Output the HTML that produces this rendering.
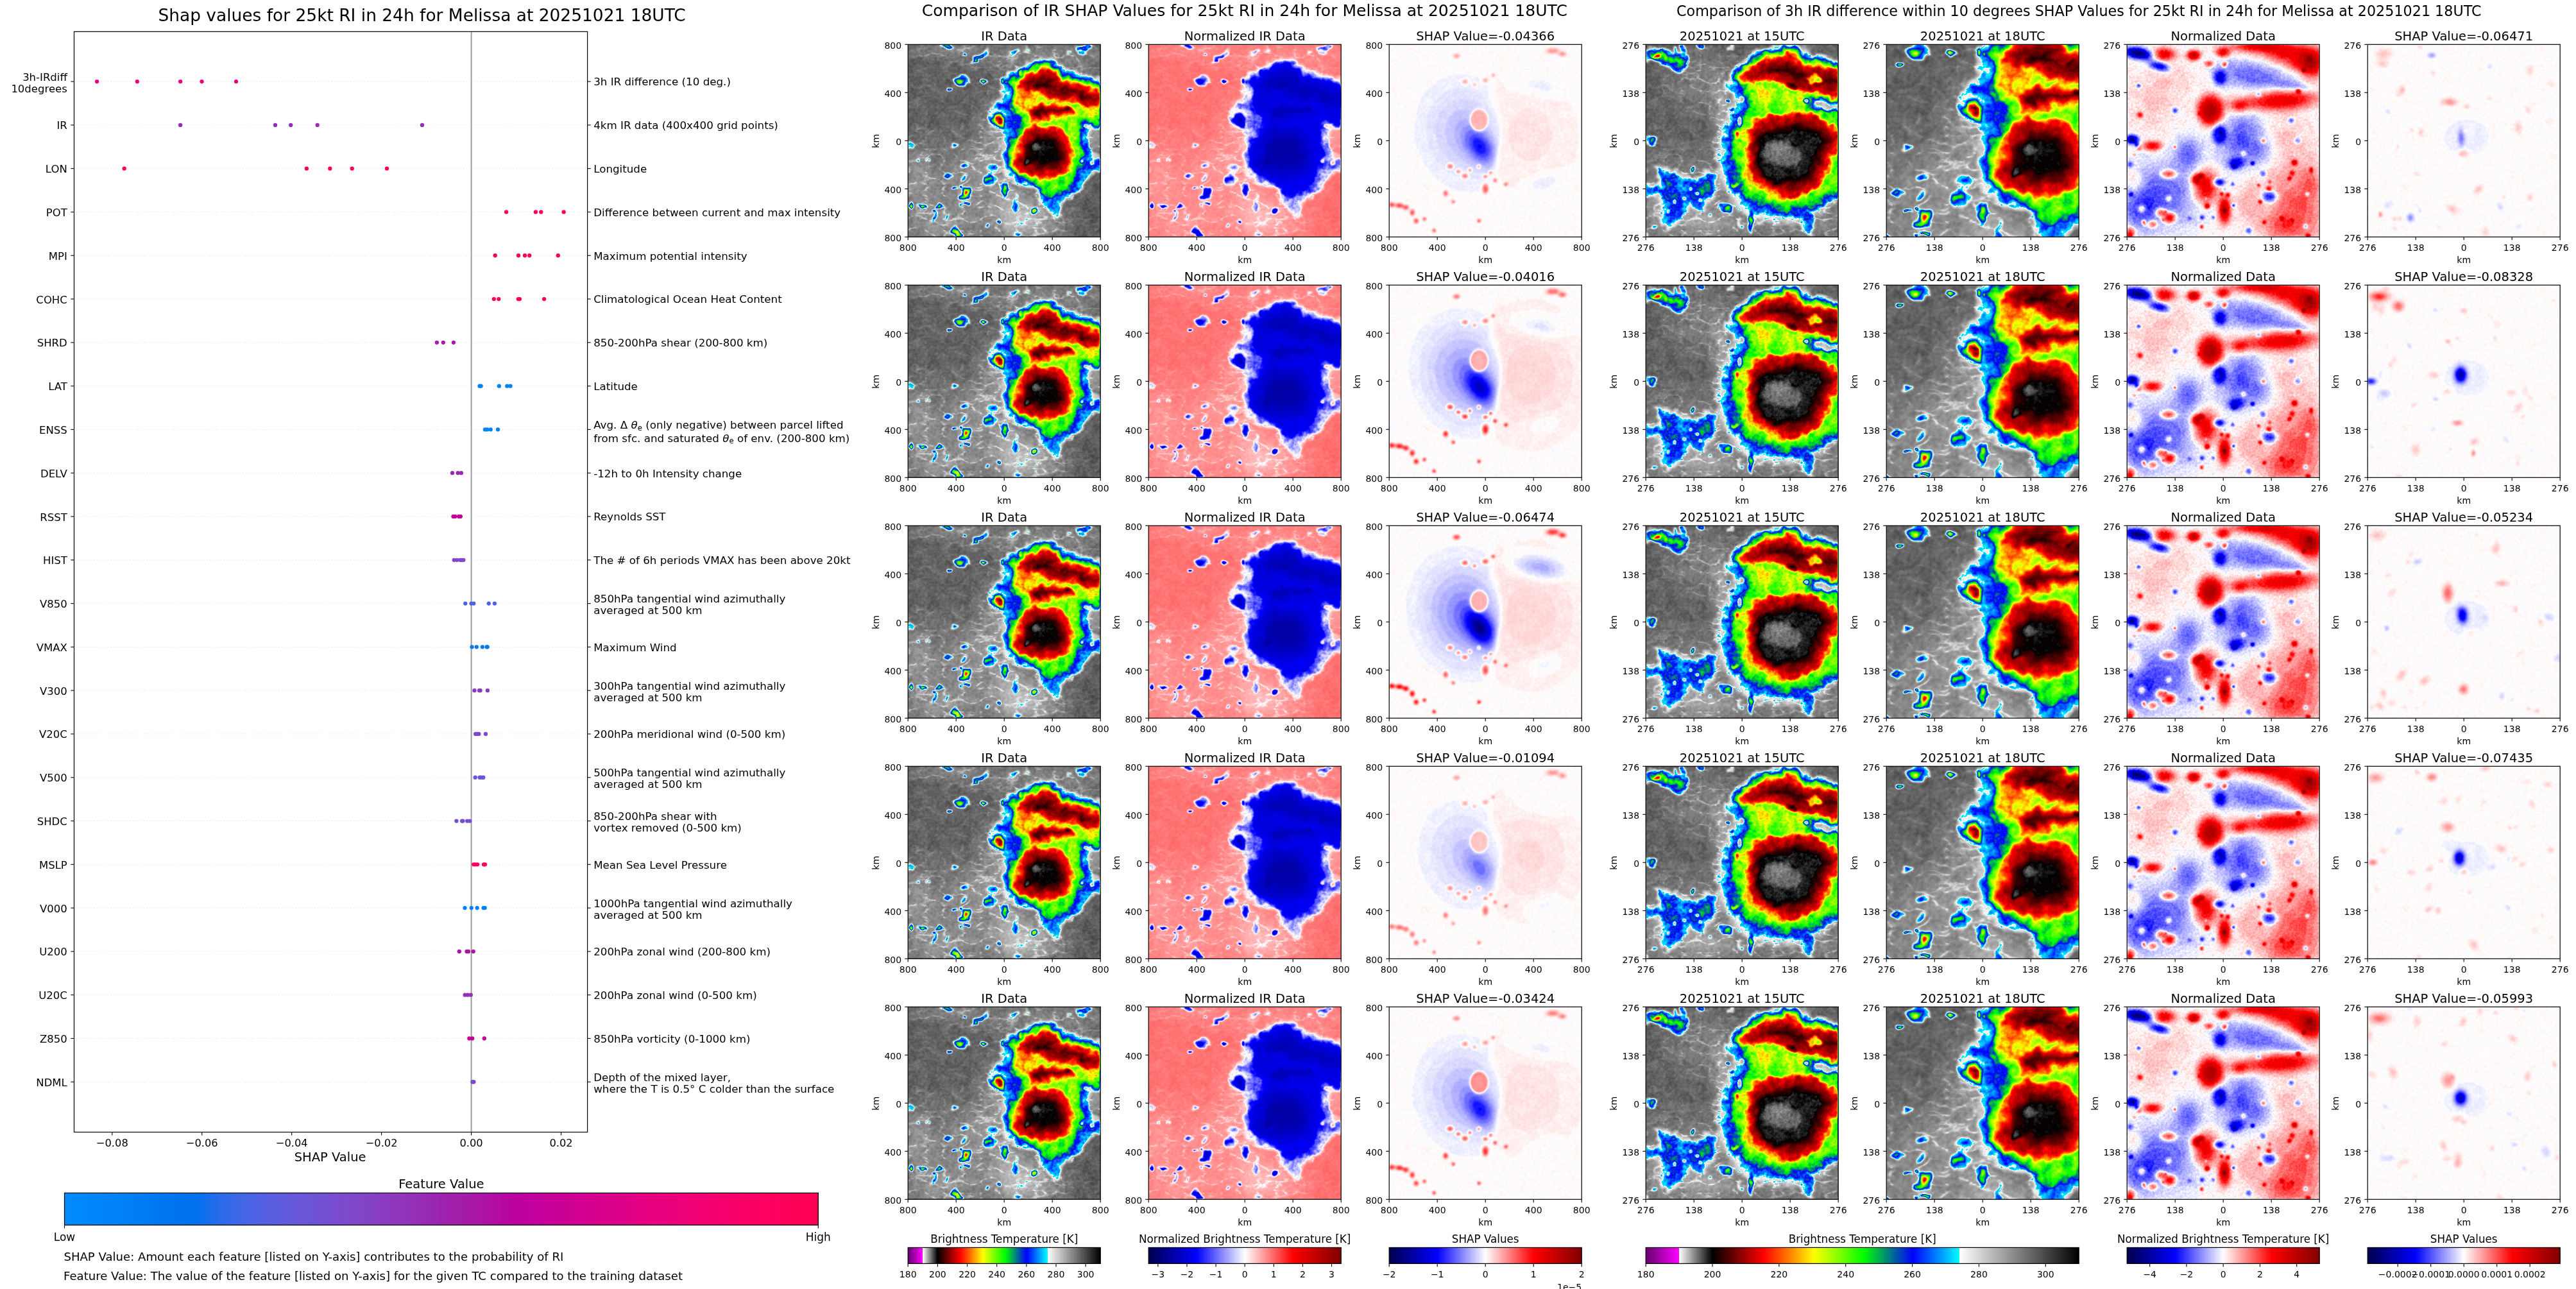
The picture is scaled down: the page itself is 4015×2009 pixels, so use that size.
<!DOCTYPE html>
<html><head><meta charset="utf-8"><title>SHAP RI Melissa</title><style>html,body{margin:0;padding:0;background:#fff;overflow:hidden}svg{display:block}</style></head><body><svg xmlns="http://www.w3.org/2000/svg" width="4015" height="2009" viewBox="0 0 4015 2009" font-family="DejaVu Sans, Liberation Sans, sans-serif" fill="#000" style="will-change:transform">
<defs>
<linearGradient id="irg" x1="0" x2="1" y1="0" y2="0"><stop offset="0.0" stop-color="rgb(100, 0, 110)"/><stop offset="0.0766" stop-color="rgb(255, 0, 255)"/><stop offset="0.0767" stop-color="rgb(255, 255, 255)"/><stop offset="0.1538" stop-color="rgb(0, 0, 0)"/><stop offset="0.272" stop-color="rgb(255, 0, 0)"/><stop offset="0.332" stop-color="rgb(255, 128, 0)"/><stop offset="0.389" stop-color="rgb(255, 255, 0)"/><stop offset="0.504" stop-color="rgb(0, 255, 0)"/><stop offset="0.617" stop-color="rgb(0, 0, 255)"/><stop offset="0.7245" stop-color="rgb(0, 255, 255)"/><stop offset="0.7246" stop-color="rgb(255, 255, 255)"/><stop offset="1.0" stop-color="rgb(0, 0, 0)"/></linearGradient>
<linearGradient id="seis" x1="0" x2="1" y1="0" y2="0"><stop offset="0.000" stop-color="#00004c"/><stop offset="0.250" stop-color="#0000ff"/><stop offset="0.500" stop-color="#ffffff"/><stop offset="0.750" stop-color="#ff0000"/><stop offset="1.000" stop-color="#800000"/></linearGradient>
<clipPath id="c300"><rect width="300" height="300"/></clipPath>
<filter id="fIR" filterUnits="userSpaceOnUse" x="0" y="0" width="300" height="300" color-interpolation-filters="sRGB"><feGaussianBlur in="SourceGraphic" stdDeviation="0.8" result="b"/><feTurbulence type="fractalNoise" baseFrequency="0.22" numOctaves="2" seed="2" result="n"/><feColorMatrix in="n" type="matrix" values="1 0 0 0 0 1 0 0 0 0 1 0 0 0 0 0 0 0 0 1" result="n1"/><feTurbulence type="fractalNoise" baseFrequency="0.06" numOctaves="3" seed="7" result="m"/><feColorMatrix in="m" type="matrix" values="1 0 0 0 0 1 0 0 0 0 1 0 0 0 0 0 0 0 0 1" result="m1"/><feComponentTransfer in="b" result="M"><feFuncR type="table" tableValues="0.20 0.20 0.21 0.21 0.22 0.22 0.22 0.23 0.23 0.24 0.24 0.24 0.25 0.28 0.37 0.46 0.55 0.63 0.72 0.80 0.84 0.88 0.92 0.96 1.00 1.00 1.00 1.00 1.00 1.00 1.00 1.00 1.00 1.00 1.00 1.00 1.00 1.00 1.00 1.00 1.00 1.00 1.00 1.00 1.00 1.00 0.92 0.78 0.65 0.52 0.50 0.49 0.49 0.49 0.48 0.48 0.48 0.47 0.47 0.46 0.46 0.46 0.45 0.45"/><feFuncG type="table" tableValues="0.20 0.20 0.21 0.21 0.22 0.22 0.22 0.23 0.23 0.24 0.24 0.24 0.25 0.28 0.37 0.46 0.55 0.63 0.72 0.80 0.84 0.88 0.92 0.96 1.00 1.00 1.00 1.00 1.00 1.00 1.00 1.00 1.00 1.00 1.00 1.00 1.00 1.00 1.00 1.00 1.00 1.00 1.00 1.00 1.00 1.00 0.92 0.78 0.65 0.52 0.50 0.49 0.49 0.49 0.48 0.48 0.48 0.47 0.47 0.46 0.46 0.46 0.45 0.45"/><feFuncB type="table" tableValues="0.20 0.20 0.21 0.21 0.22 0.22 0.22 0.23 0.23 0.24 0.24 0.24 0.25 0.28 0.37 0.46 0.55 0.63 0.72 0.80 0.84 0.88 0.92 0.96 1.00 1.00 1.00 1.00 1.00 1.00 1.00 1.00 1.00 1.00 1.00 1.00 1.00 1.00 1.00 1.00 1.00 1.00 1.00 1.00 1.00 1.00 0.92 0.78 0.65 0.52 0.50 0.49 0.49 0.49 0.48 0.48 0.48 0.47 0.47 0.46 0.46 0.46 0.45 0.45"/></feComponentTransfer><feComposite in="n1" in2="M" operator="arithmetic" k1="0.1" k2="0" k3="-0.05" k4="0.5" result="nm"/><feComposite in="m1" in2="M" operator="arithmetic" k1="0.1" k2="0" k3="-0.05" k4="0.5" result="mm"/><feComposite in="b" in2="nm" operator="arithmetic" k1="0" k2="1" k3="1" k4="-0.5" result="c"/><feComposite in="c" in2="mm" operator="arithmetic" k1="0" k2="1" k3="1" k4="-0.5" result="c2"/><feTurbulence type="turbulence" baseFrequency="0.035 0.055" numOctaves="3" seed="11" result="w"/><feColorMatrix in="w" type="matrix" values="1 0 0 0 0 1 0 0 0 0 1 0 0 0 0 0 0 0 0 1" result="w1"/><feComponentTransfer in="w1" result="R"><feFuncR type="table" tableValues="0.00 0.25 0.65 0.90 1.00 1.00 1.00 1.00 1.00 1.00 1.00 1.00 1.00 1.00 1.00 1.00"/><feFuncG type="table" tableValues="0.00 0.25 0.65 0.90 1.00 1.00 1.00 1.00 1.00 1.00 1.00 1.00 1.00 1.00 1.00 1.00"/><feFuncB type="table" tableValues="0.00 0.25 0.65 0.90 1.00 1.00 1.00 1.00 1.00 1.00 1.00 1.00 1.00 1.00 1.00 1.00"/></feComponentTransfer><feComponentTransfer in="b" result="MB"><feFuncR type="table" tableValues="0.00 0.00 0.00 0.00 0.00 0.00 0.00 0.00 0.00 0.00 0.00 0.00 0.00 0.00 0.00 0.00 0.00 0.00 0.00 0.00 0.00 0.00 0.00 0.00 0.00 0.00 0.00 0.00 0.00 0.00 0.00 0.00 0.00 0.00 0.00 0.00 0.00 0.00 0.00 0.00 0.00 0.00 0.00 0.00 0.00 0.00 0.00 0.44 1.00 0.98 0.96 0.94 0.93 0.91 0.76 0.44 0.20 0.19 0.18 0.18 0.17 0.16 0.16 0.15"/><feFuncG type="table" tableValues="0.00 0.00 0.00 0.00 0.00 0.00 0.00 0.00 0.00 0.00 0.00 0.00 0.00 0.00 0.00 0.00 0.00 0.00 0.00 0.00 0.00 0.00 0.00 0.00 0.00 0.00 0.00 0.00 0.00 0.00 0.00 0.00 0.00 0.00 0.00 0.00 0.00 0.00 0.00 0.00 0.00 0.00 0.00 0.00 0.00 0.00 0.00 0.44 1.00 0.98 0.96 0.94 0.93 0.91 0.76 0.44 0.20 0.19 0.18 0.18 0.17 0.16 0.16 0.15"/><feFuncB type="table" tableValues="0.00 0.00 0.00 0.00 0.00 0.00 0.00 0.00 0.00 0.00 0.00 0.00 0.00 0.00 0.00 0.00 0.00 0.00 0.00 0.00 0.00 0.00 0.00 0.00 0.00 0.00 0.00 0.00 0.00 0.00 0.00 0.00 0.00 0.00 0.00 0.00 0.00 0.00 0.00 0.00 0.00 0.00 0.00 0.00 0.00 0.00 0.00 0.44 1.00 0.98 0.96 0.94 0.93 0.91 0.76 0.44 0.20 0.19 0.18 0.18 0.17 0.16 0.16 0.15"/></feComponentTransfer><feComposite in="R" in2="MB" operator="arithmetic" k1="1" k2="0" k3="-1" k4="1" result="RM"/><feComposite in="c2" in2="RM" operator="arithmetic" k1="0" k2="1" k3="0.1" k4="-0.1" result="c3"/><feComponentTransfer in="c3"><feFuncR type="table" tableValues="0.392 0.423 0.454 0.485 0.516 0.547 0.578 0.609 0.64 0.673 0.704 0.735 0.766 0.797 0.828 0.859 0.89 0.921 0.952 0.983 0.978 0.927 0.877 0.826 0.775 0.725 0.671 0.62 0.57 0.519 0.468 0.417 0.367 0.316 0.265 0.215 0.164 0.113 0.063 0.012 0.025 0.058 0.091 0.126 0.159 0.193 0.226 0.259 0.292 0.325 0.358 0.391 0.424 0.457 0.49 0.523 0.556 0.589 0.622 0.655 0.69 0.723 0.757 0.79 0.823 0.856 0.889 0.922 0.955 0.988 1 1 1 1 1 1 1 1 1 1 1 1 1 1 1 1 1 1 1 1 1 1 1 1 1 1 1 1 1 1 0.972 0.938 0.904 0.87 0.836 0.802 0.768 0.734 0.7 0.667 0.633 0.596 0.562 0.528 0.495 0.461 0.427 0.393 0.359 0.325 0.291 0.257 0.223 0.189 0.155 0.121 0.087 0.053 0.017 0 0 0 0 0 0 0 0 0 0 0 0 0 0 0 0 0 0 0 0 0 0 0 0 0 0 0 0 0 0 0 0 0 0 0 0 0 0 0 0 0 0 0 0 0 0 0 0 0 0 0 0 0 0 0 0 0.997 0.982 0.968 0.954 0.94 0.926 0.912 0.897 0.883 0.869 0.855 0.84 0.826 0.811 0.797 0.783 0.769 0.755 0.74 0.726 0.712 0.698 0.684 0.669 0.655 0.641 0.627 0.613 0.598 0.583 0.569 0.555 0.541 0.527 0.513 0.498 0.484 0.47 0.456 0.442 0.427 0.413 0.399 0.385 0.371 0.356 0.341 0.327 0.313 0.299 0.285 0.27 0.256 0.242 0.228 0.214 0.2 0.185 0.171 0.157 0.143 0.129 0.113 0.099 0.085 0.071 0.057 0.043 0.028 0.014 0"/><feFuncG type="table" tableValues="0 0 0 0 0 0 0 0 0 0 0 0 0 0 0 0 0 0 0 0 0.978 0.927 0.877 0.826 0.775 0.725 0.671 0.62 0.57 0.519 0.468 0.417 0.367 0.316 0.265 0.215 0.164 0.113 0.063 0.012 0 0 0 0 0 0 0 0 0 0 0 0 0 0 0 0 0 0 0 0 0 0 0 0 0 0 0 0 0 0 0.021 0.053 0.086 0.119 0.152 0.184 0.217 0.252 0.284 0.317 0.35 0.382 0.415 0.448 0.48 0.514 0.548 0.582 0.616 0.65 0.684 0.718 0.753 0.787 0.823 0.857 0.891 0.925 0.96 0.994 1 1 1 1 1 1 1 1 1 1 1 1 1 1 1 1 1 1 1 1 1 1 1 1 1 1 1 1 1 0.982 0.948 0.913 0.879 0.844 0.81 0.775 0.74 0.706 0.671 0.637 0.602 0.568 0.533 0.498 0.464 0.427 0.392 0.358 0.323 0.289 0.254 0.22 0.185 0.15 0.116 0.081 0.047 0.012 0.024 0.06 0.096 0.133 0.171 0.208 0.244 0.28 0.317 0.353 0.389 0.426 0.462 0.498 0.535 0.571 0.607 0.644 0.68 0.716 0.753 0.791 0.828 0.864 0.9 0.937 0.973 0.997 0.982 0.968 0.954 0.94 0.926 0.912 0.897 0.883 0.869 0.855 0.84 0.826 0.811 0.797 0.783 0.769 0.755 0.74 0.726 0.712 0.698 0.684 0.669 0.655 0.641 0.627 0.613 0.598 0.583 0.569 0.555 0.541 0.527 0.513 0.498 0.484 0.47 0.456 0.442 0.427 0.413 0.399 0.385 0.371 0.356 0.341 0.327 0.313 0.299 0.285 0.27 0.256 0.242 0.228 0.214 0.2 0.185 0.171 0.157 0.143 0.129 0.113 0.099 0.085 0.071 0.057 0.043 0.028 0.014 0"/><feFuncB type="table" tableValues="0.431 0.46 0.489 0.518 0.547 0.576 0.605 0.634 0.663 0.694 0.723 0.752 0.781 0.81 0.839 0.868 0.897 0.926 0.955 0.984 0.978 0.927 0.877 0.826 0.775 0.725 0.671 0.62 0.57 0.519 0.468 0.417 0.367 0.316 0.265 0.215 0.164 0.113 0.063 0.012 0 0 0 0 0 0 0 0 0 0 0 0 0 0 0 0 0 0 0 0 0 0 0 0 0 0 0 0 0 0 0 0 0 0 0 0 0 0 0 0 0 0 0 0 0 0 0 0 0 0 0 0 0 0 0 0 0 0 0 0 0 0 0 0 0 0 0 0 0 0 0 0 0 0 0 0 0 0 0 0 0 0 0 0 0 0 0 0 0 0.018 0.052 0.087 0.121 0.156 0.19 0.225 0.26 0.294 0.329 0.363 0.398 0.432 0.467 0.502 0.536 0.573 0.608 0.642 0.677 0.711 0.746 0.78 0.815 0.85 0.884 0.919 0.953 0.988 1 1 1 1 1 1 1 1 1 1 1 1 1 1 1 1 1 1 1 1 1 1 1 1 1 1 1 0.997 0.982 0.968 0.954 0.94 0.926 0.912 0.897 0.883 0.869 0.855 0.84 0.826 0.811 0.797 0.783 0.769 0.755 0.74 0.726 0.712 0.698 0.684 0.669 0.655 0.641 0.627 0.613 0.598 0.583 0.569 0.555 0.541 0.527 0.513 0.498 0.484 0.47 0.456 0.442 0.427 0.413 0.399 0.385 0.371 0.356 0.341 0.327 0.313 0.299 0.285 0.27 0.256 0.242 0.228 0.214 0.2 0.185 0.171 0.157 0.143 0.129 0.113 0.099 0.085 0.071 0.057 0.043 0.028 0.014 0"/></feComponentTransfer></filter>
<filter id="fNIR" filterUnits="userSpaceOnUse" x="0" y="0" width="300" height="300" color-interpolation-filters="sRGB"><feGaussianBlur in="SourceGraphic" stdDeviation="0.8" result="b"/><feTurbulence type="fractalNoise" baseFrequency="0.22" numOctaves="2" seed="2" result="n"/><feColorMatrix in="n" type="matrix" values="1 0 0 0 0 1 0 0 0 0 1 0 0 0 0 0 0 0 0 1" result="n1"/><feTurbulence type="fractalNoise" baseFrequency="0.06" numOctaves="3" seed="7" result="m"/><feColorMatrix in="m" type="matrix" values="1 0 0 0 0 1 0 0 0 0 1 0 0 0 0 0 0 0 0 1" result="m1"/><feComponentTransfer in="b" result="M"><feFuncR type="table" tableValues="0.20 0.20 0.21 0.21 0.22 0.22 0.22 0.23 0.23 0.24 0.24 0.24 0.25 0.28 0.37 0.46 0.55 0.63 0.72 0.80 0.84 0.88 0.92 0.96 1.00 1.00 1.00 1.00 1.00 1.00 1.00 1.00 1.00 1.00 1.00 1.00 1.00 1.00 1.00 1.00 1.00 1.00 1.00 1.00 1.00 1.00 0.92 0.78 0.65 0.52 0.50 0.49 0.49 0.49 0.48 0.48 0.48 0.47 0.47 0.46 0.46 0.46 0.45 0.45"/><feFuncG type="table" tableValues="0.20 0.20 0.21 0.21 0.22 0.22 0.22 0.23 0.23 0.24 0.24 0.24 0.25 0.28 0.37 0.46 0.55 0.63 0.72 0.80 0.84 0.88 0.92 0.96 1.00 1.00 1.00 1.00 1.00 1.00 1.00 1.00 1.00 1.00 1.00 1.00 1.00 1.00 1.00 1.00 1.00 1.00 1.00 1.00 1.00 1.00 0.92 0.78 0.65 0.52 0.50 0.49 0.49 0.49 0.48 0.48 0.48 0.47 0.47 0.46 0.46 0.46 0.45 0.45"/><feFuncB type="table" tableValues="0.20 0.20 0.21 0.21 0.22 0.22 0.22 0.23 0.23 0.24 0.24 0.24 0.25 0.28 0.37 0.46 0.55 0.63 0.72 0.80 0.84 0.88 0.92 0.96 1.00 1.00 1.00 1.00 1.00 1.00 1.00 1.00 1.00 1.00 1.00 1.00 1.00 1.00 1.00 1.00 1.00 1.00 1.00 1.00 1.00 1.00 0.92 0.78 0.65 0.52 0.50 0.49 0.49 0.49 0.48 0.48 0.48 0.47 0.47 0.46 0.46 0.46 0.45 0.45"/></feComponentTransfer><feComposite in="n1" in2="M" operator="arithmetic" k1="0.1" k2="0" k3="-0.05" k4="0.5" result="nm"/><feComposite in="m1" in2="M" operator="arithmetic" k1="0.1" k2="0" k3="-0.05" k4="0.5" result="mm"/><feComposite in="b" in2="nm" operator="arithmetic" k1="0" k2="1" k3="1" k4="-0.5" result="c"/><feComposite in="c" in2="mm" operator="arithmetic" k1="0" k2="1" k3="1" k4="-0.5" result="c2"/><feTurbulence type="turbulence" baseFrequency="0.035 0.055" numOctaves="3" seed="11" result="w"/><feColorMatrix in="w" type="matrix" values="1 0 0 0 0 1 0 0 0 0 1 0 0 0 0 0 0 0 0 1" result="w1"/><feComponentTransfer in="w1" result="R"><feFuncR type="table" tableValues="0.00 0.25 0.65 0.90 1.00 1.00 1.00 1.00 1.00 1.00 1.00 1.00 1.00 1.00 1.00 1.00"/><feFuncG type="table" tableValues="0.00 0.25 0.65 0.90 1.00 1.00 1.00 1.00 1.00 1.00 1.00 1.00 1.00 1.00 1.00 1.00"/><feFuncB type="table" tableValues="0.00 0.25 0.65 0.90 1.00 1.00 1.00 1.00 1.00 1.00 1.00 1.00 1.00 1.00 1.00 1.00"/></feComponentTransfer><feComponentTransfer in="b" result="MB"><feFuncR type="table" tableValues="0.00 0.00 0.00 0.00 0.00 0.00 0.00 0.00 0.00 0.00 0.00 0.00 0.00 0.00 0.00 0.00 0.00 0.00 0.00 0.00 0.00 0.00 0.00 0.00 0.00 0.00 0.00 0.00 0.00 0.00 0.00 0.00 0.00 0.00 0.00 0.00 0.00 0.00 0.00 0.00 0.00 0.00 0.00 0.00 0.00 0.00 0.00 0.44 1.00 0.98 0.96 0.94 0.93 0.91 0.76 0.44 0.20 0.19 0.18 0.18 0.17 0.16 0.16 0.15"/><feFuncG type="table" tableValues="0.00 0.00 0.00 0.00 0.00 0.00 0.00 0.00 0.00 0.00 0.00 0.00 0.00 0.00 0.00 0.00 0.00 0.00 0.00 0.00 0.00 0.00 0.00 0.00 0.00 0.00 0.00 0.00 0.00 0.00 0.00 0.00 0.00 0.00 0.00 0.00 0.00 0.00 0.00 0.00 0.00 0.00 0.00 0.00 0.00 0.00 0.00 0.44 1.00 0.98 0.96 0.94 0.93 0.91 0.76 0.44 0.20 0.19 0.18 0.18 0.17 0.16 0.16 0.15"/><feFuncB type="table" tableValues="0.00 0.00 0.00 0.00 0.00 0.00 0.00 0.00 0.00 0.00 0.00 0.00 0.00 0.00 0.00 0.00 0.00 0.00 0.00 0.00 0.00 0.00 0.00 0.00 0.00 0.00 0.00 0.00 0.00 0.00 0.00 0.00 0.00 0.00 0.00 0.00 0.00 0.00 0.00 0.00 0.00 0.00 0.00 0.00 0.00 0.00 0.00 0.44 1.00 0.98 0.96 0.94 0.93 0.91 0.76 0.44 0.20 0.19 0.18 0.18 0.17 0.16 0.16 0.15"/></feComponentTransfer><feComposite in="R" in2="MB" operator="arithmetic" k1="1" k2="0" k3="-1" k4="1" result="RM"/><feComposite in="c2" in2="RM" operator="arithmetic" k1="0" k2="1" k3="0.1" k4="-0.1" result="c3"/><feComponentTransfer in="c3"><feFuncR type="table" tableValues="0 0 0 0 0 0 0 0 0 0 0 0 0 0 0 0 0 0 0 0 0 0 0 0 0 0 0 0 0 0 0 0 0 0 0 0 0 0 0 0 0 0 0 0 0 0 0 0 0 0 0 0 0 0 0 0 0 0 0 0 0 0 0 0 0 0 0 0 0 0 0 0 0 0 0 0 0 0 0 0 0 0 0 0 0 0 0 0 0 0 0 0 0 0 0 0 0 0 0 0 0 0 0 0 0 0 0 0 0 0 0 0 0 0 0 0 0 0 0 0 0 0 0 0 0 0 0 0 0 0 0 0 0 0 0 0 0.009 0.019 0.03 0.04 0.051 0.061 0.072 0.084 0.102 0.12 0.139 0.157 0.175 0.193 0.212 0.23 0.248 0.267 0.285 0.303 0.322 0.34 0.358 0.384 0.41 0.436 0.462 0.488 0.514 0.54 0.567 0.593 0.619 0.645 0.671 0.697 0.723 0.75 0.773 0.793 0.814 0.835 0.856 0.877 0.898 0.919 0.94 0.961 0.982 1 1 1 1 1 1 1 1 1 1 1 1 1 1 1 1 1 1 1 1 1 1 1 1 1 1 1 1 1 1 1 1 1 1 1 1 1 1 1 1 1 1 1 1 1 1 1 1 1 1 1 1 1 1 1 1 1 1 1 1 1 1 1 1 1 1 1 1 1 1 1"/><feFuncG type="table" tableValues="0 0 0 0 0 0 0 0 0 0 0 0 0 0 0 0 0 0 0 0 0 0 0 0 0 0 0 0 0 0 0 0 0 0 0 0 0 0 0 0 0 0 0 0 0 0 0 0 0 0 0 0 0 0 0 0 0 0 0 0 0 0 0 0 0 0 0 0 0 0 0 0 0 0 0 0 0 0 0 0 0 0 0 0 0 0 0 0 0 0 0 0 0 0 0 0 0 0 0 0 0 0 0 0 0 0 0 0 0 0 0 0 0 0 0 0 0 0 0 0 0 0 0 0 0 0 0 0 0 0 0 0 0 0 0 0 0.009 0.019 0.03 0.04 0.051 0.061 0.072 0.084 0.102 0.12 0.139 0.157 0.175 0.193 0.212 0.23 0.248 0.267 0.285 0.303 0.322 0.34 0.358 0.384 0.41 0.436 0.462 0.488 0.514 0.54 0.567 0.593 0.619 0.645 0.671 0.697 0.723 0.75 0.773 0.793 0.814 0.835 0.856 0.877 0.898 0.919 0.94 0.961 0.982 0.998 0.981 0.964 0.947 0.929 0.912 0.895 0.878 0.861 0.844 0.827 0.81 0.793 0.775 0.759 0.748 0.736 0.725 0.714 0.703 0.692 0.68 0.669 0.658 0.647 0.636 0.624 0.613 0.602 0.591 0.58 0.568 0.558 0.548 0.538 0.528 0.518 0.509 0.499 0.489 0.479 0.469 0.46 0.45 0.441 0.432 0.422 0.413 0.404 0.395 0.385 0.376 0.367 0.358 0.348 0.339 0.33 0.32 0.311 0.302 0.293 0.283 0.274 0.265 0.256 0.246 0.237 0.228 0.219 0.209 0.2"/><feFuncB type="table" tableValues="0.496 0.5 0.504 0.508 0.512 0.517 0.521 0.525 0.529 0.533 0.537 0.541 0.545 0.55 0.554 0.558 0.562 0.566 0.57 0.574 0.578 0.583 0.587 0.592 0.596 0.6 0.605 0.609 0.614 0.618 0.623 0.627 0.632 0.636 0.641 0.645 0.649 0.654 0.658 0.663 0.668 0.674 0.68 0.685 0.691 0.697 0.702 0.708 0.714 0.719 0.725 0.731 0.736 0.742 0.748 0.753 0.759 0.765 0.77 0.776 0.782 0.787 0.793 0.799 0.804 0.81 0.816 0.821 0.827 0.832 0.834 0.836 0.838 0.84 0.841 0.843 0.845 0.847 0.849 0.851 0.852 0.854 0.856 0.858 0.86 0.862 0.863 0.865 0.867 0.869 0.871 0.873 0.874 0.876 0.878 0.88 0.882 0.884 0.885 0.887 0.889 0.891 0.893 0.895 0.897 0.899 0.901 0.903 0.905 0.907 0.909 0.911 0.913 0.915 0.917 0.919 0.921 0.923 0.925 0.927 0.929 0.931 0.933 0.935 0.937 0.939 0.941 0.943 0.948 0.955 0.962 0.97 0.977 0.984 0.992 0.999 1 1 1 1 1 1 1 1 1 1 1 1 1 1 1 1 1 1 1 1 1 1 1 1 1 1 1 1 1 1 1 1 1 1 1 1 1 1 1 1 1 1 1 1 1 1 1 1 1 0.998 0.981 0.964 0.947 0.929 0.912 0.895 0.878 0.861 0.844 0.827 0.81 0.793 0.775 0.759 0.748 0.736 0.725 0.714 0.703 0.692 0.68 0.669 0.658 0.647 0.636 0.624 0.613 0.602 0.591 0.58 0.568 0.558 0.548 0.538 0.528 0.518 0.509 0.499 0.489 0.479 0.469 0.46 0.45 0.441 0.432 0.422 0.413 0.404 0.395 0.385 0.376 0.367 0.358 0.348 0.339 0.33 0.32 0.311 0.302 0.293 0.283 0.274 0.265 0.256 0.246 0.237 0.228 0.219 0.209 0.2"/></feComponentTransfer></filter>
<g id="sIR"><g transform="translate(0.25 0.25) scale(0.5)"><rect x="-4" y="-4" width="608" height="608" fill="#ededed"/><path fill="#e9e9e9" fill-rule="evenodd" d="M0 0l0 599 599 0 0-599z"/><path fill="#e6e6e6" fill-rule="evenodd" d="M0 0l0 599 599 0 0-599z"/><path fill="#e3e3e3" fill-rule="evenodd" d="M0 0l0 599 599 0 0-70-2 1 2 5-6 10-1 6-6 5-12 2-25-15-7-7-5-14 0-6 5-11 6-8 2-11 5-5 7-3 8-1 13 4 11 13 0 7 5 3 0-504z"/><path fill="#e0e0e0" fill-rule="evenodd" d="M120 136l1 7 5 3 11-4 2-3-2-3zM224 114l0 2 11 10 2 0 8-6 4 0 3-2-2-6-14-5-7 1zM180 92l-16 0-10 8-13 6-3 5 6 12 12 9 18 0 6-2 6-8 8-1 0-13zM0 0l0 46 2 0 7-7 3 0 6 4 18-2 11 6 7 0 7-3 5 0 7 4 13 0 11 6 12-1 3 3 0 3 3 4 16-1 9-7 6 0 8 3 4 5 11 3 8 8 15 1 7 6 7 3 11 1 2-3-3-3 0-3 4-1 4 4 10 3 12 9 10 0 8 9 3 6-1 18-6 6-8 4-6 12 0 7 2 3-1 6-7 6-8-4-4 2 2 4 3 0 4 3 0 5-4 6-9 3-9 11 2 7-2 8-8 4-4 4-4 10-9 13-4 3-14 2-17 20-7 0-6-6-7 0-6 3-5 0-6-2-12 1-5-4-10 0-8 5-10 0-23-5-7-3-6 0-14 4-19 16-4 1 0 320 518 0-2-7-7-6-2-4 0-4 3-3 6-1 2-3 0-8-6-6 2-12-7-12 0-12-4-7-10-9 0-5 2-4 8-8 6-3 1 1 6-4 4-11 10-6 10-9 9-4-1-11 2-7 5-5 8-2 13-18 12-8 11-1 0-305-4-2-6 0-6 3-4 0-6-3 12-4 14-1 0-88z"/><path fill="#dddddd" fill-rule="evenodd" d="M120 136l1 7 5 3 11-4 2-3-2-3zM224 114l1 3 9 8 3 0 6-5 7-1 2-2-3-5-14-5-6 1zM181 93l-4-2-9 0-5 2-10 8-11 5-3 3 0 4 4 8 10 9 5 2 20-1 3-2 4-7 8-1 0-14zM10 14l0 4 3 4 11 1 10 10 13 5 3 0 10-5 8 1 10 4 10 1 7 4 24 0 10-5 7 0 7 6 5 2 5-2 7-8 4-2 8 4 17-1 10 5 1 8-14 12 2 2 7-1 14-7 11 0 0-4 3-1 5 2 10 0 7 3 7 11 5 3 9-2 21 1 8 2 17-1 12 9-14 1-6 7-1 7-3 5-9 0-4 3-1 10-4 7 2 8-1 26-13 7-2 4-8 7-10 17 1 7-2 5-11 12-5 13-6 8-3 12-8 7-3 12-14 15-8 6-2 4 0 5-4 6-21 13-2 0-3-3-19-5-5 3-2 9-2 2 0 4-10 2-11 0-11 3-5 0-9-4-8 0-7-8-5-1-7-5-7-2-8-5-2 0-7 8-5 1-7-5-5 1-3-4-8-4-6 0 0 299 471 0 4-6 5-1 7-9-1-15 2-2 3-12-4-6 0-7 3-5 0-6-3-4-2 0-3-3-2-6 2-6 0-9 12-13 19-5 3-3 1-6 3-5 12-7 10-9 4-1 2-2 0-12 3-7 3-3 7-2 14-18 11-8 13-2 0-304-10-1-8 4-9-4-12-2-6-4-12 2-8-4-4-5 0-4-4-3 4-3 11 0 10-7 8 4 5 0 6-4 12-1 8-7 9 0 0-31-4 0-8-7-12-4-1-9-4-5-19 0-6 4-15 2-11-5-11 8-4 0-5-4-13-5-150 0 1 4-3 2-5 0-9-6-11 0-6 2-5-2-266 0-1 4-3 0z"/><path fill="#dbdbdb" fill-rule="evenodd" d="M131 320l3 3 7 1 16-8 3-3 0-2-16-5-7 0-2 8zM0 301l0 22 11 2 7-1 2-3 0-7-4-8-12-6zM120 137l1 6 6 3 8-3 3-3 0-3-16-2zM224 114l10 11 3 0 4-4 8-2 2-2-3-5-13-5-5 1zM181 93l-5-2-11 1-10 8-13 6-3 6 5 10 11 9 22 0 5-4 0-2 4-4 7-1 0-13zM570 0l-19 0-5 4-13 2-12-1-2 4 3 12 6 3-2 4-5 0-7-5-3 0-1-4-8 0-5-4-4 5-12 0-6-8-11-5-4 1-6 7-7 3-9-1-8-8-3 0-8 5-10 3-12 0-8-3-8 1-8-6-1-7-2-2-2 0-2 3-2 9-6 6-1 3-12-8-6 0-15 7-9-1-5-3-5 0-14 10-20-4 16 19 14 4 9 12 11 2 16-3 5 2 8 8-15 0-3 9-4 5-17 0-6 6-2 10-2 3-13 2-1 10-4 8 2 8-1 26 3 8-5 6-7 2-8 7-8 1-4 3-1 3 4 7-4 6 0 3-8 17-1 13-3 10 3 18-3 7-3 3-12 1-7 5-1 9 2 4 0 14-2 4-7 5-11-1-9 10-2 10-3 3-14 3-10 13-13 1-11 4-18 15-10 0-4 4-8-2-10 6-6-2-4-4-7-12-2-9-9-6-29-12-12 5-9-2-6 1-1 7-4 8 0 232 2 0 15 12 13 0 1 6 160 0 2-5 8-1 9-5 9 4 5 0 4-2 27 1 10 8 180 0 6-9 11-4 7-5 3-9 1-23 4-11-1-7 3-16 3-7 0-7 12-13 19-5 3-3 1-7 2-3 11-6 9-9 8-4 0-8 3-10 5-5 6-2 14-18 11-8 13-1 0-60-5 0-8-4 3-1 6-6 4 0 0-232-7-2-11 5-11-5-9-1-6-4-15 1-9-6-4-8-17 1-12-7-7-1-4-4 16-6 5 8 4 0 6-7 18-8 7-7 1-7 2-3 14-7-1-3-4-1-1-2 6-2 4-4 9-3 1-7zM396 452l3 5-3 6zM392 451l2-1 2 2-2 1zM45 9l0 3 9 2 18 13 7 0 5-4 6-2 9 12 6 3 9 0 7-5 17 1 8 6 3 0 14-15 7 1 3 4 0 5 2 2 6-1 4-4 7-1 10-5 8 1 6 5-2 2-7-1-7 6 1 12-14 14 7 0 16-8 9 1 0-8 2-2 9-1 9-6 9-3 4-6 2-8 0-9-4-5-7 2-4 8-6 7-3 0-12-15-11-1-7-9-32 0-6 7-5 0-7-5-6 0-7 3-3-2-1-3-38 0-11 7-9 0-4-2-22 0z"/><path fill="#d8d8d8" fill-rule="evenodd" d="M6 489l-6 11 0 7 4 1 5 6 3 0 6-11 0-4-6-10zM53 359l0 3 8 0 5 3 4-2-1-6-2-2-11 0zM132 321l8 3 18-9 1-4-15-5-6 0-3 4 0 5zM0 301l0 22 7 0 5 2 5-1 3-3 0-7-3-6-11-7zM120 137l0 3 4 5 6 0 8-5 0-3-16-2zM225 113l0 3 10 9 10-6 5-1 0-4-2-2-14-5-4 1zM179 92l-13 0-9 7-16 8-1 7 6 10 10 7 21 0 4-3 1-4 3-3 8-1 0-12zM599 96l-9-1-9 5-9-5-9-1-10-5-11 2-9-4-3-3-1-5-2-2-14 1-7-2-8-5-7-1-11-11-6-2-9-10 4-3-12-13-15 0-23 6-7 0-11-6-8 1-5-3-9 0-7 4-1 3 13 2-3 1 1 4-2 7-7-2-7 1-2 2-1 10-5 5-7 2-16-1-2 7-4 6-19 1-6 8-1 8-5 4-9 0-2 3 0 9-3 5 0 6 2 4-2 19 4 14-6 7-7 2-9 8-7 0-3 2 0 4 5 5-7 9-9 25 3 14 7 11-1 13-2 5 2 16-2 5-13 10-3 16-5 7-15 7-14 18-8 2-9 6-7 7-2 6-3 3-10 3-10 9-9 3-1 11-4 5-6 3-14-2-11 7 0 3 6 5 6 2 3 4-5 6-9 4-14 0-4-4-7-12-7-2-5-4 0-18-6-19-5-7-8-1-4-3-1-8-4-1-6 3-11-2-3 5 0 5-10 0-3 9-3 3-4 0-3 2 2 12-3 5 0 50 4 6 2 15 2 5 10 10 4 11 6 4-4 2-3 4 10 1 9 9-10 8 0 9-14 10-3 4 0 4 3 5 1 9 4 10 4 4 8 4 6 6 7 14 12 0 4-2 4 2 57 0 10-7 8 1 4 6 29 0 0-4-7-11 1-10 5-3 7 0 12-14 14-8 11-1 6-7 4 8 4 4 12 6-4 7 3 5 5 0 3-2 9 2 13 15 7 4 9 9 150 0 4-9 0-14 3-3 3 0 4 3 8 0 3-3 0-4-6-8-1-4 2-11 9-2 7-6 5-24 2-3 0-9 14-16 17-3 3-3 1-7 3-4 12-6 11-11 4-2 4-18 4-4 7-3 14-18 10-7 14-2 0-58-5 0-7-4-8-1-5-6 1-2 11 0 13-10zM351 448l4-2 7 0 8 4 25 0 5 6-3 11 6 10-1 8 4 10-4 1-3-3-2-8-17-16-3-8-3-3-13-7zM173 25l0 8 2 2 8-3 0-2zM492 25l4 4 12-4 3-4-15-4zM349 17l-5-4-5 0-14 7-8-1-2 1-1 7 4 8 3 2 6 0 7-4 9-9 5-1zM252 11l-2-2-5 0-11 16-8 6-22 2-4 5 2 8-2 5-12 12 11-2 11-6 8 1 2-2-2-6 2-2 12-2 5-4 10-4 3-3 3-8zM371 1l-3 0-2 2-2 10-6 6 1 4 4 3 10-1 8-6 0-3-9-8zM573 4l-4-4-17 0-3 3-8 2-20 1 0 13 3 3 6 0-3 7 11 2 3 4 4 0 15-7-2-3-6-3 5-1 7-5 8-3 2-3zM96 2l1 4 14 2 1 2 14 9 13-1 5-4-5 2-4-1 5-2 4-4 0-2-8-2-3-3 0-2-36 0z"/><path fill="#d5d5d5" fill-rule="evenodd" d="M250 557l-4 0-6 8 1 5 6 1 6-5 1-3zM75 516l1 5 3 3 4 0-1 7-9 8-7-1-3 6-9 10 1 16 4 3 7 2 9 13 14 2 12-6 14-1 20-12 1 1-8 12 1 6 9 1 4 2 3 6 29-1-1-4-13-14-6-16-3-3-4-1 5-5-1-11-4-4-6 0-7 4-5 0-5-4 1-4 5-5 0-5-2-2-8 8-4-3-5 0-7 6-3 0-7-4-3-15-3 0-2 2-3-4-5 0zM22 500l0 2 8 0 9 9 6 1 8-4 3 2 4 0 2-2-1-5-5-4-14 1-13-3zM159 493l-2 4 4 8 3 1 3-3 1-4-5-5zM83 508l0 2 3 2 17-1 7-3 1-6-4-4-14-6-1 8zM170 494l1 4 9-1 7 5 5 1 4-8 0-4-19-1zM7 489l-7 11 0 7 5 1 5 6 2 0 6-12-4-11-2-2zM136 447l1 4 12-3 7 5 2-1 0-4-4-5-14 1zM161 439l-2 4 4 5 2 0 3 3 0 4-3 7-7 5-4 5 0 6 2 5 8 4 10 0 6-2 13-1 4-5-1-12 4-9-1-12-4-3-5-1-20 1-7-5zM108 409l2 4 9 4 6 5 4-1 5-6 10-1-1-5-4-4-13-4-6 0-11 6zM26 379l-6 7-9 17 0 5 13 8 0 8-2 4-9 7 0 3 7 8 4 9 8 1 7-3 13-13 3-7 0-18-13-29-3-3-5-1-4-3zM53 359l3 3 6 0 4 3 2 0 2-3-2-6-2-1-9 0zM26 355l0 10 6 1 5-3-1-6-6-3zM132 320l3 3 7 0 14-7 3-3 0-2-16-5-5 0-2 2-1 7zM0 301l0 22 17 1 3-4 0-5-3-7-11-7zM120 138l1 4 3 3 6 0 8-5 0-3-15-2zM225 113l0 3 9 8 3 0 5-4 8-3 0-2-3-3-14-5zM180 93l-6-2-8 1-12 9-11 5-3 3 0 4 4 8 12 10 20 0 4-2 5-8 7-1 1-11zM449 37l-22 4-9 4-7 0-7-3-12 1-3-2-5 0 0 8-3 3-8-3-7 1-2 4 0 6-5 6-6 2-15-1-4 3-1 6-5 5-17 0-5 5-2 10-4 5-9 0-3 2 0 9-4 10 3 7 0 6-2 4 0 12 4 10-6 7-7 2-10 10-7-1-2 2 5 9-7 7-9 23 0 10 5 12 7 8 8 3 4 4 4 12-3 8 0 6 3 6 0 4-10 10 0 4 5 8 0 8-10 7-3 8-5 4-3-1-6-6-7 1-3 6 0 8-3 5-13-1-15 7-3 4-1 11-4 3-2-3 0-7-6-4-3 0-8 5-7 1-4 2-2 3 0 5 5 5 16-2 3 1-1 16-8 0-4 3-9 16 0 8 4 1 5-2 7-6 6-9 8 7 21 1 14 11 8 9 14 4 1 21 8 11-1 8-7 12 1 12-4 7 2 8 7 6-2 5 0 23 3 4 7 2 5 5 6 11 6 5 13 0 8 4 6 7 8 0 4 4 78 0 10-9 7-3 7 2 5 5 4 0 3-4-2-8 1-18 4-4 2 0 5-6 1-9-5-11-4-4-12-7-5-5-6-10-4-2-7 0-7-3-6-5-12-16-13-5-4-5 2-4-1-6-4-2-10-1-8-4-8-7-5-2-7-7-3-6-15-14-8-4-12-15-1-8 3-3 9 12 1 4 6 6 7 4 7 9 7-1 8 12 8 3 9 9 15-2 11 5 24 0 5 8-2 5 0 6 4 4 0 14 6 12 9 5 25 25 5 8 5 5 5 2 8 0 7-5 8-31 0-7 12-15 19-4 3-3 0-5 3-5 12-6 11-11 4-2 4-17 6-6 7-4 13-17 10-7 14-2 0-56-4 0-10-5-5 0-6-6-7-13 1-3 5 4 14 1 5-4 1-3 0-15-5-10 0-6 6-5 0-2-11-5 16 0 0-173-9 0-9 5-8-5-12-2-7-4-5 0-4 2-5-1-6-3-5-5-2-5-17 0-11-6-9-2-8-9-10-4-8-10zM566 313l1-1 1 2-1 1zM284 301l1 3-6 10 0 4 9 9 0 6-4 13 2 4 0 15 4 4 0 3-5 4 1 1-3 3-2-2 2-7-2-18-6-9 0-3 5-5 0-6-7-9-2-11 4-4 6-2zM173 26l0 7 2 2 8-3-8-7zM493 26l4 3 11-4 2-2 0-3-5 0-8-3-4 5zM349 18l-3-4-7-1-13 7-10 0 0 12 6 5 7-1 5-3 7-8 6-2 2-2zM252 12l-3-3-5 1-9 14-8 7-22 2-4 4 0 13-12 12 2 1 10-3 8-5 8 1 3-3-2-5 1-2 10-1 18-9 5-8zM370 1l-3 1-3 11-6 7 1 3 4 3 10-1 5-3 3-4-1-3-7-5zM572 3l-3-3-17 0-3 3-7 2-21 1 0 11 3 5 6 0-3 7 11 2 4 4 2 0 15-7 0-2-7-4 7-2 4-4 8-3 3-5zM96 2l1 4 8 0 6 2 3 3 12 6 11-3 6-5-1-3-6-1-4-5-35 0z"/><path fill="#d2d2d2" fill-rule="evenodd" d="M129 582l0 7 2 2 10 1 5 7 27 0-1-6-10-10-11-21-5 0-10 9zM250 557l-5 1-5 8 1 4 5 1 7-5 0-5zM129 525l-2 0-11 12 3 20 2 2 2-2-2-3 0-6 2-2 1-8 6-8zM90 516l-4 2-3-4-4 0-4 3 3 6 5 1-1 8-7 6-4 11-6 5 2 4 5 0 20-21 1-10-1-9zM22 501l6 0 4 2 6 7 4 2 10-4 6 2 4-3-2-5-4-3-15 1-11-3-5 1zM160 493l-3 2 0 2 4 7 3 2 4-6-4-5zM83 508l0 2 3 2 15-2 1 1 6-2 3-6-6-6-11-5-2 2 0 6zM170 494l1 4 10-1 10 6 4-6 1-6-9 1-9-2zM8 489l-8 12 0 6 5 1 5 6 2 0 5-10 0-6-4-8zM136 448l1 3 9-3 4 0 6 4 2-1-1-5-4-3-15 2zM161 439l-2 4 3 4 6 3 0 6-2 5-11 10-1 6 2 6 9 4 25-2 4-2 3-5-1-12 4-9-1-10-5-4-24 1-3-4zM296 428l-11 14 0 6 2 3 1 7-9 6-4 6 0 6 3 4 0 6-6 8-1 7 9 10-2 6-5 6 0 7 3 7 0 9-3 3 3 7 6 3 6 0 5 11 8 9 12 3 10 6 3 0 1 2-2 2 0 3 4 4 19 0 6-6 5-2 13 1 16-11 4 0 7 3 24-3 4-6-1-18 5-8 1-7-22-23-5-3 2-2 0-3-12-3-25-21-16-6-5-6-4-11-6-3-21-4-1-9-3-4-2-13-2-2-9-2zM182 402l-6 0-5 4-8 14 1 8 7-1 10-9 3-6 0-7zM109 408l1 5 11 5 3 3 5 0 5-7 8 1 2-2-1-4-4-4-13-4-8 1zM190 369l-3-3-6 0-4 3-12 3-4 5 1 6 4 3 17-2 8-5zM54 358l0 3 5 0 8 4 3-4-2-5-2-1-7 0zM28 354l-2 2-1 7 3 3 8-2 1-5zM133 321l3 2 6 0 14-7 3-4-2-2-18-4-3 2 0 5-3 5zM0 302l0 21 17 1 3-5-3-11-3-3-9-4zM577 291l-2 0-1 2 2 1zM120 138l1 4 3 3 8-1 6-4-1-3-4-1-12 0zM225 113l0 3 9 8 3 0 13-8-3-4-11-4-5 0zM180 93l-13-1-11 8-14 7-2 5 5 10 12 9 19 0 5-4 3-6 8-2 1-10zM385 42l-1 11-6 0-5-3-7 1-2 11-4 4-10 3-12-1-3 2-2 7-4 4-19 1-5 7-2 10-4 3-9 0-2 2 0 10-3 5 0 4 3 6 0 6-2 3-1 9 1 5 5 9-7 7-10 4-7 9-9 1 4 4 1 5-7 6-10 24 0 8 4 11 7 9 13 6 7 8 6 1 8 5-1 8 4 5 0 6-6 10-2 8-5 6-1 5 10 11-4 13 1 21 5 6 1 4-9 10-14-12-23 0-3 8-7 2-3 4 1 3 5 4 11 2-4 9-11 6-5 12-1 7 3 7 9 8 8 0 7 2 6 0 16-16 4-7-2-7-8-3-4-7 3-5 12-11 1-3 12 23 7 4 10 11 7-1 8 12 8 3 8 8 4 1 11-2 11 5 22-1 5 3 3 4-1 13 5 5-2 11 6 14 11 7 10 10 2 4 13 12 7 10 7 3 6 0 4-2 6-8 2-16 3-7 0-10 7-7 7-10 7 0 11-3 2-2 1-8 3-3 13-6 10-11 4-2 2-11 3-7 13-11 12-15 9-6 15-3 0-54-3 0-9-5-8-1-7-8-7-15 3-27 2-6 5-5-1-4 3-3 5-1 17 2 0-172-8-1-8 6-2 0-7-5-11-2-10-5-12 2-8-4-7-9-18-1-10-6-8-1-9-10-6-3-4 0-8-11-13-9-7 0-8 3-10 1-9 4-4 0-6-3-13 1zM173 26l1 8 3 1 6-3-7-6zM493 26l2 2 11-2 4-3 0-3-13-2-3 3zM348 16l-4-3-4 0-14 7-10 0-1 9 5 7 9 0 13-12 7-3zM250 10l-5 0-4 4-5 9-9 8-23 3-3 4 1 10-12 14 10-2 9-5 8 1 2-1 0-9 10-1 9-6 10-4 4-7 0-15zM370 1l-2 0-2 3-2 10-5 4 0 5 4 3 10-1 7-6 0-4-8-6 0-5zM572 3l-3-3-17 0-3 3-6 2-14 2-7-1-2 4 2 10 2 2 6-2 1 2-4 6 11 3 6 4 15-7-2-3-6-3 5-1 8-6 7-2 2-2zM96 3l3 3 10 1 14 9 7 0 9-3 4-5-2-2-7-2-2-4-35 0z"/><path fill="#cfcfcf" fill-rule="evenodd" d="M418 569l-3 2 1 3 3-1zM129 583l1 7 11 2 5 7 27 0 0-4-12-13-8-17-3-3-3 0-6 4zM250 557l-3 0-6 7-1 4 2 2 4 1 6-4 1-6zM129 526l-2 0-11 12 3 18 2 2 1-2-2-6 3-5 1-7 6-9zM90 516l-4 2-3-4-4 0-4 3 4 6 5 0-1 7-8 9-2 8-7 6 1 4 6 0 18-19 2-4 0-6zM23 500l6 1 11 10 3 1 8-4 10 0 0-4-6-5-14 1-6-2-9 0zM158 494l0 4 5 8 2-1 3-5-6-6zM83 509l3 3 20-2 4-3 1-4-3-4-14-7-2 3-1 7zM170 497l11 0 10 6 3-4 2-7-21-1-5 4zM8 489l-8 12 0 6 5 1 6 6 5-7 1-8-3-7-3-3zM136 448l1 3 13-3 7 4-1-7-4-2-11 1zM161 439l-2 4 2 3 7 4 0 7-3 6-10 8-1 5 3 8 4 2 11 1 11-3 9 0 3-2 0-13 5-13 0-6-2-4-5-3-23 1-5-5zM296 428l-10 13-1 4 3 8 2 13 5 5 3 10 4 3-11 1-6 7 0 8 3 7 0 9-2 5 2 27-14 0 0 4 2 3 8 4 4 0 3-7 17 23 22 5 1 3-6 11 5 5 18 0 7-8 0-2 3-2 11-2 19-11 16-2 5-12 8-4 0-6-6-17-2-2-9 0-4-2 8-5 2-13-5-2-9 0-7 2-3-5-5-4-4 1-3 4-7-2-10-12-9-5-4-4 4-16-1-3-3 0-4 3-1 4-3 3-23 0-2 2-1-3 2-2 3-12 6-6 0-4-4-9-1-10-12-4zM305 477l1-1 1 2-1 1zM181 402l-6 1-6 7-6 11 1 7 4 0 6-3 8-9 2-4 0-5zM109 408l0 3 3 3 9 4 3 3 6-1 4-6 9 0 0-4-3-4-15-5-4 0zM249 370l-8 16 3 5 8 2-4 8-4 4-6 2-3 3-4 11 0 9 3 5 8 7 21 1 17-17 2-4-1-7-6-2-6-6-1-3 5-7 10-8 1-6-5-6-8-6zM190 369l-4-3-4 0-7 4-7 1-6 4 0 7 5 4 18-3 6-5zM54 358l0 3 6 0 5 3 4 0 0-6-3-3-6 0zM26 357l-1 5 3 4 4 0 5-3 0-4-6-4-3 0zM133 321l3 2 5 0 15-7 3-4-6-3-14-3-3 3 0 6zM0 302l0 21 17 1 3-5 0-3-4-9-11-6zM121 136l0 6 3 3 8-1 6-4-1-3zM225 113l0 3 9 8 3 0 3-3 9-4 0-3-2-2-11-4-5 0zM178 92l-11 0-26 17 0 6 5 8 7 6 5 2 17 0 5-3 3-7 10-3 0-7-2-5zM387 43l0 9-2 2-7 0-5-3-5 0-2 2-1 9-4 4-9 3-14 0-5 9-6 4-16 0-5 5-2 12-3 3-10 0-2 2 0 9-3 6 0 5 3 5 0 6-3 5 0 10 6 11-8 8-4 0-5 3-9 12-4-1 2 7-3 4-4 2-4 7-7 19 0 7 5 12 8 9 10 4 8 8 5 1 9 5-1 8 5 6 0 6-6 11-1 6-7 11 1 3 6 4 4 5-5 13 0 6 2 4 0 11 5 7 0 4-7 8-1 4 10 21 9 6 10 11 6-2 8 12 6 2 11 9 14-1 10 5 18-1 8 2 6 7 0 12 4 5-2 13 6 12 13 9 9 11 12 11 9 12 4 2 9 0 5-3 3-4 3-20 3-8 0-8 8-8 4-8 20-4 1-7 4-5 12-5 11-12 4-2 5-17 13-12 11-15 11-7 15-3 0-51-4-1-7-5-9-1-8-10-6-12 2-29 2-6 5-5-1-4 6-4 20 1 0-171-8 0-9 6-12-7-9-1-7-4-12 2-9-4-9-10-13 0-12-6-10-2-6-8-4-3-8-1-9-12-14-9-14 4-10 1-6 3-8 0-8-3zM173 26l1 8 3 1 6-3-7-6zM493 26l2 2 5 0 8-3 2-4-13-3-4 5zM348 16l-2-2-6-1-14 7-9 0-2 2 0 6 2 5 4 3 7 0 4-2 10-10 7-3zM250 11l-5-1-8 12-8 8-4 2-19 1-5 5 1 11-9 9-2 4 9-2 9-5 8 1 2-1 0-9 12-2 7-5 8-3 4-4 2-5zM370 1l-4 3-2 8 2 2-3 5-2 0 0-2-2 1 0 5 5 3 8-1 8-6 0-3-8-7zM571 2l-2-2-17 0-4 4-12 1-6 2-7-1-2 1 1 12 3 3 5-2 2 1-3 3-1 5 8 1 6 4 4 0 13-6-2-3-6-3 7-2 6-5 6-2 3-3zM97 1l0 4 13 2 14 9 12-2 6-4 0-3-8-3-2-4z"/><path fill="#cdcdcd" fill-rule="evenodd" d="M326 595l4 4 18 0 7-10-4-4-6 0-6-4-5 0-3 2-5 9zM129 583l1 7 10 1 6 8 27 0 0-4-10-10-13-23-3 0-7 5zM249 557l-2 0-7 9 0 2 4 3 4-1 5-5 0-4zM274 549l2 6 12 4 2-4-2-6-7-2-5 0zM129 526l-2 0-11 12 1 8 2 3 0 6 2 3 1-1-2-3 0-4 3-5 1-8 6-8zM90 516l-4 2-3-4-7 2 0 4 3 3 3 0 1-2 1 1-1 8-7 8-4 11-6 5 2 3 4 0 19-19 2-4 0-5zM23 500l8 2 9 9 6 0 5-3 10 0-1-5-6-4-14 1-5-2-9 0zM158 494l0 4 3 6 5 0 1-6-5-4zM84 511l3 1 8-2 10 0 5-3 0-6-13-8-4 0-1 7-3 4-5 3zM170 497l11 0 9 6 3-2 3-9-21-1-5 4zM9 489l-3 2-3 7-3 3 0 6 3 0 6 6 3 0 5-9 0-5-3-7-3-3zM341 465l-5 4-2 9-8 9 0 5-13 1-9 13-3 11-4 6 1 5 5 5 0 6-5 6-1 4 7 11 16 11 10 4 7 1 9 7 9 0 15-8 7-2 7-5 9-2 4-4 0-21-2-4-10-8 11 0 8-6 2-12-5-2-16 2-3 3 0 8 4 6-1 1-20-13-16-5-3-3-2-9-8-9 0-4 6-8 2-12zM136 448l1 3 9-3 5 0 6 4-1-7-5-2-10 1zM161 439l-2 4 9 7 0 8-2 4-10 8 0 12 3 3 8 2 26-4 3-3-1-12 4-9 0-11-7-5-22 1-5-5zM297 428l-3 2-7 10-1 7 2 4 1 12 7 9 2 8 4 2 6-11 3-11 5-5 0-7-3-6-2-12zM182 403l-5-1-6 5-8 14 0 5 2 2 10-4 7-8 2-5zM109 408l0 3 3 3 8 3 5 4 3 0 5-7 10-1 0-3-3-4-16-5-5 1zM249 371l-7 12 0 5 3 3 6 0 1 2-4 9-3 3-5 1-4 3-5 12 0 9 5 7 7 5 19 1 19-19 0-8-7-3-4-4-2-5 4-6 10-8 1-8-9-9-4-2zM190 370l-4-4-4 0-7 4-9 2-4 4 0 6 6 4 16-3 6-4zM54 359l1 2 6 0 4 3 4-1 0-5-4-3-9 1zM26 357l1 8 4 1 6-3 0-4-2-2-5-2zM133 320l4 3 4 0 16-8 1-4-19-5-3 3 0 6zM0 302l0 21 18 0 2-6-4-10-11-6zM121 142l4 3 4 0 7-3 2-4-7-2-9 0zM225 113l1 4 9 7 14-7-1-4-12-5-5 0zM179 93l-14 0-8 7-14 7-2 2 0 5 3 6 11 10 23 0 2-2 1-5 3-3 7-1 2-3-2-10zM445 39l-11 4-8 0-10 4-5 0-7-3-15 1 0 6-4 4-7 0-5-3-5 0-2 4 0 6-5 5-13 3-9 0-2 1-3 7-5 4-19 1-4 5-1 10-5 5-10 0-1 2-2 20 4 8-4 7-1 7 1 5 6 9-8 8-9 3-6 10-5 4-1 6-7 5-10 23-1 8 4 11 8 10 10 4 8 8 8 2 8 5-1 9 6 7-4 8-4 15-6 7 0 4 10 7 0 5-5 10 0 6 3 15 4 8 0 5-7 8 0 6 6 10 2 7 10 7 8 10 8-2 5 9 4 4 7 3 9 7 13-1 12 6 20-1 6 3 5 7 0 10 4 6-2 7 0 8 5 9 19 14 3 6 12 11 8 12 6 3 7 0 4-2 5-6 2-16 4-12-1-6 9-10 3-7 5-3 6 1 9-3 2-8 4-4 5-1 9-5 4-6 9-7 5-17 12-11 12-16 12-7 14-2 0-48-9-7-11-3-8-9-7-16 2-8 1-23 5-6 1-5 4-3 6-1 16 2 0-170-9 0-6 6-2 0-11-7-12-2-4-3-6 0-4 2-13-5-8-9-16-1-11-6-8-1-8-10-4-2-7 0-4-8-5-5-9-6zM173 27l1 7 3 1 6-3-7-6zM493 25l3 3 4 0 9-4 1-3-13-3zM347 15l-6-2-14 7-11 1-1 5 3 8 3 2 7 0 4-2 10-10 6-2 1-3zM250 12l-2-2-4 1-7 11-8 8-4 2-20 2-4 5 1 10-10 12 10-2 7-4 9 0 0-9 13-2 8-6 7-2 4-4 2-6zM370 1l-3 2 0 11-2 4-3 2-3-1 1 5 4 2 8-1 8-6 0-3-8-7zM572 4l-3-4-17 0-7 5-23 2 0 12 3 3 7-3 1 1-4 4-1 4 17 6 14-7-8-5 7-2 7-6 6-2 2-3zM97 1l1 4 10 1 16 10 14-3 4-4 0-2-8-3-3-4z"/><path fill="#cacaca" fill-rule="evenodd" d="M333 582l-7 11 0 2 4 4 17 0 7-8 0-4-10-2-6-4zM129 584l1 6 12 2 4 7 27 0-1-5-9-9-10-19-4-4-5 2-8 8zM249 557l-2 0-7 9 0 2 4 3 4-1 5-5 0-4zM275 548l-1 3 4 5 5 1 2 2 4-2 1-4-3-4-7-2zM129 526l-7 5-6 7 3 12 4-5 1-8 5-6zM91 517l-2-1-4 4-1-5-2-1-6 2 0 4 3 3 4-2 1 1-1 9-7 7-3 10-6 5 2 4 2 0 20-19 2-5zM83 520l1-1 1 2-1 1zM404 510l-9-1-10 2-3 4 2 11 5 3 6 0 7-4 4-11zM23 500l8 2 9 9 5 0 5-3 11 0-1-5-4-3-17 0-4-2-9 0zM159 494l-1 4 4 7 4-1 1-6zM84 510l20 0 6-4 0-4-4-4-10-5-3 0-1 8-8 7zM170 495l0 2 2 1 9-1 8 5 3 0 3-10-19-1zM9 489l-2 1-3 7-3 3-1 7 4 0 5 6 3 0 5-9 0-5-4-8zM341 465l-5 4-1 8-9 11 0 14-6 6 2 3-9 1-2 2 0 13 5 8-1 13 8 10 6 3 8 7 24 3 7-4 10-12 6-3 1-7-6-11-15-3-5-7-7-5-12-1-1-3 4-7 1-7-1-3-6-6-1-6 6-8 1-13zM157 451l-1-6-5-2-10 1-5 4 2 3 7-3 6 0zM161 439l-2 3 5 6 4 1 0 9-3 6-9 6 0 12 7 4 12 0 5-2 13-1 3-4-1-11 4-10 0-10-5-4-24 0-4-4zM298 428l-6 5-5 7-1 7 2 3 2 15 5 5 4 11 3 1 6-11 2-10 6-7 0-5-4-10 0-7-4-3zM178 402l-6 4-9 16 1 5 5 0 10-7 4-7 0-8zM109 409l0 2 3 3 8 3 5 4 3 0 5-7 8 0 2-2-5-7-14-4-7 2zM250 371l-2 5-6 7 0 4 3 4 7 0 1 2-4 8-4 4-8 3-6 14 0 7 2 4 8 8 22 1 18-19 0-6-6-3-8-10 16-16 0-6-13-11zM190 371l-3-4-4-1-7 4-11 3-3 3 0 5 3 4 19-2 6-4zM55 357l1 4 5 0 4 3 4-1 0-5-4-3zM27 356l0 9 3 1 6-2 0-6-6-3zM134 321l3 2 6-1 11-5 4-3 0-2-18-6-4 4 0 6-2 2zM0 302l0 21 18 0 1-10-4-7-11-5-3 2zM121 142l4 3 3 0 9-4 1-3-16-2zM225 114l10 10 14-8-3-4-11-4-6 1zM179 93l-13 0-9 7-14 7-2 6 4 8 11 9 23-1 2-7 2-2 9-2 0-9-2-4zM445 40l-12 4-8 0-10 4-10-3-14 2-2 6-4 3-7 0-9-3-2 3 0 5-5 6-21 4-9 10-5 2-16 0-5 6-1 10-4 4-9 0-3 3 1 6-3 10 5 9 0 3-5 8 0 7 5 8 1 5-8 8-4 0-5 3-5 10-6 5-1 5-7 5-4 7-7 22 5 13 6 8 10 4 10 9 6 1 10 6-2 8 7 8-6 16 0 7 6 4 0 3-2 2-3 0-3-4-3 0-3 4 2 3 6 2 3 4 0 4-6 11 0 6 7 22 0 7-6 7-1 5 6 11 1 6 11 8 7 9 4 0 4-3 9 14 7 3 9 7 13-1 11 6 16-1 7 1 6 4 3 4 1 11 4 6-3 13 6 12 19 14 2 5 11 10 10 14 10 3 8-4 2-3 3-19 3-7-1-9 10-11 3-7 4-3 7 1 6-2 3-3 2-7 16-7 15-15 4-15 12-12 14-18 9-5 16-3 0-43-3-2-3-6-6-4-8-1-4-4-11-19 0-8 2-7-1-14 1-6 4-8 5-5 4-1 20 1 0-169-7 0-7 7-4 0-11-8-10-1-7-4-5 2-7 0-10-5-9-9-16-1-8-5-6 0-4-2-8-10-6-2-4 1-3-3-4-9-14-9zM572 364l3 0 4 4 0 3-4 4-3 0-4-4 0-3zM541 359l3 1 2 3-1 3-3 2-3-1-2-3 1-3zM549 251l5-2 3 1 2 4-2 3-4 1-4-2zM174 26l0 8 6 0 2-4zM493 25l1 2 5 1 8-3 3-3-2-2-11-2zM348 17l-3-3-4-1-14 7-10 1 0 11 4 4 9-1 10-10 7-3 2-2zM249 12l-5-1-6 10-10 10-15 3-8 0-3 3 0 12-9 11 6 0 9-5 10 0 0-9 12-2 9-6 8-3 4-6zM370 2l-2 4-1 10-4 4-4 0 1 4 5 2 7-1 8-6 0-3-9-8zM572 4l-4-4-16 0-2 3-5 2-22 2-2 2 1 9 2 3 4 0 3-2 2 1-5 6 1 3 8 1 8 4 13-6 0-2-8-4 5-1 8-6 6-2 3-3zM97 2l1 3 10 1 17 10 13-3 4-4-1-2-6-2-4-5-33 0z"/><path fill="#c7c7c7" fill-rule="evenodd" d="M327 596l4 3 16 0 6-6 1-5-2-2-5 0-9-4-4 0-3 2-4 8zM129 584l0 4 2 2 10 1 5 8 27 0-1-5-10-10-12-21-4 0-10 9zM251 558l-3-1-4 3-4 7 2 3 3 1 8-6 0-4zM275 548l-1 3 4 5 8 3 3-2 1-4-3-4-7-2zM360 540l-1 4 2-1zM331 540l1 3 4 2 3-1-2-4zM128 526l-10 9-2 4 3 10 4-5 2-9 4-4zM90 517l-3 0-2 3-1-5-2-1-6 2 0 4 3 3 4-2 1 5-1 5-7 7-4 12-4 3 1 3 4-1 17-16 3-7zM83 520l1-1 1 2-1 1zM406 512l-2-2-7-1-13 3-2 5 1 7 7 5 7-1 6-5zM24 500l7 2 9 9 5 0 5-3 9 1 2-2-1-4-4-3-17 0-4-2-8 0zM159 494l-1 3 4 8 2 0 3-3 0-4zM84 510l20 0 6-4 0-4-4-4-10-5-3 0-1 8-8 7zM170 495l0 2 12 0 5 4 5 1 3-10-6 1-6-2-7 0zM8 490l-8 12 0 4 4 1 6 6 2 0 4-7 1-6-4-9zM343 465l-6 3-2 9-8 9 0 14-6 7 0 3 13 14 4-2 2-11 4-6-1-7-7-7-1-3 7-10zM157 447l-3-3-6-1-9 2-3 4 4 2 5-3 6 0 5 3zM161 439l-1 5 4 4 4 1 1 6-3 8-7 5-4 5 1 9 8 4 10 0 20-4 1-15 4-9-1-11-4-3-24 1-4-5zM296 429l-8 10-2 7 3 8 0 8 7 9 2 8 4 2 7-13 2-9 5-5 0-5-4-9-1-9-5-2zM181 403l-5 0-5 5-8 14 1 5 9-2 8-8 2-4 0-7zM109 409l2 4 15 8 3-1 5-7 8 0 0-4-4-4-9-3-10 0zM272 372l-21 0-1 3-7 7-1 4 2 4 10 2-6 11-4 3-5 1-3 3-5 13 1 8 10 10 4 0 2-2 2 2 11 1 4-2 13-13 3-5 0-4-8-5-8-8 0-2 2-2 3 0 13-14-1-6zM189 369l-3-2-5 0-5 3-9 2-4 3-1 6 4 4 17-2 7-5zM26 358l1 7 7 0 3-3-1-4-4-2-5 0zM55 358l0 2 2 1 1-1 8 4 3-1 0-4-4-4-8 1zM134 321l6 2 15-7 3-4-18-6-4 4 1 5zM0 303l0 20 5-1 5 2 6 0 3-3 0-8-2-4-8-6zM121 137l0 4 4 4 6-1 6-3 1-2-1-2-8-1zM225 114l9 9 3 0 11-6 0-3-2-2-11-4-7 2zM180 94l-5-2-9 1-10 8-11 5-4 4 0 3 5 9 10 8 21 0 7-11 8-2-1-10zM444 41l-7 3-14 1-6 3-8 0-9-3-8 3-2 5-7 4-13-3-2 2-1 7-4 4-21 5-10 10-3 1-18 1-5 6 0 7-2 4-4 3-10 1 0 10-2 3 0 4 6 11-5 7-2 6 1 5 6 8 0 3-6 6-12 6-3 7-8 11-8 7-4 7-2 10-4 6 0 8 3 8 9 11 10 4 8 7 7 2 10 6-3 7 8 9-4 8 0 6-2 5 6 6 1 6-4 5 0 10-7 11 8 28 0 7-6 9 5 12 1 7 7 5 11 12 7-5 6 11 5 5 15 9 13-1 9 6 21 0 7 3 6 7 1 10 4 6-3 13 6 12 19 14 2 5 10 9 9 14 6 3 7 0 4-2 4-5 3-20 3-7-2-7 11-12 3-8 3-2 12 0 7-11 15-6 16-16 4-15 11-11 14-19 7-4 19-5 0-40-5-2-3-7-4-3-8-1-11-14-4-9 1-21-2-4 2-16 10-9 24-1 0-166-6 0-5 4-2 4-4 0-6-6-8-4-6 0-9-4-11 2-11-5-9-9-14-1-12-6-9-1-8-10-5-2-5 1-5-11-3-3-12-7zM570 365l5-1 3 2 1 5-2 3-5 1-3-2-1-5zM540 359l3 0 3 3 0 3-3 3-3 0-3-3 0-3zM548 252l4-3 3 0 4 3 0 3-4 3-3 0-4-3zM174 26l0 8 6 0 2-4zM494 26l2 2 3 0 8-3 2-4-11-3-4 4zM348 17l-3-3-7 0-13 7-8 0 0 10 5 5 5 0 7-4 7-8 6-2zM249 13l-4-2-7 10-12 11-22 3-2 3 0 12-8 10 7-1 7-4 10 0 1-4-2-4 2-2 11-1 7-5 10-4 4-6zM370 4l-3 13-7 5 2 3 9 0 6-3 3-4-1-3-7-5zM571 3l-3-3-16 0-2 3-5 2-22 2-1 10 2 4 4 0 5-3 1 1-4 4-2 5 9 2 7 4 14-6 0-2-8-4 7-2 7-6 6-2 2-2zM97 3l2 2 10 1 13 9 13-1 4-2 3-4-7-3-4-5-33 0z"/><path fill="#c4c4c4" fill-rule="evenodd" d="M327 595l4 4 16 0 6-6 1-5-2-2-8 0-5-3-6 0-3 3zM129 584l0 4 2 2 10 1 4 4 1 4 27 0-1-5-10-10-12-21-3 0-5 3-5 5zM249 557l-3 1-6 9 2 3 5 0 6-5 0-3zM275 548l0 4 2 3 7 3 5-1 0-6-2-2-7-2zM129 527l-2 0-10 10-1 4 3 8 4-5 1-7 4-5zM90 517l-2 0-3 3-1-5-6 0-2 2 3 6 4-2 1 1 0 5-2 6-7 7-4 14 9-5 10-10 2-4 0-10zM83 520l1-1 1 2-1 1zM405 511l-19 0-3 3 0 10 7 5 8-2 5-4zM24 500l7 2 10 9 4 0 5-3 11-1-2-5-3-2-17 0-5-2-7 0zM159 494l-1 3 4 8 2 0 3-3 0-3-4-4zM84 510l19 0 6-3 1-5-8-6-8-3-2 8-8 7zM170 496l12 1 5 4 5 1 3-10-7 1-5-2-10 1zM8 490l-8 12 0 4 4 1 6 6 2 0 4-7 1-6-5-10zM342 465l-5 3-3 11-7 7 0 15-6 6 1 4 11 12 5-1 2-11 4-7-2-7-7-8 1-4 6-8zM137 447l1 4 7-3 12 2-3-6-12 0zM160 440l0 4 3 3 6 2 0 8-4 8-7 4-3 4 0 6 2 4 8 3 8 0 20-4 2-2 0-13 4-10 0-7-2-4-4-2-23 1-4-5zM297 429l-6 6-5 9 3 8 1 12 6 7 2 8 4 2 6-11 1-7 7-10 0-3-4-9-1-10zM180 403l-4 0-8 10-5 10 2 4 8-2 9-10 1-6zM109 409l2 4 8 3 5 4 4 0 6-7 8-1-3-6-11-4-9 0zM269 371l-13 1-10 7-3 4 0 5 2 2 10 2-10 14-5 1-4 3-4 10-1 6 2 6 6 7 6 2 3-3 6 3 8 0 18-18 0-6-6-3-6-6-2 0-2-5 4-5 3 1 5-6 4-2 3-5-1-5zM189 370l-3-3-4 0-8 4-6 1-4 2-2 4 1 5 3 2 6 0 13-3 5-5zM28 356l-2 3 1 6 7 0 3-3 0-2-3-3zM55 358l0 2 4 0 7 4 3-1 0-4-4-4-8 1zM134 320l5 3 16-7 3-4-14-5-6 0-1 9zM0 303l0 20 6-1 10 2 3-3 0-7-2-5-4-4-7-3zM121 137l0 4 4 4 6-1 7-5-1-2-8-1zM226 112l0 4 8 7 3 0 11-6 0-3-2-2-11-4-3 0zM178 93l-11 0-9 7-11 5-5 4 1 8 10 11 4 2 20 0 5-10 8-2 2-2 0-6-2-4zM444 42l-7 3-11 0-11 4-16-3-5 2-9 9-15-1-4 10-22 6-10 10-18 1-5 2-4 4-1 9-5 6-10 0-2 18 6 9 0 4-5 5-2 7 1 4 6 8 0 3-9 9-5 0-4 3-6 12-15 15-4 11 0 5-5 6 0 7 5 11 6 7 10 4 8 7 7 2 7 5 5 1-3 5 0 4 7 7-3 9 0 12 5 6 1 4-4 7 0 7-8 12 0 5 6 15 2 10 0 6-3 5-1 6 1 5 4 4-2 2 1 6 6 4 8 8 2 4 4-1 1-3 4-2 4 10 5 6 16 10 14-1 4 4 7 3 14-1 12 4 6 7 1 10 4 6-3 13 6 12 18 12 2 6 11 10 5 10 5 5 9 2 5-2 4-4 1-9 5-16 0-6-2-5 11-11 3-8 4-3 10 1 8-11 17-7 5-7 10-9 4-15 10-10 3-6 14-16 1 1 7-4 16-3 0-39-6-1-5-10-9-2-10-12-6-15 2-17-4-6 2-6 0-8 9-9 4-2 16 0 5-1 2-2 0-162-7 1-5 8-4 0-8-8-6-3-10-1-5-3-8 2-6-1-10-4-10-10-15-1-8-5-8 0-4-2-2-5-4-4-10-1-3-3-2-8-4-4-11-6zM571 364l5 0 3 3 0 5-3 3-5 0-3-3 0-5zM540 359l3 0 3 3 0 3-3 3-3 0-3-3 0-3zM551 249l5 0 3 3 0 3-3 3-5 0-3-3 0-3zM173 27l0 5 2 2 4 0 3-2-7-6zM494 26l2 2 3 0 8-3 2-4-11-3-3 3zM347 16l-2-2-6 0-11 6-10 1-1 8 6 7 6-1 12-11 7-3zM248 13l-4-1-8 12-8 7-12 3-10 0-4 4 0 12-7 9 6 0 7-4 10 0 1-4-2-4 2-2 11-1 10-7 8-3 3-6zM379 15l-4-2-5-6 0 4-3 7-7 5 2 2 9 0 8-5zM571 3l-3-3-15 0-7 5-22 2-2 1 1 12 5 1 5-3 1 1-4 4-2 5 12 3 2 2 4 0 12-5-2-3-6-3 9-3 6-6 6-2zM98 0l1 5 10 1 14 9 11-1 7-4-1-3-5-2-5-5z"/><path fill="#c1c1c1" fill-rule="evenodd" d="M327 594l5 4-1 1 15 0 6-5 2-6-3-2-18-2-2 1zM130 582l0 7 11 2 4 4 1 4 27 0-1-5-10-10-13-21-8 4zM250 558l-5 1-4 6 1 5 5 0 6-5 0-3zM275 549l2 6 7 3 5-1 0-6-2-2-8-2zM129 527l-4 2-8 8-1 4 3 7 4-4 1-7 4-5zM84 515l-6 0-2 2 2 5 6 0-1 9-8 10-1 7 3 2 4-2 8-8 3-6-1-16-3-1-3 3zM83 520l1-1 1 2-1 1zM403 510l-13 0-5 2-2 2 1 11 7 4 3 0 7-4 4-10 0-3zM25 499l8 4 8 8 3 0 5-3 11 0 0-4-5-4-17 0-4-2zM159 494l-1 3 3 6 3 2 3-3 0-3zM110 503l-3-4-13-6-2 8-8 7 0 2 19 0 3-1 4-4zM170 496l12 1 5 4 4 1 3-4 1-6-7 1-5-2-10 1zM9 490l-9 12 0 4 4 1 7 6 3-3 3-9-4-9zM343 466l-5 1-4 12-7 7 0 15-6 7 13 15 4-1 1-8 5-10-2-7-7-7 1-5 6-8zM137 447l1 4 7-3 7 0 3 2 2-1-3-5-12 0zM160 440l0 4 3 3 6 1 0 10-3 6-9 6-2 4 0 5 2 4 4 2 10 1 10-3 12-1 2-3-1-9 5-15-1-7-6-4-22 1-4-5zM298 429l-6 5-4 6-1 7 2 4 1 13 7 8 2 8 3 1 6-11 2-10 5-6 0-6-3-6-1-10-2-2zM180 403l-5 1-5 6-7 13 2 4 9-3 6-6 2-4 0-9zM110 408l1 5 14 7 3 0 5-7 9-1-3-6-11-4-8 0zM271 372l-5-1-11 2-7 5-5 6 2 6 12 1-12 15-8 3-5 12 0 8 9 11 4 0 2-2 11 3 4-1 10-10 3-1 5-7 0-4-16-12 1-6 4-4 2 2 11-10-1-8zM189 371l-2-3-5-1-5 3-9 2-5 4 0 6 3 3 16-2 7-4zM55 358l1 2 4 0 6 4 3-1 0-4-2-3-9 0zM26 359l1 6 6 0 4-3 0-2-6-4-3 0zM135 321l7 1 6-4 7-2 3-4-7-3-13-2-1 10zM0 303l0 20 17 0 2-3 0-6-3-6-3-3-7-3zM121 137l1 6 4 2 5-1 7-5-1-2zM226 113l0 3 8 7 3 0 11-7-1-3-13-5-6 2zM179 94l-12-1-10 8-13 6-2 2 0 5 3 6 12 10 21-1 2-7 5-4 6-1 1-2-1-7zM444 43l-7 3-13 0-11 4-8-3-10 1-7 8-4 2-12-1-5 9-23 7-10 10-17 1-6 2-3 3-2 10-4 5-11 0-2 16 8 13-1 3-6 6-1 7 7 9 0 4-9 9-6 1-4 3-6 12-5 4 0 2-9 7-3 5-1 12-5 5-1 7 6 13 7 7 10 4 7 6 7 2 7 5 5 1-4 8 8 9-3 7 1 13 5 8 0 4-3 5-1 8-7 8-2 6 7 18 2 10-2 18 2 3 5 2-2 2 2 1-4 2 0 6 4 2 10 12 2 0 6-7 3 3 0 3 6 9 5 5 12 7 15-2 6 7 3 1 19 0 9 4 6 7 0 8 5 8-3 13 5 8 0 3 19 13 4 9 8 6 5 10 6 6 9 1 5-2 3-4 1-11 5-15-3-11 12-10 2-7 6-4 9 1 8-11 15-5 15-15 6-18 23-26 2-5 7-3 10-1 9-3 0-37-7-1-3-3-1-5-9-4-10-13-6-13 2-13-1-7-5-6 3-6 1-10 10-8 19-1 7-3 0-160-5 1-2 2 4 3-1 3-12 0-9-9-4-2-10-1-6-3-13 1-9-3-13-12-11 0-10-5-10 0-5-4 0-3-4-4-11-1-2-2 0-4-4-8-13-7zM573 363l3 1 4 5-1 3-5 4-3-1-4-5 1-3zM540 359l3 0 3 3 0 3-3 3-3 0-3-3 0-3zM547 253l4-4 5 0 3 2 1 3-4 4-5 0-3-2zM174 26l-1 6 2 2 4 0 3-2zM494 26l4 2 9-3 2-4-12-2-3 4zM347 16l-3-2-5 0-13 7-7 0-2 2 1 5 6 7 5 0 13-12 6-3zM247 13l-2-1-8 11-10 9-22 3-3 4 0 11-6 7 0 2 4 0 8-4 10 0 1-3-2-5 2-2 10-1 9-6 8-3 5-8-4-10zM379 16l-8-6-3 7-6 7 9 1 8-6zM572 5l-4-5-15 0-7 5-21 2-3 2 0 6 3 6 3 0 5-4 3 1-6 5-2 5 18 5 12-6-9-5 8-2 6-6 6-2 3-3zM98 1l0 3 9 1 16 10 11-1 7-4-1-3-5-2-5-5z"/><path fill="#bfbfbf" fill-rule="evenodd" d="M328 595l3 1 1 3 14 0 8-8 0-3-3-2-8 1-8-3-4 2zM130 583l-1 3 3 4 10 1 5 8 26-1-2-5-10-10-11-19-4 0-6 4zM250 558l-5 1-4 6 0 4 6 1 6-5 0-3zM275 549l0 3 3 3 6 3 4 0 1-7-2-2-8-2zM129 527l-12 10 0 7 2 4 4-4 1-7 5-7zM84 515l-6 0-2 2 2 5 6 0-1 10-8 9 0 6 2 2 5-2 7-7 3-7-1-14-1-2-2 0-3 3zM83 520l1-1 1 2-1 1zM404 511l-13-1-6 2-2 2 1 11 7 4 8-3 4-4 2-7zM25 500l8 3 8 8 3 0 8-4 8 1 0-4-5-4-12 1-9-3-6 0zM160 494l-2 2 5 9 4-3 0-3zM110 503l-3-4-13-6-2 8-8 7 0 2 18 0 5-2zM170 496l12 1 5 4 4 1 2-2 2-8-8 1-4-2-7 0-4 2zM9 490l-9 12 0 4 3 0 8 7 4-5 1-10-3-6zM343 466l-3 0-4 4 0 5-2 4-6 6-2 4 1 12-5 6 0 3 12 13 4-2 1-7 5-11-2-6-7-7 0-4 7-9zM137 447l0 3 2 1 6-3 7 0 4 2 0-4-2-2-12 0zM162 439l-2 2 0 3 5 4 4 0 0 11-3 6-10 7 0 9 6 4 13 0 5-2 12-1 3-4-1-9 4-10-1-12-3-2-24 0-4-5zM309 430l-13 0-9 12 3 21 6 7 2 8 3 3 2-1 5-10 3-12 4-4-4-22zM179 403l-8 6-7 12 0 5 6 0 10-8 2-7-1-6zM110 408l0 3 3 3 12 6 3 0 5-7 8-1-1-5-12-5-8 0zM271 372l-15 1-10 7-3 5 3 5 12 1-4 3-8 12-5 1-5 4-4 11 1 9 9 9 6-3 8 3 7-1 16-16 0-5-13-9-3-4 0-4 5-6 5 1 9-8 0-6-2-3zM188 370l-2-2-5 0-12 4-5 3-1 7 4 3 14-2 8-5zM55 359l5 1 6 4 3-1 0-4-2-3-9 0zM29 356l-3 4 0 3 2 2 7-1 2-2-1-3zM136 321l6 1 8-5 5-1 2-4-3-2-15-3-2 2 1 8zM0 304l0 19 17 0 2-3 0-6-3-6-11-6zM121 138l0 3 3 3 6 0 7-4-1-3-13-1zM226 113l0 3 8 7 3 0 3-3 7-3 1-2-3-3-11-4-4 1zM178 94l-10-1-9 7-16 8-1 6 4 7 6 6 6 3 18 0 2-1 2-8 2-2 9-3-1-9zM399 47l-14 11-12 1-3 5-5 4-20 5-4 6-5 4-16 1-3 3-8 2-2 3 0 6-5 6-12 1-1 15 9 12 0 3-8 9 0 6 7 7 0 5-10 10-5 0-5 4-5 11-5 4-4 6-7 5-2 5 1 10-6 4-2 7 5 12 7 8 31 17 7 1-4 6 0 4 7 6-2 17 3 4 0 4 3 5 0 5-2 4 0 5-11 14 0 5 7 16 2 11-1 9 2 3-1 5 6 3 5 8-2 3-7 2 9 8 4 6 3-6 5-2 3 3 2 8 9 10 11 6 6 0 7-4 3 0 3 7 4 3 16 0 6 1 8 4 5 5 1 11 5 8-2 12 4 7 0 4 19 13 3 7 9 7 5 12 4 4 10 1 5-2 3-4 1-12 5-14-2-6-3-3 1-3 12-8 5-10 12-1 8-10 18-7 15-17 2-12 12-13 2-5 11-11 0-3 3-3 18-3 7-3 0-36-9-1-13-12-2-5-6-7-6-13 1-20-6-6 1-5 2-2 1-11 11-8 20-1 6-4 0-147-2 1-5-2-9 0-10-10-4-2-9 0-5-3-13 1-4-2-6 0-4-2-11-12-12 0-9-5-10 0-4-3 0-4-3-3-11-1-3-3-2-10-3-3-11-5-5 0-8 3-14 0-7 3-6 0-6-3zM572 363l5 1 3 4-1 5-4 3-5-1-3-4 1-5zM539 359l5 0 2 2 0 5-2 2-5 0-2-2 0-5zM547 252l3-3 7 0 3 3 0 3-3 3-7 0-3-3zM293 211l2-1 2 4-1 1zM173 28l0 4 2 2 4 0 3-2-6-5zM494 26l4 2 10-4 1-3-11-2-3 3zM347 17l-3-3-5 0-13 7-7 1 0 5 5 7 6 0 10-10 7-3zM246 13l-2 0-6 9-11 10-22 3-3 5 1 8-6 8 0 2 2 1 10-5 9 1 0-10 11-1 10-7 7-2 4-5 0-6-3-5zM379 16l-6-4-3 2-7 10 10 0 6-5zM570 2l-2-2-15 0-6 5-24 3 0 11 4 2 8-4 1 1-7 7 1 4 8 1 5 3 8-2 7-4-9-5 9-3 6-6 6-2 2-3zM98 2l3 3 9 1 14 9 12-2 5-4-1-2-8-4-2-3-31 0z"/><path fill="#bcbcbc" fill-rule="evenodd" d="M328 594l1 2 4 1-1 2 13 0 8-7 1-3-4-3-8 1-8-2-3 2zM130 583l1 6 11 2 5 8 25 0-1-6-7-6-15-23-3 0-7 5zM250 558l-3 0-6 7 0 3 2 2 4 0 5-4 1-4zM275 549l0 3 3 3 7 3 4-2 0-5-2-2zM128 527l-11 11 0 6 2 4 3-2 2-9 5-7zM84 515l-6 0-2 2 1 4 3 2 4-4 1 1-2 12-8 9 0 4 2 3 5-1 6-6 4-9-2-15-2 0-3 3zM404 511l-12-1-7 2-2 3 1 10 7 4 8-3 4-5 2-7zM26 499l6 3 9 9 3 0 8-4 8 0-1-4-4-3-13 1-9-3zM159 495l-1 1 4 8 3 0 2-2 0-3-3-3zM109 501l-14-8-2 2 0 5-9 8 0 2 7 1 14-2 4-3zM171 494l0 3 11 0 9 5 2-2 2-7-19-2zM10 490l-4 3-1 4-5 6 0 3 3 0 8 7 5-8 0-7-3-6zM343 466l-3 0-3 3-2 9-7 7-2 4 1 13-5 6 1 3 11 12 4-2 1-8 5-10-3-7-6-6 0-4 6-7zM137 447l0 3 5 0 3-2 7 0 4 2 0-4-3-2-10 0zM162 439l-2 4 3 4 6 1 1 8-3 8-10 7-2 5 1 5 8 4 10 0 19-4 1-13 4-10 0-9-4-4-24 0-4-5zM308 430l-13 1-8 13 2 4 1 15 7 8 1 6 3 4 7-12 1-7 6-9-4-12 0-9zM180 404l-4 0-4 4-8 13 1 5 4 0 10-7 2-4zM110 409l0 2 3 3 13 6 3-2 2-4 10-3 0-2-4-4-10-3-7 0zM270 372l-13 1-13 10 1 6 13 1 1 2-4 2-4 7-6 6-6 1-3 4-3 9 0 8 9 11 5-3 14 2 18-17 0-3-16-13-2-9 3 0 4-3 5 1 9-8-1-6zM188 371l-3-3-4 0-8 4-4 0-4 2-2 7 4 4 18-4 3-2zM27 358l-1 4 2 3 5 0 3-2-1-5zM55 359l12 5 2-1 0-4-3-3-7 0zM136 321l5 1 8-5 7-2 1-3-7-3-11-2-2 2 2 7zM0 304l0 18 16 1 3-4 0-4-4-8-10-5zM121 138l0 3 3 3 6 0 7-4-1-3-13-1zM226 113l1 4 7 6 4-1 9-6-2-4-8-3-7 0zM177 94l-11 0-8 7-12 5-4 4 1 6 7 9 9 5 16 0 4-3 0-5 3-3 8-2 1-7-2-4zM398 48l-10 9-7 3-7 0-7 8-21 5-8 10-9 2-5-1-6 4-5 0-5 3-1 8-4 5-4 2-7-2-2 2-1 14 4 3 6 9 0 4-8 8 0 6 2 2 4-2 1 1 0 11-11 11-6 0 0 2-4 3-6 11-4 3 0 2-11 9-1 12 7 6 0 2-2 1-6-4-4 1-2 3 0 7 5 10 8 8 10 4 7 6 5 1 8 5 7 1-4 5-1 4 8 6-3 12 1 6 4 5 2 16-4 10-8 7-1 9 7 16 2 19 3 4-1 4 8 5-1 1 3 2 0 4-6 5 3 6 5 5 4-6 4-1 4 4 1 5 6 9 4 4 10 5 5 0 4-2 3-4 5-1 2 2 0 6 2 4 6 2 15 0 12 5 5 6 1 10 5 8-2 11 4 7 0 5 11 8 6 2 5 10 8 5 5 13 5 5 7 1 8-3 2-6 0-7 5-13 0-5-6-9 14-9 3-8 5-4 9 0 3-5 6-5 16-5 6-8 10-9 3-14 10-10 4-8 8-7 5-10 7-2 9 0 10-3 0-35-8 0-4-4-4 0-6-6-2-8-7-9-5-11 1-19-8-10 4-6 1-10 4-5 6-2 1-2 21-1 6-4 0-144-16-2-13-12-10 0-5-3-13 1-4-2-9 0-3-2-6-10-5-3-12 0-6-4-12 0-4-4 1-2-4-5-8 1-5-4-2-10-4-4-10-4-6 0-4 2-14 0-12 4-9-3zM571 363l5 0 4 4 0 5-4 4-5 0-4-4 0-5zM541 358l3 1 3 4-1 3-4 3-3-1-3-4 1-3zM547 252l3-3 4-1 6 4 0 3-3 3-4 1-6-4zM290 209l5 0 3 3 0 2-2 2zM290 177l2-1 2 4-1 1zM301 149l2-2 5 2 1 2-1 1zM173 28l2 6 4 0 3-2-6-5zM494 25l1 2 6 0 7-3 1-3-11-2zM378 15l-6-1-7 8 0 2 6 0 7-4zM346 16l-6-2-13 7-7 1 2 9 2 2 5 0 4-2 14-12zM246 15l-2-1-9 12-6 5-13 4-12 1-1 12-6 10 5 0 7-4 8 1 2-2-3-6 2-2 13-2 6-5 10-4 3-4 0-5zM568 0l-15 0-6 5-23 3-1 10 2 3 2 0 10-5 1 1-7 5-2 6 13 4 5 0 10-4-1-3-7-3 9-3 6-6 6-2 2-4zM99 0l0 4 9 1 16 10 12-2 5-4-12-9z"/><path fill="#b9b9b9" fill-rule="evenodd" d="M329 595l3 1 1 3 12 0 8-7 1-3-2-2-8 1-8-3-5 4zM130 583l1 6 10 1 4 4 2 5 25 0 0-4-9-9-14-22-6 2-7 7zM250 558l-3 0-5 6-1 4 2 2 4 0 5-4 1-3zM275 549l3 6 7 3 4-2 0-5-2-2zM129 528l-7 4-5 6 0 6 3 4 3-5 1-7zM83 515l-5 0-2 3 3 4 3 0 2-3 1 1-1 10-9 12 3 6 2 0 7-6 4-8-1-16-2-1-3 3zM405 513l-4-3-9 0-8 3 0 12 4 3 9-1 5-4zM26 500l6 2 10 9 9-4 9 0-2-5-4-2-13 1-8-3-4 0zM159 495l3 9 3 0 2-2 0-3-3-3zM109 502l-6-5-9-3-1 6-9 9 1 2 16-1 7-3zM171 494l0 3 11 0 7 5 4-2 1-4-1-4-6 1-5-2-5 0zM8 491l-4 8-4 4 0 3 4 0 7 7 5-8 0-6-5-8zM342 466l-5 3-2 9-9 11 2 9-1 4-4 5 0 3 12 13 3-2 1-8 4-7 0-7-8-9 0-4 7-10zM137 447l0 3 5 0 6-3 8 2-1-4-2-1-10 0zM162 439l-2 4 2 3 7 2 1 9-3 8-11 8 1 9 3 2 13 1 9-3 10-1 2-2 0-11 4-11-1-9-4-3-23 1-4-6zM306 430l-10 1-8 11 2 8 0 12 7 9 3 9 3-1 5-10 1-8 5-7 0-6-3-6 0-9-1-2zM179 404l-2 0-7 8-5 8 0 6 10-3 5-6 1-7zM110 409l0 2 3 3 11 5 4 0 4-6 8-2 0-3-2-2-11-4-7 0zM258 395l-2 0-9 11-9 3-2 4-3 14 2 5 6 7 3 0 3-3 13 2 18-16 0-3-15-12-2-8zM282 384l-1-3-6-6-6-3-11 1-11 7-3 6 3 3 13 1 4 4 10 0 7-5zM188 373l-3-4-5 0-12 4-4 3 0 7 5 2 15-4 4-3zM28 357l0 8 5 0 3-2-1-5zM56 358l11 6 2-1 0-4-3-3-7 0zM138 321l2 1 11-6 3 0 3-4-7-3-11-2-2 3 2 4zM2 303l-2 2 0 17 16 1 3-6-3-8-9-6zM121 138l3 6 6 0 7-4-1-3-13-1zM226 113l0 2 9 8 12-7-2-4-8-3-7 0zM176 94l-9 0-7 6-12 5-5 4-1 4 3 6 9 9 20 2 4-2 1-7 2-2 9-3 0-8zM400 48l-11 9-6 3-8 1-7 7-21 5-4 6-6 5-15 1-4 4-5 0-5 4-1 7-3 4-4 2-5 0-3-2-2 2-1 13 5 4 5 7 2 9-1 2-4 2-2-1-2 2 0 5 2 1 6-5 5 0 5 2 3 3 0 2-3 3-9-2-2 9-9 8 0 4-8 0 0 2-4 2-11 17-10 7-2 4 2 4-1 4 7 6 0 4-2 2-5-4-4-1-4 3 0 6 4 9 8 9 32 17 7 0-5 7 0 4 8 4 0 5-2 2-1 6 1 5 5 8 2 12-3 10-4 5-7 5-1 6 7 15 3 21 3 4 0 3 2 3 6 3 0 3 3 3-7 7 1 5 4 4 4-5 4-1 7 5 0 4 6 10 11 7 6 1 11-8 5 3 1 9 2 2 21 2 11 5 4 4 1 11 5 8 1 4-2 7 4 8 0 4 8 7 8 3 6 8 0 2 8 5 2 3 1 8 4 6 4 2 5 0 8-3 2-14 5-14-7-12 13-8 7-11 11-2 7-8 20-7 3-5 12-12 3-14 10-10 4-8 8-7 5-10 14-1 12-4 0-34-4 1-6-2-7 0-1-3-4-3-3-12-6-7-5-11 0-21-7-7 0-3 3-5 1-11 3-5 0-12 3 2 4 8 2-2 17 0 10-4 0-142-19-5-9-10-10 0-6-3-11 1-5-2-11 0-8-8-2-6-2-1-11 0-8-4-14-1-2-3 0-4-3-3-9 1-5-5 0-6-2-4-8-6-25 0-14 4-7 0-5-3zM571 363l5 0 4 4 0 5-4 4-5 0-4-4 0-5zM540 358l3 0 4 4 0 3-4 4-3 0-4-4 0-3zM547 252l3-3 5-1 5 4 0 3-3 3-5 1-5-4zM257 208l6-4 9 0 8 3 11 0 8 4-3 7-3-6-5-3-11 1-7-2-6 3-5 0zM290 174l5 5-1 3-4-3zM173 29l2 5 4 0 3-2-6-5-2 0zM495 27l6 0 7-3 0-3-10-1-3 3zM378 16l-6-1-6 8 5 0 7-5zM346 17l-3-2-4 0-11 6-5 1 0 9 7 1 9-9 6-3zM245 15l-17 17-10 3-12 0-3 3 0 11-5 9 6-1 5-3 8 1 1-5-2-3 2-2 12-2 8-6 7-2 5-6 0-3zM571 4l-4-4-14 0-5 5-24 3-1 9 2 3 4 0 6-4 5 1 0 2-5 0-3 2-3 7 10 2 3 2 5 0 10-4 0-2-13-5 8 0 6-2 4-5 9-5zM99 1l1 3 6 0 19 11 11-2 4-3-1-3-5-2-5-5z"/><path fill="#b5b5b5" fill-rule="evenodd" d="M330 595l4 1 1 3 9 0 4-2 6-8-2-2-10 1-7-2-4 4zM130 584l0 3 2 2 7 0 4 2 4 8 25 0 0-4-9-9-14-21-7 2-6 6zM250 558l-3 0-5 6-1 4 2 2 3 0 6-4 1-3zM275 549l3 6 7 3 4-2 0-5-2-2zM128 528l-7 5-4 5 0 5 2 4 4-4 0-4 5-8zM90 518l-4 1-2 4 0 7-8 10 1 7 6-1 7-10zM78 515l-2 3 3 4 2 0 3-6zM403 511l-10-1-7 2-3 4 1 9 4 3 9-1 5-5 2-6zM27 499l15 12 9-4 8 0 0-3-6-4-12 1-8-3zM159 495l3 9 3 0 2-5-5-4zM109 502l-8-6-7-2-2 8-8 7 2 2 18-2 5-4zM171 495l0 2 8-1 12 6 3-9-17-2zM9 491l-9 12 0 2 4 1 5 6 3 0 4-7 0-6-3-6zM342 466l-4 2-3 10-9 11 2 10-5 8 0 3 12 13 3-2 1-8 4-7-1-8-8-9 7-11zM171 445l-2 3 1 10-2 6-4 5-7 3 0 10 5 2 14 0 10-3 6 0 2-5-1-5 5-16-2-8-5-2zM137 447l0 3 4 0 7-3 8 2-1-4-2-1-10 0zM162 439l-2 2 1 4 6 2 1-5zM309 431l-13 0-8 11 2 6 0 14 7 9 3 9 3-1 5-10 1-8 5-7 0-5-3-6 0-10zM178 405l-5 4-7 11 0 6 7-2 6-6 1-10zM110 409l2 4 12 6 3 0 6-7 7-2-4-5-10-3-6 0zM257 397l-9 9-7 2-4 3-3 9 0 9 3 5 6 5 5-4 5 0 3 2 6-1 15-15 0-2-13-10-4-10zM246 382l0 4 2 2 9 0 8 5 11-1 5-4-1-8-9-7-14 1zM187 374l-4-4-5 0-9 3-4 3-1 6 2 2 13-2 7-3zM29 357l-2 3 0 4 8 0 1-5zM56 358l11 6 2-2-1-5-2-1-6 0zM139 321l3 0 15-8-2-2-15-4-2 1 0 4 2 3zM3 303l-3 4 0 14 17 0 1-7-2-4-4-4zM6 314l3 2-2 4-3-2zM121 138l3 6 6 0 7-4-1-3-12-1zM226 113l0 2 9 8 12-7-1-3-10-4-5 0zM177 95l-9-1-9 7-16 8-1 3 2 5 12 12 21 0 2-8 3-3 8-3 0-6zM399 49l-11 9-12 4-8 7-6 0-14 4-5 7-6 5-12 0-6 5-6 0-4 4-2 7-4 4-4 2-3 0-2-2-4 1 0 14 5 3 8 11-2 3 2 1 0 3-2 2-5 1-3 4 6-5 10-2 6 7 0 4-3 4-10-1-4 9-8 7 6 10-2 2-5-4-2-4-4 0 3 3-7 1-10 13-1 5-5 4-4 0-3 6 5-5 12 0 6 3 13 1 7 5 0 5-3 2-6-8-20-1-6 3-5 0-1 3 6 5 0 5-3 2-7-5-3 0-3 3 0 5 7 13 6 5 30 16 9 1-6 9 2 3 7 2-3 14 7 12 1 14-4 11-11 9 0 6 7 15 3 20 7 10 8 4 0 6-8 7 1 4 2 2 3-3 6-2 7 3 7 17 10 6 6 1 4-2 4-5 4-1 5 4 1 8 2 2 18 2 15 7 3 4 1 11 6 8-1 11 3 6 0 5 7 6 8 3 5 5 2 5 8 4 3 4-1 7 5 8 8 1 4-3 4 0 0-13 3-2 3-8 0-6-6-8-1-4 17-10 1-5 2-2 11-3 6-7 21-7 16-18 1-12 13-13 1-4 10-10 2-7 3-3 1 1 4-2 12 0 9-4 0-32-20-1 0-4-3-4-2-10-7-9-5-12 1-18-3-4-7-2 4-8 0-7 4-14-1-6-4 2-5 0-5-5 3-5 7-1 4 4 5 0 7 9 15 1 12-5 0-139-7-4-12-2-4-6-7-5-10 0-3-2-29-1-7-5-3-10-2-1-8 1-12-5-14 1-1-10-3-2-7 2-4-2-2-3-2-10-7-6-5 0-4-2-6 2-15 0-12 4-9-3zM573 362l4 1 4 6-1 4-6 4-4-1-4-6 1-4zM540 358l3 0 4 4 0 3-4 4-3 0-4-4 0-3zM173 29l2 5 4 0 3-2-1-2-6-3zM495 26l5 1 6-2 2-3-10-1zM529 26l0 2 7 1 7 3 14-4-2-3-16-6-4 0zM375 17l-3-1-5 6 5 0 3-3zM244 16l-16 16-9 3-14 1-2 3 0 10-4 8 4 0 5-3 9 1 1-5-2-3 3-3 11-1 7-6 9-3 3-3 1-4zM345 17l-5-2-16 8 0 7 3 2 5-2 9-9 3-1zM571 5l-4-5-14 0-5 5-23 3-2 2 1 9 5 1 5-4 4 0 8 4 10 0 8-8 5-1 2-2zM100 0l1 4 8 1 13 9 10 0 8-4-1-3-5-2-5-5z"/><path fill="#b0b0b0" fill-rule="evenodd" d="M332 593l4 3 9 2 7-5 1-5-10 1-7-2-2 1zM131 582l0 5 3 2 7 0 3 2 3 8 25 0-1-5-9-9-13-19-4 0-5 3zM251 559l-4-1-5 7 0 4 4 1 6-5zM276 548l-1 3 4 4 7 3 3-2-1-6zM128 529l-9 6-2 4 0 4 2 3 3-2 1-6zM89 518l-4 3-2 12-7 8 0 3 3 3 8-6 3-6zM83 515l-6 1 0 4 2 2 4-2zM402 511l-9-1-7 2-3 5 2 9 4 2 5 0 5-3 5-10zM28 499l12 11 5 0 5-3 9 0 0-3-3-3-16 0-9-3zM160 495l-1 2 2 5 2 2 3-1 0-5zM109 503l-5-5-9-4-2 7-8 7 0 2 5 1 13-2zM8 492l-8 13 3 0 5 6 4 1 3-5 1-7-5-8zM171 495l0 2 11 0 8 5 3-3 1-6-17-2zM341 468l-4 3-2 8-8 9 1 13-4 5 0 4 10 12 3 0 2-10 4-7-2-8-7-7 1-5 6-8zM170 446l1 9-3 11-11 7 0 8 8 3 8 0 9-3 10-1 1-11 4-11-1-10-3-2zM137 449l4 1 6-3 7 2 2-1-3-4-9 0-6 2zM161 440l-1 3 4 4 3 0 1-5-5-3zM308 431l-11 0-5 5-3 6 2 5-1 13 2 5 5 5 3 9 3-1 4-7 2-11 4-6 0-6-3-7 0-8zM178 407l-7 7-4 8 1 1 5 0 5-5 2-6zM110 410l2 3 6 3 9 2 5-6 5-2 1-2-6-4-11-2zM257 400l-3 1-7 7-7 1-4 6-2 8 1 7 8 8 7-5 5 0 3 2 3-1 13-12-1-4-10-9-4-8zM248 382l0 2 3 3 7 0 9 4 7 0 6-3 1-2-2-7-6-4-12 0-8 3zM183 373l-2-2-10 2-6 5 0 4 2 2 10-2 7-5zM27 361l1 4 8-2 0-3-3-2-3 0zM59 357l5 5 4 1 0-5-2-2zM138 309l2 4 0 7 3 0 12-6 0-2-11-4zM5 306l-5 6 0 8 0-6 8-4 5 3-1 7 3 0 0-7-3-4zM122 137l0 5 2 2 5 0 8-4 0-2-2-1zM227 112l0 4 7 6 3 0 9-6-2-4-8-3-5 0zM176 95l-9 0-6 6-10 3-8 6 2 8 10 10 21 1 2-2 1-8 9-4 0-6zM399 50l-10 8-12 6-8 6-10 0-11 4-5 8-6 5-10-1-6 5-6 0-3 3-1 4-2 2-1-1-3 6-8 3-3-3-3 0-1 15 3 2 3 0 3-3 2 7 13 15 3 6-1 9-4 3-8 0-2 4-10 8 4 9-2 4-3-2-2 1-4-2-5 0-9 10-2 8 8 1 5 3 11 0 6 4 5-1 2 3 0 4-2 3 2 2-8 4-3-3-3-7-4-2-19 1-8 3 4 5 0 6-3 3-2 0-5-4-4-1-2 2 0 6 5 10 4 4 16 10 19 9 6-1 3-4 3 3-1 4-8 6 0 3 7 1 2 2-4 14 2 0 3 3 4 16 0 7-4 13-11 7-1 6 7 15 3 20 7 9 6 2 4 5 0 5-9 7 0 3 9-3 6 2 5-2 2 4 0 8 3 7 8 6 8 1 7-7 5 0 4 3 2 7 3 4 16 2 16 8 3 5 1 9 8 8-1 11 2 5 0 6 6 3 5 5 4 0 1 3 13 13 3-1 11 5 6-1 3-3 2 0 3-10-2-4-8-7-1-3 3-3 12-6 2-3 1-11 5 4 9-1 6-6 24-9 6-9 5-3-9-8 3-2 9 4 2-1-1-12 14-12 2-5 10-10 1-6 2-2 7-2 12 0 9-3 0-32-14 1-5 2-3 0-2-2 1-9-2-3-1-9-7-8-4-10 0-21-6-2-7 0-3-2 0-3 8-8 3-14 0-9-7 0-4-4 0-3 4-4 7 0 3 3 4-2 3 1 12 11 9 0 11-5 0-137-8-4-11-2-6-8-5-3-11 0-3-2-9 1-6-2-11 2-7-2-5-5-2-5 0-6-10 1-7-4-10 3-6 0-4-4 1-9-3-2-5 2-5-1-3-4-2-10-6-6-31 0-12 4-8-3zM571 362l5 0 5 5 0 5-5 5-5 0-5-5 0-5zM539 358l5 0 3 3 0 5-3 3-5 0-3-3 0-5zM174 27l1 7 4 0 3-2zM497 26l4 0 5-3-8-1zM530 25l2 4 5 0 4 2 6 0 9-3 0-2-11-3-5-3-6 0zM370 19l0 2 2-1zM243 18l-2 1-9 11-7 4-20 3-2 13-3 6 5 0 3-2 10 0-2-6 2-4 11-1 10-8 8-3 2-5zM344 17l-5-1-13 8 0 5 4 1zM571 5l-4-5-14 0-5 5-13 1-10 3-1 8 2 3 8-4 5 0 8 4 8 0 8-8 6-2 2-2zM101 0l1 3 8 2 13 9 8 0 6-2 3-3-11-9z"/><path fill="#ababab" fill-rule="evenodd" d="M334 593l5 3 7 1 5-4 1-4-16-1zM131 583l0 3 2 2 9 1 4 4 2 6 24 0-1-5-10-10-5-9-8-8-6 1-6 6zM250 559l-4 1-4 7 1 2 5 0 3-3 1-3zM276 549l0 3 10 6 3-2-1-6-7-2zM125 532l-4 2-3 4 1 6 3-1zM88 519l-3 3-2 12-6 6 1 6 5-1 6-9 1-8zM83 515l-4 0-2 2 0 3 2 2 4-2zM402 511l-7-1-10 3-1 11 5 4 8-2 5-6zM29 499l12 11 3 0 5-3 9 0 0-4-3-2-16 0-4-2zM159 496l3 7 3 0 1-4-4-3zM108 502l-6-5-8-2-1 6-8 7 0 2 4 1 13-2 5-3zM9 492l-7 11 9 9 5-10-3-8zM171 495l1 2 11 0 5 4 4 0 1-3-1-5-7 0-4-2-6 1zM340 470l-2 2-2 7-8 8-1 3 3 10-5 7 0 3 9 11 3 0 1-9 4-7 0-5-9-9 2-7 5-6zM171 446l0 12-2 7-4 5-5 1-3 3 0 6 4 3 15 0 7-3 7 0 2-2 0-7 4-11-1-12-4-2zM137 449l4 1 6-3 8 1 0-2-3-2-12 1zM161 440l0 4 6 3 0-6zM308 432l-11 0-6 7 0 4 2 3-2 7 0 9 8 10 0 4 2 3 6-9 1-9 5-9-3-9 0-9zM178 409l-5 4-3 8 3 0 4-3 2-4zM319 405l-3 2 2 0zM258 403l-4 0-6 6-9 2-3 5-1 12 3 5 5 4 8-7 10 0 10-7-2-8-7-6zM111 409l0 2 3 3 12 4 6-7 4-2 0-2-5-3-10-2zM279 381l-2-3-4-2-6 0-15 5-1 3 15 5 9 0 4-3zM181 373l-5-1-7 3-3 3 0 4 5 1 7-2 4-4zM35 360l-4-1-3 3 0 2 6 0 2-2zM62 357l0 2 3 3 3 0-2-5zM139 309l3 10 12-6-12-5zM122 138l0 3 3 3 7-1 5-3 0-2-2-1zM227 113l1 4 6 5 12-6-1-3-10-4-3 0zM292 105l-2 14 2 2 5 0 1-10-2-4zM176 96l-7-1-8 7-11 3-6 4-1 4 2 4 11 11 20 0 2-10 8-5-3-9zM398 51l-25 19-15 1-10 4-8 12-5 2-8 0-4 3-7 0-4 12-7 5-5 0 1 9 2 4 4 1 3 3-1 6 9 13 0 10 3 4-4 4-9 1-9 6-4 0-2 3 4 10-3 2-3-2-3 1-5-2-5 2-5 6-1 8 6 0 6 3 21 1 6 7 4-1 2 2 1 8-3 3-16 3-4-4-3-7-3-2-18 1-7 3 2 3 0 7-4 4-10-5-2 1-1 5 5 10 5 5 16 10 9 3 8 5 6 0 2-2 2-25 2 0 0 17 4 12 2 2 0 6-7 14 3-4 3 0-1 20 3 7 0 9-3 6-1 7-4 4-5 2-2 2 0 3 7 16 3 21 5 6 7 3 3 3 2 10 6 0 6 5 1 11 3 7 9 7 6-1 5-6 6 0 6 5 3 7 3 2 16 3 13 7 4 6 0 6 2 4 9 9-1 18 2 2 8 0 4 2 10 10 3 7 6 1 7 4 8 0 5-2 1-6-4-5-7-2-5-5 0-2 5-6 11-4 5-5 2-12 3-1 5 5 4 1 5-2 4-7 7 0 17-6 8-11-9-8 1-6 5-4 7 5 1-10 14-9 4-8 10-7 2-7 8-5 12 0 10-3 0-29-12 1-7 3-5 0-4-4 2-4 0-16-7-8-5-12 1-17-4-3-11 0-3-2-2-4 0-6 8-5 4-12 0-8-8-4 0-5 6-4 6 2 9-1 4 2 4 7 4 3 9 0 11-6 0-133-8-5-9-1-4-2-3-5-6-5-12 0-4-2-7 1-6-2-4 0-3 2-10-1-7-4-3-7-5-2 2-4-8 0 2 2-1 2-3 0-6-4-11 2-6-6 1-9-13-1-3-6-3 0 0-9-5-5-32 0-7 3zM442 485l0 7-3 1-2-4 2-3zM457 476l1 2-2 2-1-2zM543 410l3-2 4 3 1 3-4 2-3-2zM570 362l7 0 4 4 0 7-4 4-7 0-4-4 0-7zM541 357l3 1 4 5-1 3-5 4-3-1-4-5 1-3zM174 28l1 6 6-2-1-2zM503 23l-3-1-2 3zM531 24l1 4 14 2 8-3-2-2-12-4-6 0zM244 21l-2-1-9 10-8 5-18 2-3 4 0 7-3 7 15 0 2-2-3-6 2-3 13-2 10-9 7-3 0-4zM342 17l-4 0-10 7 0 4 3 0zM570 4l-4-4-12 0-5 5-17 2-5 2-2 2 0 6 1 2 2 0 4-3 6-1 10 5 6 0 4-2 6-7 4-1 2-2zM102 0l22 14 9-1 6-4-10-9z"/><path fill="#a6a6a6" fill-rule="evenodd" d="M336 593l6 3 4 0 4-3 1-3-14-1zM137 573l-5 9 0 4 11 3 4 4 1 6 24 0-3-7-6-5-6-10-4-4-4-1-2-4-3 0zM249 559l-3 2-3 6 2 2 6-4zM276 549l2 5 10 3 1-5-2-2-7-2zM123 535l-4 3 1 5zM88 521l-2 0-1 10-2 4-6 6 1 4 4 0 6-8zM83 515l-6 2 1 4 3 1 2-2zM403 512l-7-2-10 3-2 2 0 9 6 4 5-1 6-6zM445 500l2 7 3 4 4 2 5-1 6 4 6-3-6-3-4 0-4-4-5-1zM30 499l11 11 3 0 8-4 6 0 0-2-3-3-16 0-4-2zM160 496l2 6 3 1 1-4zM107 502l-9-7-3 0-2 7-8 7 15 0 3-1 4-4zM9 493l-6 11 8 8 4-6 0-7-2-4zM171 496l9 0 8 5 3 0 2-3 0-4-5 0-8-3-7 2zM339 476l-9 9-2 4 0 4 4 8-5 8 8 10 2-2 0-5 4-7 0-5-8-7-1-6zM195 449l-3-2-20-1-3 21-2 3-5 1-5 4 1 6 7 2 9 0 11-4 4 0 2-2 0-5 5-14zM155 447l-1-2-8-1-7 2-2 3 4 1 5-3zM161 440l0 4 2 2 5-1 0-2-3-3zM308 433l-13 1-3 5 2 11-3 5 0 6 2 4 5 4 3 8 3-2 3-6 1-10 4-6zM178 411l-4 2-2 6 2 0 3-3zM258 405l-4 0-8 6-5 0-4 4-2 10 1 4 5 6 3 0 9-8 10 0 6-4-1-8zM112 412l8 4 5 0 9-9-8-4-6 0-8 6zM278 382l-3-4-4-1-13 3-4 4 13 4 8-1 3-3zM180 374l-5-1-5 2-3 3 0 3 6 1 5-2 3-3zM29 363l4 1 2-1 0-2-4-1zM63 358l2 3 2 0-1-3zM140 309l3 9 9-4 0-2zM250 227l0 4 4 8 6 6 16 10 10 3 8 5 3 0 3-3 2-32-7-7-5-9-6-1-17 4 0 9-6 6-9-5zM122 141l6 3 6-2 3-3-2-2-12 0zM227 113l0 2 6 6 5 0 8-6-3-3-9-3-4 1zM292 105l-2 13 2 3 4 0 2-2 0-7-2-4zM174 96l-6 0-6 7-13 3-5 4 0 4 3 5 9 8 19 0 0-6 7-8 1-5-3-6zM454 51l-19 1-9-2-11 4-7 0-7-3-15 10-10 10-19 1-10 5-4 9-3 3-16 4-7 0-1 9-5 7-8 3-2 5 3 5 5 1 7 6 5 7 3 8-4 4 0 6 3 2 0 2-4 7-9 10-13 6-1 4-13-1-6 2-4 10 12 4 19-1 6 6 6 1 3 3 1 10-3 4-12 2 3 6-1 25 3 7 4 4 0 6 4 1-5 10 6 0-6 4-4 9 0 6 3 7 0 9-4 9 0 6-4 5-5 3 1 6 5 8 0 11 2 5 0 6 3 6 9 4 6 11 5 2 7 6 2 12 9 11 4 0 7-7 7 1 13 14 14 3 3 3 11 5 3 4 2 11 11 10-2 7 1 11 11-2 6-6 11-5 9-7 6 0 8 6 10-13 6 6 5 1 4-7 3-2 12 0 5-2 4-4-1-8 3-4-1-11 18-16 0-5-5-9 2-3 13 3 10-5 3-4 0-3 5-4 13 0 10-4 7 0 0-26-11 1-8 4 2 4-1 7-5 4-5 0-6-6 0-5 5-6-8 0-8-5 0-3 7-7 4 2 4-1 2-5 0-6-9-12 0-22-7-4-10 2-3-3-4-11 0-9 2-2 5 0 7-11 0-4-7-5 0-3 4-4 21 0 9 11 4 1 6-1 10-6 0-131-10-6-10-1-5-7-6-4-22-1-6-2-6 2-13-1-5-2-6-8-8-2-9-5-4 1-5 6-8-12 0-9-9 1-12-6 3-10zM540 357l5 1 3 4-1 5-4 3-5-1-3-4 1-5zM174 28l1 6 6-2-1-2zM532 25l1 2 6 1 12-1-11-5-5 0zM243 22l-2 0-6 7-11 7-13 1-5 2-4 15 15 0 1-2-4-6 6-4 11-1 8-9 6-3zM340 18l-7 3-4 5 3 0zM570 5l-4-5-12 0-3 4-4 2-13 1-7 3-1 6 4 1 2-2 8 0 6 4 7 1 5-3 4-7 7-2zM104 0l20 13 6 0 7-3 0-2-9-8z"/><path fill="#a1a1a1" fill-rule="evenodd" d="M337 590l2 4 4 1 6-3zM136 575l-4 9 1 2 11 3 3 3 2 7 22 0-1-5-9-9-6-10-7-1-3-5-4 1zM249 560l-4 4 1 4 4-3zM276 550l3 4 6 3 4-2 0-3-4-3-6-1zM87 522l-1 9-8 10 1 4 2 0 7-9zM82 515l-4 1-1 2 3 4 4-5zM401 511l-9 0-6 2-2 3 1 9 3 2 6 0 6-5 3-8zM451 507l0 2 2 1 0-2zM30 500l12 10 9-4 7-1-4-4-11 1-9-3zM161 497l0 3 3 3 2-3-1-2zM106 502l-5-5-5-2-2 6-8 7 0 2 15-2 4-3zM10 493l-7 11 6 7 3 0 3-6 0-5zM172 494l1 3 8-1 8 5 3-1-1-6-8-2-8 0zM332 485l-3 4 0 4 6 8-4 6 0 3 4 5 5-10 0-5-10-10zM195 450l-6-3-17 0-2 20-3 4-8 2-1 7 3 2 15 0 13-4 6-18zM154 446l-4-2-9 1-3 2 0 3zM162 440l-1 3 3 3 3 0 1-3-3-3zM308 434l-12 1-3 4 2 5 0 6-3 4 0 8 6 6 3 7 2 0 4-7 0-8 4-7zM177 412l-3 3 0 2 3-2zM266 414l-9-7-3 0-7 5-8 1-3 6 0 8 5 7 2 0 9-8 9 0 5-2 2-2zM113 412l5 3 6 0 9-8-5-3-7-1-8 6zM276 381l-2-2-13 1-4 2 0 2 6 2 9 0 4-3zM180 375l-3-2-8 4-1 4 9-1 3-3zM30 362l3 1 1-2zM65 358l-1 1 2 2 1-1zM141 310l2 7 8-3-3-3zM251 227l0 5 7 11 7 3 9 7 11 4 8 5 6-1 3-32-13-17-7 0-12 3-2 2-1 8-4 5-5 0-4-3zM122 139l1 3 4 2 7-2 2-2 0-2-3-1-9 0zM227 113l1 3 6 5 3 0 8-5-1-3-7-3-7 0zM291 106l0 14 5 1 2-3 0-5-2-5-2-2zM174 97l-7 1-1 6-8 0-7 2-7 5 3 7 10 9 15 0 2-2 0-5 7-10-1-6zM429 51l-5 0-10 4-6 0-7-3-3 1-11 8-7 9-6 4-14-2-12 5-3 3-1 8-3 4-15 1-3 2-4-1-2 2-1 9-9 9-3-2-2 2 1 7 6 1 7 5 6 7 3 7 0 7-3 3 2 7-4 7-1 6-6 6-18 9-15 0-1 3 2 2-6 4 12 4 18-2 7 7 4 0 4 4 2 15-4 5-4 1 1 7-5 7-1 14 4 5 5 1 4 3 2 8 3-1 4 3-3 7 7 0 2 2-5 3-15-1-6 6-1 10 3 6 0 10-4 8-1 11-7 6 2 6 4 5 0 13 3 14 9 5 3 3 2 6 8 5 7 7 1 6 9 14 2 0 2-4 4-3 9 2 13 13 12 3 6 5 10 4 4 4 2 12 13 12-3 5 1 8 11-3 26-16 16 1 6-9 7 7 2 0 4-6 7-2 9 0 4-2 1-4-6-5 0-3 11-5-2-7 1-3 7-6 0-2 3-3 4-1 4-5-6-11 2-10 3-4 3 8 4 1 11-17 4 4 22 0 9-6 8 0 0-20-10 0-8 5 1 8-5 5-7 0-5-5 0-7 3-3-9 0-5-3-6-1 0 7-4 4-5 0-4-4 0-5 4-4 4 0 4-5 6-3 7-7 5 0 4-3-1-4-13-12 6-12-1-8-4-2-7 7-5 0-3-3 0-9-4-10 0-9 4-7 9-8 0-2-5-4 0-5 5-4 19 0 4 2 4 7 5 3 7-1 10-6 0-129-10-6-10-1-9-10-3-1-10 1-12-3-21 1-9-2-4-3-3-6-14-6-3 0-2 2-1 5-4 2-4-4-4-10-1-9-7 0-8-3-5 0-2-2 0-3 3-5 0-6-2-2-18 1zM174 29l0 3 2 2 5-2-5-4zM242 25l-1-1-15 12-18 3-2 2-2 12 13 1 0-4-3-3 0-2 5-3 9 0 5-3zM534 25l15 2-2-2-7-2-4 0zM568 4l-4-4-9 0-6 6-12 1-8 3-1 5 11-1 6 4 9 1 4-4 2-11 1-1 4 3 3 0zM106 0l17 12 9 0 4-2 0-2-8-8z"/><path fill="#9c9c9c" fill-rule="evenodd" d="M338 591l1 2 4 1 4-2zM138 573l-5 9 0 3 12 4 3 4 1 6 22 0-1-4-8-8-8-12-7 0-3-4zM249 561l-2 1-1 4 3-1zM277 549l1 4 8 4 2-1 1-3-2-3zM87 532l-8 8 0 4 3 0 5-7zM82 515l-4 2 1 4 4-2zM402 512l-9-1-6 2-3 5 1 6 4 3 6-1 5-5zM31 500l10 9 16-4-4-4-12 1-8-3zM335 497l4 5-2 4 2-2 0-3zM161 497l3 6 2-3zM104 500l-8-4-2 6-8 7 4 1 10-2 4-3zM10 494l-6 8 0 3 7 6 3-4 1-6-3-6zM172 495l9 1 8 5 3-2 0-4-9-3-7 0zM194 450l-3-2-18-1-3 22-4 3-6 1-2 6 5 3 11 0 14-5 6-15zM138 449l2 1 5-3 9-1-12-1-3 1zM162 440l-1 3 3 3 3 0 0-4zM307 435l-12 2 1 12-4 7 1 7 9 10 4-4 1-11 4-7zM265 414l-7-5-4 0-7 4-6 0-3 2-2 5 1 8 5 5 9-8 12-1 4-4zM114 412l2 2 7 0 8-7-5-3-6 0-6 6zM259 382l0 2 11 1 3-2-1-2zM179 375l-4-1-4 2-2 4 6 0 4-3zM142 311l2 5 6-2-1-2zM252 228l0 5 7 10 6 2 10 8 9 3 10 6 5-2 2-31-12-16-4-1-16 5-2 10-4 4-5 0zM123 138l0 3 2 2 5 0 6-3 0-2-5-1zM228 112l0 4 6 5 10-5-1-3-7-3-5 0zM292 106l-1 13 4 2 3-6-3-8zM174 99l-5 0 2 5-3 3-12-2-9 4-2 2 1 4 11 11 14 0 8-16 0-5zM451 52l-8 2-20-2-9 4-16-2-11 8-5 7-9 7-15-2-11 4-3 8 0 6 2 4-2 2-8-4-8 0-5 3-3 0-3 8-6 6-4 8-2-6-2 0-1 6 3 3 2 0 1-3 2 3 7 4 4 4 4 8 1 12-1 8-4 8 0 7-5 5-14 5-3 3-13 0 3 12 3-2 15-1 6 8 4 0 4 4 3 14 4 8 13-1 2 2-2 4-9 3-13 8-5 1-3 6 0 3 3 4 15 7 0 4 12 13-5 6-20 0-4 4-1 10 4 6 0 8-5 10-1 12-6 6 1 4 5 6-1 11 3 15 12 9 4 8 5 2 7 6 5 10 11 0 4 4 9 3 11 11 16 6 5 5 9 3 3 4 2 12 17 14-3 4 3 3 5-1 7-5 9-3 8-7 6-1 9 2 3-2 4-8 3-2 8 4 17-3 2-3-5-7-1-4 12-4 1-2-2-4 0-5 9-5 0-3-7-4 2-2 10 2 4-2-1-6-4 0-4-4 0-6 3-3 2 0 5-8 3-2 4 6 6-7 4-10 3-3 5 0 5 8 10 4 5-1 6-7 5-3 7 2 0-14-9 0-8 4 0 8-7 5-6-1-4-4 0-9-4 1-8-4-5 0 0 5-3 3-4 1-3-1-4-6 1-4 7-7 8-5 6-8 7-3-2-3-14-10 0-2 10-9 0-4-7 4-4 0-7-7 1-11-3-6-1-10 2-9 10-10-4-5 0-3 5-5 2 0 0-6 8 5 10 0 4 2 4 6 5 4 7-1 10-6 0-127-10-6-12-2-8-9-15 0-9-3-30 0-5-3-5-8-9-4-5 0-1 5-3 3-4 0-4-3-1-7-3-5-2-8-19-2-3-3 0-4 4-5 0-6zM345 246l1 2-2 2 0 9-3 1-4-4 0-6zM237 30l-12 7-16 2-3 5-1 8 5 2 6 0 1-3-4-5 4-4 14-2 3-3zM174 29l0 3 2 2 5-2-4-3zM559 0l-3 0-5 6-19 3-2 4 7 0 9 5 6 1 4-3 0-9zM108 0l5 5 10 6 6 1 6-3-8-9z"/><path fill="#969696" fill-rule="evenodd" d="M137 575l-3 6 0 4 10 3 4 4 2 7 20 0-2-6-5-4-5-9-4-4-8 0-3-4-3 0zM248 562l-1 3 2-1zM277 550l2 3 9 3-1-6zM86 536l-7 5 1 3 5-4zM83 516l-4 0-1 4 3 1 2-2zM402 513l-3-2-5 0-8 3-1 10 5 3 4-1 6-6zM32 500l9 9 16-4-2-3-15 0zM162 498l0 3 3 1 0-3zM104 501l-8-5-1 5-9 8 3 1 10-2 4-3zM10 495l-6 9 7 7 3-4 1-5-2-5zM172 495l10 1 6 4 3 0 1-2-1-3-9-3-6 0zM193 450l-20-2-2 21-3 3-8 2-2 3 1 3 12 2 15-5 3-3 5-14zM138 449l1 1 9-4 5 0-11-1-3 1zM162 440l0 4 4 2 1-4zM307 436l-6 0-5 2 1 9-4 8 0 7 9 9 2 0 2-4 0-9 4-6zM265 416l-4-4-6-2-8 4-7 0-3 4-1 5 2 5 3 3 2 0 8-7 12-1 2-2zM130 407l-8-3-7 6 0 2 5 2zM261 382l2 2 5-1zM178 375l-4 0-3 4 2 1 5-2zM599 363l-15 4-1 6-6 6-9-1 8 5 3 0 3-5 8-7 9-2zM144 312l0 3 5-1-2-2zM253 230l3 9 4 4 5 1 8 7 20 10 4 0 2-2 2-29-13-17-5 0-12 4-2 2-2 9-5 4zM304 185l-6 4-7-2-2 1 0 3 2 2 11 1-1-5zM123 141l2 2 5 0 5-2 1-2-12-1zM303 113l-1 5 4 4 0-6zM228 112l0 3 5 5 4 0 6-4-2-4-6-2-4 0zM292 106l-1 12 1 2 4 0 1-9zM177 105l-3-1-4 4-14-2-9 4-1 3 2 4 8 8 11 1 3-1 7-14zM426 52l-12 5-16-2-10 7-5 7-9 8-13-2-9 3-5 0-3 11 1 5 4 5-9 3-5-6-8 0-7 4-3 7-7 7 1 7 3 3 4 1 6 8 3 11 0 10-5 12 1 8-12 11 1 14 9 6 3 5 3 11 2 2 11 0 2-4 4 2 6 7 0 9-2 2-3-3-5 0-10 3-5 3-8 10-4 2 1 2 5 1 5 5 4 0 3-4-2-8 4-5 13-2 1 2-1 4-2 1 0 10-4 3-5-1-6 7 6 4 4 5 0 9-8 4-16-1-4 4-1 9 6 7 0 3-3 8-3 3-1 13-5 8 0 3 5 6-1 15 1 9 2 4 6 3 5 5 1 4 10 7 10 12 11 0 6 7 9 4 8 8 7 2 8 4 6 6 9 3 4 4 0 7 2 6 5 5 15 9-2 4 4 0 8-5 9-3 6-6 16 0 4-7 5-4 3 0 5 3 13-2 2-4-6-7 0-4 11-5-1-7 4-7 1-7 3-3 7-2-3-3 1-11 15-13 4 2 3-3 3-6 1-9 9 0 4 2 0-3-2 1-10-5-2 6-3-2-4 3-3 0-6-6 1-5 8-9 8-6 2-4-3-9-6-8 1-8-7-10 1-11-3-6 0-14 2-7 9-8-3-4 1-6-3-4 0-4 5-5 4 1 8 7 13 1 10 11 5 0 12-7 0-125-12-7-10-1-10-9-15 0-8-3-5 0-4 2-9-2-12 0-5-3-6-9-9-3-6 8-6 0-4-3-1-8-5-12-9-2-10 0-4-4 0-5 5-5-1-5-4-1-4 2-6 0zM235 32l-8 5-7 0-11 3-2 3 0 9 8 2 1-4-4-4 4-4 14-2zM174 30l0 2 3 2 3-2-3-3zM533 10l0 2 6 1 8 5 6 0 2-2-1-4-5-5-12 1zM109 0l6 6 10 5 6 0 3-2-9-9z"/><path fill="#919191" fill-rule="evenodd" d="M137 576l-2 8 10 4 4 4 1 7 19 0-1-5-7-7-6-10-8 0-5-4-2 0zM278 550l5 5 5 0 0-4zM85 538l-2 0-3 3 0 2 2 0zM83 516l-4 0-1 3 3 2 2-2zM401 512l-6-1-8 3-2 2 1 9 9 0 6-8zM33 500l9 9 10-4 4 0 0-2-2-1-15 0zM162 498l1 4 2 0 0-3zM103 501l-4-4-3 0-2 6-7 6 11-1 4-3zM10 496l-5 6 0 3 4 5 3 0 2-4 0-6zM173 494l0 2 9 0 6 4 3 0-1-5-9-3zM193 451l-4-2-15 0-2 9 0 10-3 4-8 2-2 2 0 3 4 2 12 0 11-5 7-14zM138 449l4 0 5-3 5 0-9-1-3 1zM163 440l-1 4 4 2 1-3zM306 437l-5 0-4 2 0 11-4 7 1 5 9 8 2-2 0-9 4-7zM264 416l-6-4-18 3-3 4 0 6 3 4 3 0 6-5 13-2 2-2zM129 407l-3-2-5 0-5 6 4 2zM178 376l-2-1-4 3 3 1zM590 367l-6 2-1 4zM599 364l-5 2 3 1 2-1zM145 313l1 2 2-1zM340 240l-8 1-6 4-1 8 3 5 2 0-2-7 2-6zM255 232l1 6 3 4 9 3 6 6 13 5 7 5 4-2 2-30-11-15-7 0-11 4-3 9-4 5zM124 139l2 4 9-3 0-2zM304 113l-2 2 0 3 4 4 0-5zM228 113l0 2 6 5 6-2 3-3-1-2-8-3zM292 107l0 12 3 1 2-2 0-6-2-4zM148 111l0 4 5 7 5 3 9 0 3-2 5-11 0-3-11 0-6-3zM425 53l-14 6-12-3-11 7-5 7-9 8-26 0-3 5 0 10 4 5 3 1-9 6-3 0-5-4-1-3-9 1-14 15 2 7 5 3 5 6 3 6 2 11 0 7-4 9 0 14-9 9 0 13 8 7 5 11 5 2 9-1 11 8 0 15-4 7 5 7-1 5-3 3-5 1-2 2-2 6 3 11-6 8-20 0-4 3-1 8 6 6 1 3-2 8-6 8 0 9-4 10 5 7-2 6 2 21 12 10 1 4 9 6 11 11 13 1 6 8 4 1 11 10 10 3 11 10 11 4 3 4-1 5 2 7 4 4 20 11 13-5 7-7 16-1 8-10 5-1 5 3 9-2 0-4-4-2 1-8 7-4 8-16 1-6 7-5-1-8 2-6 7-8 9-5 6-7 1-7-8 1-5-5 1-7 8-9 7-5 2-4-3-9-6-6 0-11-6-8 1-13-3-7 2-19 9-9-3-4 1-4-4-10 6-5 5 0 10 9 11 0 11 11 6-1 9-6-2-10 3-3 0-110-10-6-13-2-7-7-5-2-10 1-10-4-7 2-10-2-14 0-5-3-2-5-4-4-5-2-3 0-2 4-4 3-9-1-2-2-1-9-5-11-6-2-13 0-4-4-1-7 6-5-1-3-4 0-5 3-5-3zM325 195l1-1 1 2-1 1zM233 34l-8 4-8 0-7 2-2 3-1 9 9 1 0-3-5-4 6-5 9 0 5-2zM174 30l1 3 5-1-4-3zM535 10l1 2 5 1 5 4 7 0-1-5-4-4-8 0zM110 0l6 6 6 3 10 0 0-2-6-6z"/><path fill="#8c8c8c" fill-rule="evenodd" d="M137 577l-2 6 11 5 3 3 2 8 18-1-14-20-10-1-3-3-2 0zM279 550l0 2 7 4 2-1 0-3-2-2zM84 539l-4 3 2 0zM83 516l-4 0-1 3 3 2zM400 512l-7 0-6 2-2 3 0 6 3 3 6-1 7-9zM34 501l7 7 4 0 11-4-2-2zM162 499l2 3 1-2zM102 500l-5-3-2 5-8 7 12-2 3-3zM12 497l-2 0-5 6 5 7 4-4 0-5zM173 495l6 0 9 5 3-1-2-4-9-3-5 1zM192 452l-2-2-15-1-2 3-1 18-3 3-7 1-2 2 0 3 6 2 7 0 13-6 7-15zM138 449l12-3-7-1-3 1zM162 441l2 4 3 0-2-4zM300 438l-2 2 0 8-4 8 0 5 8 7 2 0 1-12 3-4 0-7-2-7zM263 417l-1-2-5-2-14 2-5 3-1 5 2 4 3 1 7-5 13-2zM128 407l-5-2-5 4 0 2 2 1zM177 376l-2 0-1 2 2 0zM272 218l-3 4-1 6-5 5-6 1 1 6 10 4 7 7 11 4 7 5 3 0 2-2 2-27-2-4-11-13zM320 194l-2 5 5 5 4 8 3 3 3 0-4-11zM124 139l1 3 7 0 3-2-1-2zM303 114l-1 3 2 4 2 0-1-7zM228 113l1 3 4 3 4 0 5-3-1-3-8-3zM292 107l0 12 2 1 3-2 0-5-2-5zM149 113l3 7 5 4 4 1 8-2 4-9-1-3-7-1-6-3-4 1zM424 54l-11 6-16-2-9 6-4 6-10 9-16-1-3 2-3-2-4 0-2 2-1 13 3 4 4 1 1 2-10 7-5 0-8-7-5 1-13 14 2 5 6 5 6 10 3 15-4 12 1 15-2 5-5 4 1 6 3-3 3 2 7 14 2 9 4 3 5 1 10 7 0 17-3 3 6 5 0 6-2 6-9 9-1 13-5 7-5 2-19 1-2 7 8 7-3 12-7 10-1 17 4 6-3 9 2 18 7 5 10 12 16 13 14 1 3 5 9 6 5 6 14 5 9 10 12 4 3 4 0 12 4 4 17 7 2 3 4 0 9-3 9-9 14 0 9-10 10-2 3-4 1-7 8-6 8-14 1-6 5-5 2-7-1-9 4-8 4-4 11 0 5-6 1-7-4 2-4-1-5-7 4-9 14-13-1-7-8-9 0-10-6-9 1-13-2-3 0-20 1-3 9-9-2-3-1-8-3-4 1-4 4-4 8-1 9 9 12 0 11 11 5-1 7-5-1-12 4-2 0-107-13-8-8 0-13-9-12 0-5-3-14 1-6-2-18-1-5-5-2-5-3-2-5 0-7 6-9-1-3-3-1-10-3-7-3-3-16-1-5-3-4-10-5-5-9-3zM232 35l-5 3-8 0-9 3-3 10 2 2 6 0 0-4-5-3 6-5 12-1 4-3zM175 29l0 4 5-1zM536 10l12 7 4-1 0-2-5-5zM111 0l3 4 5 3 12 2 0-2-7-6z"/><path fill="#878787" fill-rule="evenodd" d="M138 576l-2 7 13 7 2 9 16 0 0-3-13-18-8 0-5-3zM279 551l5 4 4 0 0-3-3-2zM80 516l-2 3 4 1 1-3zM401 513l-8-1-5 2-3 5 1 5 4 2 5-2 5-6zM34 501l7 7 4 0 10-4-2-2zM163 499l0 2 2 0zM102 501l-3-3-3 0 0 3-8 8 12-3zM12 498l-2 0-4 4 0 3 4 5 3-2 1-7zM173 495l7 0 9 5 2-2-2-3-6-2-8 0zM192 453l-2-2-15-1-2 7 0 13-4 4-8 1-1 3 2 2 13 0 8-4 4-4 5-10zM148 446l-4-1-6 3 3 1zM162 441l2 4 3-1-2-3zM305 439l-6 1-1 11-3 5 0 5 6 5 3-1 0-8 3-5 0-9zM262 417l-5-3-15 2-4 3 0 5 2 2 3 0 7-4 9-1 3-2zM119 410l3 0 5-3-5-1zM272 219l-2 2-2 8-5 5-5 1 1 5 9 3 10 9 9 3 6 4 3 0 2-3 0-28-10-13-5 0zM321 199l9 12-5-10zM125 141l6 1 4-3-8-1-2 1zM303 114l0 5 3 2-1-6zM229 112l0 3 4 4 3 0 6-4-6-4zM151 113l1 6 7 5 8-1 3-3 2-6-1-2-12-4-4 1zM293 107l-1 11 4 1 1-6zM425 55l-16 8-7-3-5 0-9 5-4 6-10 9-15-1-3 3-4-4-4 0-2 3-1 11 3 5 6 0 1 2-13 10-8-2-6-5-3 1-11 10 1 7 5 4 6 9 3 14 0 8-4 8 2 13-2 13 6 9 5 16 11 5 9 7-1 13 6 4 0 8-4 11-6 7-4 8 0 5-3 6-8 6-18 2-2 2 1 4 4 0 3 3 1 5-4 5-1 7-6 5-2 19 4 6 0 5-3 7 2 7 0 8 3 4 3 1 24 24 12 0 5 2 17 17 13 3 7 6 1 5 14 5 3 3-1 11 2 4 6 4 8 0 12 8 7-3 10-10 8-1 4 2 11-10 7-1 4-3 2-8 9-8 7-12 1-7 5-6 0-16 4-9 5-4 9 1 6-6 1-4-4 1-4-2-3-5 0-3 5-10 12-10-1-7-8-9 0-8-6-11 2-10-3-7 0-23 8-8 0-5-4-6 1-8 5-5 12-1 4 8 11 0 9 6 5 6 6-2 4-4-2-10 2-3 4 0 0-106-14-8-8 0-10-7-6-2-9 0-5-3-8 2-14-4-14 1-6-5-3-7-6-1-4 4-5 2-8-1-4-4-1-10-5-9-19-2-11-17-8-3zM354 96l1-1 1 2-1 1zM208 48l1 5 6 0 0-3-2-2zM231 36l-7 3-11 1-3 4 7-4 10 0zM175 30l0 3 4-1-1-2zM538 10l7 5 5 1-3-6zM111 0l10 7 9 1-6-6-6-2z"/><path fill="#828282" fill-rule="evenodd" d="M138 577l-1 6 9 4 4 4 2 8 6 0 2-3 3-1-3-9-5-7-11-1-3-2zM281 551l4 4 3-1-1-3zM83 517l-3-1-2 2 1 2 2 0zM399 512l-5 0-7 3-1 8 2 2 6-1 6-7zM36 502l6 6 13-4-3-2zM163 499l1 2 1-1zM101 500l-4-2-1 4-8 6 6 0 5-2 2-2zM11 498l-5 5 3 6 3 0 2-5zM174 494l7 1 6 4 3 0-2-4-6-2zM191 454l-4-3-12 0-2 8 0 12-3 3-9 2 0 2 4 2 8 0 9-4 5-5 4-8zM139 449l7-3-6 0zM163 441l-1 2 4 2 0-3zM305 440l-4 0-2 2 0 7-4 9 1 3 4 3 3-1 0-6 4-8zM260 417l-4-2-14 2-3 2 0 5 4 1 8-4 8-1zM121 409l5-2-4 0zM273 219l-3 3-2 8-9 7 1 2 8 3 8 8 19 9 2-2 1-5 0-23-10-13zM125 141l5 1 4-3-5-1zM304 114l-1 5 2 2 1-2zM229 113l0 2 5 4 4-1 3-3-5-4-5 0zM152 114l1 5 5 4 8 0 4-5 0-5-10-4-4 1zM292 108l0 8 3 3 2-4-3-7zM349 78l-2 1-2 11 1 4 3 3 4 0 2-4-2-8 1-5zM426 56l-17 9-4 0-6-4-4 1-5 3-16 16-14-1-3 5 0 13-6 6-12 7-8 0-3-2 0-4-3 0-10 10 2 6 3 2 7 11 3 15 0 5-4 8 0 27 5 7 6 18 10 4 11 8-2 12 8 7 1 6-3 2-17 35-5 5-13 5 1 12-5 4-2 9-7 7-1 14 5 10-3 7 1 18 3 4 6 3 20 21 17 1 9 7 9 11 6 2 9 0 7 8 1 6 13 2 2 2 0 15 4 5 5 1 7-4 6 5 2 4 9-1 7-8 10-4 7-6 2 1-3 5 1 3 11-10 5 0 3-3 3-9 9-8 5-7 1-8 2-4 3-2-1-12 6-16 4-4 10 0 4-4 1-3-5-2-3-5 1-4-6-4 5-2 16-13 0-5-9-10-1-11-8-12 0-2 4-1 1-2-2-1-1-7 0-26 7-7 0-4-4-5 0-6 7-8 9-3 5 0 3 3 0 5 2 2 10-1 6 3 6 6 7-1 3-5-2-8 2-2 5 0 0-104-4-1-9-6-12-2-12-7-9 0-5-3-11 1-11-4-18 0-4-4-3-7-3-1-8 5-10 1-6-6-1-11-6-8-13 0-5-2-11-16-6-3zM493 252l1-1 2 2-2 1zM210 47l-2 2 0 3 6 1 1-3zM230 38l-12 1-5 2zM175 30l1 3 3-1zM539 10l9 5-2-4zM112 0l8 6 8 1-2-3-4-2z"/><path fill="#7d7d7d" fill-rule="evenodd" d="M139 577l-2 5 13 8 2 9 5 0 4-5 0-4-3-7-4-4-9 0zM282 551l3 4 3-1-1-3zM82 516l-3 1 0 3 3-1zM400 513l-5-1-7 3-2 3 0 5 3 2 4-1 6-6zM54 504l-3-2-14 1 5 5zM10 499l-3 4 0 3 4 3 2-2 0-6zM101 501l-3-3-2 4-7 6 9-2zM174 495l7 0 9 4-1-3-7-3-6 0zM190 454l-7-3-7 0-2 5 0 15-5 4-6 1-1 2 13 1 6-3 6-6 3-6zM139 449l7-3-7 1zM163 441l-1 1 3 3 1-2zM303 440l-3 2-1 10-3 6 3 4 2 0 5-12 0-7zM258 417l-5-1-11 2-3 4 1 2 3 0 6-3 9-2zM273 220l-3 3-1 6-8 9 8 4 8 8 18 8 2-3 0-27-9-11-6 0zM126 139l0 2 2 1 6-2zM303 115l0 3 2 2 0-4zM229 113l0 2 4 3 4 0 3-2 0-2-5-3-4 0zM158 110l-5 6 1 3 7 4 5-1 3-3 1-4-4-3zM293 108l0 10 3 0 0-6zM349 78l-2 2-1 13 3 4 4 0 1-16-1-2zM427 57l-6 2-14 10-2 0-5-6-4 0-8 5-14 14-13-1-3 5-1 14-4 4-11 7-19 2-4 4 0 2 9 13 0 10 2 5 0 9-4 8 2 12-2 11 6 9 6 18 21 10 1 2-3 11 9 9 2 6-5 3-9 15-1 7-4 4-4 8-5 5-9 5 0 11-7 6-1 7-8 7-1 14 5 9 0 5-3 5 1 17 13 9 16 18 17 0 8 5 10 13 15 0 11 16 21 0 2 4-2 2-5-1-2 2 0 12 2 4 12-5 5 2 7 7 3 1 9-9 5-2 9-7 11-3 0-5-5-1-5-4 0-7-4-5 5-8 3 1 1 10-2 5 11 10 2 7 4-4 1-7 10-10 3-8-3-7 7 0 2-3-2-4 9-26 4-4 10-1 2-2 0-3-4-8-9-6 1-4 3-3 5 1 6-6 9-4-1-7-8-9-1-9-7-8-3-6 4-7-1-30 1-4 6-6-5-7 0-4 4-6 16-10 5 1 4 4 1 6 8-1 9 4 3 0 2-3 3 0 2 2 0-7 2-2 7 0 0-102-5-1-9-6-9-1-10-6-11-2-1 1-7-4-7 2-14-5-17 0-4-2-5-7-19 4-7-7-2-12-4-6-5-2-3 1-11-2-11-15-7-4zM435 431l5 0 3 3 0 4-3 3-3 0-4-6zM492 245l3 1 3 7 0 3-4 5-4-8 0-6zM537 211l7-2 2 4-2 2-4 0zM208 49l0 3 3 1 4-2-3-3zM175 30l1 3 3-1zM113 0l2 3 4 2 6 0z"/><path fill="#787878" fill-rule="evenodd" d="M139 578l-1 4 11 6 2 3 1 7 4 1 4-6 0-4-3-7-5-3zM283 551l0 2 4 2 1-2-2-2zM81 516l-2 1 1 3 2-1zM400 514l-2-2-8 2-3 3-1 5 2 2 4 0 6-5zM39 503l2 4 5 0 7-3zM12 500l-2 0-3 3 3 6 3-3zM100 500l-3-1-1 4-6 5 9-3zM174 495l8 0 6 4 2-1-1-2-8-3-4 0zM189 454l-5-2-8 0-2 6 1 12-4 5-6 1-2 2 10 1 7-3 6-6 4-8zM139 449l6-3-6 1zM303 441l-3 2-2 12 1 4 7-11-1-5zM163 441l0 3 3 0zM256 418l-4-1-11 3 0 3zM272 221l-3 9-6 8 6 3 9 9 17 7 2-6 0-22-11-12zM126 141l6 0 1-2-6 0zM303 115l0 3 2 2 0-4zM155 115l0 4 4 3 5 0 5-5-1-3-5-2-6 0zM229 113l4 5 3 0 4-3-1-2-5-2zM293 108l0 9 2 1 1-6zM350 78l-3 2-1 13 2 3 4 1 2-2 0-6-2-4 1-5zM429 58l-11 4-8 6-3 7-4 4-2 0-3-3 3-9-4-3-9 6-12 12-14 0-3 5-1 13-5 5-4 1-9 7-12 0-4 3-1 4 2 4 6 5-2 9 2 17-4 7 0 25 9 16 2 10 12 6 10 2 2 2-4 12 13 18-2 2-3 0-4 4-7 12 0 5-5 5-5 9-12 10-1 12-6 5-1 7-7 4-2 3-1 13 5 9-3 21 1 6 10 6 16 19 4 2 10-2 8 2 8 5 6 10 3 2 6 1 4-2 5 0 5 9 8 7 17-4 0-4 3-2 11 1 3 3-1 7-16 14 12 3 9 7 3 0 7-12 8 0 12-6 0-2-8-6-3-6-4 0-2-2-1-4 8-4 5-8 6 2 4 7-2 12 10 9 3-7 10-12 0-5-5-6 1-7 3-1 3 3 8-13 6-16 5-4 7-1-1-5-11-9 0-3 4-8 0-10 2-1 3 7 2 0 3-5 8 0 1-5-6-6-3-12-11-17 7-7 0-18-2-16 2-3 0-15 2-4-3-2 0-3 5-3 4 0 2 2-2 3 11-8 8 1 6 5 1 3 22 1 0-4 2-2 10 1 0-100-6-1-10-6-10-2-9-5-13 0-4-4-10 1-11-5-17 0-10-7-11 1-5 3-10-10-2-13-3-4-4-2-12 0-4-2-14-16zM496 240l2 3 1 15-5 6-3 0-3-3-1-14zM535 211l6-3 5 0 3 3-1 3-4 3-5 0zM209 48l0 4 5 0-2-4zM175 31l1 2 3-1-3-2zM114 0l2 3 4 1z"/><path fill="#737373" fill-rule="evenodd" d="M139 579l0 3 2 2 6 2 4 4 1 7 2 2 5-6 0-6-5-7zM283 552l4 2-1-3zM82 517l-2 0-1 2 3 0zM399 513l-10 2-2 2 0 6 6 0 6-6zM40 505l2 2 3 0 7-4-11 0zM10 501l-2 2 0 4 4 1 1-6zM100 501l-2-2-1 3-6 5 7-2zM175 494l7 1 7 4 0-2-9-4zM187 454l-9-2-2 2-2 7 1 11-4 4-5 1 1 1 8 0 11-9 4-9zM144 446l-3 0-2 3zM303 442l-3 3 0 9 5-5 0-5zM163 442l1 2 2 0-1-2zM447 426l0 11-5 9 0 2 3 3 7 2 4-6 4 2 9 0 5-3 0-3-8-7-10-1-7-10zM254 418l-12 3 2 1zM273 221l-7 14 0 3 15 13 13 5 2-3 1-23-7-9-5-3zM127 141l5 0 1-2-5 0zM304 115l-1 3 2 1zM156 115l0 4 2 2 7 0 3-3 0-3-4-2-6 0zM230 112l0 3 2 2 5 0 2-2-3-3zM293 109l1 9 2-2 0-3zM348 79l-2 13 4 5 2 0 2-3-2-8 1-6zM428 60l-11 4-6 5-4 8-5 4-3 0-3-3-1-4 3-6-2-1-22 17-3 1-4-2-5 0-2 4-1 13-5 5-16 10-10 0-3 3 0 4 8 6-3 13 2 12-5 12 2 11-1 12 6 8 5 17 6 3 16 1 5 4 2 6-4 4-1 6 3 4 2 7 6 4-3 4-6 1-8 12-3 10-9 12-9 8 0 9-2 4-6 5-1 9-2 2-6 1-2 3-1 11 5 9-3 25 2 4 13 8 12 16 22 1 8 5 4 7 6 5 5 0 5-3 3 0 3 3 2 6 7 7 3 0 5-3 0-7 4-3 6 0 5 5 7 0 6-5 4-1 14 1 4-2 5-9 3 0 5 3 3 0 5 5 0 5-3 9 4 5 2 0 11-16-6-12 1-5 4-4 5 0 7-7 6-16 7-6-5-2-7-8 0-4 8-7 0-11-3-8 4-1 7 2 2-2-1-12-5-11-4-4-7-2 1-4 10-4 3-4 0-5-3-7 1-12-3-5 3-8 1-9-4-10 7-7 13-2 4-3 6 1 11 9 16 0 1-5 2-2 5 3 9 1 0-15-3 1-2-3 5-1 0-79-7-1-26-12-15 1-4-5-7 1-15-6-16 0-9-6-11 1-7 4-3-6-8-9 0-7-3-7-4-2-11 0-5-2-16-16zM521 273l2 2-1 5-2-2zM474 237l9 0 4 5 4-1 5-5 3 1 2 4-1 19-3 4-6 2-14-14 6 0 0-9-6-2-4-3zM534 222l0 3-4 4-10 1-3-2 9-2 7-5zM531 211l1-2 3 0 2-2 12 0 3 3-6 9-8 0zM526 192l-5 4-3 0-3-3 8-2zM208 50l1 2 5-1-3-3zM175 31l2 2 1-1z"/><path fill="#6e6e6e" fill-rule="evenodd" d="M141 579l-1 3 12 8 0 5 2 3 5-7-2-7-5-4zM285 551l-1 2 3 1 0-2zM82 517l-2 0-1 2 2 0zM399 513l-5 0-7 5 0 4 4 1 7-5zM40 504l2 3 2 0 7-4zM11 501l-3 2 0 3 2 2 3-3zM99 500l-7 7 5-2 2-2zM176 494l7 1 6 3-1-2-5-2zM186 454l-8-1-2 2 0 17-4 5 7-2 7-7 3-6 0-5zM144 446l-5 2 1 1zM303 443l-2 1 0 8 4-5zM163 442l2 2 0-2zM448 441l-2 2 0 3 4 2 1-4zM451 436l8 10 8 1 2-2-5-6-8 0zM493 412l-1 5 4 1 0-5zM273 222l-2 2-4 13 12 12 14 6 3-5 0-21-7-8-4-2zM157 116l0 3 3 2 4 0 3-3 0-3-6-2zM230 113l0 2 3 2 6-2-3-3zM293 109l0 6 2 2 1-3zM349 79l-2 7 0 8 2 2 4 0 0-8-2-3 1-6zM429 62l-7 1-6 3-5 5-3 6-7 6-3 0-6-8-6 5-14 6-9-2-3 8 0 8-6 6-5 2-11 9-11 1 0 4 8 3 0 5-4 9 2 14-5 10 0 23 6 8 4 14 3 5 6 2 13-1 4 2 8 8 0 3-4 4 0 3 7 0 1 2-8 8 0 2 4 4 5 1-4 5-7 2-6 7-5 14-17 20 0 9-8 9-1 10-3 3-6 1-2 3-1 7 5 11-3 26 4 4 7 3 16 20 21 0 6 3 12 13 5 0 8-4 4 4 2 6 8 6 2-1 0-4 5-5 5-2 5 1 4 4 8 0 5-5 5-1 8 2 6-1 3-6 5-5 9 3 13-10 16-7 3-4 5-13-1-9-5-9 1-3 8-7-3-24-3-5-1-7 1-1 2 2 1 7 4 5 6 1 0-5-6-13-8-5-3-6-3 2-3-1 0-5 2-2 3 0 3 3 9-4 3-4-5-1-4-3 0-10-4-4-3-1-7 3-5-1 4-4 7-3 15 3-3-9 5-8 0-6-3-4-5-3 0-5-7-7 15-1 5-5-2-10 5-5 10 0 7 2 4 4-3 7 7 5-1 1 2 3 8 4 4 0 3-6 3 0 5-3 1-4 6 0 4-3 0-2-10-4-4 1-1-3 3-3 9-1 8 2 0-70-18-6-16-8-13 2-4-3-14-3-10-5-14 0-10-6-6 0-9 5-4 0-3-7-7-7-2-12-3-4-12-1-7-3-15-14zM443 243l-8 5-5-1 10-5zM508 240l0 2-6 7 0 11-8 9 0 4-2 2-2-2-1-7-12-11-18-6-7-4-3-4 1-2 4 2 1-1 4 5 4 1 8-4-8 0-1-1 2-2 8-2 3-3 8 3 9 0 7-9 3 2 1 5zM531 189l-4 5-5 3-5 0-4-4 1-2 10-1 4-2zM425 170l4 5-1 5-4-7zM210 48l-1 3 4 1 0-2z"/><path fill="#696969" fill-rule="evenodd" d="M141 580l2 4 9 5 2 8 4-5 0-5-2-4-3-2zM284 552l1 2 2 0 0-2zM82 517l-3 1 2 1zM399 514l-4-1-6 3-2 5 2 2 5-2 5-5zM41 505l3 2 6-4-5 0zM12 502l-4 2 2 4 2-1zM98 500l-1 4 2-2zM176 494l5 0 7 4-3-3zM184 454l-6 0-2 2-1 8 2 8-2 3 5-2 5-5 3-6 0-5zM143 446l-4 2 3 0zM303 444l-2 2 0 4 2 0 1-2zM163 442l2 2 0-2zM506 249l-1 4 3 5 6 4 3 0 2-9-6-5zM274 222l-3 3-3 10 1 3 11 11 13 5 3-7 0-17-7-8-4-2zM580 212l0 3 5 3 6-1 2-2-1-3-6-2-4 0zM128 141l4-2-3 0zM158 116l1 4 6 0 2-3-4-3zM230 113l3 4 5-2-3-3zM293 110l0 4 2 2 0-5zM349 79l-2 14 2 3 3 0 0-16zM430 65l-12 1-9 11-10 8-4-1-3-4-3 0-16 7-9-2-2 2-1 13-2 3-10 6-9 10-1 6-7 13 0 10 2 6-5 8 2 5 0 3-2 2 0 14 11 12 4 13 17 0 5 2 8 8 1 4-2 6 2 0 3 4-6 7-1 5 2 2 4 0 3-2 3 1-9 9-8 2-5 6-4 12-18 23 1 7-8 10-2 12-4 4-3-1-4 3 0 8 5 12-3 9-1 13 3 4 6 2 6 5 6 11 5 5 7 1 10-2 7 2 15 14 5 0 6-4 3 0 9 13 3 0 5-5 7-3 7 0 4 5 6 0 8-6 15 1 10-12 10 3 7-4 11-10 8-2 4-6 4-14 0-4-4-6-1-6 4-5 4-2 1-3-3-21-5-11 0-9-2-3-3 0-2-2 0-11-8-10 2-2 6 2 5 8 5 2 2-2-4-5 0-11-7-1-4 2-8 0-2 2-4-4-1-7-8-7-9-5-19-6-5-5-4 4-11 5-7-1 0-4 2-2 11-3 6-4 4 1 5-2 0-4-5-6 1-2 7 7 1 9 5-1 3-4 8-4 6 0 6 4 5 0 7-10 5 0 4-2 19 0 4-3-2-15 5-4 5-1 7 3 8 1 5 6 3-1 1 3-2 6 4 3-4 3 4 3 6-1 0-2 4-4 5-1-2-4 1-12 3-3 5-1 5 2 3-2 6 2 0-66-4 0-10-5-4 0-14-8-14 2-14-6-7-1-10-5-13 0-10-6-6 0-8 5-5 0-2-7-9-10-1-10-2-3-17-3zM424 249l-1 3-8 4-5 0-4-2 5-1 2-3 6 0 2-2zM486 185l4-3 7 0 15 8 11-1 5-3 5 0 4 3-2 3-4 1-5 4-8 2-9-8-14-5-7 1zM418 165l1-1 8 5 4 4 2 6 3 2 9-3 6-5 3-1 2 2-10 8-6 3-7 1-8-7-1-6zM209 49l1 3 3-1-1-2z"/><path fill="#636363" fill-rule="evenodd" d="M142 581l2 3 5 2 4 4 2 5 2-3-1-8-5-3zM285 552l2 2 0-2zM399 515l-2-2-6 2-3 3 0 4 5-1zM50 504l-8 0 0 2zM11 502l-2 1 1 5 2-1zM183 495l5 3-1-2zM182 454l-3 0-3 4 2 14 7-5 3-6-1-4zM302 445l-1 3 2 1 1-3zM560 224l1 3 4 0-1-4zM273 223l-3 7 1 9 10 10 9 4 4-1 2-13-1-10-10-8zM581 211l0 5 2 1 7 0 3-2-2-3-7-2zM574 208l-3 3 0 4 3-4zM159 116l0 3 2 1 5-2-2-3zM230 114l2 2 5 0 0-2-3-2zM294 110l-1 1 2 5zM349 79l-2 13 3 4 2 0 1-6-3-5 2-5zM419 67l-3 2-7 9-11 9-3 0-4-4-5 0-12 5-5 0-4-2-3 5-1 11-4 4-8 4-5 6-3 9-5 8 0 4-3 2 0 10 5 7 0 4-5 4 5 6-3 3 0 2-5 3-1 7 9 6 10 10-1 9 4 0 3-2 10 0 5 2 4 4 3 8 0 7 3 4 0 3-6 6-1 4 1 2 9-3 4 2-12 11-6 1-6 6-5 13-13 16-3 6 0 8-8 11 0 6-3 8-2 2-7 1 0 5 5 8-5 27 3 4 9 4 3 3 2 6 6 9 3 2 20-1 9 5 8 9 6 0 6-4 3 0 10 12 4-1 3-3 10-3 5 0 4 6 5 0 5-5 17 0 3-5 8-7 11 2 6-3 8-8 10-4 7-18 0-6-3-5-1-6 1-3 7-5 1-7-3-15-4-9-3-3 1-7-7-9 0-11-7-9-8-6-2-8-5-5-8-5-9-2-17-8-16 8-10-1-7 3-8-1-5-7 7 0 3-4 19-2 9-3 7-6-1-9 3-3 2 0 4 4 6 9 16-7 3 0 6 6 5 0 2-2 1-5 3-3 25 0 4-2 2-4-3-5-1-10 5-3-12 0-8-8-11-4-11 0-4-3 6-4 9 0 15 8 14-4 9 1 8 8 0 8 10 1 6 5 3-1 2 5 10-10 5-1 3-3 8 2 8-6 0-53-7-6-3 0-2-2-8 0-12-9-14 2-18-7-7-1-8-4-12 0-11-6-4 0-8 5-5 0-2-2-1-6-9-10-1-9-2-3-13-2-11-8-9-5zM402 161l8-1 6 2 1-2 6 6 5 2 8 11 7-1 11-7 2 0 2 3-15 11-12 2-6-6-3-7-3-3-6 5-4-2-5-6zM391 151l9 0-3 3zM210 49l-1 2 3 1 0-3z"/><path fill="#5e5e5e" fill-rule="evenodd" d="M143 582l7 4 4 4 0 3 2-1 1-5-2-4zM285 552l1 2 1-1zM398 514l-6 1-4 5 6 0 4-4zM42 505l3 1 4-2zM10 503l-1 3 2 1 1-3zM183 455l-4 0-3 5 0 4 3 6 2 0 6-8 0-4zM560 224l2 3 3-1-1-2zM274 223l-3 5 1 11 10 10 10 3 3-5 0-17-3-4-7-4zM581 212l0 3 3 2 5 0 3-2 0-2-5-2zM547 200l7 1-2-2zM160 117l0 2 5-1-1-2zM231 113l1 3 5-1-3-3zM349 86l-2 5 1 3 3 2 2-4-1-4zM350 79l-1 4 2-1zM418 69l-15 16-6 4-3 0-5-5-9 2-8 4-7-2-3 14-5 5-8 4-12 23-1 12 6 8 0 6-4 4 6 4 9 2 2 2 0 3-2 2-14-2-9 8 21 16-1 8 11-2 11 5 4 7 2 14 3 3-1 3-6 6 0 3 7-2 7 2-8 9-6 4-6 1-6 6-4 12-6 9-7 7-2 5 0 8-8 11-3 18-2 3-7 0 6 8 0 5-3 4-4 17 2 5 13 8 1 5 5 9 5 4 18-2 7 3 9 9 4 2 3 0 10-5 9 10 6 0 14-5 4 0 3 6 3 1 7-5 16 0 13-13 6 3 6-1 4-2 8-8 9-5 0-11 7-8-4-10 0-6 9-8-2-16-2-6-7-9 1-9-6-8 1-8-2-5-6-7-9-7-2-7-6-6-28-11-8 1-10 6-13-1-7 2-7-2-4-4-1-5 6-2 1 1 3-3 8-2 6 1 15-3 6-7-1-9 6-3 9 9 7 0 15-6 4 0 3 8 3-1 2-6 3-2 27 0 2-4-3-5 0-7-11-11-14-6-28 0-4-3 1-1 4 1 20-7 8 1 7 5 8 3 11-4 7 0 7 3 7 7 6 3 10 2 9-3 1 1-2 2-10 3 3 4 12-4 7-5 8 2 9-7 0-46-2 0-4-4-1-5-6-3-6 1-5 5-4-13-5-2-13 2-19-7-8-1-7-4-12 1-12-7-10 5-5 0-3-2 0-6-10-11-1-8-3-4-13-2-9-7-7-2-2-2zM463 182l1-1 1 2-1 1zM366 177l3-3 13 0 2 2 0 3-4 6-6 1-8-6zM385 149l2-2 4 2 14 0 5 6 9 4 5 6 5 2 8 10 4 0 13-7 3 0 3 5-5 2-10 8-8 3-7 0-10-12-7 2-9 7-1-3 2-3 0-4-7-14 0-3-8-4zM209 50l3 1-1-2z"/><path fill="#595959" fill-rule="evenodd" d="M145 583l6 3 4 5 1-1 0-4-2-3zM398 514l-7 2-2 4 1 1 5-2 3-3zM43 506l5-2-5 0zM11 503l-2 2 1 2 2-2zM183 456l-4 0-2 2 0 7 3 4 4-3 2-4 0-4zM560 225l3 2 2-1-1-2zM274 224l-2 2-1 5 1 6 10 11 6 3 4 0 2-2 1-7-1-13-9-6zM582 212l0 3 4 2 6-2-2-3zM163 116l-2 1 1 2 2-1zM231 113l2 3 3-1-1-2zM349 87l-1 6 4 2 0-6-1-2zM351 80l-2 0 0 2zM419 70l-14 14-10 7-7-6-6 1-10 5-6-1-3 12-3 4-7 3-5 5-3 9-6 8-1 7 8 12 0 9-3 6 3 2 8 1 3 3 0 6-4 4-13-2-4 5 18 14 0 5 13 2 4 2 4 5 4 12 0 6 3 5-6 10 7-3 9 2-7 6-4 6-7 4-6 1-5 5-9 20-8 8-2 14-7 9-3 22-4 4 2 7-6 10-2 14 2 3 11 7 5 13 6 6 17-2 8 3 11 10 6 0 6-4 4 0 5 7 4 2 12-1 8-4 3 0 4 6 4 1 6-4 14 0 13-13 6 2 8 0 17-14 0-15 7-4-2-8 0-9 3-4 5-2 0-7-2-5 1-5-4-8-6-6 2-8-6-10 0-11-16-16-3-8-3-3-31-12-7 2-10 6-6-2-17 1-8-6-2-7 10-1 2-3 23-1 6-2 4-5 0-11 3-3 5 0 12 9 17-8 7 0 3 3 2 0 5-3 17 0 5 2 4-3-3-6-1-8-11-11-12-4-28 0-6-5-4-7-3 0-7 6-15 6-5-1-8-11-5 0-7 4-7 7-5 0-6-4 9-7 1-3-2-9-8-10-4-2-5-6 2-2 6 2 15-1 4 3 2 4 8 3 7 7 7 4 5 7 4 0 8-5 8-1 4 7 9 5 5-2 9 1 4-2 8 0 10 6 8 2 14-4 8 3 9 8 9 4 6 1 11-4 3 3-8 6 9-3 2-2 0-3 4-1 5 3 3 0 9-6 0-42-3-1-3-3-2-6-6-4-4 1-2 5-3 3-2 0-3-5 0-9-3-3-14 1-20-7-8-1-8-4-4 0-5 3-13-8-5 0-6 4-6 0-4-3 1-6-10-11-3-10-13-3-13-9zM385 171l2 2 0 4-4 9 0 5 4 3 0 3-3 4-4 2-5 0-8-7-4-10 0-7 5-7zM212 50l-1-1-1 2z"/><path fill="#545454" fill-rule="evenodd" d="M147 583l8 5 0-3-2-2zM398 515l-5 0-3 3 0 2 6-2zM43 505l1 1 4-2zM182 456l-2 0-3 4 0 4 3 4 5-5 0-5zM365 264l-11 24-7 7 0 11-9 13 3 13-2 1-2 6-4 5 0 10-6 7-2 7 2 7 12 10 2 8 4 7 3 2 7 0 4-2 9 1 6 3 10 9 5 0 8-5 3 0 8 9 12 0 12-5 6 7 4 0 5-3 12 0 14-13 6 2 10-1 12-12-1-11 2-5 5-5 0-15 1-3 6-6-2-2-4 3-3-2 0-2 3-2 5 1 1-13-10-11-1-3 2-3 0-4-3-3-1-15-2-4-14-13-3-7-4-4-6-3-7-1-11-6-11 1-9 6-24-1-5-2-4-4-3-7-3-2-7 4-5 9zM561 224l0 2 3 0 0-2zM275 224l-3 4 0 5 3 7 8 8 4 2 5 0 2-3 1-8-1-9-8-6zM582 213l2 3 7-1 0-2-2-1zM375 206l4 16 3 4-2 3 3 3 0 5-4 4 1 1 7 0 10-3 3 3 5 1 5-4 16-1 5 2 8-2 4-6 0-10 4-5 4 0 4 3 3 0 6 6 5-1 3-4 11-3 5 0 3 2 3 0 2-2 18 0 7 2-1-12-9-12-14-5-28 0-6-4-5-8-8 6-15 6-8-1-6-11-5 0-4 2-9 9-5 1-8-2-2 3-1 7-3 3zM395 166l-6 14 8-5 0-7zM231 113l3 3 2-1-1-2zM350 87l-2 2 0 3 3 3 1-5zM351 80l-2 1 1 1zM340 131l0 8 10 2-1 4 2 12-2 6 5 2 5 6 0 7-6 9 4 10 0 4 10 3 4-1-9-12-2-11 9-12 11 0 5-6 3-1-1-5-7-7 0-3 3-2 7 3 8 0 5-2 4 1 6 8 7 2 6 6 7 4 6 7 4 0 7-4 8-1 5 5 3-1 8 4 5-1 5 3 9-2 6 1 12 7 7 0 7-3 4 0 9 4 8 7 12 5 4 0 9-4 11 0 8 2 5-3 3-4 1-37-7-6-4-7-4-2-2 1-3 6-3 3-2 0-4-3 0-11-3-4-11 1-22-7-9-1-8-4-6 2-1 2-7-5-10-4-9 4-8-1-2-2 1-7-9-10-3-8-6-4-9-2-5-5-6-3-19-2-19 18-4 2-4-2-2-3-5-1-16 7-4 10-15 11-4 11z"/><path fill="#4f4f4f" fill-rule="evenodd" d="M149 584l6 3-2-3zM397 515l-3 0-3 4 4-1zM182 457l-4 2 0 6 2 2 4-3 1-3zM366 264l-4 6-7 19-6 7 4 8-8 7-5 8 0 4 2 3 9 6-1 3-3 3-6 1-6 5 0 10-7 8-1 4 1 8 3 4 9 6 5 14 5 4 9-3 8 1 5 2 13 10 4 0 7-5 4 0 7 8 13 1 9-5 5 0 6 7 4-2 15-1 14-13 7 2 6 0 4-2 9-12-1-9 7-13 1-17-2-1-2-5 3-5 7-3 1-5-5-8-5-4-2-6 1-4-2-2 0-17-3-5-11-9-5-10-3-3-6-3-7-1-9-6-12 1-11 7-4 0-3-2-15 0-7-3-8-11-4 0-3 2-4 10-13 3zM561 225l3 1-1-2zM274 225l-1 8 4 8 7 7 5 2 3-1 3-13-2-7-10-5zM583 213l0 2 2 1 6-2-4-2zM361 196l-1 4 7 1zM377 206l3 16 5 5-1 12 2 0 1 2 8-5 4 1 3 4 5-3 8-2 19 1 7-5 0-8 2-5 4-4 10 3 7 5 4 0 6-5 10-2 10 1 2-2 16 2 1-1 6 2 0-9-9-13-11-4-31 0-4-2-7-9-8 6-19 6-6-5-4-8-7 1-10 10-12 0-2 2 0 4-5 6zM232 113l0 2 3 0-1-2zM349 88l0 6 2 1 0-6zM341 131l1 7 11 0 7 6 8 3 3 4 0 5-8 4-4 5 1 9 3-2 1-5 3-4 10-3 3-4-2-10 2-2 5-1 5 3 8 0 4-2 6 1 5 7 9 3 18 16 19-4 3 3 6 0 5 3 11 3 13-1 12 7 8 1 5-3 7 0 28 16 6 0 7-4 20 1 3-2 2-7 4-3 0-29-7-5-4-8-5-1-6 9-5 0-4-3 0-12-3-3-9 1-11-4-8-1-6-3-11-1-2-2-4 0-4 4-8-6-7-3-8 1-3 2-9-1-2-2 1-8-9-10-5-9-12-4-11-8-12 0-3-2-4 0-18 17-5 3-8-6-4 0-7 3-8 6-2 6-4 5-12 7-3 10z"/><path fill="#4b4b4b" fill-rule="evenodd" d="M397 515l-4 1-1 2 4-1zM183 458l-3 0-2 2 2 6 4-4zM367 264l-5 7-4 15-5 9 4 9-5 6-4 1-6 7 1 6 10 7-1 5-12 6-3 3-1 12-7 6-1 4 2 8 11 9 5 13 3 3 15-2 11 5 10 8 3 0 8-5 5 0 5 7 14 2 11-6 4 0 5 7 16-1 17-14 9 2 6-1 4-4 5-18 6-12 1-15-3-4 0-5 3-5 7-4 0-3-3-6-6-6-3-7-1-24-5-6-8-6-4-9-3-3-6-3-7-1-11-7-10 2-9 7-8 0-2-2-12 0-10-4-7-10-4 0-3 3 0 6-3 4-9 0zM275 225l-2 4 1 4 6 10 4 4 7 2 2-2 1-6-1-11-8-5zM583 213l1 2 6 0 0-2zM378 207l2 12 6 8 1 8 3 0 7-5 10 6 6-1 8-5 17 0-1-1 4-6 1-5 5-4 4 0 13 6 5 0 4-3 12-3 5 1 12-2 15 2 1-5-3-7-5-6-13-5-11 2-16 0-6-2-6-7-24 9-5 0-4-3-6-10-6 1-10 10-12 1-3 7zM232 113l1 2 2 0-1-2zM349 89l0 3 2 2 0-5zM342 131l1 5 12 1 8 7 10 4 3 5 1-8 5-3 10 3 15-2 6 5 1 3 8 2 18 16 19-3 27 9 14-1 9 7 8 0 4-4 2 0 16 7 17 11 7 0 9-5 17 1 3-3 1-5 6-4 0-26-8-6-4-7-4-1-6 9-7 0-4-4 1-10-3-3-27-5-5-3-12 0-5-2-3 1 0 2-2 1-13-9-10 0-3 2-10-1-2-2 1-9-16-19-10-3-7-7-3-1-12 0-6-2-22 19-5 0-6-5-4 0-6 3-14 17-7 3-4 4-3 9z"/><path fill="#494949" fill-rule="evenodd" d="M397 515l-2 0-2 3zM180 458l-1 7 3 0 2-5zM368 264l-6 8-1 7-6 15 3 9-1 3-5 5-7 3-3 6 1 4 7 3 4 6-4 6-7 2-5 4-1 12-7 6-1 9 2 4 11 8 5 13 4 3 12-3 11 5 10 8 5 0 8-5 3 0 4 3 3 5 4 0 3 2 7-1 10-6 3 0 7 8 16-2 15-13 17 0 14-36 0-11-2-2-1-7 1-3 10-9-2-5-8-8-3-8 0-21-2-4-11-10-5-10-6-4-10-2-8-6-8 0-15 9-22-3-7-3-9-11-5 3-1 7-2 3-8 0zM276 225l-2 2 0 5 5 6 3 7 7 4 3-1 2-8-1-10-9-5zM584 213l0 2 6 0-1-2zM378 208l3 12 6 9 0 4 3 0 4-4 4 0 10 6 3 0 12-7 15 0-1-1 2-1 3-8 5-5 20 7 7-4 8-2 12 0 7-2 11 2 5-1 0-5-4-7-4-4-12-5-15 3-11 0-7-2-6-6-6 0-17 7-7 0-4-4-5-9-7 2-11 10-9 0-5 9zM233 113l-1 1 2 1 1-1zM350 89l-1 2 2 3zM342 131l0 2 3 3 8-1 13 10 9 3 6-6 8 0 3 2 6 0 4-2 7 1 6 8 10 3 8 9 8 6 18-4 6 3 2-1 9 5 5 0 2 2 18 0 10 7 6-2 0-2 5-3 5 5 11 4 9 7 11 5 7-1 6-4 16 1 4-3 1-5 3-3 4-1 0-25-9-8-2-5-5-1-2 2-1 5-3 3-8-2-4-4 1-10-4-3-6 0-3-2-17-3-5-3-15 0-1-2-4 4-2 0-11-8-25 0-2-2 2-6-1-4-13-16-5-3-6-1-7-7-5-2-7 1-11-2-5 3-14 14-5 2-8-6-8 2-8 8-6 9-12 7-4 11z"/><path fill="#464646" fill-rule="evenodd" d="M396 515l-3 2 2 0zM183 459l-4 1 1 5 3-2zM367 265l-5 8-2 12-3 7 1 15-4 4-7 2 1 1-2 4 1 4 9 6 1 5-6 6-11 5-2 4 1 8-8 8-2 5 2 6 12 9 4 10 5 4 11-2 12 6 9 7 5 0 6-4 5-1 5 4 2 4 4 0 2 2 7 0 9-5 3-4 10 10 13-1 17-14 16 0 2-3 0-8 5-6 6-13 2-12-4-10 1-6 9-7 0-5-11-11-2-7 2-10-2-14-14-13-2-5-6-5-11-2-8-7-11 1-7 6-5 2-9-3-10 0-10-4-8-10-2 0-3 3 0 7-2 3-11 0zM275 226l-1 4 3 5 5 2 1 8 5 3 3 0 2-3 1-7-1-7-7-5zM584 213l1 2 5-1zM379 208l2 11 5 5 3 7 1-2 7-2 11 7 7-2 8-6 15 0 4-9 4-4 4-1 7 4 14 2 11-5 16 0 4-2 12 2 3-2-3-8-5-6-13-5-13 4-13 0-5-1-12-7-3 0-13 6-8 1-4-3-6-10-8 2-7 8-4 2-8 0-3 6zM233 113l-1 1 2 1zM343 131l0 2 4 2 9 0 12 10 7 2 4-5 9-2 6 3 8-2 7 1 7 8 10 3 11 12 5 3 19-3 2 2 5 0 15 6 12 0 12-5 5 0 3 4 7-1 8 8 26 15 7 0 8-5 15 1 3-2 2-6 3-3 5-1 0-24-9-7-2-5-3-1-3 6-4 4-4 1-10-5 1-13-2-2-11-1-5-3-10-1-5-3-17-1-4 5-14-10-25 0-2-3 2-8-10-13-6-6-8-2-8-8-4-1-7 1-3-2-7-1-5 3-13 13-7 4-8-6-8 2-4 3-4 8-5 5-9 5-4 4-4 10z"/><path fill="#434343" fill-rule="evenodd" d="M182 459l-2 0-1 2 1 3 3-3zM368 265l-5 7-2 14-3 7 2 12-9 11 0 5 5 3 3 4-1 11-2 3-8 0-8 4-1 12-9 10 2 7 8 5 4 4 2 5 8 7 8-2 22 14 6 0 5-4 7-1 5 8 9 2 11-7 1-9 2-2 4 2 6 12-1 2 3 3 2-3 5 3 7-1 9-7 5-7 17 0-2-9 3-1 6-6 7-16-2-27 8-5-3-1-9-13-2-14 4-3 0-8-3-9-8-7-4-1-3-7-4-4-12-1-9-10-6 0-10 9-7 1-10-4-7 0-13-6-3-5-5-3-2 2 0 7-3 6-15-1zM276 226l0 7 5 1 4 3-2 4 1 4 3 2 4 0 2-4 0-12-5-4zM380 214l9 13 6-2 5 2 4 4 7 2 10-8 16-1 3-7 6-5 5 0 8 4 12 1 13-5 12-2 18 2 2-1 0-2-8-12-9-4-7 0-10 4-18-1-9-5-9 0-11 4-7 0-5-4-4-8-5 0-11 11-12 1-2 6-8 6zM343 131l2 2 12 1 7 7 8 5 2 0 5-5 10-2 4 3 16-1 8 8 9 3 10 11 7 4 17-3 25 9 5 0 26-11 5 3 0 2 11 12 24 14 8 0 7-5 14 1 8-11 6-1 0-15-2-6-9-9-4 1-7 5-12-1-5-4 2-13-12-2-5-5-6 0-12-4-10 2-5 3-4 0-8-9-5-2-8 0-2 2-13-1-2-2 1-11-14-16-8-2-9-9-4-1-13 1-4-3-4 2-13 14-7 5-5-1-5-4-6 1-5 3-2 6-6 6-5 1-9 8-3 8z"/><path fill="#404040" fill-rule="evenodd" d="M182 460l-2 0 0 3 2-1zM369 266l-5 7 1 10-4 10 1 12-6 8 0 6 5 7-1 15-4 5-8-2-6 4 0 6-3 7-6 7 1 6 7 4 3 5 11 10 2-2 5 0 5 6 17 9 3 0 9-7 5 0 7 4 0 3-2 2 5 3 4 0 9-6 1-9 4-4 4 1 10 13 7 5 3 0 16-13 8 1 5-1 1-2 1 1-1-7 5-8 9-8 2-16-3-7 3-19-6-7-2-12 0-7 5-5 0-5-3-8-4-5-9-1-2-2-1-6-3-2-15-3-3-3 0-5-2-2-6 0-10 9-12 3-13-8-10-4-9-9-2 1 0 11-3 4zM277 226l-2 2 1 4 8 2 2 2-1 8 5 3 2-2 1-13-4-4zM585 213l1 2 3-1zM382 214l7 10 7 0 10 7 6 1 10-9 14-1 7-10 6-2 9 4 13 2 21-7 13-1 8 2 2-2-8-11-8-4-7 0-13 7-12-2-10-4-17 0-5 2-8 0-3-2-7-10-3 0-12 12-10 1-3 6-7 5zM345 131l4 2 11-1 4 2 5 5 0 4 4 2 14-9 8 4 13 0 5 3 4 5 6-1 7 5 2 6 4 4 10 4 8-1 4-3 3 0 3 3 10 1 14 5 15-5 12-8 5 0 5 3 0 6 2 4 9 10 2 0 15 10 7 2 6-3 1-4 3-2 7 4 6-2 1 1 3-3-3-2 2-5 8-4 5 0 0-9-3-1-9-11-5 0-4 2-11 0-7-2-2-2 0-12-3-2-7-1-6-7-6 0-5-3-4 0-1 5-11-1-3 2-4 0-5-4-3-5-5-2-8-1-3 3-13-2-2-3 1-11-2-4-13-12-7-1-8-9-5-1-4 8-4 0-9-9-5 3-1 5-14 13-16-2-8 3 0 4-3 3-16 8-5 11z"/><path fill="#3d3d3d" fill-rule="evenodd" d="M182 461l-1-1-1 2zM370 268l-3 4 0 5 4 8-6 7-2 15-4 5 0 8 3 5 0 17-1 3-5 4-4-2-5 0-3 4 1 3-4 9 1 8 7 2 4 3-4 4-1 4 5 4 10 1 6 8 13 5 5 0 11-5 9 2 4 3 1 5 4 0 5-4 3-10 4-3 7 2 12 14 4 0 11-11 18 2-2-7 3-6 0-7 3-2 8 0 3-3 1-13-2-3 0-11 3-12-7-8-2-23-5-5-8-2-1-5-6-9-1-4-3-3-8-3-6-7-20 10-11 0-6-5-2-4-6-2-10-11-2 1 0 10-4 5zM276 227l1 5 7 1 3 3-1 8 4 2 3-9-1-6-4-3zM384 214l2 5 5 4 6 0 9 7 6 1 9-10 10 1 4-2 5-8 7-3 5 0 5 3 16 2 20-7 20 0-8-11-7-3-5 0-11 8-20-1-3-2-33-1-8-10-5 0-11 11-9 1-8 10zM353 125l1 1 3-3 3 0 10 14 1 6 4 0 1-2 5-2 4-6 9 6 13 1 5-3 7 5 6 0 6 5 4 8 12 9 7 0 3-3 4-1 6 4 5 0 11 4 7 0 11-3 13-9 8 0 5 3 2 10 11 13 14 8 5-1 0-7 5-5 11 1 3 4 0 4 3 0-1-4 5-7 6-3 8-1 0-5-10-4-5-7-20 0-6-2-3-5 0-7-10-5-4-4-7-2-2-3-2 0 3 9-2 2-8-6-16 1-10-10-5-1-12 12-3 0-1-4 7-6-5 0-2-2-6-1-3-3 0-5 2-4-1-5-4-4-9-4-8-6-8-9 0 9-3 2-8 0-8-8-4-1-1 5-15 13-3 1-11-2-6 6-16 5z"/><path fill="#3a3a3a" fill-rule="evenodd" d="M394 255l0 9-4 6-5 2-11-2-3 4 6 9 0 4-9 5-2 14-6 7 0 7 3 5 0 20-5 6-8 1-5 9 1 4 13 10 0 3-4 3 0 3 12 4 3 4 1-4-2-4 5-1 4 3 1 8 4 4 6 0 4-2 24 0 9-7 6-1 17 11 8-5 2-3 8 0 5-5 4-8 7-7 8-2 0-20 4-15-10-9 2-6-2-13-3-4-9-5-4-10-3-2-4-8-11-5-5 0-5 3-8 0-18 4-10-8-6-1-2-2 2-9-2-4zM277 227l0 4 6 1 4 3 0 9 3 1 2-5 0-8-6-4zM386 216l4 4 8 2 7 6 7 2 4-4 2-7 13 1 9-10 8-3 12 4 16 1 16-6 10 0 8-2-4-7-8-4-6 1-5 6-6 3-54-4-10-10-3 0-13 12-7 0-7 8zM362 120l5 4 2 9 4 6 4 0 3-3 0-2 5-4 6 7 4 2 12 0 7-4 15 6 5 5 2 5 12 11 6 0 4-3 4 0 6 4 9 0 10 3 15-4 11-8 11 1 6 5 1 5 9 11 2 5 3 3 6 2 4-2 2-6 5-4 9-1 9 3 11-6 8 0 0-3-10-2-11 2-2-2 3-5-1-3-16-1-6-2-3-4-1-8-4-3-9 0-8 3-7-7-17 1-11-10-7 1-14 10-3-3 1-8-8-5 1-15-3-3-6-2-10 1-7-5-9-1-10-5-7 2-14 11-11-2-12 9-12 1z"/><path fill="#373737" fill-rule="evenodd" d="M394 267l-5 8-7 5 0 4 5 7 0 5-3 2-10 0-13 16 0 6 3 6-1 23-4 4-7 2-3 4 0 4 11 8 0 5 3 3-1 3 6-3 16-3 6 5 2 10 7 3 5 0 7-3 8 0 10-6 17 6 7 0 5-3 6 0 5-4 20-26 2-24-12-8 0-5 4-5-1-9-11-9-2-6-9-7-9 0-13-7-9 0-14 4-11-8-6 0-3-3zM277 228l1 3 7 1 3 3 0 7 2 1 2-7-1-4-6-4zM388 217l12 5 11 7 4-4 0-10 4 0 5 3 6 0 8-9 8-3 12 3 23 0 12-5 13 0 1-5-7-5-6-1-4 3 0 3-3 3-5 2-26 0-22-4-9 0-8-8-3 0-13 12-7 0-6 6zM366 117l0 2 6 6-1 5 2 4 8-6 11-5 1 1-6 5 0 3 6 6 13 1 5-4 8-1 14 6 5 8 11 11 11-3 7 5 12-1 10 2 12-4 10-6 11 0 7 3 4 4 0 6 3 6 10 5 2 2 0 3 2 0 4-6 8-4 19 1 3-2-6 0-4-2-2-3 2-6-4-2-16-1-3-4-1-8-4-3-8 3-7 0-8-7-12 2-6-1-11-11-6 1-15 11-10-11-8 0-3-2 0-3 10-11 0-5-4-3-14 0-5-3-9-1-6-4-8-1-16 16-5-5-7-1-8 8-12 1z"/><path fill="#343434" fill-rule="evenodd" d="M393 278l-6 6 3 4 1 6-8 6-7 1-14 13 0 6 3 7-2 9 1 14-4 5-7 4 2 4 6 3 0 11 7 1 8-5 8 0 6 3 9 12 21 0 11-7 13 6 10 0 8-3 13-12 1-7 9-7 2-6 1-15-13-12 0-7 4-5-1-7-9-6-1-5-2-2-19-5-10-8-7 0-9 4-8 0-8-7zM277 229l9 3 3 3 1 5 1-7-3-3-6-2zM507 199l-8-5-6 0-3 3 0 5-9 4-14-1-6 2-17-4-20-1-9-7-13 11-10 1-3 4 0 5 12 5 6 5 5 1 1-6-2-5 4-4 10 4 4 0 5-7 10-4 7 0 6 2 27-1 5-3 10 2 6-2zM373 119l2 3 3 1 12-5 9 3-11 8 0 4 5 4 14 1 4-4 4-1 18 3 11 6 3-2 1 3 17 9 4 6 4 0 6-3 6 2 7 0 12-7 11-1 17 4 3 3-1 11 5 6 4 2 4 0 8-6 16-1-2-2 0-5-2-2-17-1-2-3 0-8-3-3-12 3-13-7-14 1-11-6-3 0-4 10-2 1-1-1 3-9 7-7-3-2-14 8-3 3-1 5-3 0-21-14-3-4 1-6 9-7 0-4-2-1-13-1-3-2-9 1-10-6-3 0-8 7-4 8-7 0-7-6-4 2-4 5z"/><path fill="#303030" fill-rule="evenodd" d="M401 282l-7 6 0 6-10 8-5 1-8 8-6 2-1 7 2 3-1 19 2 7-6 9 3 2-3 5 0 11 2 2 4 0 10-6 10-1 9 3 6 6 14 6 6-2 4-4 8-4 4 0 4 5 6 3 7-2 14-11 3-7 9-7 2-5 2-13-11-11-3-6 0-4 5-8-1-2-5-2-4-4-2-6-10-4-10-1-8-8-7 0-9 5-7 0-5-5-4-2zM278 229l9 3 3 4-1-5-4-2zM438 205l-15-1-6-4-4 0-11 9-9 0-2 2 0 4 19 9 1-2-2-6 3-5 6-1 9 3 5-6zM491 196l0 4 5 4 5 0 5-3 0-2-3-3-5-2-4 0zM477 150l13 4 9-8 4-1 20 2 6 3 11 0 2 2 0 4-6 0-2 6 2 7 6 5 7-1 4-4-2-4 8-2-11-1-4-4-1-10-11 1-9-4-27-3-3 7-3 3zM541 158l1-1 1 2-1 1zM491 128l-15 9 0 8 8-1 4-10 4-4zM389 129l0 4 2 2 12 2 14-7 14 4 19 0 11 10 11 5-8-5-8-9-14-10-1-4 8-10-8-3-9 1-9 8-5 0-2-4-8 4-9 0-5-2 9 6z"/><path fill="#2d2d2d" fill-rule="evenodd" d="M370 317l-1 22 2 3 0 4-4 8 1 1-6 9-1 12 2 2 4 0 7-5 8-2 4-3 4 1 8-2 7 9 12 7 20-13 10 2 4-3 9 2 4-1 6-8 9-8 0-5-6-7 2-7-7-12 1-12-6-6-2-7-9-4-11 1-7-7-7 0-6 3-10 0-4-4-5 0-4 2-2 7-5 6-9 5-8 8zM279 229l7 2 4 3-4-4zM493 197l0 2 6 4 5-3-4-4zM537 161l0 4 3 5 6 2 4-3-11-9zM484 136l-5 1-2 2 0 4 4 0zM447 132l-11-7 0-6 2-2-1-4-5 2-10 8-16-3 3 2-1 1-6 0-6 5 0 2 7 3 7-2 4-5 10 5z"/><path fill="#2a2a2a" fill-rule="evenodd" d="M361 375l3 3 5-1 6-5 8-2 3-5 5 0 8-4 4 0 3 3 2 8 9 7 20-12 26-2 12-11 0-2-7-9 2-12-6-9 0-10-8-12-4-3-13 2-18-5-5 1-15-3-3 6-18 16-4 7 1 15 7 5-3 4-5 2-3 3 1 1-7 5-5 10zM282 230l3 0 4 3-1-2zM497 197l-1 2 4 2 1-3zM402 126l0 2 3 2 5-3-1-2zM434 128l-3-6-8 4-6-1 5 3z"/><path fill="#292929" fill-rule="evenodd" d="M374 352l-6 3-5 10 0 12 5 0 6-5 8-2 2-2-6-12zM380 318l0 6 8 12-1 12-8 4 1 5 3 4 6 1 7-4 8-1 6 5 2 6 5 5 2 0 16-8 6 0 11-4 7 1 9-7 0-5-4-6 2-12-5-7 0-7-2-5-6-5-4-7-6 2-7 0-14-5-19-1-2 3-8 3-11 11z"/><path fill="#282828" fill-rule="evenodd" d="M373 352l-6 5-5 13 1 7 5 0 6-5 9-3 1-2-5-6-2-6zM380 318l0 5 7 9 2 8-1 8-8 5 1 5 4 3 5 0 12-5 8 5 3 7 4 4 4 0 13-7 9-1 6-3 10 0 8-6 0-5-4-7 2-12-5-6 0-8-12-15-11 2-16-6-17 0-3 3-6 1z"/><path fill="#262626" fill-rule="evenodd" d="M374 354l-3 0-4 5-4 13 1 4 4 0 7-6 6-2 0-3zM382 318l1 7 7 7-1 4 2 10-3 5-6 3 1 3 3 2 12-4 6 0 9 7 1 4 4 4 4 0 11-6 11-2 6-4 9 0 5-4 0-5-3-5 2-12-5-7 0-7-3-4-5-3-4-6-9 1-15-6-17 0-3 3-7 1z"/><path fill="#242424" fill-rule="evenodd" d="M373 355l-5 5-3 15 3 0 10-9-2-7zM400 305l-5 1-11 12 0 5 5 6 6 3 11-4 10-7 0-3-7-3z"/><path fill="#232323" fill-rule="evenodd" d="M373 358l-3 1-4 14 3 0 7-9zM399 307l-4 1-9 10 0 4 8 8 4 0 15-9 0-2-6-3z"/><path fill="#212121" fill-rule="evenodd" d="M373 361l-3 2-2 8 5-5zM400 310l-4 0-7 8 0 3 6 7 5-1 8-6-5-5z"/><path fill="#202020" fill-rule="evenodd" d="M397 313l-3 6 1 5 2 2 3-3-1-8z"/></g></g>
<g id="s15"><g transform="translate(0.25 0.25) scale(0.5)"><rect x="-4" y="-4" width="608" height="608" fill="#ededed"/><path fill="#e9e9e9" fill-rule="evenodd" d="M0 0l0 599 599 0 0-599z"/><path fill="#e6e6e6" fill-rule="evenodd" d="M0 0l0 599 599 0 0-599z"/><path fill="#e3e3e3" fill-rule="evenodd" d="M0 0l0 599 599 0 0-599z"/><path fill="#e0e0e0" fill-rule="evenodd" d="M0 284l0 29 2-1 2 2 7 1 9 4 8 0 3-6 2-12 4-8-1-5-5-3-19 1-8-3zM11 0l-7 10-4 2 0 46 9-2 10-5 17 6 7 9 14 2 7 6-1 7-5 8-2 10-5 11-3 16 0 7 6 14-3 10 1 7 5 5 12 0 7 9 2 8 7 11-2 6 8 4 6 6 16 1 9 7 15 6 9 9 8-4 7 0 11 3 13 9 2 8-1 20-4 8 0 11-5 4-10 3-19-1-6 3-14-2-6 4-9 1-9-9-13 5-5 0-8-5-7 0-12 6-13 11-10 5-6 5-5 2-14 0-11 10 0 266 599 0 0-561-3 0-5 7-3 0-5-4-10-2-12-10-9-1-12-5-11 4-1-1 11-8 10 1 11-7 0-4-7-8-192 0-3 7-4 3-9-2-13 8-4 7-8 8-5 10-9 1-11 4-3 0-3-3-4-10-6-6-8-2-10 0-6-5 7-3 6 3 5 0 3-7-2-13-8 0-5 6-8 1-2 3-12 0-5-2-7-6-4 0-8 7-5 0-11-9-9 0-7 7-2-7-25 0 0 6-4 5-16 5-6 8-4-8 0-7-10-9-12 0-2 6 1 5-6 2-3-7-5-1-4 5-1 7-20-8-25 0-11-5-7 0z"/><path fill="#dddddd" fill-rule="evenodd" d="M1 284l-1 28 23 7 5-1 8-24 0-5-6-4-18 1-4-2zM274 0l-8 0-5 6-7 1-3 5 0 4 4 3 10-2 4 3 3 0 3-6zM156 0l1 8 7 4 12 1 6-4-1-9zM10 1l-6 10-4 2 0 44 5 0 11-6 8 1 13 5 7 9 11 1 7 3 21 15 14 7 7 1 3 5 2 8-2 6-9 13 0 6 3 6 2 14 4 3 8 1 5 5 5 10 13 5 19 19 5 1 8-9 4 0 19 14-3 8 1 6 12 21 2 10 6 7 0 7-4 11 0 11-3 6 1 15-4 7 2 15-1 6 8 15 0 8-2 5-5 5-4 0-4-3-14 3-17-3-10-6-31-1-16-8-4 1-3 3 4 6-2 4-2 0-3-3 0-6-22 4-14 11-3 0-8-6-5-1-3 2-5 8-5 3-14 2-2 2-1 6-4 5-11 4 0 209 408 0 7-4 9 4 17 0 5-3 14 3 10 0 7-6 3 0 7 6 4 0 5-5 3 1-1 4 101 0 0-92-11-2 7-3 4-6 0-457-2 0-5 7-4 0-5-4-13-4-5-6-4-2-8-1-9-4-11 1-5 2-4 4-5 0-10-14 0-2 9-2 5-5 0-2-9-2-5-5-119 0-7 7-5 2-13-1-5 4-4 1-9-4-6 2-10 7-3 6-7 7-6 11-8 1-8 4-30 28-7-3-4-4 0-7-3-3-5-2-16-1-8-7-7 0-7-3-8 1-6 8-3 0-6-10-6-1-16 12-4 1-9-3-7 0-12 9 0-9 3-5-1-8-3-8-6-6-3-18-3-3-2 0-4-5-12 0-1 10 3 7-1 1-4-4-4 0-3-7-4-2-3 2-2 12-22-10-23 1-12-5-6 0z"/><path fill="#dbdbdb" fill-rule="evenodd" d="M0 583l0 16 7 0 0-9-5-7zM0 285l0 27 4 0 19 7 4-1 2-2 2-11 5-11 0-5-7-4zM599 40l-7 7-4 0-4-4-12-3-12-10-16-4-9 0-6 2-6 5-4 0-3-2-2-6-8-10-7-15-10 0-5 3-4 0-4-3-83 0-12 9-15 0-7 4-6 0-5-3-4 0-11 7-5 8-7 7-4 9-2 2-9 1-14 10-28 27-10 15-7-9 0-10-5-8-3 0-5 5-9-2-10 0-6 2-5-1-7 7-7 2-11 0-7-4-11 0-6 4 1 10-4 4-11 0-3 3-2 14 2 5 12 14 5 15 30 9 9 5 4 6 0 21 6 11 0 5-6 7 0 4 4 8 8 6 0 11 7 9 3 7 0 5-3 5 0 13-11 12 1 12-3 6 0 6 2 5 5 5 0 3-3 5 4 15-1 17 2 4 4 1 4 4 0 3-3 4-8 5-3 9-4-3-2-7-3-3-6 0-4 2-10-2-4 3-3 6-4 1-2-7-5-1-9-6-6 0-5 6-1 6-3 1-17-6-16 1-10-4-19 0-27-10-23 4-2 3 0 4 7 5 4 5-4 16-4 5-9 3-8 11-8-1 0 133 4 4 5 19 3 3 12 0 3 3 4 10 233 0 5-8 12 3 8-4 14 2 10-5 9 0 6 6 6-7 7-3 8 2 11 0 6 4 3 0 5-4 9-3 14 1 13-8 14-5 11-2 8 0 8 5 10 1 7-9 6-3 8 8 3 11 16 13-1 5 25 0 2-12 2 0 8 8 5 0 8-7 4 0 5 7 1 4 6 0 0-6 10-4 5 0 9 3 3-6 3-18-5-7-2-9 2-6 7-7 0-6-9-9-3 0-10 6-5 1-1-2 5-7 1-14 8-7 9-1 6-10zM274 0l-8 0-5 6-6 1-4 6 1 4 14 0 5 3 4-7zM156 1l1 7 11 5 7 0 7-4-1-9zM137 42l-4-11-6-5 1-5-3-12-9-9-12 0-1 9 3 7-1 3-9-6-4-8-2 0-4 5 0 9-3 0-18-9-27 0-8-4-11-1-5-3-4 0-4 8-6 4 0 43 4 0 11-6 5-1 7 4 11 3 7 9 11 1 14 7 9 8 19 10 15-1 7-10 10-7 4-11-1-5 4-9z"/><path fill="#d8d8d8" fill-rule="evenodd" d="M0 583l0 16 7 0 0-8-3-6zM558 538l-7 5-8 3-3 3-3 9 9 19 17 3 15-11 3-6-2-6-6-8-8-8zM159 385l2 5 3 2 2-3-1-3zM150 378l-7 2-4 7 0 6 4 8 3 2 6-14 5-4-1-3zM0 285l0 27 4 0 16 6 7 0 2-3 3-14 4-8-1-5-6-3zM205 215l1 3 3 0 2-2-3-2zM599 41l-5 6-6 1-8-6-9-2-10-9-8-1-11-4-9 1-10 7-4 0-4-3-1-4-14-20-2-7-8 0-5 4-7-1-3-3-78 0-6 2-7 6-5 2-10-1-11 5-15-3-10 7-5 8-7 7-5 10-10 2-5 3-34 30-12 17 0 5 4 9-1 2-3 1-12-14-15-7-9 1-9 9-7 4-4 6 2 14-7 14 7 11 6 14 7 9 0 8-2 7 5 6 3 7 0 10-5 6 3 9-3 9 0 6 8 11 2 12-5 8-2 10-10 9 0 20 2 2 6-1 3 3-8 19 0 5 2 7 0 19 9 7 0 7-10 9-3 8-3 0-4-4-2-7-3-2-8 2-11-2-4 4-2 14-7 7-10-3-8 8-2 0-5-3-5-6-9-5-20-3-6-8-7-5-14 1-29-10-17 0-9 3-1 6 6 4 5 7-4 13 0 6 5 8 0 4-2 3-10 4-10 0-9-4-4 0 0 53 4-1 4 2-1 5-7 6 0 13 7 2 7 5 0 4-3 7-11 11 0 9 7 5 7 0 4 3-1 5-5-2-1 1 1 7 4 6-1 5 14 0 5 7 2 9 5 3 11 0 9-4 5 0 16-9 6-1 16 6 5 5 13-1 10 10 49 0 7-5 17 2 19-8 5 0 9 5 10 1 5-4 2-6 8-6 6 0 7 6 4 0 10-6 8-3 6 0 7-10 0-5-4-5 1-12-2-4-9-3-7-5-8-3-7-8-3-6 1-2 10 12 12 3 4 4 10 4 8 8 2 15-3 9 0 6 2 7 10 12 3-2 0-12 3-5 1-15 3-8 3-1 3 3 2 9 3 2 20-7 4 1 7 5 10 1 8 6 16 0 13-4 16 0 11 7 5 0 7-8 8-5 8 10 3 11 17 14-1 5 22 0 2-2 1-5-4-7 0-3 8-5 5-7 0-3-3-2 1-1-5-2 0-8 2-4-2-8 4-2 14-2 4-7 8-6 11 2 4-5 0-13 3-5 7-6 8-1 8-10zM226 442l3 5 0 17 8 6 1 4-1 4-3 3-6 1-8 9-2 0-1-2 5-24 2-3 0-15zM224 441l1-1 1 2-1 1zM267 158l2 4-3 5 0 8-2 1-4-4 0-3zM274 1l-8-1-5 6-6 1-3 4 0 5 2 2 10-2 5 3 3 0 3-7zM156 5l3 4 9 4 10-1 4-4-1-8-24 0zM137 43l-4-11-6-6 1-5-4-14-9-7-10 0-2 3 0 6 4 9-1 2-4-1-3-4-3-1-1-5-3-4-3 1-3 4 0 10-23-10-27 0-5-3-11-1-5-3-5 0-3 7-3 3-4 1 0 43 5-1 11-6 4 0 15 5 6 5 3 5 13 2 9 4 17 13 16 8 13-1 6-8 11-9 3-6 1-12 4-8z"/><path fill="#d5d5d5" fill-rule="evenodd" d="M0 583l0 16 7 0 0-8-2-4zM292 538l-4 3-3 6 0 22 1 2 17 4 2-2 0-8-2-2-6-1-5-6 1-5 7-6 0-3zM161 386l1 5 2 0 1-4zM149 378l-4 1-6 9 1 7 4 7 4-2 1-5 7-11-2-4zM1 285l-1 27 4-1 4 3 12 4 6 0 3-4 2-10 5-11-1-5-7-3zM599 43l-6 5-6 0-8-6-9-2-11-9-15-4-12 1-8 6-5 1-5-4-6-12-10-12 0-5-2-2-3 0-7 5-7-1-4-4-75 0-1 2-8 1-10 7-13 0-12 5-7-3-8 1-9 7-11 14-5 10-12 3-25 20-14 14-9 13-1 4 5 13-6 2-7-3-5 0-2 2-1 9-8 2-5 5-4 14-5 8 8 10 0 6-4 7-2 9 5 12 0 37-3 5 0 5 5 7 1 16-4 7-3 11-10 9 0 6 3 7 9 10-1 6-8 15 1 29 9 7 0 9-9 10-2 7-7-1-3-3-3-7-3-2-7 2-11-2-2 1-2 5 0 9-8 10-11-2-5 5-5 2-11-10-8-4-7-2-10 0-5-2-5-8-5-4-14 2-32-11-18 0-5 2-1 6 10 8 0 7-4 13 6 10 0 5-12 7-12 0-12-4 0 51 13 0 8-2 4 4-6 4-2 5 0 7 7 10-6 31 9 9 7 11-1 2-12 1-3 3-3 8 3 2 5 0 4-2 7 0 3-4 3 4 1 8 2 2 3 0 3-7 8-6 4 5 2 8 5 2 8-5 5-6 9-2 5-5 12 0 7 7 6 2 13 10 19 1 4-2 7 0 15 5 7-6 35 0 16-7 9-8 5-1 5 2 10 0 6-2 7-6 2-4-1-6-7-8-8-14 1-2 4 0 4-20 10 14 13 3 3 4 9 4 10 9-1 3 2 14-3 8 0 5 3 9 9 11 3-3 0-12 3-5 1-15 4-10 2-1 6 5 0 6 2 3 5 0 9-5 8-1 7 4 10 2 9 6 6 2 9 0 14-5 21 0 6 6 4 1 6-6 8-4 4-4 2 6 6 8 2 9 20 15-2 5 2 0 2-4 4 3-1 1 13-1 2-6-5-9 4-5 7-3 3-4 0-3-8-6 2-8-1-14 9-5 9 0 8-9 5-3 8 2 5-3 0-16 9-9 9-4 8-7 2 0zM221 430l10 12 3 12 2 2 7 1 4 4 2 7 8 10 2 14 2 3-3 1-10-4-16 0-4 2-5 7 4 14 4 5-4 2-7 0-6-3-9 0-3-3-2-7-4-3 6-5 2-8 4-4 5 1 3-2 2-6 2-16 3-6 0-19-3-8zM257 181l2 2-4 4-1-4zM263 151l7 9-3 6 0 8 5 5-1 1-5-1-6-7-5-2 0-3 6-9zM274 1l-8-1-5 6-7 2-2 3 0 5 2 2 11-2 6 3 3-4zM156 2l2 6 12 5 10-2 2-3 0-5-2-3-23 0zM134 34l-7-7 1-5-3-12-10-10-10 0-2 3 0 6 5 11-1 1-3 0-8-6-2-8-3-2-4 3-1 3 0 10-25-11-12-1-10 2-14-5-7 0-6-3-3 2-1 5-6 5-2 0 0 41 4 0 14-7 18 6 5 4 4 6 9 1 17 7 11 10 15 8 9 1 7-2 5-8 11-9 3-6 0-9 5-11z"/><path fill="#d2d2d2" fill-rule="evenodd" d="M0 584l0 15 7 0 0-8-5-7zM35 562l-8-1-7 2-4 10 3 2 15-2 2-5zM290 539l-5 9 0 19 1 3 4 2 12 3 3-2-1-9-9-3-3-4 0-5 7-7 0-3-5-3zM162 387l1 3 1-2zM152 379l-7 0-6 9 2 9 4 5 2-1 3-9 5-8 0-2zM1 285l-1 26 4 0 13 6 9 1 2-2 3-13 4-8 0-6-7-4zM490 5l4 1 2-1 0-3-4 0zM599 45l-6 4-6 0-7-6-8-1-10-9-16-5-12 0-11 7-6 0-4-4-5-11-6-8-12 0-2-2 0-3-8-2-6-5-72 0-1 4-8-1-10 7-16 1-8 4-7 0-5-3-6 2-9 7-17 24-11 3-6 6-22 16-8 8-11 15-1 6 4 12-2 2-16-2-4 16 2 11 4 5 20 8 5 5 1 6-3 9 2 4 5 4 0 2-7 2-1-1 2-1-8-9-5-1-4 2-9-9-3-15-4-4-3 1-2 3 0 15-6 15 0 4 5 9-1 14 3 8-2 12 3 6 5 5 0 3-3 5-6 4 0 17-3 6-1 7-12 14 0 3 7 8 5 10 0 4-9 17 0 27 10 10 0 7-7 9-2 7-2 2-6 1-7-5-4-7-10 1-4-2-5 0-3 5 0 11-8 8-12 0-9 6-17-13-11-3-13-1-4-4-2-5-5-4-6 0-7 4-7-5-23-7-23-1-3 2-1 3 11 11-4 19 5 8 1 8-14 8-11-1-8-4-4 0 0 49 12 0 4-2 7 0 7 8 6 3 0 2-8 8 0 2 7 12-2 19 5 7 1 11 4 8 2 9 2 2 11-1 3 4 3 12 5 1 5-3 7-8 4-2 5 0 10-11 7-3 6-5 8 1 7 4 6 1 9 8 18 7 23-2 12 4 5-2 7-10 7 2 5-1 1-4-3-4-1-10-11-12 0-6-6-4-2 0-3 3-10 0-4-2 7-3 3-4 0-12 8-4 3-9 5-5 4 0 5-4 3-12 0-7 3-5 0-20-3-9 3-7 3 8 11 10 3 9 8 7 4 10 6 6 3 8 0 7 4 7-4 1-9-4-11-1-10 1-6 6 0 6 5 12 14 8 10 0 15 3 3-8 1-15 11 15 5 2 7 0 8 8 8 4 7 7 1 19-3 8 1 7 4 9 8 8 2-3-1-8 4-10 0-10 5-13-1-3 2-1 8 4 4 8 4 0 8-4 8 0 8 4 6 1 17 9 12 0 11-6 4 0 5 2 14-1 7 6 20-13 1 5 6 9 2 10 3 4 7 4 6 6 14 7 8-2 1-5-5-6 0-4 3-4 7-3 3-3 0-4-4-1-3-4 3-14-1-12 11-8 10 0 10-8 10 1 1-7-3-6 2-4 24-18 7-2zM141 514l1 2-3 3-1-3zM270 504l1-1 1 2-1 1zM265 182l0 2-3 0-5 4-1 6-6 8-4-5 4-7 2-10 2-1 4 3zM274 1l-8-1-4 6-6 1-4 4 0 5 2 2 11-2 6 3 3-4zM156 3l2 5 12 5 7-1 5-4 0-5-2-3-23 0zM136 41l-4-10-5-4 1-5-4-14-5-3-4-5-11 1-1 8 5 11-1 1-5 0-6-5-1-7-2-3-4 0-2 3 0 13-23-11-28 0-9-4-10 0-5-3-3 2-2 7-7 2 0 41 5-1 10-6 5 0 7 4 10 2 9 10 10 1 16 7 9 9 17 9 14-1 7-10 9-6 4-11-1-4 5-10z"/><path fill="#cfcfcf" fill-rule="evenodd" d="M0 584l0 15 6 0 0-10-4-5zM36 565l-3-4-11 1-4 4-2 7 3 2 14-2 2-2zM290 539l-5 9 1 21 12 5 6 0 0-10-8-2-4-5 0-6 7-6 0-3-5-3zM199 524l-4 4-4 9 13 2 2-1 0-9-2-3zM226 496l-2 3 0 5 6 14 13 7 11 0 12 3 3-2 2-8 0-11-5-8-16-6-16-1zM151 379l-7 1-5 9 2 8 4 5 10-19zM0 286l0 25 4 0 17 7 6-1 8-23 0-5-8-4-11 2-8-2zM247 175l13 7 7-1-8-9-7 0zM599 46l-5 3-6 1-9-7-10-2-8-8-13-4-16 0-10 7-5 0-5-5-6-13-5-5-12 1-5-7-7-3-3-4-71 0 0 5-8-2-14 8-11 0-12 5-5 0-6-3-5 1-9 7-2 4-8 8-4 9-4 4-9 2-27 20-13 13-9 14 4 16-4 3-12-3-4 3-2 19 3 7 14 8 6 1 7 6 2 6-3 10 8 11-15 5-2 2-1 5-4 3 0 6-5 17-8 10-5 15-6 6 0 12-4 16-11 15 6 8 5 13-10 23 0 22 2 4 8 8 0 7-7 11-1 6-4 2-8 0-6-5-3-6-9 1-10-2-2 4 1 10-9 10-11 0-9 5-3 0-16-12-26-5-8-12-5-1-7 6-2 0-7-6-9-3-18-3-4-2-12-1-5 2-1 3 10 9 0 9-3 7 0 6 5 7 1 8-15 10-11-2-8-4-4 0 0 48 7 0 8-3 8 0 6 7 8 4 1 8 4 6 0 28 4 7-6 8 0 6 6 16 8 1 5-2 3 4 2 12 2 2 6-1 10-11 8-1 10-11 5-2 8-8 3-14 5-5 13-7 5-12 4 3 7 2 6 9 3 0 5-4 9 0 8 3 6-2 3-4 0-14 10-7 0-4 7-7 4 0 5-5 2-9-1-5 5-11-3-29 5-9 1 9 2 4 14 12 12 25 6 6 3 8 1 10 22 27 12 2 7 8 6 3 8 8 1 21-2 4 0 10 3 7 8 9 3-3-1-8 4-9 0-11 4-9 1-9 10 4 6 5 11-2 6 1 35 15 8-1 8-6 6 0 4 2 18-1 7 3 11-4 7-6 3 3-1 3 6 11 2 10 16 13 12 6 8-1 1-5-4-4-1-6 5-6 8-4-1-3-3-1-3-5 3-12 0-16 11-12 6 3 5 0 10-11 6 2-2-2 0-7 4-6 6-3 15-12 6-3 5 1zM274 1l-7-1-5 6-6 1-4 5 0 4 2 2 7-2 5 0 4 3 2-1 2-4zM157 0l0 7 10 5 10 0 5-4 0-5-2-3zM136 42l-4-10-6-5 2-4-4-14-9-9-11 1-1 7 5 12-1 2-5 0-6-5-1-8-2-3-4 0-2 3 0 14-6-2-8-6-11-4-18-1-5 2-14-5-8 1-3-2-4 0-1 6-2 2-7 2 0 39 4 0 10-6 7 0 7 4 10 2 7 9 12 2 8 4 3 0 6 4 6 7 19 10 12-1 5-7 12-10 3-9 0-6 5-10z"/><path fill="#cdcdcd" fill-rule="evenodd" d="M0 584l0 15 6 0 0-10-3-4zM16 572l4 3 14-3 2-5-1-4-12-1-4 3zM291 539l-6 9 1 20 6 4 11 2 2-3 0-5-4-3-5-1-4-5 0-6 7-7-2-3zM197 525l-5 9 0 3 11 2 2-1 0-11-3-2zM225 498l-1 5 4 11 4 5 12 6 11 0 6 2 6 0 2-2 2-17-2-5-5-5-15-5-11-1-7 1zM151 379l-7 1-4 6 0 8 4 7 3-1 4-11 3-4 0-4zM2 285l-2 2 0 24 4-1 3 3 11 4 8 0 2-2 3-13 4-8 0-5-4-3-5-1-9 2zM247 175l13 7 6-2-7-8-7 0zM599 47l-6 3-6 0-8-6-11-3-5-6-17-6-12 0-5 2-5 5-6 1-5-3-6-13-6-7-13 1-3-5-12-10-68 0 2 5-1 2-7-3-5 0-11 7-15 1-8 4-5 1-7-3-6 1-9 7-2 4-8 8-4 9-3 3-11 4-5 5-8 4-22 18-12 18 3 17-2 2-15-2-2 2-2 11 0 8 3 7 15 8 5 1 5 4 4 6-3 12 7 7 1 4-2 3-10 3-3 6-3 0-5 4 0 3 3 3-4 5-4 15-7 8-3 10-7 11-3 24-9 16 7 20 0 5-9 19-1 6 1 18 8 8 1 3 0 8-6 10 1 9-15 0-3-1-8-10-17-1-2 4 1 12-9 7-11 1-10 5-3 0-16-12-26-5-3-3-3-7-4-3-3 0-8 7-13-9-21-3-11-4-8 0-3 4 10 9 0 7-3 8 0 8 6 9 0 5-10 6-6 6-14-4-5-3-4 0 0 46 9 0 10-4 5 1 9 9 2-1 2 2 2 9 5 7-1 27 4 8-6 8 0 7 5 13 2 2 12-2 3 4 0 7 2 6 2 2 4-1 11-12 8-1 10-11 6-3 5-5 2-4 0-6 3-6 4-4 14-8 4-12 14 6 5 8 8-4 7 0 7 3 8-2 2-3-2-11 3-6 8-6 4-7 4-3 4 0 6-6 0-13 5-10 0-11-3-11 0-6 6-11 1-9 2-3 1 23 15 14 10 23 8 9 1 4 6 8-1 7 6 10 12 14 12 2 8 9 8 5 6 6 0 22-2 4 0 9 3 8 8 9 3-4-1-8 4-9 1-14 3-5-1-9 4-1 16 7 12-1 18 6 10 6 11 4 8-2 5-6 3-1 11 5 7 0 6-2 13 2 7-2 6-6 3-1 3 4 0 7 4 7 2 10 17 14 13 6 6-2 0-4-4-4-1-6 7-8 3-1 0-4-3-3-1-4 3-8 0-21 4-3 2-5 5-5 5 0 4 3 3 0 18-24 6-2 15-12 5-2 6 2zM586 193l-6 4-4 0-3-3 11-3zM273 0l-6 0-5 6-7 2-3 4 0 4 3 2 5-2 6 0 5 2 3-5zM157 0l0 6 10 6 10 0 5-4-2-8zM136 44l-3-10-4-5-4-2 3-4-4-14-9-9-11 1-1 7 6 13-4 2-8-3-4-14-3 0-3 3 0 15-6-2-11-8-17-4-17 2-9-4-17 0 0 3-3 4-7 1 0 39 5-1 10-6 7 1 7 4 8 1 6 5 3 5 8 1 15 5 12 11 20 10 6 0 5-2 4-7 11-9 3-6 0-8z"/><path fill="#cacaca" fill-rule="evenodd" d="M0 584l0 15 6 0 0-9zM35 563l-14 0-3 4-1 7 16-2 2-2zM291 539l-3 3-3 7 1 18 1 2 6 3 10 2 2-3 0-5-4-3-5-1-4-4-1-4 2-5 5-4 0-3zM198 525l-6 11 3 2 10 0 0-10-3-3zM225 498l-1 5 7 15 14 7 11 0 7 2 5-1 2-5 1-12-3-7-4-4-12-4-15-2-6 1zM151 379l-5 0-6 7 0 8 4 7 3-1 7-16 0-2zM27 380l9 9 0 10-3 10 2 6 5 7 0 5-3 3-4 1-9 9-12-3-8-4-4 0 0 45 10-1 6-3 8 0 4 2 2 4 3 2 5 1 2 9 6 7-2 28 4 7-1 4-5 5-1 6 4 8 1 6 2 2 8-2 5 0 2 2 1 12 3 5 4-1 10-11 9-2 10-11 11-9 4-14 4-4 14-8 5-14 16 8 4 6 9-3 11 3 6 0 3-2 1-6-2-3 0-5 3-6 15-15 7-2 4-4 0-13 5-11 0-11-3-15 6-11 2-8-1-6-4-4-15-1-5-4-4-6-16-1 0 15-3 3-9 5-8 1-14 5-14-11-30-6-3-3-3-8-3-2-4 1-5 6-3 0-6-6-8-4-17-1-17-6zM69 514l3 1 2 4-1 4-3 2-3-1-2-4 1-4zM89 484l3 1 2 4-1 4-3 2-3-1-2-4 1-4zM169 481l3 1 2 3-1 3-3 2-3-1-2-3 1-3zM115 477l5-2 3 1 2 4-2 3-4 1-4-2zM155 461l5-2 3 1 2 4-2 3-4 1-4-2zM139 445l3 1 2 3-1 3-3 2-3-1-2-3 1-3zM1 286l-1 24 5 0 1 2 12 5 8 0 9-24-1-5-4-2zM247 175l11 6 7 0-4-8-2-1-7 0zM344 15l-8 5-11 12-8 14-10 4-7 6-8 4-14 10-11 11-8 13 0 6 3 10-2 4-5 1-11-2-2 3-1 17 3 7 5 1 6 5 9 3 8 9-2 13 8 7 0 3-3 6-10 7-5 0-6 5 4 7-5 7-3 13-7 8-5 14-4 5-2 7-1 17-7 15 0 7 4 13 0 7-9 21-1 16 1 4 7 7 3 9-1 5-5 9 1 7 7 5 0 4-3 7 1 9 9 7 0 4 6 7 11 25 7 7 2 5 8 6 1 5-2 3 0 6 2 4 13 14 11 2 9 10 4 2 9 9 0 23-2 5 0 8 2 6 9 11 2-1 0-12 4-9 0-10 4-9 0-6-3-5 2-1 17 6 11-1 24 8 8 5 14 3 4-6 7-2 14 7 10-2 20 0 10-8 2 0 3 5 0 7 7 20 14 11 12 6 4 0 3-2 0-2-4-5 0-8 9-10-3-6 3-14-1-18 4-4 2-5 8-6 9 0 7-7 3-1 9-12 10-4 9-8 5-2 8 1 0-436-11 3-10-7-9-2-7-7-13-5-17 0-10 7-6 0-4-3-6-13-6-6-12 1-7-9-10-7-61 0 2 7-3 2-10-4-5 0-7 5-6 2-10 0-12 5zM291 229l5 4 1 3-1 10-4 4-5-4-1-3 1-10zM558 186l4-1 12 7 10-2 5 2-12 7-5 1-4-3 0-4zM529 183l4-5 10-1 3 1 4 6-4 5-10 1-3-1zM495 173l5-2 3 1 2 4-2 3-4 1-4-2zM298 162l3 0 4 5 0 5-4 5-3 0-4-5 0-5zM273 0l-6 0-5 6-7 2-3 4 1 5 2 1 5-2 7 0 4 2 3-5zM157 0l0 6 11 6 9 0 5-4-2-8zM135 41l-3-8-8-6 3-2-3-15-9-10-10 0-2 4 1 7 6 11-1 1-9 0-4-5-1-8-3-4-2 0-3 4 0 8 2 5-1 2-7-2-6-6-6-3-18-4-12 3-11-4-8 0-8 2-6 5-6 1 0 37 3 0 11-6 7 0 6 4 11 2 5 4 4 6 8 1 17 6 8 9 18 10 12 0 4-4 2-5 11-8 3-15 5-9z"/><path fill="#c7c7c7" fill-rule="evenodd" d="M0 584l0 15 6 0 0-9zM17 570l1 4 15-2 2-3 0-5-2-2-9 0-4 2zM292 539l-4 3-3 7 1 18 7 5 10 2 2-4-1-5-8-3-5-7 1-5 6-6-3-4zM198 525l-5 11 11 2 2-2-1-8-3-3zM225 498l-1 4 6 14 8 6 8 3 11 0 8 2 4-3 2-14-3-8-3-3-13-5-21-1zM150 379l-5 1-5 7 1 9 4 5 3-3 1-5 5-9 0-2zM28 380l9 10-3 21 7 11 0 4-2 4-4 1-11 10-4 0-16-7-4 0 0 43 7 0 9-4 8 0 8 6 5 0 2 2 3 11 6 6-2 30 3 5 0 3-6 7-1 7 6 14 5 0 5-3 5 3 2 4 0 10 2 3 5-1 9-11 8-1 9-11 12-9 4-13 7-7 9-4 3-3 4-15 7 5 10 4 5 6 5-2 8 0 7 3 4 0 3-2 1-5-2-3 0-6 5-10 6-4 6-7 9-3 4-5-1-12 4-8 0-19-2-9 8-17 0-6-5-6-12 0-5-2-7-8-6 1-6-2-2 1 1 13-2 3-9 5-8 1-5 3-8 2-5 0-14-10-11 0-6-4-14-1-7-14-2 0-7 7-3 0-6-6-7-4-19-1-14-6-5 0zM68 514l3 0 3 4 0 3-3 4-3 0-3-4 0-3zM88 484l3 0 3 4 0 3-3 4-3 0-3-4 0-3zM168 481l3 0 3 3 0 3-3 3-3 0-3-3 0-3zM114 478l4-3 3 0 4 3 0 3-4 3-3 0-4-3zM154 462l4-3 3 0 4 3 0 3-4 3-3 0-4-3zM138 445l3 0 3 3 0 3-3 3-3 0-3-3 0-3zM2 286l-2 2 0 22 5-1 5 5 9 3 6 0 3-4 7-21-1-3-4-3zM248 174l1 3 5 1 4 3 6 0-2-6-3-3-6 0zM344 16l-10 7-10 11-4 9-6 6-8 3-4 4-9 4-13 9-11 10-9 15 0 7 3 10-2 3-9 1-5-2-4 3-1 16 3 7 18 9 10 10 0 5-2 3 1 6 7 3 1 3-2 9-7 7-11 1-5 3 1 5 5 5-5 3-3 6-2 11-7 8-10 22-1 20-7 16 1 14 3 8-9 23-2 13 1 6 6 7 4 10 0 5-5 8 0 6 6 4 3 5-4 9 0 6 13 10-1 7 5 8 2 8 7 13 4 2 6 9 9 7 1 7-3 6 1 5 12 11 12 5 7 9 14 12-1 13 2 8-3 8 0 7 4 10 7 7 2-1 0-11 3-6 1-13 4-9 0-6-4-7 3-1 13 6 17-2 6 4 12 2 13 7 6-1 4-4 16 0 11 8 6 0 3-2 21 0 10-7 5 0 3 7-1 4 6 21 15 12 10 5 6 0 1-3-4-6 0-6 9-11-3-6 3-11-1-24 13-13 9-2 12-6 8-12 10-3 11-9 12 0 0-286-13-3-9 5-10 1-4-3-1-6-9-7 8-1 13 7 11-2 9 6 5 1 0-147-12 2-8-6-8-1-10-9-15-5-12 0-5 2-5 5-10 0-12-19-4-2-12 0-5-8-8-4-4-4-50 0-5 8-3 2-6 0-6-4-5 0-11 6-15 1-11 5zM290 229l3 0 4 6 0 9-4 6-3 0-4-6 0-9zM529 182l2-3 4-2 9 0 5 3 1 5-2 3-4 2-9 0-5-3zM494 174l4-3 3 0 4 3 0 3-4 3-3 0-4-3zM299 161l3 1 3 4 0 7-5 5-3-1-3-4 0-7zM273 0l-6 0-6 7-7 2-2 4 1 4 18 0 3-5zM157 0l0 6 11 6 11-1 3-4-2-7zM135 42l-4-10-7-5 3-2-3-15-9-10-10 0-1 2 0 9 3 7 4 4-6 2-5 0-3-3-2-11-3-4-2 0-3 4 0 7 2 5-2 4-6-2-3-4-10-6-12-3-12 0-4 2-5 0-8-4-4 0-12 4-3 3-8 1 0 37 16-7 15 6 8 1 9 10 19 4 6 3 9 10 17 9 12-1 6-10 10-7 2-5 0-8 6-11z"/><path fill="#c4c4c4" fill-rule="evenodd" d="M0 584l0 15 6 0 0-9zM35 564l-2-2-11 1-4 5 0 6 15-2 2-3zM290 540l-5 9 1 17 4 4 12 4 3-5-1-4-10-4-3-5 0-4 6-7 0-3-3-2zM198 525l-5 11 11 2 1-10-4-3zM225 498l0 6 4 10 6 6 7 4 11 0 6 2 9-1 2-6 0-13-5-7-14-5-19-1zM150 379l-5 1-5 7 1 9 4 5 8-16 0-4zM29 380l8 8-2 24 6 8 0 10-7 3-10 9-4 0-16-7-4 0 0 42 8-1 9-4 15 2 5-5 1 1 4 18 8 9 0 15-3 8 0 7 3 8-7 9-1 4 7 15 11-2 4 3 2 5 0 10 2 2 3-1 9-11 4-2 5 0 11-13 9-6 5-14 6-6 12-7 4-16 18 9 5 5 10-1 8 3 8-1 1-4-3-5 0-3 8-16 4-2 4-5 5-3 5 0 5-4-1-13 4-9 0-17-2-9 8-17 0-7-4-5-14-1-4-2-5-6-13-1-1 1 2 9-5 7-14 4-10 5-10 1-12-9-15 3-4-7-14-1-4-4-1-8-3-3-7 7-4 0-9-8-7-3-14 1-15-7zM68 514l3 0 3 3 0 5-3 3-3 0-3-3 0-5zM88 484l3 0 3 3 0 5-3 3-3 0-3-3 0-5zM168 481l3 0 3 3 0 3-3 3-3 0-3-3 0-3zM117 475l5 0 3 3 0 3-3 3-5 0-3-3 0-3zM157 459l5 0 3 3 0 3-3 3-5 0-3-3 0-3zM138 445l3 0 3 3 0 3-3 3-3 0-3-3 0-3zM2 286l-2 5 0 18 6-1 1 3 6 4 12 2 2-2 1-6 6-14-1-7-4-2zM248 174l1 3 5 1 4 3 6-1-5-8-6 0zM346 16l-12 8-10 11-4 9-7 7-17 8-14 9-14 13-7 13 0 8 2 7-1 5-4 2-12-2-3 4 0 11 2 7 11 9 8 3 10 10 0 5-2 4 3 5 7 1 2 3-5 7-1 6-5 5-8 2-3-1-2 2-1-1-4 2 2 6 7 6-7 2-4 9 0 9-10 11-8 20 1 15-8 18 0 13 3 7 0 4-5 12-5 19 1 10 6 7 3 9 0 7-5 10 9 8 1 3-1 5-3 4 0 5 12 9 0 9 11 25 6 4 6 9 10 9 0 19 3 3 12 5 10 9 5 7 12 10-1 14 2 9-3 8 0 7 3 8 8 9 2-1 0-12 3-5 1-13 4-9 0-5-4-7 0-2 3-2 10 6 8 0 4-2 10-1 5 5 10 1 13 7 5-1 5-5 11 1 3-5 9 3 8 8 8 0 3 2 10-3 11 0 6-5 6 1 2 5 0 10 4 17 16 13 12 5 3-3-3-4-1-6 2-5 7-8-3-9 4-10 0-17-1-4-4-4 6-1 4-5 11-7 4 0 12-5 8-12 10-3 9-8 7-3 8 2 0-285-13-3-7 4-14 3-4-4-1-4-10-9-5 4-8 1-5-2-4-5 4-6 10-2 5 2 5 6 7-1 14 7 15-1 6 5 5 1 0-146-11 3-9-6-11-3-8-8-11-4-17 0-10 7-8 0-3-2-2-6-8-11-15-2-4-7-9-5-4-5-49 0-3 6-5 5-4 1-4-1-5-4-5 0-10 5-14 1-11 5-8 0zM291 228l6 6 0 11-5 6-6-6 0-11zM497 171l5 0 3 3 0 3-3 3-5 0-3-3 0-3zM298 161l3 0 4 5 0 7-4 5-3 0-4-5 0-7zM273 1l-6-1-6 7-6 2-3 6 2 2 9-2 8 2 2-3zM157 0l0 6 11 6 11-1 3-4-2-7zM135 43l-4-10-8-6 4-2 0-4-5-14-7-7-10 0-2 5 4 13 4 4-2 2-10 0-3-2-1-12-3-4-2 0-3 4 0 6 3 9-1 1-6 0-13-11-15-4-10 0-7 3-8-2-2-2-6 0-11 4-3 3-8 1 0 35 9-3 4-3 6 0 9 5 11 2 5 4 3 5 25 7 9 10 19 10 10-1 5-8 5-5 6-3 3-15 6-11z"/><path fill="#c1c1c1" fill-rule="evenodd" d="M0 585l0 14 6 0 0-8-2-4zM34 563l-12 0-4 5 0 5 6 1 8-2 3-4zM291 540l-3 3-3 7 2 17 7 5 9 1 2-4-1-4-7-2-5-4-1-8 6-7-2-3zM198 525l-4 8 0 3 9 2 2-1 0-8-2-3zM226 497l-1 6 4 10 8 8 6 3 11 0 7 2 5 0 3-3 1-16-5-8-15-5-18-1zM149 379l-5 2-4 7 0 5 4 7 3-1 6-14 0-4zM30 380l8 10-2 22 6 8 1 7-3 6-4 0-13 10-10-2-13-6 0 41 6 0 12-5 11 1 8-5 3 2 4 20 6 5 3 7 0 10-5 10 0 6 3 7-2 5-5 5-1 5 6 13 11-2 4 3 2 4 0 9 2 4 2 0 10-12 10-3 4-7 16-13 4-12 5-5 12-7 3-9 0-6 2-3 8 6 12 5 4 4 11 0 8 3 5-1-2-12 8-18 4-2 3-4 6-3 6 0 4-3-1-12 4-11 0-14-2-10 1-4 6-9 2-8-2-6-3-3-15-1-7-7-4 2-6-3-2 2 1 8-4 6-10 4-4 0-11 6-9 1-5-2-9-7-13 5-6 0-2-2 0-6-12-1-4-3-3-12-3 0-5 6-5 0-11-10-18 0-11-6-6-2zM69 513l3 1 2 3 0 5-4 4-3-1-2-3 0-5zM89 483l3 1 2 3 0 5-4 4-3-1-2-3 0-5zM168 481l3 0 3 3 0 3-3 3-3 0-3-3 0-3zM113 479l4-4 5 0 3 2 1 3-4 4-5 0-3-2zM153 463l4-4 5 0 3 2 1 3-4 4-5 0-3-2zM138 445l3 0 3 3 0 3-3 3-3 0-3-3 0-3zM3 286l-2 3 1 2-2 2 0 15 6-1 3 6 7 3 10 0 8-22 0-4-5-4zM248 175l10 6 6-1-5-8-6 0zM346 17l-9 5-12 12-5 11-6 7-20 9-13 8-11 10-8 15 2 18-3 3-16 0-1 2 0 11 5 10 7 6 9 4 6 5 4 6-1 10 2 2 8 0 2 3-6 9-1 7-5 5-6 0-6 3-4-1-3 2 6 9 7 2-11 4-2 5 0 12-11 11-7 15 1 20-9 20 1 12 3 7-3 13 6-3 6 6-12 1-2 10-5 9 1 6 5 7 4 14 0 4-4 4-1 4 9 10-2 16 10 8 1 11 9 21 23 24 3 7-1 12 8 2 6 4 12 16 14 13-2 6 2 18-3 7 0 7 3 8 8 9 2-1 0-12 3-6 1-13 4-8 0-5-4-7 0-3 3-3 11 7 5 0 17-5 4 6 10 1 13 6 8-6 10 1 7-5 6 2 10 9 8 1 3 2 4-1 5-4 12 2 6-4 7 1 2 4 0 12 4 18 16 12 11 4 2-1-3-6 0-7 8-10-2-5 0-6 3-6 1-8-1-14-7-7 8-1 11-9 20-7 10-13 10-3 9-8 5-2 9 1 0-284-14-2-6 4-15 3-6-7-7-5-2-4-6 3-7 0-5-2-3-4 0-3 3-4 5-2 7 0 5 2 4 5 9 0 15 7 5-2 8 0 5 5 5 1 0-144-6 2-9-1-7-5-10-3-8-8-9-3-17-1-10 7-11 0-11-18-12-1-4-2-4-7-9-5-4-5-10 0-2 2-2 0-1-2-31 0-5 8-8 5-5 0-6-5-4 0-12 5-14 1-11 5zM290 228l3 0 3 3 2 7-1 8-4 5-3 0-3-3-2-7 1-8zM493 175l4-4 5 0 3 2 1 3-4 4-5 0-3-2zM297 161l5 0 4 7-1 6-3 4-5 0-4-7 1-6zM272 0l-5 0-5 7-8 3-2 4 1 2 5 1 8-2 4 2 3-6zM157 0l0 6 11 6 11-1 3-4-2-7zM134 40l-4-8-8-5 5-2 0-4-4-12-6-5-2-4-10 0-2 5 5 14 5 3 0 2-15 0-2-2-1-12-3-4-2 0-3 5 0 5 3 9-1 2-5 0-4-2-7-8-4-2-17-4-19 3-8-4-14 5-2 2-9 2 0 33 3 0 9-5 8 0 9 5 9 1 6 5 2 4 4 2 22 5 10 11 16 9 11 0 6-9 11-8 2-5 0-8 6-10z"/><path fill="#bfbfbf" fill-rule="evenodd" d="M0 585l0 14 6 0 0-8-3-5zM18 570l1 4 12-2 3-3 0-5-11-1zM291 540l-3 3-3 8 1 13 5 6 7 3 5 0 1-7-2-2-7-2-4-5 0-6 5-6 0-2zM198 525l-3 6 0 5 9 1 0-10zM226 497l-1 6 3 4 2 8 9 7 5 2 13 1 11-1 2-8 0-9-3-6-4-3-14-4-17-1zM151 380l-5 0-6 8 0 4 4 8 3-1 6-15zM31 380l7 8-2 18 1 6 7 11-1 8-2 4-4-1-12 9-4 1-9-2-12-6 0 40 7-1 11-5 9 1 8-5 6 1 3 7 0 10 2 4 8 8 2 9-2 10-4 6 1 16-7 8 0 5 5 11 12-2 4 4 2 4 1 12 2 0 10-12 8-2 9-13 6-2 6-5 6-14 15-10 5-20 5 2 6 6 10 4 4 4 9 0 8 3 6-1-2-5 0-6 5-9 2-10 10-8 9 0 5-3-1-12 4-11 0-13-2-11 9-18-1-8-3-3-16-2-6-5-4 2-5-3-1 9-5 6-14 4-10 6-13 0-9-7-5 0-5 3-10 2-5-4-2-5-9 0-4-4-2-11-3 0-4 5-6 0-11-10-8-2-10 2-10-6zM68 513l3 0 3 3 0 7-3 3-3 0-3-3 0-7zM88 483l3 0 3 3 0 7-3 3-3 0-3-3 0-7zM167 481l5 0 2 2 0 5-2 2-5 0-2-2 0-5zM113 478l3-3 7 0 3 3 0 3-3 3-7 0-3-3zM153 462l3-3 7 0 3 3 0 3-3 3-7 0-3-3zM137 445l5 0 2 2 0 5-2 2-5 0-2-2 0-5zM4 286l-4 8 0 13 7-2 1 6 2 2 11 4 4-1 9-23-1-3-5-4zM248 175l11 6 4-1-2-6-3-2-5 0zM423 0l-5 8-4 4-5 2-6 0-6-5-3 0-10 4-15 1-10 5-13-1-9 5-13 13-4 10-5 7-20 8-4 4-12 6-10 10-6 13 2 18-7 5-11-2-2 2 0 10 7 12 5 5 14 8 4 6 1 11 10 1 1 5-5 7-4 11-4 3-5-1-6 4-7 0 0 3 7 7 8 0-4 4-8 1-2 2-1 7 2 6-4 9 3 6-11 0-8 14 1 23-8 14 0 12 6 14 8 9 0 3-4 3-8 1-1 8-6 8 7 24 3 5 0 2-5 4-1 3 9 11 0 15 8 9 0 8 4 7 2 10 9 9 8 12 10 9 2 5 4 4 0 6 14 13 5 8 15 16-2 8 2 18-3 8 0 5 4 10 6 7 3-1 0-11 3-6 1-13 4-9 0-4-4-7 3-8 9 7 6 1 13-4 3-3 0-3 2-1 2 3 0 5 3 4 10 0 7 4 5 0 6-5 11 1 6-3 4 0 15 11 10 2 6-6 13 3 9-3 7 1 2 4 0 13 3 17 15 12 11 4 0-14 7-9-2-10 4-9 0-18-5-7-5-2-4-4 2-1 6 3 8-1 14-10 17-5 5-9 4-4 9-2 9-8 8-3 7 2 0-283-12-3-9 5-13 3-7-5-2 1-9-11-12 1-3-1-5-6 5-7 12-1 3 1 4 5 8 0 16 7 14-2 4 4 6 1 0-142-12 3-9-6-9-2-8-8-12-5-6 1-7-2-6 2-8 6-11 0-3-8-8-10-11-1-4-2-4-7-3-3-4-1-7-7-7 0-4 3-3 0-1-3-7 0-1 4-3-1 0-3zM291 227l4 2 3 7-1 10-2 4-3 2-4-2-3-7 1-10 2-4zM493 174l3-3 7 0 3 3 0 3-3 3-7 0-3-3zM299 160l3 1 4 6-1 8-5 4-3-1-4-6 1-8zM271 1l-4-1-4 7-10 5 0 4 18 0zM157 0l1 7 11 5 10-1 3-5-2-6zM134 41l-4-8-4-4-7-3 6 0 2-1 0-3-4-13-7-6-1-3-10 0-1 2 0 8 4 9 7 4-6 2-9 1-4-3-1-12-3-5-3 1-2 4 3 13-1 4-9-2-6-8-6-3-12-3-25 2-4-3-4 0-15 7-8 1 0 32 3 0 10-5 4 0 13 6 9 1 5 4 4 6 21 4 5 3 7 9 9 6 10 4 8 0 3-2 7-11 7-3 2-4 1-11 6-10z"/><path fill="#bcbcbc" fill-rule="evenodd" d="M0 585l0 14 6 0 0-7zM34 564l-12 0-2 2-1 7 4 1 9-3 2-3zM290 541l-4 6 0 16 8 8 8 2 2-3 0-4-2-2-7-1-5-6 0-8 3-5-1-3zM198 525l-3 9 4 3 5 0 0-8-3-4zM225 499l6 17 10 7 25 2 2-2 2-15-2-5-4-4-12-4-8 0-5-2-7 0zM32 381l6 6 1 3-2 20 8 12 0 7-2 5 1 5-1 1-5-5-14 9-12 0-8-6-4-1 0 38 4 0 11-5 11 0 8-5 7 0 2 2 4 20 5 3 6 11 0 11-6 10 1 12-7 9-1 7 6 10 3-2 6 0 5 4 3 5 1 11 3-2 4-7 7-5 5-1 5-9 4-4 9-3 3-3 4-11 7-7 9-5 5-21 5 1 6 6 11 5 6 5 9 0 10 3 1-2-3-7 7-15 0-8 6-6 6-3 10 1 3-2-1-11 4-12-2-24 9-16 0-8-4-5-14-1-6-4-3 2-6-2-1 6-5 7-14 3-9 7-14 0-10-7-4 0-15 5-4-2-5-6-10-2-3-3-2-10-5 4-6 1-3-1-10-10-17 0-9-6zM68 513l3 0 4 6-1 4-3 3-3 0-4-6 1-4zM88 483l3 0 4 6-1 4-3 3-3 0-4-6 1-4zM169 480l3 1 3 4-1 3-4 3-3-1-3-4 1-3zM113 478l3-3 4-1 6 4 0 3-3 3-4 1-6-4zM153 462l3-3 4-1 6 4 0 3-3 3-4 1-6-4zM139 444l3 1 3 4-1 3-4 3-3-1-3-4 1-3zM151 380l-5 0-6 9 1 6 4 5 4-6 4-11zM3 287l0 6-3 2 0 10 8-3 0 8 2 3 7 3 8 0 8-21-1-6-4-3zM248 175l11 6 4-1-2-6-3-2-5 0zM270 1l-7 7-8 4-2 3 4 2 10-5 3-4zM424 0l-10 13-6 2-6 0-5-4-5 0-10 3-12 0-12 6-12-1-7 4-13 11-6 13-6 8-19 7-4 4-13 6-8 8-6 15 2 17-7 5-13 0 0 10 5 5 3 8 4 4 4 1 9 6 5 7 0 8 2 2 9 1 1 7-6 8-2 8-4 4-5-1-6 3-1 2-8 0 6 8 5 1 4-2 1 4-3 3-11 2 0 6 2 5-2 13 3 6-2 2-12 0-5 4-3 5 1 16 2 7-1 3-6 6-3 10 2 10 2 2 2 7 9 13-3 5-9 3-1 8-4 6 2 19 2 5 5 5 0 3-6 4 0 3 7 8 1 8 2 3 0 7 5 8 0 7 6 9 1 7 6 5 2 6 8 11 7 4 7 8 5 1 0 12 25 26 6 9-3 11 2 17-3 8 0 5 4 10 7 7 2-1-1-8 4-10 1-12 4-9-1-6-3-4 0-5 2-4 2-1 10 7 7 0 10-4 1-5 3-2 4 4 2 8 15 0 4 4 9-5 10 1 11-2 18 12 8-1 3-5 6 0 8 3 17-1 4 7-1 11 3 17 15 12 8 2 1-10 8-11-2-5 0-6 4-10 0-15-3-6-11-6-3-4 3-1 6 4 10-1 13-9 17-5 9-13 11-3 7-7 8-3 8 2 0-283-13-2-9 5-13 2-4-3-4 0-11-11-11 0-7-5 0-5 3-3 11-3 8 3 3 3 6 0 16 7 5 0 9-3 6 5 5 1 0-140-7 2-9-1-4-4-10-2-9-9-11-4-6 1-3-2-7 0-10 7-12 1-2-2-2-7-7-9-13-2-10-12-5-2-5-6-6 0-6 4-3 0-3-4 0 3-3 2-6-1-1-4zM247 278l2 0 3 3-1 4-5-3-1-2zM290 227l3 0 5 8 0 9-5 8-3 0-5-8 0-9zM493 174l3-3 4-1 6 4 0 3-3 3-4 1-6-4zM298 160l3 0 5 6 0 7-5 6-3 0-5-6 0-7zM157 0l1 7 11 5 7 0 4-2 2-4-2-6zM134 42l-6-11-9-5 5 0 3-3-5-15-8-8-9 0-1 9 5 11 8 3 0 2-18 1-3-3-1-12-3-5-3 1-2 5 3 12-1 4-6 0-4-2-3-5-5-4-16-5-10 0-7 3-6 0-5-3-5 0-15 7-1-1-6 2 0 20 2 2-1 8 3 0 6-4 5-1 12 6 12 2 4 2 3 6 3 2 12 3 7 0 4 2 11 12 9 6 6 2 11 0 5-9 11-7 2-6 0-7 7-12z"/><path fill="#b9b9b9" fill-rule="evenodd" d="M0 586l0 10 2 0 2 3 1-7zM33 564l-6-1-5 2-3 6 1 2 3 1 8-3 3-5zM289 543l-3 5 1 15 10 9 3 0 4-5-1-2-8-1-5-5-2-5zM199 525l-3 3 0 5 3 3 4 1 1-6-2-5zM226 498l-1 4 4 6 2 7 7 6 4 2 12 0 8 2 6-2 2-13-2-7-4-4-12-4-9 0-5-2-8 1zM0 438l0 37 18-7 8 1 5-5 9 0 5 4 2 4-1 10 7 7 7 16 0 6-7 11 1 12-7 9-1 7 6 8 4-2 6 2 7 9 2 8 1-4 9-8 7-3 3-6 5-5 9-2 4-4 4-11 15-12 3-9 0-10 2-3 5 1 9 8 9 4 6 5 17 3 0-11 6-11 0-11 10-7 15-1-1-10 4-12 0-13-2-12 9-15 1-7-5-7-26-3-3 7-5 5-12 2-10 8-17-1-8-6-13 3-3 2-7-2-4-5-12-4-5-10-6 3-7 0-9-9-9-3-5 3-10-7-10-3 4 7 0 7-2 6 1 7 5 6 1 5 2 2-1 20-2 1-4-6-4 0-12 8-13 1-3-1-5-7zM68 513l3 0 4 5 0 3-4 5-3 0-4-5 0-3zM88 483l3 0 4 5 0 3-4 5-3 0-4-5 0-3zM168 480l3 0 4 4 0 3-4 4-3 0-4-4 0-3zM113 478l3-3 5-1 5 4 0 3-3 3-5 1-5-4zM153 462l3-3 5-1 5 4 0 3-3 3-5 1-5-4zM138 444l3 0 4 4 0 3-4 4-3 0-4-4 0-3zM150 380l-5 1-5 9 2 7 3 3 3-4 4-11 0-4zM4 287l-1 7-3 2 0 7 3 0 5-3 1 11 6 4 9 1 8-19 0-7-5-4zM248 175l9 5 5 0 0-4-4-4-5 0zM134 44l-3-8-5-6-10-5-13 2-5-1-2-2-1-13-4-5-3 3-1 4 3 10-1 6-10-2-3-5-7-6-16-4-7 0-7 3-9 0-3-3-3 0-14 6-10 2 0 19 2 1 0 9 8-4 6 0 12 6 12 2 10 10 12 3 3-1 8 3 9 11 9 6 8 3 9 0 7-11 10-5 2-6 0-8 4-5zM270 4l-2-1-5 6-7 3-1 4 10-4 4-4zM425 0l-6 9-4 4-5 2-9 1-5-4-11 2-13 0-16 7-10-1-7 4-14 12-7 16-4 4-8 4-8 1-8 7-4 0-6 3-10 10-1 7-4 8 1 16-8 6-7-2-5 2 0 6 3 5 4 3 2 8 4 4 6 2 7 5 5 8 1 7 8 1 2 2 1 7-6 8-4 11-10 1-6 5-6-1 1 4 6 5 8-3 2 1-1 5-3 3-11 2 3 9-2 14 3 5 0 3-17 3-6 6 3 18 6 1 4 4 1 5-3 2-6-2-4 1-6 5-2 6 6 19 8 13 0 5-10 7 0 4-3 6 0 9-2 6 1 7 2 4 7 6-7 8 5 6 3 10 4 5-1 7 3 6 0 7 6 6 13 27 5 5 8-1 5-3 0 8 7 8-2 11 3 5 9 8 11 6 3-1 2 2 1 13 2 5-4 11 2 18-3 11 3 9 8 9 2-2-1-8 4-10 0-7 5-14-1-5-4-6 3-8 3-2 11 8 5 0 7-3 4-8 4 0 7 11 13 0 6 3 6-3 21-1 19 12 4 0 5-7 6 0 11 4 16-1 5 4 0 9-2 4 3 18 15 13 6 1 3-3 1-9 6-7-2-11 4-8 1-11-2-11-13-8-4-4 0-2 2-1 9 5 11-1 4-4 9-5 16-4 10-14 9-2 9-8 6-2 9 2 0-283-6 0-5-2-10 5-12 3-11-4-11-10-8 0-5-2-5-6 5-7 5-2 7 0 8 5 9 1 16 7 12-4 7 5 4 0 0-138-13 3-8-6-10-2-8-8-12-5-4 3-3-3-6-1-13 8-10 1-3-2-2-7-6-8-4-2-6 1-4-2-5-5-2-5-7-4-7-7-4 0-5 4-8 0-4 2-3 0-5-6zM291 226l5 3 2 5 0 11-2 5-4 3-5-3-2-5 0-11 2-5zM493 174l3-3 5-1 5 4 0 3-3 3-5 1-5-4zM297 160l5 0 4 5 0 9-4 5-5 0-4-5 0-9zM157 0l0 5 12 7 6 0 6-3 0-7-2-2zM105 0l-1 9 4 9 12 7 6 0-4-16-8-9z"/><path fill="#b5b5b5" fill-rule="evenodd" d="M0 587l0 8 3 1 1-5zM33 565l-10 0-3 4 0 3 2 2 10-4zM286 550l2 13 6 6 8 0 1-3-7-1-6-4zM199 525l-3 6 3 4 3 1 1-7zM226 498l0 5 3 4 3 9 8 6 26 2 2-2 1-16-5-7-13-4-9 0-5-2-4 0zM0 439l0 35 6-1 3-3 7-3 10 0 3-4 3-1 10 2 3 2 3 6 0 12 5 4 2 5 6 7-1 15-6 9 1 11-7 8-1 6 4 6 10 0 10 12 11-7 5-1 3-6 5-5 12-3 6-14 13-11 0-4 4-6-1-8 4-6 3 0 10 9 17 11 15 2 0-9 6-11-1-12 4-4 8-4 10 1 4-2-1-7 4-11 0-18-2-10 10-16 0-7-6-6-13 0-10-2-4 8-4 4-6 2-8 0-9 9-6-2-11 0-9-6-20 5-9-9-8-2-5-5-1-4-6 2-7 0-12-9-4 0-6 3-4-2-1-3-7-6-6-2-1 1 3 8-2 7 1 10 5 5 1 6 2 2-2 12 1 10-2 1-5-7-4 0-11 7-9 2-12 0-2-2zM69 512l3 1 3 4 0 5-5 5-3-1-3-4 0-5zM89 482l3 1 3 4 0 5-5 5-3-1-3-4 0-5zM168 480l3 0 4 4 0 3-4 4-3 0-4-4 0-3zM112 479l3-4 7-1 4 3 1 3-3 4-7 1-4-3zM152 463l3-4 7-1 4 3 1 3-3 4-7 1-4-3zM138 444l3 0 4 4 0 3-4 4-3 0-4-4 0-3zM149 380l-3 1-5 6 0 7 3 5 3-1 5-13 0-3zM5 287l-1 7-4 3 0 5 8-3 2 4 0 9 9 4 4 0 7-14 2-7-1-6-5-3-12 2zM248 175l9 5 5 0 0-3-4-5-5 0zM133 48l0-7-7-11-13-5-11 3-6-3-1-14-2-4-3 0-2 2 0 9 2 5-1 6-7 0-4-2-8-10-18-5-9 1-6 3-7 0-4-3-5 0-10 5-11 3 0 16 3 3 1 7 3 0 4-3 7 1 10 6 15 3 4 7 3 2 16 2 8 3 9 11 13 8 11 1 3-2 3-7 4-4 7-3 2-4 1-11zM268 5l-12 9 10-4zM465 0l-9 5-15 1-5-6-10 0-4 4-2 5-8 6-8 2-8-3-27 1-11 6-9-1-10 5-14 12-7 16-4 4-9 4-8 1-5 6-11 3-9 8-2 4 0 7-4 9 1 13-8 6-12 0 0 5 3 5 4 3 3 10 9 6 5 1 3 3 0 3 4 6 1 5 9 2 2 8-7 11-3 10-10 0-6 5-6 0 1 4 6 4 8-4 2 1 0 6-3 3-12 3 4 7 0 7-2 5 2 12-14 2-7 4-2 3 5 10-1 3 6 3 5 9-5 5-7-1-5 2-4 5 0 6 5 10 2 9 6 10 0 4-9 10-1 7 6 6-10 8-1 6 1 4 9 8 0 3-5 7 4 4 2 7 5 7-1 9 2 11 7 7 10 24 6 6 3 1 12-5 2 3-1 7 5 7-1 12 2 4 10 8 9 3 5-2 2 2 2 22-5 13 2 18-3 10 4 11 7 8 2-3-1-8 4-10 0-7 4-9 0-8-4-7 3-6 0-5-2-3 3-1 4 2 5 6 5 3 6 0 4-2 0-6 2-2 7-1 3 3 1 4 7 5 44 0 10 8 7 3 3 0 2-6 3-2 18 5 18-1 3 3 2 6 0 5-2 4 2 18 15 13 7-1 1-9 7-9-2-5 0-6 4-8 0-18-4-5-12-7-3-3 0-3 3-1 10 6 6-1 18-10 14-3 10-14 11-3 7-7 5-2 6 0 5 2 0-282-13-2-15 7-7 0-11-5-7-7-14 3-1-1 2-2 10-2-11-1-6-5 0-5 4-4 5-2 9 0 10 5 9 1 12 6 9-3 6 0 6 4 3 0 0-136-8 2-1-1-4 2-7-6-11-2-7-7-9-5-4 0-2 3-3 0-3-5-7 0-13 8-10 0-2-2-1-6-8-9-8 1-9-8-5-8-6-3zM290 226l3 0 4 4 2 8-2 11-4 4-3 0-4-4-2-8 2-11zM492 175l3-4 7-1 4 3 1 3-3 4-7 1-4-3zM298 159l3 0 4 4 2 5-1 6-5 6-3 0-4-4-2-5 1-6zM157 0l0 5 10 6 8 1 6-3 0-7-2-2zM106 0l-2 2 0 7 3 7 11 8 8 1-5-17-7-8z"/><path fill="#b0b0b0" fill-rule="evenodd" d="M0 589l0 4 3 1-1-4zM292 565l1 2 5 2 3-2zM32 565l-9 1-2 2 0 4 2 1 7-3 2-2zM198 526l-1 4 3 4 2 0 0-6zM227 497l-1 4 5 8 0 3 7 8 4 2 24 1 2-2 1-14-4-7-12-4-10 0-4-2-8 0zM0 449l0 23 5-1 6-7 15 0 4-5 2 0 2 3 8 1 6 5 0 12 2 5 15 15-1 13-6 11-1 9-8 12 1 5 3 2 7-1 10 12 2 0 9-7 4-1 7-8 12-2 3-2 4-11 9-9 1-7 3-1 0-2 3-3-2-5 1-3 7-8 4 0 15 13 8 4 2 3 14 2 1-8 6-9 0-7-2-4 1-3 5-5 5-2 15-2-1-3 5-13 0-19-2-12 9-12 1-8-2-4-3-2-12 1-11-3-3 9-4 4-14 1-6 5-4 6-8-4-11 0-5-4-13 1-9 5-3 0-3-6-7-7-4-1-7-8-14 1-10-6-11 3-7-6 0-3-4-5-5-1 0 19 2 4 6 4 1 16-2 8 3 10-3 2-8-9-2 0-12 7-6 1-5 3zM68 512l3 0 4 4 0 7-4 4-3 0-4-4 0-7zM88 482l3 0 4 4 0 7-4 4-3 0-4-4 0-7zM167 480l5 0 3 3 0 5-3 3-5 0-3-3 0-5zM112 478l4-4 7 0 4 4 0 3-4 4-7 0-4-4zM152 462l4-4 7 0 4 4 0 3-4 4-7 0-4-4zM137 444l5 0 3 3 0 5-3 3-5 0-3-3 0-5zM150 381l-4 0-5 7 1 8 3 3 3-4 3-9zM28 287l-5-1-18 3 0 5 5 6 1 12 7 3 4 0 2-2 0-3 5-8 2-7 0-5zM249 174l0 2 9 4 4-1-1-4-4-3zM133 46l-2-9-7-7-9-4-18 2-2-4 0-12-3-5-2 0-2 3 0 7 3 11-2 2-8 0-6-4-4-7-16-6-11 0-11 4-5 0-5-3-23 8 0 14 3 2 2 7 4 0 3-2 4 1 14 7 14 3 3 6 5 3 7 2 10-1 9 8 4 6 11 7 6 2 8 0 8-12 9-4 2-6 0-7zM465 1l-10 5-12 2-3-1-4-6-8-1-4 3-5 9-7 4-12 2-11-3-18 0-13 7-10 0-2 3-10 4-11 9-3 10-6 9-8 4-11 2-6 7-6 0-7 4-6 7 0 8-4 9 0 11 2 4-10 6-11-1 0 5 4 3 4 0 4-6 8-4 5 0 4 4-1 3-8 1-5 3-2 12 3 4 9 4 3 3 0 6 4 5 10 5 2 13-6 13 7 10-2 2-5 0-13-8-6 2-4 4-5 0 0 2 4 4 5 0 7-4 3 8-2 4-8 0-5 2 8 10-5 10-1 12-4 3-5-1-6 2-6 4 1 3 9 0 2 10-2 7 3 6-3 4-12 2-5 4 0 4 8 12 1 14 4 8-6 9 0 3 4 2 0 7-2 6-4 5-5 1-2 2 0 6 10 8-2 10 5 4 0 9 4 7-1 14 1 3 6 6 3 10 8 16 6 5 6 0 3-3 5-1 2 2 0 6 5 12 1 8 8 10 7 3 4 0 2-6 3 2 2 4 2 17-2 11-3 5-2 8 3 13-3 10 0 7 3 7 7 8 1-12 3-6 1-10 4-9 0-6-4-7 3-11-4-6 0-3 1-1 8 4 7 7 4 0 5-4 13-5 4-4 1 11 4 5 3 1 41 0 17 11 4-1 0-3 3-4 6 0 13 5 22 0 4 7 1 7 5 5 0 3-5 9 0 5 2 4 11 9 5 0 2-8 7-10-2-11 4-7 1-12-1-8-4-4-11-6-5-5 0-3 5-1 8 5 5 1 15-9 21-5 6-11 4-4 6 0 4-2 6-7 7-2 10 2 0-280-13-2-4 3-16 4-9-3-10-6-18-1-2-3 3-4-5-5 1-5 4-4 6-2 11 0 6 4 9 1 15 7 8-3 5 0 9 4 0-134-10 3-6 0-6-6-11-2-14-10-10 2-4-6-6 0-4 4-12 5-7-1-6-12-6-4-8 2-10-16zM290 225l3 0 4 4 2 6-1 13-5 6-3 0-4-4-2-6 1-13zM492 174l4-4 7 0 4 4 0 3-4 4-7 0-4-4zM299 158l3 1 5 7-1 10-6 5-3-1-5-7 1-10zM157 1l2 6 11 5 8-1 3-3 0-6-2-2zM106 0l-2 3 0 4 4 9 3 3 13 6 1-3-4-9 0-4-7-9z"/><path fill="#ababab" fill-rule="evenodd" d="M21 570l1 2 7-2 2-4-7 0zM198 527l0 3 3 3 1-3-2-3zM228 497l0 5 6 5 1 7 7 7 12 0 9 2 5-3 0-15-5-6-7 0-3-2-11 0-5-3-4 0zM0 452l0 4 5 5-1 7 2-7 2 2 3-3 4 2 8 0 6-6 5 0 3 4 7 3 6 5 1 15 9 11 4 1 3 3 0 9-2 8 2-3 5 0 4 6 0 3-4 6-5 0-4-5-3 5-1 7-7 10 2 3 10-3 2 2-1 7 2 4 5 3 19-15 9-2 4 1 3-3 3-10 7-10-3-4 0-5 6-5-2-2 0-5 3-2 4 0 9-7 13 8 7 7 5 2 5 6 10 1 2-8 6-8 0-7-3-4 1-5 11-6 12-2-1-2 4-3 3-6 1-12-2-23 9-13 1-7-4-5-18 0-5-2-2 3 0 7-3 4-18 1-6 10-3 1-9-5-6 3-9-6-5 0-12 4-11 9-4 0-2-4 4-5 0-4-4-7-6-3-5-6-3-1-11 3-7-4-6 0-6 3-10-8-2-9-5-2 0 17 9 8-1 26 5 6-2 5-3 3-2-1-7-9-3-1-17 8-3 3zM87 482l5 0 4 6 0 3-4 6-5 0-4-6 0-3zM169 479l3 1 4 5-1 3-5 4-3-1-4-5 1-3zM112 477l6-4 3 0 6 4 0 5-6 4-3 0-6-4zM152 461l6-4 3 0 6 4 0 5-6 4-3 0-6-4zM139 443l3 1 4 5-1 3-5 4-3-1-4-5 1-3zM150 381l-3 0-6 7 0 5 3 5 2 0 5-13zM26 287l-20 3 0 3 5 8 0 10 3 2 7 1 7-12 2-12zM276 198l-5-1-7 6-4 1 2 3 5 1 9-6zM249 174l0 2 10 4 2-1-1-5-3-2zM132 48l-1-9-10-9-11-2-13 1-2-2-1-16-3-4-2 2 2 20-2 2-10-1-5-3-5-9-1 1-2-2-6 0-8-4-6 0-15 6-3 0-3-3-4 0-16 5-5 3 4 14 3 4 5 0 19 9 12 2 7 9 8 2 12-1 7 6 4 7 15 10 6 0 6-3 1-3 9-9 5 0 2-12zM465 2l-10 5-15 1-6-7-5 0-6 5-2 5-5 5-14 3-19-3-14 0-11 7-7 0-4 4-5 1-14 8-5 8-3 10-4 4-9 4-10 2-6 8-10 1-8 9 0 9-4 9 0 8 3 5 10 4 2 4-4 5-11 1-3 6 0 5 6 6 4 0 5 5 0 9 7 1 5 4 4-5 5 0 5 6 0 11-5 6-5 0-7 8 1 6 8 6-10 9-5 2-5 6-15 0 9 10 5 3 0 2-9 6-2 5 0 6-3 7-5 5 0 8-3 5 2 8-1 3-3 3-10 2-5 4 2 5 7 7 6 3-6 9 0 4 10 17-7 4-5 20-4 3-5 1-1 4 10 8 0 8 6 3-2 5 0 8 4 8-1 13 6 7 2 4 0 5 7 11 2 6 8 6 7-4 5 0 2 2 1 9 6 13 8 9 10 0 7 6 3 14-3 14-6 17 3 10 0 6-3 7 0 4 3 8 7 7 0-9 3-6 3-15 3-5 0-5-4-7 2-12-4-5 0-8 1-1 18 13 20-10 1-5 3-3 3 6 0 9 2 4 4 2 8-1 3 2 17 1 7-3 7 3 13 10 4 0 2-7 3-2 6 1 11 5 6 0 3 2 9-3 5 1 4 4 4 9 4 2 5 6-1 5-7 8 1 6 7 9 6 1 2-3 0-4 7-9-1-14 4-7 0-15-4-6-14-8-4-7 2-2 4 0 10 5 6 0 14-9 19-3 9-16 3-3 6 0 6-9 2 0 1 3 10-2 7 3 0-280-11-2-19 8-6-1-18-9-18 0-2-4 3-4-4-5 0-3 4-7 12-1 4-3 3 0 8 6 8 1 14 7 8-3 5 0 9 3 0-131-16 3-5-5-11-3-16-10-9 3-7-5-18 7-9-1-5-11-4-2-10 1-11-19zM290 224l3 0 4 4 2 5 0 13-2 5-4 4-3 0-4-4-2-5 0-13 2-5zM492 173l6-4 3 0 6 4 0 5-6 4-3 0-6-4zM157 3l3 4 11 5 6-1 4-3 0-6-2-2-21 0zM107 0l-3 6 6 11 10 6 3 0 1-1-4-8 0-3-7-11z"/><path fill="#a6a6a6" fill-rule="evenodd" d="M30 567l-4-1-4 3 0 2 3 0zM199 528l0 2 2 1 0-2zM329 511l-6 21-4 7 0 10 3 7-3 15 3 8 5 5 0-7 10-27-1-6-4-6 3-10-6-6zM229 497l0 3 10 7-1 5 5 8 9 0 7 2 5 0 3-2 1-14-3-5-12-3-10 1-6-4-5 0zM4 454l28 0 7 3 3 4 6 3 5 5-1 13 5 4 2 4 5 3 6-1 4 3 0 2-5 5-1 9 3 0 4 4 1 7-5 6-6-2-6 13 4-1 3-4 5 7 0 7-2 5 3 2 4-1 15-11 14-1 3-12 4-5-1-10 4-12 0-5 4-5 6 0 8-4 5 0 5 5 9 2 6 8 7 1 2 2-2 3 1 4 7-1 3-10 5-4 0-5-4-6 1-6 5-4 5 0 11-4 9-9 1-13-2-3 1-11-2-11 3-6 8-7 0-5-4-4-12 1-10-3-2 4 1 9-2 2-8 1-8-2-3 2-3 8-4 3-3 0-8-5-4 0-10 8-2 0 0-7-6-1-8 2-8 5-4 4 0 3-2 2-10 2-1-3 2-2 0-4-3-5 0-5-2-2-5 1-3-3 1-3 2 0 3 3 7-6-8-9-7 0-9 4-7-3-10 2-12-11 0-7-4-3 1 8-2 6 2 3 5 2 4 5-2 5 1 20 4 3 5 1 1 3-6 3-4 8-7-5-4-7-3-1-14 7-1 2-5 1-3 3zM88 481l3 0 5 6 0 5-5 6-3 0-5-6 0-5zM168 479l5 1 3 4-1 5-4 3-5-1-3-4 1-5zM111 478l6-5 5 0 6 5 0 3-6 5-5 0-6-5zM124 469l3-1 5 2 3 3 0 2-4 2-7-6zM151 462l6-5 5 0 6 5 0 3-6 5-5 0-6-5zM117 451l2-2 3 0 1 4-4 1zM138 443l5 1 3 4-1 5-4 3-5-1-3-4 1-5zM148 381l-5 4-2 4 1 6 3 3 2-2 4-12zM25 287l-17 3 0 4 3 4 0 10 5 5 4 0 2-2 7-14 1-5zM276 199l-3-2-3 1-6 6-3 1 2 2 6 0 6-4zM249 175l8 4 4-1-1-4-3-2-6 1zM131 47l0-5-5-5-5 0-3-3-5 0-5-4-14 0-2-20-2 2 2 17-5 3-17-2-5-10-7-2-6-4-7 0-15 7-5-3-7 0-10 3-7 4 5 11 5 5 18 9 15 3 7 9 4 0 3 2 4 0 3-2 8 1 9 12 11 6 4 4 6-1 7-9 12-6 2-5-1-4zM429 2l-4 3-8 12-24 3-22-4-15 9-4 0-6 4-13 5-8 7-2 9-7 9-19 6-5 8-7 0-10 8-1 11-4 8 0 8 3 4 10 4 3 6-6 7-8 2-1 5 6 0 3 3 1 5 4 6-1 6 2 1 4-5 2 0 3 3 0 4 6-2 5 4 2 5-1 10-6 6 0 3-2 2-6 2 0 3 2 2 3 0 4-4 2 0 3 5-7 9-14 10-5 6-7-3-9 1 8 9 7 3 1 4-3 3-6 2-3 4-2 16-6 4-1 9-3 4 0 12-5 3-6 1-4 3 2 5 5 5 11 2 0 3-8 9 0 4 5 11 4 5 0 3-8 3-4 17-4 6-6 2 0 3 8 5 2 7 4-2 0-8-2-4 2-1 5 5 3 10-8 8-2 4 0 5 5 10-1 13 6 7 1 10 8 10 2 6 5 4 10-4 3 1 3 3 3 13 6 5 3 5 7 2 13 11 2 4 0 5 2 2 5 1 9 8 8 4 12-4 6-6 2-6 2-2 4 0 1 12 4 8 7 0 7 4 15 0 3-2 9 0 10 11 4 2 4-1 4-8 6 0 14 7 7 0 4-4 11 3 7 10 6 4 6 8 0 6-7 7-1 3 5 11 7 2 1-6 7-9 0-5-4-11 3-2 2-4 0-8 2-4-4-8-13-7-7-6 0-2 4-3 4 0 11 5 4 0 11-6 6-6 18 0 5-8 3-11 3-2 6 1 2-5 4-4 11 0 2 3 8 3 0-278-9-2-18 6-7 0-19-9-15 1-8-4 3-6-3-5 2-11 15-1 4-4 3 0 8 6 8 2 14 7 9-3 13 3 0-129-16 3-5-5-7-3-4 0-15-9-10 2-6-4-7 0-11 6-10-1-4-3 0-5-3-3-8 2-5-2-11-21-9-7-6-1-8 4-13 1-6-6zM290 223l3 0 4 4 3 8-1 13-6 8-3 0-4-4-3-8 1-13zM491 174l6-5 5 0 6 5 0 3-6 5-5 0-6-5zM158 0l0 5 11 6 8 0 4-3 0-5-2-3zM108 0l-3 3 0 4 6 10 11 5 0-3-3-4-2-8-5-7z"/><path fill="#a1a1a1" fill-rule="evenodd" d="M23 570l3 0 3-3-4 0zM512 559l-1 3 3 7 0 4-7 8 2 4 3-7 6-8zM327 523l-8 16 0 9 3 5-2 18 5 10 7-22 4-7 0-6-5-9 3-10zM499 522l-12 12 3 2 3 7 4 4 4 2 5-1 6 2 2-2 0-5 5-6 0-2-4-5zM230 497l2 4 6 1 3 3 0 10 2 4 21 2 2-2 1-14-3-4-12-2-9 2-6-5zM40 456l-6-10 0-3-4 1-7 6-6 2 7 2 8-1zM43 397l0 4 6 4 4 5 0 4-2 3 0 17 13 8-1 3-8 4-1 7-2 2-6-3-3 3 12 11-2 10 9 11 10 0 9 7 0 4-4 3 0 6-3 3-1-1 3 4 0 7-5 5 2 2-1 7 2 13 5-7 4 2 9-4 10-1-3-12 5-1 4-6 6-27 3-3 17-7 14 8 8-1 14 10 6-4 2 1 2-2-4-7-4 3-5 0-4-4 0-5 4-4 5 0 4 3 3-4 5-3 9 0 7-5 4-1 4-6 0-8-3-6 1-16-2-8 4-8 7-6 0-2-4-3-12 1-7-4-2 2-1 5 4 7-8 4-8-1-5 9-6 4-6 0-8-5-5 0-4 2-8 7-4-2-1-6-14 4-3 9 2 3 10-1 6 2 2 3 0-2 4-4 5 0 4 4 0 5-4 4-5 0-2-2-3 4-8-2-5 3-5-2-15 0 0-7-8-2-3-3 2-4 6-3 1-2-2-4-3-2-10-1-5-4 0-3 7-8 6 2 4-2 0-3-4-5-8 0-7 6-5 0-4-2-6 2zM87 481l5 0 4 5 0 7-4 5-5 0-4-5 0-7zM128 462l9 9 0 6-4 5-7-7 2 2 0 5-3 3-11 0-3-3 0-5 5-4 8 1-5-6 2-3zM151 461l5-4 7 0 5 4 0 5-5 4-7 0-5-4zM149 382l-4 1-3 4 0 7 2 3 2 0 4-11zM26 288l-15 2-2 2 3 7 0 10 4 3 3 0 2-2 0-2 7-10 1-7zM275 199l-4-1-8 8 7 0 5-4zM249 175l9 4 2-1 0-3-4-3zM3 25l7 13 10 7 6 1 4 4 16 2 7 9 6 2 9-4 9 5 3 5 16 14 5 0 8-9 5-2 7-6 1-7 8-12 0-4-2-3-9 0-6-2-6-6-37 0-8-11-12-7-11 3-8 5-12-3-7 3-4 0zM430 3l-6 5-6 10-8 0-9 3-11 0-13-4-10 1-10 8-27 11-4 4-2 4 0 5-5 8-5 3-16 4-3 4 0 3-3 3-8 1-8 6 0 7-5 11 0 7 3 4 8 3 5 7 0 3-6 7 0 5 3 7 4 0 3 6 6 3 0 5 3-1 4 2 3 4 1 13-4 8 4 5 4 1 2 3-11 12-19 14-2 6-4-5-11-1 0 2 7 7 8 2 1 6-12 8-1 16-7 4-2 9-3 5 1 10-4 4-7 2-3 3 2 5 4 3 8-2 4 1-1 10-5 7 0 9 6 10 0 4-2 2-4 0-3 2-4 17 10 9 4 9 0 4-10 8-2 6 5 9 2 12-2 3 6 8-1 9 2 4 7 4 3 8 3 3 9-3 5 1 3 4 2 9 2 2 2-1 8 11 5 1 16 16 1 4 4 0 7-4 2 2 1 7 3 4 16 1 10-12 9-1 2 2 0 4-3 4 0 3 18 12 13 0 5-3 4 0 6 2 5 5-1 3 3 3 4 0 8-9 5-1 5 5 8 4 6 1 8-6 7-8 3 0 8-11 9 0 14 5 9-4 9-9 10-1 2 2 5 0 3-5-1-4 4-5 2-8 2-2 7 0 8-6 9 0 7 6 4 1 0-276-16-1-12 5-4 0-7-2-12-7-21 0-6-4 4-7-3-4 2-6-1-6 15 0 7-6 32 16 4 0 7-3 11 3 0-128-16 4-8-7-12-3-11-6-9 2-9-5-8 1-8 5-11-1-4-2-2-7-10 1-4-2-10-21-9-8-5-1-5 3-16 2-3-1-6-6zM291 222l7 5 2 6-1 17-7 7-7-5-2-6 1-17zM491 173l5-4 7 0 5 4 0 5-5 4-7 0-5-4zM107 2l-1 5 8 11 7 3-7-17-3-3zM158 0l1 4 10 6 8 0 4-3 0-4-2-3z"/><path fill="#9c9c9c" fill-rule="evenodd" d="M331 527l-5 1-7 13 0 5 4 8-2 15 4 9 11-28 0-3-5-8 0-6 2-2 0-3zM499 525l-6 7-1 7 7 7 9 0 2-1 6-12-11-7zM243 505l-1 9 3 5 20 0 1-14-2-3-14-1zM231 498l2 2 5 0-4-4zM97 450l-3 2 0 4 5-2zM37 454l-1-5-3-2-6 1-8 4zM128 434l-3-1-5 2-3 5 3 2 7-3zM84 406l-6 5 1 2-4 2-16-1-4-3-3 7 1 16 9 4 3 3 1 4-9 6-1 8-3 3-4-1 8 8-2 10 9 9 14 2 6 7 1 4-4 8 0 4-4 5-2 8 2 7 2-5-1-4 3-3 2 1-2 14 4 5 4 0 4-3 0-4-2-2 0-5 5-7 8 2 2-3 4-24 6-6 9-3 4-5-5 5-9 0-5-5 0-3 6-5-9-1-1-11-7-2-12 4-7 0-5-3 0-3 5-6 2-7 3-3 8-2 2-2 0-3-2-2-11 0-4-2-5-6 7-10 12-1 0-3-3-4zM88 480l3 0 6 8-1 6-5 5-3 0-6-8 1-6zM209 407l-12 1-5-4-2 2 0 6 3 4 4 2-7 4-10 1-7 13-14-1-11-5-5 2-5 5 0 5 5 1 4 6-1 4-3 3-6 0-4 5 0 2 6 8-1 10 10 7 11 0 8 7 3 0 2-2 3 1 0-4-6 3-6-4-1-4 4-6 4-1 5 2 16-16 4-1 3 2 1 3 4 0 3-3 1-7-4-5 2-19-3-9 0-5 3-6 5-5zM150 462l5-5 6-1 8 6 0 3-5 5-6 1-8-6zM148 382l-6 6 0 6 3 3 2-2 3-10zM25 288l-4 0-10 4 2 16 3 3 4-2 8-13 0-6zM268 219l6 7 4 2 3-1 0-3-3-4-5-2zM275 200l-6 0-5 6 2 1 5-2zM250 174l0 2 10 2 0-3-2-2zM4 25l7 12 7 6 14 6 15 1 5 3 2 6 7 2 6-6 5 5 8 3 3 3 0 3 15 12 3 0 7-8 4-1 8-7 0-5 6-7 3-7-2-4-10 0-6-3-5-5-13-2-6 2-16 0-4-3-4-7-12-9-12 3-9 6-9-4zM430 4l-5 4-6 11-11 0-7 3-11 0-11-4-10 0-13 10-6 1-20 9-5 6 0 7-6 8-21 7-2 3 0 4-3 4-5 2-6 0-5 4 0 8-5 9 0 6 3 4 6 2 6 6 1 7-5 6 1 6 3 1 3-2 5 0 5 4 1 9-2 7 3 0 5 5 2 5 0 7-3 9 4 4 4 1 3 3 0 3-15 14-6 3-11 9-2 9 1 2 1-4 6-5 3 1 5 6 2 7 0 9-3 9-7 5-6-5-3-13-7 2-3 4 0 14-9 6-4 12 1 9-3 5-7 2-2 2 1 4 3 2 10-5 3 1-1 16-5 10 0 6 6 11 0 4-9 3-4 10 0 4 6 5 4 0 4-3 3 2 0 4-3 6 2 8-5 7-9 5 0 5 5 7 1 7 2 3-2 7 5 6-3 6 1 6 5 4 7 0 9-5 0 4-6 6 0 5 13 0 4 4 1 4 6 4 3 8 4 4 6 2 6 8 12 8 9-2 6 12 14 0 14-10 8 0 4 5 5 15 4 3 11 0 3 2 8-3 11 4 6 6 3 0 7-6 8-3 3 2 1 4 4 4 8 2 5-5 0-3-6-6 0-3 6-6 3 1 5 7 4 1 7-10 10 0 11 4 5 0 9-4 4-6 5-3 15 1 2-2 0-6 4-6 1-7 5-5 24-4 7 8 3 1 0-275-8-2-9 1-14 5-8-2-14-8-19 1-7-4 0-3 3-4-2-5 2-6-2-7 17 0 6-6 32 16 16-2 7 3 0-127-16 4-10-8-7-1-14-6-9 1-10-5-8 1-7 5-11-2-5 1-5-6-6-1-6-4-9-21-7-6-7-1-10 3-12 0-7-6zM490 174l5-5 6-1 8 6 0 3-5 5-6 1-8-6zM107 4l0 3 6 9 6 3-6-14-2-2zM159 0l2 3 9 6 6 0 4-2 0-5-2-2z"/><path fill="#969696" fill-rule="evenodd" d="M506 531l-6 0-5 3-2 4 3 5 7 1 5-4 1-7zM330 529l-3 1-7 9 0 9 3 5-1 14 2 2 4-2 7-15 0-6-5-7zM102 515l1 3 1-2zM91 513l-6 11 0 12 2 2 0-10 5-9zM264 503l-7-2-12 4-1 11 2 2 17 1 2-8zM89 499l0 4 7 3-1-4-3-3zM95 451l-1 4 4-1 0-2zM35 449l-3-2-11 5 14 0zM196 421l-14 4-4 6-3 9-8-3-9 0-7-3-6 0-2 2 3 11 6-4 3 2 0 4-3 4-6 0-3 3-5 1-2 3 0 2 4 3 1 3 0 12 8 5 9 0 4-3 0-11-8-1-4-4 0-5 4-4 8-1 7 5 0 5-2 2 1 10 4 1 7-5 4-9 5-5 12 0 2-2-1-14 2-4 0-9-2-6zM56 415l-3 4 2 14 9 5 3 4 0 4-8 7-1 7-3 4 4 6-2 8 8 9 7 1 9-2 6-6 5 0 7 8 4 0 8-5-1-6-4 1-2-2-5-13-11 2-15-1-2 3 2 9-1 4-3-1-7-7 0-7 14-17 2-5 5-3 10-2 1-3-2-2-11 1-4-2-5-5-1-7-2-2-9-1zM80 411l11 1 0-3-2-2-5 0zM190 411l4 5 4 0 0-2 6-4-6 0-4-5-3 0zM149 383l-4 1-3 5 0 4 2 3 2 0zM26 289l-6 0-7 3 1 16 4 1 8-10 2-5zM270 219l0 2 5 5 5 1-1-6-4-2zM274 199l-4 1-5 6 7-2 2-2zM250 174l0 2 9 2 1-2-2-3zM6 25l6 12 7 6 20 6 12-1 5 4-1 4 3 3 3 0 7-8 2 5 5 4 18 0 1 1-7 3-2 4 10 9 6 0 7-6 5-1 5-5 1-7 7-7 1-6-12-2-12-8-33 0-3-2-4-7-12-10-5 0-7 3-8 6-5 0-4-3zM109 6l3 3-1-3zM430 5l-4 3-7 13-12-1-6 3-11 0-18-5-8 4-6 6-8 2-18 8-6 6 0 8-7 8-20 6-2 2 0 6-3 5-15 5 0 5-6 11 0 6 3 3 7 3 5 7 1 7-4 5 0 3 4 0 4-3 2 3 4 1 4 4 0 12-2 4 6 5 2 4 0 16 10 9 0 4-6 7-5 3 0 12-2 2-3-1 2-6-3-1-15 9 0 5 5-3 6 5 2 4 1 17-3 8-7 5-6-5-3-10-5 0-3 4 0 13-9 4-3 7-1 20 5 1 2 2 0 5-3 10 0 8-4 7 0 5 5 10 1 6-2 2-4 0-3 2-4 10 3 3 4 0 5-3 3 1 4 4 0 6-2 5 0 11-7 7-7 2-1 4 8 8-1 6 3 6-1 5 5 7-7 4 1 8 5 3 8-1 18-13 2 2-1 5-14 14 6 0 6 3 3 6 7 6 2 7 3 3 6 2 7 9 11 5 10-1 2 2 0 5 3 5 13 1 7-3 7-6 8-1 6 4 7 16 5-2 6 3 1-1 5 4 7-1 8 2 9 7 5-2 4-4 13-5 3 3 0 7 5 4 4 0 1-5-6-9 6-9 4 0 6 7 6 1 8-10 22 5 10-3 7-8 17-1 2-2 0-10 4-4 1-6 6-5 22-1 4-2 3 7 5 4 0-274-9-2-12 2-5 3-12-1-14-8-19 1-6-2-3-3 0-3 3-5-2-5 2-5-2-1 1-9 9 3 7 0 7-7 2 0 32 17 8-3 5 0 8 3 0-125-16 4-12-9-15-3-3-2-11 0-10-5-8 1-6 5-10-2-8 2-6-6-10-6-2-8-7-14-5-4-7-2-4 2-18 1-8-6zM464 507l2 2-4 4-2 0-1-3zM278 428l2 2-4 2-1-2zM490 173l4-4 8-1 7 5 0 5-4 4-8 1-7-5zM161 0l8 7 5 1 5-2 0-4-3-2z"/><path fill="#919191" fill-rule="evenodd" d="M497 537l-1 3 3 2 2-4zM327 532l-7 7 0 8 4 6 0 13 2 0 3-3 6-12 0-4-6-8zM466 524l0 3 3 3 1-2zM468 512l-3 0-2 4 2 0zM263 503l-8-1-8 3-2 3 1 9 16 1 2-7zM59 473l0 5 8 8 10 0 5-7-1-2-4-1-3 6-4 0-9-9zM146 468l-3 9 12 6 4-1 2-4-1-4-9-6zM75 468l1 3 7 0 13 9 4-1-1-9-4-4-11 0zM138 460l4 2 5-3-2-2-4 0zM95 452l0 2 2 0 0-2zM34 449l-4-1-7 4 7 0zM196 423l-11 3-3 3 0 9-2 4-5 5-5-1-3 3-1 9 4 4-1 5 2 7 5-2 3-8 7-7 12-4-1-6 2-7 2-2 0-9zM55 418l0 4 3 5 0 6 4 2 9 11 7-7 14-2-1-3-9 2-6-1-8-8-4-7-7-3zM83 409l1 2 6 0 0-2-3-2zM192 405l-2 4 1 3 5 4 1-6zM148 383l-6 6 0 3 3 4 4-9zM26 290l-4-1-8 4 0 12 2 2 2 0 7-8 2-4zM271 220l4 5 5 0-2-4zM274 201l-3-1-5 5 4 0zM250 175l7 3 2-1 0-3-7-1zM8 26l5 11 5 5 16 5 19-1 5 6 1 6 3-1 6-8 2 1 1 5 5 4 23-1 1 1-3 3-9 4 0 2 8 7 10-7 7 0 4-4 1-7 7-7-1-3-9-2-14-9-30 1-20-20-4 0-9 4-9 6-4 0-2-2zM429 6l-3 3-4 12-2 2-4-2-10 0-5 3-16-1-9-4-5 0-7 4-8 8-6 0-6 4-12 4-6 7 1 7-7 7-21 7-2 11-7 6-8 3-8 13 0 5 13 10 2 7 3 4-5 5 2 0 5-5 3 7 7 5 1 12-3 5 5 4 2 6 3 2 2 4 2 12 4 5 0 7-4 6-5 1-2 2 2 9-5 6-10 2-1-1 5-5 0-2-12 6 0 2 6-1 4 4 3 7 1 12-4 12-4 4-5 0-4-4-3-8-4 0-2 3 2 11-12 5-3 6-1 5 8 9 0 10-3 10 0 13-4 8 0 4 6 15-8 7-1 5 10 0 7 6-3 15 5 8-18 12 6 1 3 3-2 12 8 5 8 10-12 6-8-1-1 6 4 5 5 1 10-4 14-13 3 3 0 6-8 11 0 2 3 0 3 3 1 6 7 7 2 7 10 5 7 9 6 2 15 0 1 10 3 4 14 0 11-8 12-1 9 10 5 2 6 6 4 0 3 4 15 2 10 7 15-9 3-3-1-5 4-4 7 0 2 3 9-1 6 7 2 0 11-11 6 2 3 3 18 0 3-1 8-8 18-1 1-8-4-7 6-2 3-7 4-4 24 0 4-5 5 0 0 10 4 3 0-271-10-2-8 1-8 4-7 0-3-2-4 0-12-7-7 0-5 2-11-2-4-2-3-4 4-7-2-10 1-6-2-3 1-2 5 0 9 4 4-1 5-6 3-1 17 7 7 6 8 4 5 0 6-3 11 3 0-123-6 1-8 4-14-10-13-2-7-3-9 0-10-5-6 0-8 6-14-2-5 3-16-14-2-8-6-12-5-5-31 0-6-5zM489 174l3-4 4-2 7 0 6 4 1 5-3 4-4 2-7 0-6-4zM168 3l3 3 6 0-1-4z"/><path fill="#8c8c8c" fill-rule="evenodd" d="M324 535l-3 3-1 7 5 9-1 9 2 1 8-12 0-6-6-7-1-4zM246 508l1 8 13 1 2-3 1-9-2-2-7 0zM77 482l-3 3 2 0zM150 476l2 2 5 0-1-2zM61 476l5 7 4 1zM599 472l-2 2 2 3zM86 468l7 6 3 0 0-2-4-4zM177 451l-5 0-4 4 4 12 2-1 4-9zM32 449l-4 0-3 3 6-1zM294 431l-6-1-7 2-8 5-7-2-3 4 1 4 4 3 10-1 4-2zM197 429l-2-4-5 2 2 2zM85 409l4 2 0-2zM192 406l-1 5 2 3 3 1 0-6zM148 384l-2 0-4 6 2 5 3-2zM25 290l-5 0-5 3-1 9 2 3 2 0 8-9zM273 221l3 4 3 0-2-4zM273 201l-3 0-3 4 2 0zM250 175l4 2 5 0-2-4-4 0zM10 26l3 2-2 1 0 2 4 8 6 4 9 1 4 2 7 0 12-4 3 6 5 4 2 0 6-5 4 8 5 3 15-2 8 1 1 1-2 4-6 5 2 4 9-7 8 1 3-3 1-6 5-4-1-4-9-3-9-7-8 0-5 2-21-2-3-2-8-12-8-6-27 13-2 0-4-4zM428 8l-5 11 0 4-2 2-9-4-12 4-16-1-8-4-8 1-11 11-7 0-6 5-10 2-7 8 1 7-12 9-16 4-2 3 0 9-8 7-7 3-7 9 0 7 12 10 2 7 3 3 3 0 2 5 7 7 1 13-3 5 4 3 2 5 4 3 2 4 1 9 5 9-1 12-3 3-5 1 1 7-2 5-6 5-7 2 4 10 0 13-3 9-5 5-5 0-5-5-1-4-3-1-1 4 2 3 0 4-5 4-8 2-3 4-1 5 8 8-1 16-3 7 1 14-3 7 0 7 4 8 0 5-3 5 9 6 3 5-1 14 4 10-5 5 0 2 9 7-4 9 1 5-4 1 5 10 11 0 4 3 2 4-1 7-2 3 2 16 8 6-1 5 2 4 10 3 9 10 6 1 12-3 2 1 1 3-2 4 0 7 3 3 13 0 10-8 15-1 4 2 11 11 8 0 4 8 15 2 8 7 12-8 2-10 5-3 10 1 2 2 7 0 10 3 10-8 6 1 4 5 9 0 14-8 8-2 12 1 3-2 0-6-11-11 1-2 7 4 4-1 4-8 5-4 7-1 16 2 4-7 10 1 0-255-11-2-8 1-7 4-6 0-3-2-6 0-7-6-9-1-9 2-9-2-8-6 0-4 4-4-1-8-2-2 2-3 0-3-3-5 1-2 5 0 7 4 6 1 7-7 5 0 5 3 11 3 6 6 7 4 6 0 4-2 13 2 0-121-15 5-12-10-18-2-6-3-5 1-12-6-6 0-7 6-13-2-5 3-3 0-14-13-2-8-7-14-3-3-31-1-7-5zM489 173l4-4 8-2 5 2 4 4 0 5-4 4-8 2-5-2-4-4zM306 129l2-3 6 1-3 3z"/><path fill="#878787" fill-rule="evenodd" d="M324 536l-3 3 0 8 5 7 0 7 2 0 6-10 0-3-8-12zM262 505l-5-2-8 3-2 2 0 6 3 2 9-1 3-5zM173 454l-3 2 1 4 2 0 1-2zM31 449l-5 2 3 0zM293 430l-10 2-8 5-9-1-2 2 0 4 4 4 7 0 5-2 13-12zM192 406l-1 5 3 3 2 0 0-4zM148 385l-2 0-3 3 1 7 3-3zM25 291l-6 0-3 2-1 9 2 2 7-6 2-4zM274 222l4 2-1-2zM272 201l-4 3 2 0zM250 175l4 2 5-1-2-3-4 0zM14 33l1 5 4 4 6 2 15 1 14-7 3 3-1 5 4 4 4 0 5-5 8 11 22-1 4 2 0 6 4-2 6 1 3-8 4-3-2-2-5-1-8-7-5-2-8 3-8-2-15 0-5-5-2-5-11-10-4 1-5 4-11 2-8 7-8-2zM430 8l-3 4-3 9 0 5-2 2-11-6-6 1-5 3-16-1-7-4-6 0-4 2-8 10-9 0-4 7-11 0-7 8 2 5-1 2-14 9-15 4-1 11-7 7-8 4-7 9 0 5 11 10 4 9 5 2 17-1 2 2-6 11-4 2 1 11-3 5 5 7 3 0 5 5 8 15-4 5 1 16-5 2-4 10-6 6-8 4 3 7 0 15-4 10-3 3-5 1-5-5 0 3-4 5-10 4-3 4 0 2 7 5 1 8-6 18 1 16-3 9 0 6 4 8-2 8 9 8 2 4 1 10 4 7-2 8-3 5 10 8 0 12 4 3 0 2-4 1-3 3 0 2 8 0 5 5 1 10-2 8 2 7 12 6-4 8 0 4 5 3 7 1 8 8 18-1 3 3-3 7 0 6 3 3 11 0 6-6 6-3 21-2 6 11 3 2 4 0 6-3 2 2 1 5 7-1 9 8 4 6 3 0 8-8 3-10 2-2 13 2 4 2 17 0 8-6 6 0 8 6 5-5 11-3 24 0 2-1 0-4-12-13-1-3 2-2 11 5 3-3-4-4 4-5 22-2 4 3 3 0 3-2 2-6 11 1 0-253-19 0-8 5-3 0-5-3-7 1-4-5-4-2-6 0-5 4-4 1-5-5-6-1-9-6 1-5 4-4-1-7-3-2 3-4 0-3-4-7 3-3 5 1 10 6 4-1 6-6 5 0 7 4 9 1 10 10 4 2 4 0 5-3 5 0 8 3 0-117-13 5-10-10-7-4-12 0-6-3-5 1-11-4-4-3-6 0-6 6-14-2-7 4-15-14-5-13-8-12-32-2-5-4zM359 482l2 0 3 3 2 5 0 4-3 3-3 0-2-2zM489 173l5-5 8-1 8 6 0 5-5 5-8 1-8-6z"/><path fill="#828282" fill-rule="evenodd" d="M324 537l-3 3 0 5 5 7 2 7 5-7 0-5zM261 505l-5-1-5 2-3 3 0 5 10 0 3-5zM292 431l-10 2-7 5-10-1-1 4 5 5 8-1 7-4 8-8zM192 407l0 5 3 1 0-4zM147 385l-4 4 1 5 3-3zM25 292l-4-1-4 2 0 9 5-3zM251 174l1 2 6 1 0-3-2-1zM16 35l1 5 5 3 17 1 6-2 8-7 2 0 3 3-1 8 2 2 6 0 3-5 5 4 4 7 22 0 5 3 0 4 4-2 4 1 3-8-6-6-7-4-6 1-2 2-5 0-5-3-16 0-7-11-10-9-8 4-11 1-9 8zM431 9l-3 4-3 9 0 6-2 2-14-7-13 4-13-1-4-3-8-1-5 3-6 10-9-1-1 9-3 3-7-4-4 0-6 7 1 6-14 9-14 3-3 3 1 5-2 6-8 7-6 3-7 9 1 4 10 10 5 9 10 2 9-2 4 1-1 7-3 4-1 6-2 2-3 0 1 6-2 5 11 8 5 11 7 6 0 4-5 5-2 7 4 12-7 2-4 6-14 14 1 5 3 3 0 4-3 2-1 8-3 6-5 4-6-1-4 5-8 5 1 22-5 14 2 16-3 12 1 2 4 0 2 3 0 5-4 5 0 4 8 7 3 13 7 7 0 4-8 10 6 3 6 7 0 9 8 18 2 19 4 3 5 0 3 3 1 5-1 4-5 6 1 2 11 2 4 5 21 2 4 5-4 8 1 3 6-9 1-8 2-2 3 0 9 12 16 1 6-3 4 0 3 2 3 7 3 3 9-2 5 4 5 0 14 13 2 0 6-4 3-11 17 0 2-5 10 3 4 3 4 0 8-4 7 0 6 3 1-4-3-5 1-2 3-1 10 4 2-5 5-4 4 1 0 11 17 1 2-2-6-5-8-11 1-5 9 1 1-3 6-6 9-1 9-4 6 0 7 5 2-8 4 2 9 0 0-250-13-1-14 6-12-1-4 3 1 6-1 3-4 3-4-4 0-6 4-5-1-7-8-1-6 6-4 0-6-6-10-5-3 0-3-5 1-3 7-7-1-1-14 12-1-1 0-7 2-6 12-9-7-7 6-6 3 0 11 7 5 0 6-5 5-1 8 4 11 1 4 6 7 6 6 0 5-3 12 3 0-115-13 5-4-2-12-12-7 0-2 3-5 1-11-7-13-4-2-2-5 0-6 6-14-2-5 4-3 0-14-13-4-12-5-6-3-7-17-1-4-2-12 0zM401 209l2-1 3 3-2 2zM489 173l5-5 8-1 8 6 0 5-5 5-8 1-8-6z"/><path fill="#7d7d7d" fill-rule="evenodd" d="M324 538l-2 1-1 4 8 13 4-7-1-3zM260 506l-5-1-4 2-3 4 1 2 8 0 3-4zM534 492l1 2 11 2-5-4-1-3-3 0zM292 432l-2-1-7 2-10 6-8-1 0 4 5 4 9-2zM192 408l0 3 2 2 1-2zM147 386l-2 0-2 3 1 5 2-1zM23 292l-3 0-3 3 0 5 2 0 5-5zM251 175l4 2 3-1-2-3zM75 46l2 5 3 2 23 1 2 2 0 4 6-2 1-6-6-6-5 0-7 5-6-1-4-5-3-1zM67 44l-1-5-15-15-3 2-9 0-8 2-7 7-7 1 0 3 6 4 14 1 10-4 5-7 3 0 4 2-2 10 3 3 4 0zM431 13l-4 7-1 9-2 2-5 0-8-6-6 0-4 2-18 0-7-4-7 1-3 3-4 10-4 0-3-2-4 1 1 8-4 4-5 1-4-3-3 0-1 3-3 2 1 3-3 4-3 0-8 6-16 4-2 2 1 6-2 5-16 12-4 5 1 7 9 9 2 5 4 4 22 0-4 20-3 3-3 0 1 6 6 4 6-1 2 2-2 10 2 4 8 6 1 3-1 7-4 4-1 4 6-1 3 5-1 2-7-2-1 5 7 7 9 4 1 3-14 2-5-7-3 0-15 13-2 5 4 7 0 4-6 4-1 5-6 9-6 1-5 5-5 2-3 5 1 16-4 13 0 8 2 3 1 16 8 5 11 2 6 5-2 3-4 0-6 3-7-6-1 5-5 4 0 3 6 6 5 14 4 2 3 4 0 5-2 4-6 6 5 1 5 7 0 10 7 13 1 9 3 7 7 5 5 6 2 16-3 3 12 1 7-6 8 0 7-3 2 2 0 5-4 3-10 0-4 3 1 2 11 1 6 6 1-6 2-2 9-3 2 2-1 4 2 4 7 5 12 1 9-4 4 2 8 9 6 0 6 3 7 0 7 6 5 0 1-4 4-1 1-5 16 1 0-6 3 0 11 6 5 0 2 2 20-3 1-7 12-3 12-8 5 0 4-6 7 1 6-7 6-3 7-1 7-4 17-1 4 2 8 0 0-205-4-3-3-7-4-4 11-3 0-26-10-1-12 12-13 5-5 0-4 4-5-2-4-6 1-5 4-5-1-6-5-1-8 8-4 0-6-6-11-6-5 0-3-5-6 5-3 0-1-3 3-7 1-8-8-1-5-5 0-5 5-5 6-1 1-3 7 1 6-6 6 0 12 8 4-1 7-5 10 4 12 0 4 3 2 6 6 5 12-4 10 3 0-112-8 3-7 0-10-9-10-1-8 2-6-3-5-5-16-6-5 1-6 6-12-3-8 5-16-15-2-8-10-16-17-1-8-3zM392 206l6-2 12 1 3 3 0 2-7 6-8-3z"/><path fill="#787878" fill-rule="evenodd" d="M323 539l-1 6 6 9 2 0 2-6zM259 507l-5-1-5 5 2 2 3 0 4-3zM291 432l-7 1-9 6-9-1-1 4 3 3 10-1 4-2zM146 386l-3 4 1 3 3-3zM23 293l-3 0-2 2 0 4 5-4zM258 176l-3-3-4 2 5 2zM110 53l-3 1-2 4 2 0 1-2 2 1zM106 49l-6 1-2 2 5 0zM61 36l-2 2-1 7 2 2 4 0 2-2-1-6zM18 39l6 4 16 0 6-3 5-8 8 1-6-6-17 0-6 2-5 6-6 1zM372 24l-6 6-1 7-2 2-10-2 1 6-5 6-14 5-2 4-6 1-11 7-11 2-3 3 1 5-2 5-7 7-7 4-6 8 2 6 7 7 3 6 4 3 14 1 3-2 4 0 2 2-4 13 0 10-5 3 2 3 11 0 0 17 9 7 0 13 7 10-1 6-4 3 3 3 4 0 4 7-3 3-6-1-9 5-4 0-6-3-7 1-3 7 3 9-2 6-4 3-4 0-3 9-10 8-6 2-6 8 1 21-2 3 0 9 3 5 1 8 7 9 7 1 8 5 4 5-1 4-5 4-9 2-8-2-4 3 6 7 5 11 8 5 0 17-2 7 2 3 0 9 9 14-1 7 2 6 12 10 2 6 0 7 2 2 9 3 5-3 9 0 8-5 8 10 7 0 3 3-1 10 4 5 4 2 8 0 6-3 7 0 10 9 9 3 14 0 4-3 9-3 10 0 5-3 14 7 6-1 2 2 15 0 2-1 0-3 3-4 10-5 8-2 6-8 4 1 2-3 9 0 11-9 7-1 10-6 13-1 9 4 7-1 0-53-6-1 6-1 0-147-6-4-4-9-17-1 10-4 17-2 0-21-10 0-3 4 0 7-3 3-5-2-7 0-5 3 0 5-14-3-7-7 1-7 4-5 0-3-2-2-3 0-7 8-6 0-16-12-4 0-3 2-11 0-3-3 0-2 4-7 1-9-6-1-5-5 0-5 5-5 4-1 0-7 10 0 5-3 9 1 9 7 4 0 6-4 6 0 5 3 16 0 5 11 3 3 5 0 5-3 13 2 0-110-8 3-7 0-11-9-9 0-7 2-6-3-7-7-13-3-3-2-3 1-5 6-14-2-6 4-3 0-15-15-5-13-5-5-2-5-14-1-9-4-14 1-4 4-2 5 0 6-3 3-4 0-11-7-8 2-19 0-7-4zM483 487l1 1-3 2-1-1zM508 468l6-5 7 0 4 4 0 4-2 1-6-3-8 2zM559 434l0-6 2-3 6 0 2 2 0 3-7 5zM589 389l4 4 0 2-8 5-2-2 0-7 2-2zM589 380l4 2-3 4-3-2zM290 298l3-1 3 3-3 1zM389 204l2-2 18-2 8 7 4 8-22 0-7-4zM402 122l3 8 3 3-1 2-5-4zM371 118l4 2-1 9-5-6 0-3z"/><path fill="#737373" fill-rule="evenodd" d="M323 541l0 5 6 7 2-2 0-3zM257 507l-5 1-2 3 6 0zM289 433l-6 1-10 6-7-1 0 4 3 2 9-1 5-3zM590 399l9 1 0-2zM146 387l-2 1 0 5 2-1zM599 380l-5 7 0 3 4 3zM22 294l-2 0-1 3zM599 217l-7 1 1 9-7 4-5 1-7-4-4 1-1 2 5 6 25-4zM251 175l6 1 0-2zM61 37l-2 2 0 6 5 1 1-6zM19 40l7 3 12 0 7-3 4-5-1-2 5-3-5 0-3-2-12 0-7 7-7 2zM372 26l-3 3-4 11-2 1-7-2-1 5-7 7-11 5-3 3-5 0-13 8-10 2-2 2 1 6-6 8-14 10-2 3 0 6 14 17 12 2 6-3 5 0 2 2-5 14 2 12 5 0 4-3 6 0 7 2 3 3 0 2-3 2-6-4-9 0 0 18 9 8 0 13 8 7 0 10 3 8 13 0 3 2-4 3-10 0-5 4-8-1-9 6-6 0-7 8 1 10-6 5-7-1-3 7-9 9-9 3-3 5 0 21 2 2-2 3 0 6 4 4 2 9 3 5 4 3 4 0 12 12 0 5-5 6-13 4-6-2 0 2 12 15 9 3-2 4 0 16-4 4 1 14 2 4 10 9-3 8 1 6 12 10 2 12 2 2 5-2 7-7 1 5 5 3 4 0 6-4 6-1 6 7 3 1 6 6 0 11 5 6 5 1 8-4 9 0 12 10 7 2 13-1 13-7 19-1 8 5 16-10 2 0 2 3-7 9 12 1 1-4 6-4 6-7 9 0 2-2 0-3-3-2-7 3-5-2 1-5 6-6 8-1 8-6 1 2-7 5 5 6 4-1 6 2 16-12 7 1 5-4 8-3-2-6 2-2 3 0 4 4 0 4 8 5 9 0 1-50-12 2-2-4-5-3 0-8 2-6 6-9 0-9 2-4 4-4 5-1 0-104-4-1-3-3-1-5-4-5-7 0-4 3-3 0-3-2-4-8-18-5-4-6 0-5 5-8-1-3-3 0-3 5-4 3-8-1-9-8-6-3-3 0-7 5-5 1-7-8 5-12 0-6-4-1-5-5 0-5 5-5 2 0-3-7 1-4 25-2 5 2 9 7 8-4 5 0 6 3 15-1 4 3 3 10 4 3 8-4 13 2 0-108-9 3-5 0-12-9-17 2-14-11-15-3-5 6-16-1-9 4-16-17-3-10-11-13-13 0-6-4-12 0-4 2-4 7 0 6-4 4-8-1-8-5-15 2-13-1-5-3zM571 422l2 2 0 6-13 12-4 0-2-2 0-5 3-13 3-3zM285 296l6-2 12 8 8 11-4 1-8-4-9-7zM363 202l3-1 8 5 1 3-7 0zM432 195l2 2-3 2-1-2zM344 192l2-1 1 2-2 2zM381 191l3-2 5 8 3 0 1-3 3 2 18 1 3 6 7 1 7 6-9 8-9-2-10 1-12-5-9-9-2-6zM396 188l1-4 3-3 3 0 9 6-8 4-4 0zM469 174l3 2-2 8-2-2zM346 166l3 5-5 6-6-6 3-4zM415 143l4 5-1 5-4 5-6 0-2-4 3-6zM382 124l-3 2-1 6-4 6-3-2-1-8-4-5-18-2 8-3 11 1 8-2zM394 117l7 0 5 5 7 11-3 4-4 1-6-5-2-6-7-6z"/><path fill="#6e6e6e" fill-rule="evenodd" d="M324 543l0 3 6 5-1-5zM256 508l-3 0-2 2 3 1zM585 450l1 2 4 1-2-4zM565 444l-4 1-3 3 2 5 4 0 3-2zM288 434l-4 0-9 6-7-1-2 1 0 2 4 3 7-1 4-2zM599 408l-6 2-4 4-19-2-3 2 0 2 8 6 1 10 4 9 3 3 4-2 5 2 7-2 0-10-9 4-3-2 0-2 3-3 7-2 0-3-3-3 2-2 3 0zM146 387l-2 2 0 3 2-1zM599 356l-7 2-4 4zM597 221l0 6 2 2 0-8zM337 177l-1 9 1 2 2 0 0-11zM252 174l1 2 4 0 0-2zM61 38l-2 6 3 2 2-1 0-5zM48 32l-3-3-10-1-3 1-7 7-4 1-1 3 9 3 11-1 7-4zM444 15l-10 2-5 7 0 6-5 5-13-2-5-4-6 0-5 2-22-2-3 3-4 9-8 0-3 5-8 7-12 7-6 0-12 8-10 2-1 8-11 12-8 5-3 4 1 6 13 15 4 2 8 0 5-3 6 0 5 5-3 1-5 12 2 9 3 0 5-4 9 0 8 5 1 6-2 3-4 2-3-2 2-2-3-3-9-1-1 3 3 3-2 5 2 7 5 2 5-5 6-1 5 5-1 12 3 9-6 11 2 11 3 0 3-3 4-10 1-9 2-2 3 1 3 8 4 4 5 1 2-2 0-6 3-7 2-2 3 0 3 3 2-1 7-11 15 1 7-4 9 14 6-1 7 7-4 2 2 3 0 6-4 4 3 2-9 3-6 5-24-1-19-9-6 5-3 6-9 8-8-5-8 0-5 3-5-2-10 7-2 5-4 4 2 7-1 5-3 3-11 3-7-3-9 12-11 3-4 7 1 18 7 1 7-2 11 6 8 8 3 6-1 3-4 2-7-4-9-1-4-6-4-2 2 11 3 6 5 2 12 13 0 7-2 4-11 10 0 2 2 2 1 5 7 2 2 4 1 9-3 3 0 7-5 4-1 3 2 13 4 4 9 5 0 5-4 5 0 5 13 11 2 11 2 0 9-12 5 1 5 9 5 0 7-3 13 7 5 9-1 9 3 5 5 2 8-6 4 2 9 1 11 10 17 0 11-7 16 1 4-2 7 0 7 2 5-3 2-6 3-3 6 5 3-1 2 2 0 7 3 0 5-7 0-11 8-8 6-1 16-10 0 5-7 8 3 2 6 0 7-5 1-4-2-9 11-17 3-14 5-7 11-5 3 0 0-3 4-8 0-4 6-11-2-9 1-8 14-15 0-89-3 0-5-4-4-10-7 0-8 4-3-3-3-8-18-5-5-6 0-8 4-7-2 0-5 7-8 0-11-9-6-3-3 0-9 6-5 0-7-9 1-6 3-5 1-8-2 0-5-5 0-5 5-5-4-11 10-4 15 0 9 2 8 7 4 0 5-3 4 0 6 3 17-1 4 4 2 9 3 3 4 0 5-4 13 2 0-105-14 2-12-9-4 0-7 3-6 0-14-12-14-1-4 7-8-3-10 0-6 3-4 0-15-17-4-11-8-7-2-4-12 0-7-5zM458 207l-10 2-3 2-5-1 10-7 4 0zM466 166l7 6 4 8 0 21-3 3-3 0-7-6 2-7zM388 160l1-1 3 3-2 1zM470 145l1 2-4 5-3 0-2-2 3-4zM341 126l8-8 19 0 3-2 5 0 8 6 4-1 6-5 6 0 8 7 5 0 3 16 6 5 4-1 2 2-4 8 0 10-6 6-15 0-8-6 0-3 9-7 4-9 3-3-8-2-10-11-4-2-4 0-10 14-2 0-3-3-2-9-6-5-12 0-5 4z"/><path fill="#696969" fill-rule="evenodd" d="M540 455l-5 5 3 0 2-2zM599 436l-6 3 6 0zM287 434l-6 2-5 4-9 0 0 3 12 0 6-5zM580 420l-2 9 4 7 1-14-1-2zM599 411l-2 2 2 3zM146 388l-2 1 0 3zM599 259l-5-1-3-3-1-5-4-6-3-1-9 5-3 0-3-3 0-3-4-6-16-4-6-6 0-5-2-3-10-1-15-11-3 0-7 5-8 1-9-11-2 0-7 6-7 0-5-3-5 0 1 3-3 2-9 0-6 3-9 0-12 7-23-1-7-4-14-3-8 10-8 7-5 0-7-5-5 0-6 3-5-1-4 2-3 4-1 11-5 13-8 3-7 6-3 0-2-4-2 0-10 11-3-3-4 0-6 6 1 20 7 0 5-3 7 5 10 4 7 9 0 7-3 4-4 0-9-4-4 2 0 2 5 4 9 12-1 8-7 13 1 7 5 5 2 14-3 3 0 5-2 4-4 3 1 13 3 3 3 1 2 3 5 1 2 3 0 3-4 6 1 6 9-1 3 3 0 15 3-2 2-6 3-3 4 0 11 11 10-2 12 5 4 4 1 5 2 2-2 7 2 5 4 1 6-5 5 0 6 4 6-1 4 6 6 5 17 0 11-7 16 2 4-2 15-2 7-9 3 0 4 3 4 0 4 4 0 4 2 0 2-4 0-8 3-5 8-7 6-3 4 0 8-6 9-4 8-8 4-8 5-18 6-5 10-4 4-6 1-10 2-4-1-5 3-3 0-17 7-5 9-10zM354 196l-5 5 1 4zM252 175l5 1-1-2zM332 160l-2 1 1 2 2-2zM326 151l0 2 4 2 8-1-7-4zM324 132l-4 5 1 6 8-4 9 0 7 6 3 5-1 13 5 5 2 8 11 7 2 8 5 6 4-1 7-14 6 1 3-2 2-13-8-6 0-5 3-2 4 1 6-3 5-7 0-4-9-3-4-5-6 0-8 8-5 0-4-6-1-7-7-5-11 1-4 7-5-2zM61 39l-1 5 3 1 1-4zM48 34l-2-4-13-1-7 7-6 3 4 3 15 0 5-2zM285 100l1 5 13 14 4 2 8 0 5-3 6 0 4 4 11 4 5-2 2-4 4-3 20 0 7-3 7 6 5 0 7-5 6 0 8 6 4-1 3 3 1 7 4 3 2 6 2 1 4-1-4-9 2-3 7 6 19 8 3 4 13 0 3-2 3 3-6 7-8 0-5-4-4 0-7-4-6-1 0 3-9 9 0 9 6 8 4 11 8 8 4 8 5 0 7-8 0-11-6-6 4-12 4-3 15 17 1 12 2 2 6 0 4-9-4-4 0-5 3-3 0-4-5-10 7-1 8-4 26 3 2 4 4 3 7-3 4 0 6 3 17-1 4 3 2 9 4 5 5-2 4-4 6 3 6 0 0-103-13 2-5-2-9-7-11 4-4 0-14-12-8-2-3 1-8 8-7-4-12 0-6 3-4 0-5-8-10-11-3-9-12-12-13 0-3-4-4-2-7 0-4 2-4 6 0 5-2 4-4 3-11-1-9-5-5 0-4 2-19-1-4 2-7 10-6 0-9 9-12 8-8 1-14 10-6 0-2 2 0 6-4 2-6 8-10 7zM530 151l3-1 1 2-3 1z"/><path fill="#636363" fill-rule="evenodd" d="M286 435l-4 1-5 4-10 2 2 2 7 0 6-3zM145 388l-1 3 2-1zM585 244l-3 0-11 6-3-3-2-8-3-3-17-4-4-4-2-8-14-4-11-9-3 0-11 6-6-1-5-5-6 3-19-2-4 2-10 0-10 4-4-1-14 7-9-2-12 1-10-5-10-2-4 2-5 7-9 8-5 1-9-6-15 3-4 5 0 8-3 9 0 6-3 4-12 2-12 12-7 3-4-2-2-5-5 0-4 4-1 4 2 16 9-1 1-7 5 7 16 7 6 9 0 6-2 5-3 3-9 0 2 6 6 6-1 7-5 11 0 3 5 4-2 16 3 5 0 4-3 3-1 6-5 7 1 11 9 5-2 2 3-2 4 4 1 5-2 6 7 2 6 7 9 1 13 12 6-2 15 5 8 12-3 8 15-3 7 4 8-5 3 3 0 9 5 4 15 1 11-7 18 2 7-3 8-1 10-10 8 1 6 5 2 0 5-10 11-11 10-1 8-6 7-3 6-6 4-7 1-7 6-14 6-5 7-2 7-9 0-8-7-6 0-2 10-7 1-9-2-3 0-5 4-3 6-1 9-9 0-82-8-2-2-8zM326 152l2 2 9 0-1-2-7-2zM444 149l-7 6-1 3 2 5 10 13 3-23zM351 125l-7 12 0 5 5 7 1 6 3 3-4 3 6 6 3 1 10-3 3 1-3 4-5 1-3 3 6 5 4 12 5 1 4-9-1-5 10-1 0-10-4-4 0-15-4-4-8 0-5-6-1-5-4-6-5-2zM61 40l-1 3 3 1 0-3zM47 33l-3-3-9-1-3 1-11 10 4 2 12 0 6-2 4-4zM287 99l0 5 13 14 5 2 5 0 6-3 6 0 11 7 6 0 7-8 23 0 4-3 4 0 6 6 4 0 7-5 5 0 8 5 6 0 4 8 5-4 6 1 5 4 5 7 22 9 7 1 5-3 3 3 0 3-10 8 2 0 3 3 1 5 11 9 5 10 2 0 1-2 0-11-2-6-11-9 2-7 4 0 4 5 4 1 9-4 25 2 4-4 5-1 3 3 0 4-3 4 11-1 5 3 6 1 12-2 5 4 2 10 3 3 5-2 4-5 6 4 6 0 0-101-16 1-10-7-6 0-5 4-4 0-6-3-10-10-8 0-5 6-5 2-3 0-3-4-9-1-15 3-8-13-8-9 0-3-4-6-5-2-7-7-10 1-7-7-7 0-5 3-3 12-7 5-15-2-6-4-6 1-5 6-3-6-14 2-7 9-8 2-6 6-16 11-9 1-7 6-2 7-3 3-6 0-3 3-2 0-10 11zM536 103l8 2 2 4-1 5-6 4-9-1-2-2 3-2 0-4zM529 91l3 2-1 5-3-2z"/><path fill="#5e5e5e" fill-rule="evenodd" d="M285 436l-4 1-5 4-8 1 2 2 8-1zM283 270l-4 5 1 16 6 1 2-1 2-17-2-4zM515 208l-3 0-8 5-35-4-6 2-13 0-8 4-8 0-9 5-25-1-13-6-6 0-17 17-6 1-7-5-15 2-2 2-2 26-5 4-14 2-13 16 7-1 5 4 0 6-4 4-6 1 6 1 9 8 2 4 0 8-3 7-4 4-5 1 1 4 6 5-5 11 0 7 2 2 2 7-4 9 0 4 5 8 0 5-5 3-2 10-3 4 1 6 8 4 6 6 1 7 2 3 4 1 5 6 3 0 9 6 4 1 3 3 1 4 10 0 13 4 5 8 4 3 0 5 7 0 0-5 3-3 3 1 3 6 5-2 7 2 2 3 0 10 3 3 15 1 7-5 21 1 18-6 6-8 6-2 10 7 4-7 12-13 11-1 15-9 7-8 3-12 6-13 4-4 10-4 6-8-1-7-7-6 1-4 4-4 5-2 2-5 0-3-4-7 0-4 3-3 10-1 9-9 0-79-9-1-2-11-4-4-5 1-9 5-7-14-17-4-4-3-3-9-13-4zM368 174l-1 1 3 6 0 5 3 3 2-2 0-6zM253 174l1 2 2 0 0-2zM327 151l1 3 8 0-1-2zM383 151l-3-3-2 0-13 13-9 3 5 1 10-7 2 0 3 3 0 5 2 2 4-3 1-3zM352 127l-7 14 9 14 2 1 3-1 8-8 1-4-1-3-5-4-8 4-1-2 4-4 1-4-3-3zM526 103l4-1-3-1zM61 41l1 3 1-2zM46 32l-3-2-10 0-11 10 5 2 12-1 7-4zM288 101l2 5 9 9 10 4 10-4 4 1 9 6 7 0 4-7 26 0 7-4 9 7 8-5 6 0 8 5 7 0 3 4 12 1 6 8 6 5 21 8 6 0 5-3 4 5 7 0 6 6 9-3 25 2 6-5 4 0 4 3 3 6 9 4 20 0 4 4 1 7 3 5 4-1 5-7 5 4 3 0 4-3 0-95-15 1-12-7-5 1-5 4-4 0-7-3-8-9-6 0-6 4-9 3-6-5-12 0-5 2-6 0-4-4-4-10-7-7-1-5-4-5-4-1-5-6-4-2-6 2-3-1-6-7-8 0-5 6-1 8-4 4-5 2-12-1-7-4-6 0-2 2-1 5-4 2-4-8-11 1-8 9-9 3-19 15-8 1-5 3-5 7 0 4-4 4-6 0-8 4zM508 108l3 2-1 4-4-4zM530 90l3 3-1 8 12 3 4 10-6 4-16-1-10 4-1-1 9-7-1-6-6-5-1-3 2-2 3 1 7-8z"/><path fill="#595959" fill-rule="evenodd" d="M284 436l-8 5-7 2 8 0 7-5zM286 270l-4 1-3 6 1 11 2 3 5-1 3-11-1-6zM515 209l-3 0-8 5-9 0-17-3-28 1-4 3-11 1-11 5-9-2-15 1-8-5-9-2-3 1-5 7-8 8-4 2-6 1-9-5-10 2-2 3-3 15 0 10-5 4-13 1-7 7 0 4 5 2 5 6 1 3-4 7 0 4 5 4 2 4 0 5-6 14-5 4 0 3 4 3 0 5-4 6 0 5 4 12 0 6-3 4 0 4 3 3 1 11-5 3-1 18 10 9 2 6 5 5 5 0 11 11 6 1 5 9 18 2 10 10 7 0 6-3 3 3 1 4 12 1 4 5 1 9 3 3 12 1 9-5 8 2 12 0 5-3 10-2 6-8 6-4 12 6 15-18 12-1 14-8 7-9 2-11 4-5 3-8 5-5 10-4 4-5 1-5-8-8 0-5 4-5 6-3 2-5-5-9 1-6 6-3 7 0 7-7 3-1 0-77-9 1-2-2-1-13-3-3-15 5-3-3 0-4-3-6-11-4-8-1-4-4-3-8-14-5zM254 174l-1 1 2 1 1-1zM381 152l-4 3 2 7 3-2 1-3zM327 152l8 2-4-3zM362 142l-6 6 0 5zM46 33l-2-2-10-1-11 10 15 1 8-5zM290 100l1 5 8 8 7 3 7 0 6-2 13 6 6 0 2-2 0-3 3-2 26 1 5-4 4 0 5 5 4 1 7-5 7 2 6 4 7 0 3 4 12 1 11 13 23 9 4 0 7-4 4 4 8 1 6 5 11-2 12 3 5 0 10-6 4 0 9 9 8 4 19 0 5 5 1 8 2 3 2 0 3-3 3-6 7 4 6-7-1-89-12 2-17-6-7 5-4 0-8-3-4-5-5-3-4 0-15 5-10-5-20 2-4-4-3-10-8-8-4-8-6-2-6-7-10 1-4-6-5-3-5 1-3 3-3 12-6 4-16 0-7-3-4 0-2 5-6 4-6-8-9 1-8 8-8 3-16 11-2 3-13 4-4 4-2 8-4 4-7 0-6 3zM532 90l2 3 1 7 2 2 7 1 5 11-3 3-6 2-15-1-12 5-2-2-1-5-6-8 8-1 2 5 3 1 1-3-5-5 0-5 5-4 2 1 8-8z"/><path fill="#545454" fill-rule="evenodd" d="M284 437l-13 6 8-1zM283 271l-3 4 1 13 4 2 2-2 0-4 2-3 0-7-3-3zM517 211l-5-1-8 5-16 0-10-3-28 1-6 4-9 0-12 5-6-2-16 1-11-6-8-1-11 13-9 5-7 1-7-5-8 1-2 2-3 13 0 13-4 4-16 2-4 4-1 3 7 6 4 10-2 7 5 8-2 10-8 16 0 2 3 3 0 4-4 7 2 12 5 8 0 7-3 5 0 11 2 3-3 3 3 10 6 1 4 2 2 3 2 11-4 7 9 3 7 7 5-5 4 5 0 12 17 1 6 2 6 7 14-2 3 2 0 5 8 0 4 2 5 7 1 7 6 4 9-1 5-3 9 2 13 0 6-3 7-1 14-14 12 6 16-18 11 0 13-7 7-10 0-10 7-7 3-7 6-6 8-3 3-3 1-6-8-9 2-7 8-5 2-3 0-5-5-9 5-6 11-1 7-7 3-1 0-15-2-4 2-1 0-53-3-1-5 3-3 0-3-3 2-4 0-9-3-5-4 0-6 4-6 1-3-4 0-5-4-5-18-5-4-4-2-7-14-5zM560 392l4 2-3 6-4-2 0-3zM327 152l7 1-4-2zM45 33l-9-3-3 1-9 9 12 1 7-3 2-2zM292 101l3 7 5 4 7 2 12-1 14 5 4-1 4-5 28 1 5-4 5 0 4 4 4 1 8-4 12 6 7 0 4 4 11 1 6 6 3 6 23 10 7 0 6-4 6 4 5 0 7 4 8 0 13 3 8 0 12-6 18 13 19 0 4 3 4 13 4-2 1-5 3-3 2 0 4 4 5-6 2 0 0-87-16 1-9-4-6 0-3 3-6 2-9-2-10-9-21 4-4-4-4-1-20 2-5-6-2-9-9-8-1-4-3-3-8-2-3-6-9 0-5-7-4-2-3 0-4 3-2 11-9 6-15 0-8-2-7 7-4 1-3-1-5-6-6 0-9 8-8 3-11 7-8 8-12 3-4 5-1 6-3 4-9 1-7 4zM529 88l5 4 2 8 10 5 3 10-7 4-15-1-11 6-3 0-10-17 7 0 2-2 0-6 12-9z"/><path fill="#4f4f4f" fill-rule="evenodd" d="M283 437l-5 4-6 2 8-2zM285 271l-4 3-1 3 3 11 3-1 3-8 0-3zM514 211l-10 5-13 1-16-5-6 0-3 2-15 0-6 4-10 0-9 4-12-2-14 2-9-6-9-1-8 11-10 6-10 2-5-4-8 0-2 3 0 6-3 7 0 12-5 4-14 1-4 3 1 5 5 6 4 11-2 3 4 6 0 8-6 12-3 10 3 7-4 9 0 5 8 16 0 4-5 9 0 8 4 4 7 14 3 3 2 8 0 11 9 5 8-1 5 6 0 10 14-1 9 3 7 7 16 0 3 6 5 1 7 6 2 8 3 4 12 1 3-2 4 0 5 2 14 0 6-3 4 0 6-3 5-8 7-5 8 6 2 0 9-7 6-9 12-1 13-6 7-10 0-13 7-5 7-12-4-6 1-4 3-3 5-1 4 4-1 5 4-2 0-4-5-5-1-7 2-5 10-9 0-3-4-6-1-5 4-5 5-2 6 0 12-8 0-12-3-4 0-5 3-1 0-48-4-1-7 4-3 0-2-3 0-3 3-5-1-11-6-1-6 4-5 1-3-3-1-7-4-5-17-4-5-5-1-5-3-3-11-3zM45 34l-4-3-7 0-9 9 13 0 4-2zM294 101l0 3 5 6 8 2 8-1 13 5 7-1 5-4 29 1 4-4 4-1 10 5 8-4 12 7 7 0 5 4 10 1 12 14 22 9 4 0 8-5 19 8 11 1 10 3 7-1 7-5 7 0 9 8 9 5 15-1 4 2 4 5 2 9 2-2 1-5 4-4 2 0 4 4 4-5 3-1 0-84-16 1-9-4-5 0-5 4-9 1-5-1-9-9-8 0-15 3-7-5-20 2-5-5-3-11-4-4-4-1-3-6-10-2-4-6 0-3-8 0-8-9-6 3-1 9-2 3-11 5-18-1-6 2-6 5-7-1-2-3-6-2-8 6-10 4-11 7-7 8-12 3-3 3-2 7-4 5-12 2-11 11zM531 88l3 3 2 7 3 3 5 1 2 2 4 11-10 5-15-1-9 6-4 0-6-14-5-5 8 0 2-2 2-7 6-3 5-5z"/><path fill="#4b4b4b" fill-rule="evenodd" d="M283 438l-5 3 2 0zM283 272l-2 3 0 5 2 6 2 0 3-5 0-6-2-3zM515 213l-3 0-5 4-5 1-15 0-7-4-11-1-6 4-12-1-4 3-11 0-12 4-16-2-6 3-13-8-6 0-10 12-10 5-12 3-4-4-5-1 0 10-4 4-1 14-4 3-15 2-4 3 6 8 7 22-1 8-5 9-3 10 0 4 2 2 0 8-3 10 7 16 0 7-5 7 0 5 8 10 6 12 3 19 6 3 8 0 3 2 7 1 7 7 15 9 5 5 20 2 2 4 10 9 2 8 4 4 15-2 6 3 14 0 6-3 4 0 6-3 5-8 6-5 3 0 6 5 8-3 9-12 12-1 13-6 6-11-1-11 4-5 7-5 2-4-2-12 3-4 5-2 2-3-1-1 3-9 10-9 0-3-6-12 1-3 7-4 9 0 10-7 2 0 0-10-5-6 2-8 3-1 0-43-5-1-7 4-3 0-3-4 0-3 4-7 0-8-2-2-5 0-8 5-4-1-2-2-1-7-3-5-8-3-9-1-6-6 0-3-3-4-8-2zM44 34l-2-2-7-1-9 9 10 0 7-3zM296 102l4 7 12 0 13 5 8 0 7-4 10 2 19-1 5-5 4 0 5 2 1 2 4 0 7-4 4 4 9 4 6 0 6 4 10 1 12 15 19 8 7 0 7-5 5 3 32 9 8 0 8-5 7-1 20 13 14-1 4 2 6 8 8-7 4 5 8-5 0-82-18 0-7-3-4 0-7 5-14 0-9-10-20 3-10-5-19 2-5-4-3-11-5-5-7 5-1-2 3-6-4-4-8-1-5-6 0-3-5 0-3-2-5-7-6 1-1 11-8 5-26 2-9 6-8 0-8-3-18 7-10 6-8 10-7 0-5 2-4 6-1 5-4 4-10 1-5 3-6 7zM530 87l5 4 2 7 9 5 4 12-8 5-15-1-9 6-6 1-6-14-7-7 11-1 1-6 2-2 5-2 8-7z"/><path fill="#494949" fill-rule="evenodd" d="M285 272l-4 3 2 10 2 0 3-5 0-5zM514 213l-6 4-9 2-10 0-10-5-9-1-6 4-4 6-2-1-1-4-5-1-2 2-12 0-12 4-17-2-9 3-6-5-10-3-8 11-17 8-9 3-5-6-2 0 0 10-5 7 0 9-7 5-12 1-4 3 0 2 6 7 0 4 3 7 4 5-1 12-7 13-2 9 3 5 0 8-3 9 5 10 2 12-5 7 0 6 6 7 8 16 3 18 21 4 4 2 6 6 22 15 16 0 5 5 0 2 9 8 1 7 3 4 4 1 11-3 8 4 12 0 15-5 7-10 5-4 5 0 5 4 4 0 7-6 5-8 4-2 8 1 12-5 7-10 0-15 5-5 2 0 5-7-1-13 9-8 4-12 8-7 0-4-7-10 0-3 4-4 5-2 9 0 13-7 0-7-5-7 2-8-1-1 4-1 0-43-6 0-5 3-5 0-3-5 5-10 0-6-2-3-4 0-10 6-6-5 0-5-4-6-17-4-4-4-3-8-12-4zM44 34l-2-2-6-1-3 1-7 7 13 0zM297 104l3 4 7 2 7-1 12 5 8-1 4-3 28 1 8-5 6 0 4 3 4 0 6-4 12 8 9 1 3 3 7 0 6 2 10 14 21 9 6 0 7-5 24 9 10 1 4 2 6 0 8-5 8-1 19 12 16 0 4 2 5 6 8-6 4 5 8-4 0-81-14 0-15-3-6 4-10 1-6-1-7-9-24 2-6-4-20 1-6-5-3-11-3-3-9 5-1-2 3-6-3-4-9-2-4-4-1-4-4 0-3-2-5-7-5 0-1 11-6 4-9 3-16 0-7 2-8 5-17-3-14 6-13 8-5 8-12 2-3 3-2 7-4 5-10 1-4 2-9 10zM531 87l4 4 3 8 6 2 3 3 4 10-2 3-6 3-16-1-11 7-4 0-3-4-3-10-8-8 10 0 6-9 5-2 7-6z"/><path fill="#464646" fill-rule="evenodd" d="M286 273l-3 0-2 4 3 7 4-5zM516 215l-4 0-4 4-5 1-14 0-12-6-8 0-9 12-4 0-3-6-15 0-13 4-13-3-7 2-4 3-3-1-5-6-9-2-9 12-6 2-5 4-12 3-2 4-4 0-2 3-5 2 1 10-3 5-4 2-12 0-4 3 4 6 1 8 8 12-2 10-7 13-2 8 4 10 0 6-3 8 6 19 0 4-5 6 0 5 5 6 8 15 3 19 6 1 4-5 4 0 2 2-3 3-2 0 0 2 10 1 4 2 11 10 19 12 17 1 4 4 1 4 6 6 4 11 3 1 7-3 5 0 7 4 14 0 6-3 5 0 7-5 2-6 6-5 5 0 5 4 4 0 6-4 3-6 5-5 11 0 12-5 5-8 0-17 7-6 2 0 3-5-1-12 8-8 5-12 8-8 0-5-8-8-1-5 4-4 11-3 6 0 13-6 0-6-8-2-2-2 6-13 4-1 0-41-5 0-7 3-6-2-3-6 6-9-1-6-4 0-7 5-5 1-4-5 0-4-4-8-7-3-7 0-4-2-8-13-9-2zM43 33l-9-1-7 7 11 0 5-3zM302 98l4 8 9 2 10 5 7 0 9-4 29 0 6-5 11 4 7-5 6 6 8 4 7 1 6 3 1-1 9 2 11 15 21 9 6-1 5-5 12 5 9 1 20 7 5-1 9-5 8 0 8 6 12 6 11-1 12 7 7-5 4 4 8-3 0-79-17-1-11-3-7 5-15 1-7-9-4-2-19 3-11-5-17 2-6-5-5-13-3 0-4 4-5 1-1-2 4-5-1-4-2-2-10-3-4-7-3 0-8-8-3-1-2 1 1 5-2 5-7 5-9 3-11-2-11 3-10 5-6-2-2 1-3-2 2 3-2 4-4-7-1 2-2-1-1 2-6 1-12 6-6 5-1 4-3 3-12 2-3 3-2 7-3 4-14 3-3 3zM533 88l3 4 1 5 3 3 6 2 5 13-3 3-8 3-10-2-5 1-6 5-7 2-3-4-4-12-8-7 11-1 5-8 5-2 7-6z"/><path fill="#434343" fill-rule="evenodd" d="M285 273l-3 2 1 7 2 0 3-4zM515 216l-7 5-2-1-2 2-4 0-5-2-7 1-10-6-8-1-3 2-3 7-6 5-3-1-3-5-1 1-3-2-13 0-9 3-17-2-4 2-2 3-5 0-5-7-8-2-18 20-6-1-17 10 1 12-6 6-17 0-2 2 6 15 5 8-2 13-8 14-1 8 3 4 2 12-2 15 4 6 1 9-5 4-1 4 5 6 1 5 7 13 3 18 2 1 5-6 6-1 5 5 0 3 2 2 8 3 8 9 17 11 18 1 12 16 2 7 3 3 7-2-2-5 3-4 4 2 4 9 4 2 14 0 3-2 9-1 4-3 3-8 5-6 7 1 5 4 3 0 14-16 15 0 8-3 5-9 0-24 3-4 4 1 3 3 1-1 1-15 6-6 5-10 0-3 7-5 3-5-11-11 1-7 4-4 18-3 9-4-7-1-4-5-1-6 8-10 2-5 6-1 0-35-4-1-9 3-5 0-6-6-2-6-6-3-6-6-1-11-4-4-13-2-7-7-1-5-3-3-10-2zM28 39l9 0 4-2 2-3-3-2-6 0zM305 95l0 6 4 4 9 2 5 4 25-4 4-3 15 2 4-1 5-4 13 1 6-2 5 8 7 4 8 1 5 3 11 1 12 16 21 9 5-1 5-6 2 0 10 5 10 0 20 8 5-1 9-5 5 0 22 12 14 0 8 5 3 0 6-6 3 6 8-2-1-77-10-3-16 0-8 3-1-1-14 2-8-10-3-1-23 2-10-3-15 0-7-7-4-10-3 1-6 6-4 1-4-5 0-6-5-6-3-9-9-3-5-5-1 3 2 7-2 4-5 3-9 0-6 2-8-2-9 3-1-2-9 5-6 1-7 7-2 0-4-4-2-5-1 2-8 2-12 6-3 3-1 5-4 4-5-1-7 2-3 4-2 7-3 3-13 2zM532 87l3 3 2 6 10 7 2 7 2 2 0 4-9 5-16-1-13 8-4-4-1-6-4-8-5-3-3-4 11 0 5-8 7-3 5-5z"/><path fill="#404040" fill-rule="evenodd" d="M283 274l-1 5 1 2 2 0 2-2 0-4zM530 222l-15-3-7 5-5 0-8-3-8 1-10-7-8 0-10 17-4 2-3-3-1-4-5-2-14 4-4 4-3 0-2-3-12-7-5 1-5 5-7-3-3-6-5-1 2 2 0 4-7 5-10 11-9-2-7 7-6 1 1 4 7 1 2 2 0 2-3 3-20 10-10-1 3 13 5 8 0 6-3 2-10 24 2 8 2 1 3 8 0 6-3 6 4 6 1 16-5 3 0 3 5 5 0 8 6 12 1 13 2 4 2-1 1-4 4-3 6 1 10 11 5 0 4 8 9 8 16 8 16 1 3 4 0 3 8 9 2 6 4-8 3-3 4 0 10 9 0 7 17-1 5-4 5-1 11-15 4 0 9 4 1-5-3-3 0-5 6-5 32 2 5-4 2-5 0-15-2-8 2-5 8-8 3-8 6-5 0-5 4-6 2-7-3-8 2-13 6-6 9-1 4-2-1-14 1-3 7-7 3-12 8-7 0-16-5 2-4 0-2-2-8 0-21-23-4-14-3-2-9-1-7-7-2-6zM307 93l1 8 2 2 17 5 19-3 6-5 9 3 5 0 11-5 10-2 9 1 4 4 1 6 8 5 6 0 5 3 5-1 7 2 3 6 9 11 18 8 6 0 4-3 2-5 4 0 8 5 12 1 4 3 10 2 2 2 5 0 7-4 8-1 23 12 13 0 7 4 6 0 3-5 4 0 2 6 7-2 0-5-11-1 5-12 6-5 0-42-9-1 1-2 8 1 0-4-3 0-2-2 2-2-4 1-1-2-4-1-13 0-8 3-17 0-10-11-25 2-4-2-6 1-7-3-7 1-7-6-5-8-8 6-5 0-6-8-7-5 1-9-1-3-4-3-3 10-5 4-6 0-8-3-5 2-13-1-7 3-5-2-6 6-11 7-5-2-5-5-4-1-8 3-9 6-2 8-3 2-11 0-4 4-2 7-3 3-11 1zM530 86l6 5 2 6 10 7 4 11-3 3-7 3-15-1-8 6-7 2-4-6-3-10-10-9 12-1 6-8 5-2 7-6zM42 34l-3-2-4 0-6 7 9-1z"/><path fill="#3d3d3d" fill-rule="evenodd" d="M284 274l-1 6 3 0 1-3zM531 223l-14-2-4 4-1-1 5 5 0 3-2 2-4 0-11-5-4-6-10 0-8-7-7-1-2 1-8 17-3 3-5 0-6-7-3 0-4 3-6 0-7 8-5-1-7-10-7-3-6 6-15 0-13 12-11-2-2 2 2 10-5 6-10 4-10 7-8 0 2 11 5 9 0 6-3 6-6 3-4 8-1 12 2 0 2 3 6 23 0 9-2 6 2 6-5 4 5 5-1 11 5 9 2 15 2-7 1 1 2-3 4 1 12 9 7 1 4 4 2 10 5 4 20 10 14 0 14 10 11 1 6 5 8 3 3-1 5-6 6 0 7 6 3 0 10-14 14-12 18 0 5-4 6-1 7-8 3 0 0-6-3-9 9-13 2-9 8-6 0-5 4-7-2-17 3-4 2-7 12-10 3-11 10-12 2-9 3-5 8-6 0-9-12 6-4-1-12-16-20-20 1-6-2-2-8-2-5-5-3-9zM592 157l7-2 0-2-6 0zM310 90l0 6 2 5 17 5 14-3 7-5 16 2 7-5 25 0 3 2 6 12 12 5 7-1 9 3 0 4 9 12 19 9 6-1 4-4 0-4 4-1 5 1 4 4 11 1 9 5 10-1 2 2 9-4 7 0 16 8 4 0 8 6 9-1 5 3 3 0-2-2 2-1-3-2 4-3 4 0 3-3 2-6 5-5 5-2 0-37-8 1-5-5-2-9-9 0-8 3-14-1-6 2-9-12-14 0-5 1-8 5-5 0-6-8-4-1-4 6-15-15-4 4-7 0-7-8-7-3-3-3 0-6-8 6-9 0-5-3-6 2-9-2-9 1-6 2-5 4-7 2-5 5-3 0-7-5-8-2-10 4-3 3 0 7-2 3-12 0-6 5-4 8-5 2-6 0zM531 86l4 3 3 7 10 7 4 12-4 4-8 3-9-2-6 1-4 4-8 4-3-2-6-16-8-5-2-3 2-2 10 1 6-8 4-1 11-8zM31 38l8-1 2-3-7-1z"/><path fill="#3a3a3a" fill-rule="evenodd" d="M535 419l-1-1-1 2zM284 275l-1 4 2 1 1-4zM531 224l-6 0-4 8-5 5-24 0-4-3 3-3-1-4-5-2-8-7-6-2-7 12 0 5-8 7-5-1-4-5-12 1-10 10-6 0-5-2-2-2 0-6-2-2-18 0-5 3-3 7-3 3-14 0-2 9-6 6-11 5-7 6-6 2-1 7 4 7 1 8-10 19-2 11 9 26-2 19 2 3 1 9-3 5 1 8 4 2 0 5 2-1 6 3 13 11 9 2 4 5 1 9 3 3 10 3 10 7 17 0 11 3 5 5 7 2 10 7 6-1 5-5 7 0 9 6 4-3 5-9 8-8 15-9 7 0 12-5 6-7-3-5 2-9 10-8-2-12 5-5 6-1 6-11-2-10 0-6 9-17 7-8 4-10 11-11 2-8 5-9 3-3 5-1 0-4-14 9-3-1-5-6-4-9-20-21-6-1-1-9-10-8zM314 91l0 3 4 6 4 0 6 3 11-1 10-6 8 0 6 2 9-7 7 2 28-1 17 15-1 4 7-1 8 1 3 2 2 4-5 1-1 3 6 9 5 4 16 7 5-1 4-5-6-12 1-2 6 8 11 0 3 3 0 2 8 0 8 6 7 0 9-5 6-1 14 1 5 3 10-2 8 5 3 9 9-5 7-1 8-11 9-4 0-33-9 3-7-9-1-6-4-1-8 4-14-1-8 4-5 0-7-11-4-2-7 0-6 2-9 6-3 0-4-2-5-7-1 4-2 1-4-2-5-7-6 3-4-5-12-4-7-8-6-2-4-4-11 2-11-2-8 9-3-1-6-8-6-1-9 6-6 1-8 7-9-5-13 0-4 4 0 9-3 3-7 3-7 0-1 9-7 9-5-1-3-6zM532 86l4 4 2 6 10 7 5 11-6 6-6 2-7 0-5-2-5 2-7 6-5 1-4-5-3-11-12-10 2-2 12-1 6-7 4-1 9-7zM32 37l5 0 3-3-5-1z"/><path fill="#373737" fill-rule="evenodd" d="M284 276l-1 2 2 1zM393 235l-3 3 0 5 4 7 0 7-4 5-3 0-7-9-5-2-6 0-3 7-4 4-12 5-12 11 3 15-12 29 0 5 5 11 1 8 4 7-3 12 0 7 4 7-1 9 20 26 11 3 3 3 2 10 3 3 8 1 9 8 7 2 13-1 7-4 5 0 5 3 3 7 4 4 8 5 11-5 6 0 7 4 5-1 5-10 12-7 6-7 8-4 10 0 8-6-1-19 2-3 8-3 0-8 3-7 3-3 6-2 5-5 0-22 6-12 9-11 1-11 15-9 4-12-4 0-7-8-3-8-6-6-5-2-11-11-4 1-5-7-11 1-3-4-4-13-7 3-15 3-20-8-8-1-11 4-6 5-9 0-6-4-6 0-11 10-5 0-13-4-8-10zM472 218l-2 2-2 7 5-6zM338 99l11-5 13 1 6-8 6 0 12 4 20-3 5 2 7 6 10 3 6 4 4 0 2-2 10 2 3 4 1 6 7 3-7 3-14-1-2 1 0 2 8 11 16 8 6 0 4-4 0-4-7-11 1-2 4 1 7 8 9-5 5-1 3-3 4 0 5 7 1 10 2 2 4 0 16-10 4 0 4 3 5 0 8-4 6-1 4 2 14 15 7-2 9-10 12-4 0-27-9 5-6-5-2-6-6-5-7 4-6 0-15 5-5-1-10-14-10-1-11 6-8 1-13-8-12-2-6-8-10-3-17-14-5 0-8 4-6-1-6 7-5 2-5-1-3-3-2-7-2-1-6 4-12 3-8 8-2 0-6-5-9 2-9 15-3 9zM533 86l3 3 2 6 10 7 5 10 0 3-4 4-7 3-15-1-9 7-6 2-4-5-4-13-9-6-2-4 2-2 11 0 6-7 4-1 9-7zM39 34l-3-1-3 3 4 0z"/><path fill="#343434" fill-rule="evenodd" d="M483 241l-16 0-13 6-19-1-10 8-11-2-8 2-16 12-7-2-7-7-5-1-2 1-1 10-4 4-6 0-9 8-3 9-5 8-6 17-3 14 3 4 2 14 4 8-3 11 0 8 4 6 1 9 11 10 2 12 4 4 10 3 4 4 3 9 10 1 3 5 7 6 16 0 10-5 9 0 8-3 2 15 3 3 5 1 6-3 14 2 2-3 0-7 4-4 4-2 11 1 9-8 6-3 12-2 4-5 0-10-2-4 1-4 10-7 3-12 4-4 7-3 4-5-2-22 14-22 0-9 6-6 11-4 4-6-7-6-7-13-7 1-4-2-7-11-8-6-7-3-6 0-11-5-12-3-7 0-6-6zM345 322l2 2 0 3-4 4-3 0-1-6 3-3zM440 119l1 5 6 8 18 8 4-1 3-3-3-9-7-9-12 2zM356 91l4 0 6-8 5 0 18 6 19-3 11 5 21 0 5 6 7 3 5 5 2 5 8 7 8 0 9-6 14 3 5 5 5 12 3 3 18-12 7 4 7 0 4-2 9-1 5 2 7 7 3 1 6-1 7-10 15 2 0-19-5 2-6 0-4-2-7-9-6 0-6 3-17 2 6 12-4 6-10 4-13-2-10 8-5 1-5-7-4-12-9-5-2-4 2-2 10 0 7-7 6-2 3-3-5 4-8 1-4-1-12-8-14-1-3-3 0-3-3-4-5-1-16-8-6-8-5 1-6 5-5 0-11 7-14-1-4-5-3-1-8 1-11 13-15 0-4 6z"/><path fill="#303030" fill-rule="evenodd" d="M576 301l-5-4-5-7-8-2-5-5-5-11-4-4-35-12-13 0-9-9-3-1-18-1-17 6-13-1-10 8-14-1-20 11-7 0-11-4-3 7-11 5-3 0-4 3-4 10-8 11 0 11-2 3 2 2 5 0 4 4 1 4-3 7-4 5-4 1-1 3 4 13-3 10 0 9 4 5 1 8 12 10 2 5 0 10 12 5 4 4 3 7 10 1 4 4 2 5 4 3 13 0 12-5 10-1 12-5 3 2 0 5-2 3 2 3 5 0 7-4 5 0 3-3 10-4 13 1 14-10 9-3 4-4 0-16 11-7 3-14 3-3 7-3 2-3-1-28 11-11 1-14 11-8 9-4zM442 120l1 5 5 6 15 7 7-1 1-4-8-13zM599 108l-9 2-16-7-4 0-5 3-14-1 3 10-5 5-9 3 12-2 6-3 6 0 7 4 3 0 8-6 10 4 7 1zM371 80l17 6 15-2 13 3 25 0 16 11 8 11 8 1 13-5 13 5 5 5 2 5-2-7-13-10 2-3 10 0 2-3-19-11-19 0-3-3 0-7-7-4-8 1-4-2-3-4-1-7-6 6-7 1-6 4-23 3-7-5-3 0-9 9-4 2z"/><path fill="#2d2d2d" fill-rule="evenodd" d="M542 271l-9-2-7-4-10-2-8-4-14 0-11-5-5-4-18-1-12 6-11 0-10 7-12 0-26 9-10-2-15 9-8 2-4 9-4 4-5 9 8 10 1 14-2 5-7 9 2 14-3 8 0 9 5 6 1 7 12 12 1 13 11 5 4 4 2 5 10 1 4 2 5 10 7 2 9-1 12-6 16-3 6-3 4 1 3 3 12 1 8-3 13-1 14-7 11-10 3-14 3-3 7-2 2-3 0-19 3-3 5-1 5-9 0-7-3-7 2-6 9-5 3-15 5-5 14-8-4-4-9-4-8-8-2-8zM463 129l0-5-2-3-3-1-12 3 2 4 6 4 7 0zM552 118l8-3 14 2 7-4 18 5 0-7-10 1-6-3-8 0-4 2-16 0zM381 80l7 2 14-1 1 2 6 2 4-2 17 0 13 2 17 9 3 3 2 7 4 3 4 0 11-7 7 3-1-1 2-3 6 0-7-8-4-2-6 0-5 2-10-1-9-9-12-2-7-7-5 2-22 1-10 3-13-2z"/><path fill="#2a2a2a" fill-rule="evenodd" d="M540 275l-31-12-13 0-5-2-10 1-5-4-2-4-4-2-10 0-4 2-7 8-12 0-8 5-14 0-11 4-7 0-6 2-13-1-9 5-5 5-4 1-12 15 0 4 6 8 0 13-2 7-6 10 1 14-3 6 0 8 6 10 0 5 6 5 8 11-1 9 10 5 7 9 12 1 3 3 3 8 3 2 16-2 5-3 6-7 3 2 9 0 11-3 14 3 7-2 9 0 26-16 5-15 0-7 9-10 3-9 1-9-3-5 3-5 3 0 1 6 2 2 3-1 1-4-5-5 3-12 11-9 4-12 4-4 12-7-7-3-14-13-1-8zM460 123l-7 0-2 1 0 2 6 3 3-2zM405 81l1 2 4 0 0-3zM449 84l-9-3-4-4-23 2 5 2 14 0z"/><path fill="#292929" fill-rule="evenodd" d="M534 277l-14-7-7 0-6-3-12-1-5-2-13 4-5-4-3-7-9-1-6 8-9 7-10 2-19-1-8 3-20 0-9-2-8 5-20 20 2 6 4 3-3 21-6 12 1 14-4 9 7 14 0 5 13 14 0 8 2 5 7 3 7 8 12 1 4 4 3 8 8 2 12-5 2-7 5-4 5 1 4 3 32-1 7-2 3 1 4-1 8-9 12-4 3-4 3-9 1-12 11-12 1-9-4-7 0-5 9-9 6-13 7-6 6-9 12-9-19-17-1-5z"/><path fill="#282828" fill-rule="evenodd" d="M533 277l-12-6-12-1-6-3-6 0-5-2-6 0-4 3-5 1-5-3-4-8-8-1-5 7-11 9-28 0-9 3-20-1-7-2-10 6-18 19 2 6 4 3-3 9 0 10-6 12 0 18-3 6 5 10 2 11 13 14 0 9 10 7 4 6 14 2 3 3 2 7 4 3 7 0 9-4 2-7 4-4 4-1 9 5 7-2 22 1 4-2 10 0 8-9 13-5 5-10 1-13 9-9 3-6 0-8-4-6 1-6 8-8 6-13 6-5 12-15 6-3-18-18-1-5z"/><path fill="#262626" fill-rule="evenodd" d="M531 280l-11-7-11 2-6-5-11-3-5 0-7 4-5 0-6-5-4-6-4 0-3 2-3 6-9 9-4 2-18-3-12 1-3 2-29-3-9 6-6 9 1 10-2 2-1 7-5 6-2 13-5 13 1 7 7 10-5 13 1 9 14 16 2 9 6 4 5 6 10 1 8 3 2 2 1 7 4 2 4-3 0-6 2-2 4 0 9-5 7 0 6 3 28 2 3-2 9 0 10-10 12-4 5-11 1-12 10-10 2-4 0-5-5-8 0-5 9-9 9-18 20-19-8-9-12-9z"/><path fill="#242424" fill-rule="evenodd" d="M547 299l-14-9-6 0-12-4-6-7-11-7-12-2-6 3-5 0-6-3-5-6-5 1-4 7-11 9-27-2-7 3-9 0-5-2-16-1-8 6-3 5 2 10-3 5 0 3-8 10-2 11-4 10 1 9 8 10-5 11-1 10 12 14 5 11 11 9 16 4 8 0 6-2 2 1 14-5 20 5 10-1 2 3 4 0 4-3 9-1 7-8 12-4 6-12 1-11 11-11 0-7-5-6-1-4 2-4 10-10 6-15 19-18z"/><path fill="#232323" fill-rule="evenodd" d="M377 302l-4 11-2 0 1 3-3 3 0 2-2 0 1 5-3 2-1 5-2 2 0 5 7 8 3 10-1 8 5 1 6 5-2 5 1 4 3-2 2 1 5-8 2 0 0 2 2 1-1 2 5 3 4-2 12 1 1 2 11 0 1-2 6 0 6 3 6 0 9-6 5 2 8 0 7-6 3-8 5-7 0-8 4-8 0-3-8-6-9-11-7 0-3-2 1-1-3 1-8-7-2-9-5-5-8-1-3 3-9-3-17 0-3-2-5 0-4 4-7 0-1 2zM385 375l1-1 1 2-1 1zM387 372l1-1 1 2-1 1z"/><path fill="#212121" fill-rule="evenodd" d="M377 304l-4 12-3 4 1 5-5 5-3 8 7 9 4 13-1 3 4 4 5 2 10 0 8 9 11-1 8 3 15-2 5 3 6 0 7-6 15 2 9-8 1-5 5-8 0-9 4-8-8-6-9-10-7-1-9-5-5-7-1-6-5-5-3-1-7 3-4 0-6-3-14 1-8-3-7 5z"/><path fill="#202020" fill-rule="evenodd" d="M377 304l-4 10 0 4-2 1 1 6-8 11 9 17 2 7-1 5 8 3 10 0 4 3 4 7 5-2 12 3 18-1 5 3 5 0 9-7 6 2 8 0 7-7 7-15 0-8 4-6-18-16-4-2-1 1-9-5-6-7-4-10-3-2-12 3-7-4-13 2-9-3-7 5z"/><path fill="#1e1e1e" fill-rule="evenodd" d="M380 310l-1 16-2 3-2 11 6 11 2 9 14 4 8 6 15 6 3 0 8-7 5 0 7 5 8-6 7 2 8 0 6-5 0-18 6-7-4-3-9-2-6-8-9-7-10-11-11-2-6-4-5 0-4 2-13 0-10 4z"/><path fill="#1d1d1d" fill-rule="evenodd" d="M461 343l-9 0-12-21-6-4-4 0-12 10-12-6-14 0-3 9 6 10 0 10 5 4 12-2 14 4 16 0z"/></g></g>
<g id="sND"><g transform="translate(0.25 0.25) scale(0.5)"><rect x="-4" y="-4" width="608" height="608" fill="#808080"/><path fill="#7c7c7c" fill-rule="evenodd" d="M374 569l-7 6-1 9 7 8 10 0 6-6 0-10-7-7zM553 563l-1 6 2 2 5 0 2-2 0-5-2-2zM330 495l-3 2-1 6 2 3 6 1 4-6-4-6zM559 463l-1 5 5 2 2-5-2-2zM419 466l0 13 6 8 7 5 19 0 7-4 7-10 1-5-2-8-8-8-18 2-9-3-5 3zM302 445l-3 3 0 5 3 3 4 0 4-5-4-6zM326 426l-5 4-1 7 3 5 7 2 6-4 1-8-4-5zM419 389l-7 7 0 8 5 7 10 1 7-8-1-8-6-6zM528 290l-4 3-2 8 5 7 7 1 6-4 1-9-6-6zM0 276l0 41 20 3 3 2 5 0 8-5 10-22-1-7-3-4-8-6-13-4-14 0zM510 227l-7 5-1 8 3 5 10 2 5-3 2-10-5-6zM435 235l-5-5-11-6-29-8-66 2-9 6-11 16-29 14-27 30-4 0-11-5-26-17-6-2-18 1-16 7-22 18-10 12-9 26-8 8-7 4-25 6-23 0-16-3-14 0-1 9-6 5-7 0-7-7-12 5 0 58 1-7 7-10 13-3 10 9 5 17-1 11-3 8-6 7-7 3-8-2-7-7-4-12 0 143 13-1 12 8 5 11-3 15 183 0 22-17-4-2-7-9 0-5 6-8 10-1 10 10 7-9 6-12 4 2 8-1 3-4 0-7-3-4-7-1-8 6-25-17-20-23-8-16-7-26-1-15-3-11 0-13 4-10 30-28 15-11 11-5 12 1 8 5 14 14 21 27-1 4-23 2-9 5-4 6 0 5 6 8 10 4 12 0 15-8 5-16 18-4 39-16 36-12 25-14 12-12 5-9 3-11 0-10-3-12-14-34-1-39zM44 553l4-6 6 0 6 9 4 2 6-7 13-3 7 2 6 6 1 8-10 9-13 0-10-9-10 3-4-3zM91 518l7-6 9-1 5 2 9 0 10 7 7 0 9 4 9 11 1 10-2 6-7 8-8 4-11 1-10-4-13-10-1-9-8-4-6-6-2-5zM43 505l5 0 4 5 0 4-4 4-6 0-3-3-1-4zM130 473l6 4 0 6-4 3-4 0-4-4 0-5zM104 401l3-6 9-6 17-2 15 5 6 6 1 8-10 9-7 2-16 0-12-5-4-4zM362 333l6 2 2 3 0 5-5 4-4 0-5-5 0-4zM146 312l5 0 5 5-1 5-4 4-5 0-4-4-1-4zM266 311l7 4 0 4-5 4-6-4 0-5zM422 291l6 0 6 6-2 8-4 3-6 0-6-6 1-7zM147 194l-7 5-2 7 5 9 8 2 8-5 2-9-6-8zM407 149l-3 5 1 4 7 2 3-3 0-4-3-4zM34 120l-5 3-1 9 5 4 5 0 5-4 1-4-4-7zM235 74l5 13 9 13 11 22 15 13 17 6 38 3 44 0 82-8 32 0 33 3 9-4 8 0 12 5 14-2 6-4-1-4-8-6-23-12-35-24-18-9-69-25-64-17-13-1-26 10-19 2-16-3-21-12-7 1-3 8 15 2 7 3 7 8 0 7-6 7-11 5zM301 49l4 0 5 3 4 6 0 7-7 7-6 0-8-7 0-8zM0 0l0 49 24 6 23 3 22 17 18 8 12 3 26 1 7-2 7-5 1-7-8-10-10-5-29-8-9-7-6-23-4-8-6-6-15-6z"/><path fill="#797979" fill-rule="evenodd" d="M377 569l-8 4-2 4 0 7 6 7 7 1 8-6 1-9-5-6zM555 562l-3 3 1 5 5 1 2-1 1-5-1-2zM265 532l-4 4 0 6 3 4 8 0 3-4 0-5-3-4zM331 495l-4 3-1 5 2 3 6 1 3-3 0-5-2-3zM560 463l-2 5 5 2 2-5zM420 467l0 12 8 10 7 3 13 0 6-2 8-7 3-7-2-11-9-8-7 2-18-2zM300 447l-1 5 2 3 4 1 4-3 0-4-3-3zM328 427l-6 4-1 6 2 4 8 2 5-4 0-7-2-3zM271 428l4 9 7 4 9 2 8-1 9-4 5-7 0-5-3-6-9-5-18 1-6 3zM419 391l-6 6 0 8 4 5 8 2 7-5 1-9-5-6zM531 290l-7 4-1 8 4 5 8 1 5-4 1-6-5-7zM1 277l-1 37 8 3 9 0 7 4 5 0 8-5 2-10 5-8 0-8-3-5-6-5-10-4-16-1zM505 230l-3 6 2 7 7 4 7-2 4-7-2-7-4-3-8 0zM429 236l-6-6-11-6-21-6-17-1-49 3-8 5-12 16-23 9-14 11-7 9-6 12-2 14-3 6-4-1-18-17-17-11-16-4-11 1-19 8-8 6-14 15-14 27-12 11-21 7-41 4-19 8-10 9-12-6-12 2-2 2 0 22 9 3 5-1 12-7 3 3 8 19 1 21-4 12-11 11-12 0-11-10 0 129 12-1 7 3 7 6 5 11-2 15 126 0 17-6 20-10 20-14 17-18 11-3 4-6-2-10-4-3-8-2-18-25-13-31-7-42 0-13 4-10 30-30 28-25 6-3 7 3 10 10 18 24 9 9 13 8 9 2 11 0 21-4 54-18 20-10 13-12 6-10 2-7 0-14-5-15-11-23-3-14-1-30zM44 552l7-6 3 1 8 10 2 0 9-8 13-1 5 2 6 6 1 8-9 9-14 1-12-9-10 2-8-10zM91 517l6-5 12-1 4 2 9 0 7 6 7 0 9 3 9 8 4 9 0 6-3 8-5 6-9 5-13 1-8-3-14-12-2-9-13-9-2-4 0-7zM44 504l5 1 4 6-1 4-4 4-5 0-5-5 0-5zM128 473l6 1 3 4 0 4-6 5-4-1-4-5 1-4zM103 400l9-10 18-4 14 3 8 5 4 6 0 6-6 7-6 3-19 2-16-6-4-4zM356 337l5-4 5 0 4 4 1 4-3 5-8 1-4-4zM263 312l6-1 4 4 0 5-3 3-6 0-3-3 0-5zM147 311l5 1 4 5 0 4-4 5-6 0-5-5 0-5zM423 290l7 1 5 6-1 6-8 6-5-1-5-5 0-7zM146 195l-6 5-1 8 4 6 9 2 7-5 1-9-5-6zM409 149l-4 3 0 5 3 3 3 0 3-2 1-4zM32 121l-4 5 0 4 2 4 7 2 5-3 1-8-4-4zM248 78l12 38 4 7 11 10 12 5 12 1 11-3 13 0 27 5 42 0 61-6 33 0 37 3 13-4 13 5 8-1 8-4-1-5-5-4-28-15-28-19-26-13-65-23-59-15-17-1-28 9 7 11-1 7-6 6-8 0-7-6-1-8 5-7-1-2-22-3-1 1 5 10-2 7-11 9zM0 0l0 46 23 7 27 4 23 19 25 9 27 1 8-3 5-5-1-8-8-8-41-14-5-5-3-16-5-11-8-8-25-8z"/><path fill="#767676" fill-rule="evenodd" d="M375 570l-6 5-1 9 5 6 7 1 7-5 1-9-5-6zM557 562l-4 2 0 5 3 2 5-4zM265 533l-3 3 0 6 4 4 4 0 4-3 0-7-3-3zM227 531l-4 6 1 6 6 5 9-1 4-6-2-8-4-3zM329 496l-3 6 3 4 4 1 3-2 1-6-3-3zM560 463l-2 5 4 2 3-4-2-3zM421 467l0 12 6 8 8 4 9 1 10-3 7-6 3-7-2-11-8-7-11 2-14-2zM303 446l-3 2 0 5 2 2 4 0 3-4-2-4zM327 428l-5 4 0 6 4 4 6 0 4-5 0-4-3-4zM273 424l0 10 4 4 10 4 13-1 7-4 4-7-1-6-6-6-11-3-11 2zM419 392l-5 6 0 7 4 5 8 1 6-5 0-9-6-5zM7 361l-7 4 0 17 4 3 7 1 10-6 2-7-2-6-4-4zM534 291l-7 1-3 4 0 7 7 5 6-2 3-4-1-7zM214 284l-15-6-15 0-17 7-13 11-9 12 0 2 8 2 3 4 0 6-4 4-6 1-7-7-11 18-10 9-14 5-38 7-19 9-7 10-1 9 2 12 0 21-6 18-8 9-6 3-11 0-10-5 0 118 15 1 12 9 5 10 2 16 51 0 67-16 31-14 18-13 12-13 4-8 0-13-16-37-6-22-4-30 0-18 7-14 37-38 9-18 0-17-4-13-11-18zM44 551l4-4 4-1 5 3 3 6 3 1 11-8 14 0 9 6 2 4 0 7-9 9-15 1-5-2-7-7-6 2-6-2-7-10zM90 518l8-7 9-1 8 3 8 0 6 5 16 3 8 6 6 11 0 10-3 7-8 8-10 4-9 0-10-4-13-12-2-8-9-6-6-7-1-7zM42 504l6 0 5 5 0 6-6 5-7-2-3-4 0-4zM127 473l6 0 4 4 0 6-4 4-6 0-4-4 0-6zM102 399l6-8 8-4 15-2 19 6 6 6 2 7-3 6-9 6-6 2-19 0-12-5-6-6zM0 279l0 34 19 3 7 5 8-3 4-5 0-6 5-10 0-5-3-6-12-8-9-2-8 0zM510 228l-6 4-1 8 4 5 7 1 6-4 1-7-3-5zM414 229l-16-7-18-3-54 4-4 2-15 17-27 10-7 5-10 12-5 12 0 16 5 13 7 1 3 3 1 5-3 5 7 12 14 35 6 10 11 10 19 7 17 0 15-3 23-10 34-10 16-9 11-12 5-13 0-9-3-12-8-16-2-1-8 6-6 0-6-5-1-3 1-6 5-5 10-1-2-10-3-34-5-10zM362 332l5 1 4 5 0 5-6 5-6-1-4-5 1-6zM145 196l-5 6 0 7 6 6 7 0 6-6 0-7-5-6zM408 150l-3 6 2 3 5 0 2-2-1-6zM34 121l-5 4 0 7 4 3 6 0 4-5-1-6-4-3zM258 79l1 23 7 20 9 9 12 5 13 0 17-7 45 9 45 0 39-4 40 0 26 3 12 0 6-3 8 0 6 3 8 0 8-4 0-3-10-8-78-43-59-21-57-14-25-1-19 6-1 2 4 6 0 8-6 7-3 1-7-1-6-5-2-5 2-11-11-1-2 1 0 7-3 7zM0 0l0 44 21 7 31 5 20 18 21 9 24 3 11-2 7-5 1-7-9-10-14-6-23-6-7-5-5-21-6-10-5-4-12-5-17-4z"/><path fill="#717171" fill-rule="evenodd" d="M375 571l-6 5 0 8 4 5 8 1 6-5 1-6-5-7zM555 563l-2 5 5 2 2-5zM267 533l-4 3-1 4 2 4 7 1 3-3 0-5-2-3zM228 532l-3 5 1 6 5 4 6 0 5-6-2-8-3-2zM328 497l-1 7 2 2 5 0 3-4-1-4-2-2zM559 464l-1 3 5 2 1-4-2-2zM424 464l-3 9 3 9 8 7 8 2 9-1 9-5 4-6 0-12-8-8-24 0zM302 447l-2 3 1 4 6 0 0-6zM326 429l-4 7 3 5 5 1 5-4 0-5-4-4zM273 425l0 8 5 5 7 3 15-1 7-5 2-5-1-5-4-5-11-4-12 2zM420 393l-5 5 0 7 5 5 6 0 6-6-1-7-5-4zM6 363l-6 5 0 12 5 4 8 0 6-4 2-8-5-8zM527 293l-3 5 1 5 5 4 6-1 3-4-1-7-4-3zM207 289l-9-3-15 0-17 8-13 14 4 8-1 7-4 4-10 2-9 21-10 10-14 5-36 6-17 8-8 11-4 32-8 20-9 9-6 3-21-1 0 108 13 1 10 5 6 6 10 18 6 2 25-2 43-12 13-6-21-22-2-8-8-5-7-9 1-11 10-8 6-1 9 3 7 0 8 5 10 1 10 4 9 9 3 7 1 12-2 11 5 0 20-12 12 1 5-4 0-16 3-5 1-9-13-49-4-31 0-21 8-16 20-21 13-17 6-18-2-19-7-16-11-13zM44 551l3-4 6-1 6 5 1 3 3 1 5-5 7-3 13 0 12 9 1 10-5 7-7 4-13 0-7-3-6-6-10 0-8-10zM42 503l6 0 6 6-1 7-7 5-6-2-4-6 2-7zM128 472l5 0 5 5-1 7-5 4-6-1-4-5 1-6zM100 398l5-7 11-6 20-1 15 6 7 7 2 7-3 6-8 6-10 3-17 0-15-6-7-9zM1 280l-1 31 8 3 9 0 8 6 5 0 5-3 3-6 0-7 3-5 0-8-2-4-7-6-8-3-12-1zM509 229l-5 5 0 6 5 5 6 0 5-5 0-6-5-5zM398 226l-17-4-22 0-29 4-6 3-14 15-19 4-13 6-8 7-8 13-2 7 0 11 5 15 8 6 2 7 15 15 6 14 1 19 3 8 10 11 7 4 17 5 17-2 13-4 18-10 15-1 7-6 11-3 12-6 14-15 3-14-1-7-7-17-2-2-11 1-8-7 1-9 8-7-3-29-4-16-8-10zM358 333l8-1 4 3 2 7-5 6-4 1-7-4-2-5zM147 196l-6 5-1 6 4 6 9 1 5-5 0-8-6-5zM408 151l-2 2 0 4 5 2 3-5-2-3zM33 122l-3 2-1 6 3 4 6 1 4-4 0-6-3-3zM262 90l0 14 6 17 9 9 10 4 10 0 6-2 18-10 29 9 25 4 103-3 46 4 8-3 18 2 4-3-1-4-10-7-34-16-30-18-19-9-45-16-56-13-26-2-18 4 1 13-8 9-8 0-5-3-4-5-2-10-2 0-22 23zM0 2l1 41 18 6 36 6 15 16 23 11 23 3 11-2 7-6-2-9-7-6-41-14-4-7 0-8-3-9-5-8-13-8-19-5-16-2z"/><path fill="#6c6c6c" fill-rule="evenodd" d="M373 573l-3 4 0 7 6 5 7-1 4-6-1-6-5-4zM555 564l-1 4 5 1 0-4zM266 534l-3 7 6 4 5-6-2-4zM188 535l-2 4 2 7 6 3 4-1 4-6-1-5-6-4zM230 532l-4 5 0 4 5 5 6 0 4-5 0-5-4-4zM330 496l-3 3 1 6 5 1 3-3 0-4-3-3zM560 464l-1 4 4 1 1-4zM424 467l-1 9 2 5 11 8 12 0 5-2 6-5 3-8-2-8-7-6-22 0zM302 448l-1 5 5 1 1-5zM326 430l-3 4 1 5 3 2 6-1 2-4-1-4-2-2zM273 427l1 6 5 5 10 3 12-3 6-7 0-4-4-6-11-4-13 3zM420 394l-4 4 0 7 4 4 6 0 4-3 1-7-5-5zM7 364l-5 3-2 9 3 5 9 2 6-4 1-9-3-4zM207 299l-9-4-11-1-16 6-12 12-1 9-8 9-9 34-11 14 18 7 13 11 2 9-8 10-10 4-12 2-22-4-7-4-7-9 1-11 8-11-25 2-17 7-7 7-5 10-7 25-5 10-10 11-7 4-11-2-5 1-7 5 1 94 21 8 18 17 17 1 8-2 1-4-5-6-8-1-4-3-6-11 1-5 4-4 6 0 7 7 2 0 9-6 10-2 10 2 11 6-1-8-12-10-4-9 3-10 7-6 14-1 13 3 6 4 18 3 8 5 12 14 7-1 13-12 5-8 3-16-9-52-1-34 7-16 29-34 7-20 0-10-4-15-6-11zM40 503l8-1 6 5 1 8-4 5-5 2-5-1-5-5-1-6zM128 471l8 2 3 5-1 6-6 5-6-1-5-7 1-5zM530 293l-4 3-1 4 3 5 5 1 5-4 0-5-2-3zM0 282l0 27 10 4 8 0 7 6 8-1 4-5 0-10 3-6-3-10-6-5-8-3-16 0zM507 231l-2 3 1 8 3 2 8-1 2-3-1-8-3-2zM392 230l-16-4-18 0-23 5-7 4-15 14-21 0-9 3-14 12-5 9-2 16 6 17 11 12 16 7 8 9 4 10-5 21 1 7 9 12 13 8 10 2 20-4 14-6 10-8 9 3 8-1 8-12 21-9 7-7 3-6 1-15-7-16-9-3-6-7 0-8 3-6 0-5-7-35-4-8zM358 332l8-1 5 4 2 7-4 6-9 1-5-4-1-8zM147 197l-5 4-1 6 3 5 6 2 6-3 2-7-4-6zM408 152l-1 5 4 1 2-4-1-2zM34 122l-4 3 0 6 3 3 5 0 3-2 1-5-3-4zM265 92l0 15 5 13 8 8 11 4 9-1 8-4 12-11 5-2 34 12 29 5 76-2 49 5 15 0 6-2 9 1 5-2 0-2-8-7-37-15-52-28-47-16-34-7-19-2-27 1-3 2-4 12-7 5-10-1-8-7-4-1-15 12zM0 4l0 36 26 9 33 5 11 15 7 5 17 7 9 2 18 0 6-2 4-4 0-6-7-8-10-5-31-9-4-4-2-18-3-6-7-7-17-7-14-3z"/><path fill="#656565" fill-rule="evenodd" d="M375 573l-4 4 0 6 3 4 6 1 5-4 1-5-3-5zM556 565l-1 3 3 0 0-3zM266 535l-2 2 0 4 3 3 3 0 3-3 0-4-2-2zM190 536l-2 3 1 6 2 2 6 0 3-3 0-6-4-3zM232 532l-4 3-1 6 3 4 4 1 6-4 0-6-3-3zM329 497l-2 6 5 3 3-2 1-4-2-3zM561 464l-2 3 4 1 0-3zM426 467l-1 10 2 4 8 6 11 1 6-2 5-4 3-6-2-10-6-5-19 0zM303 449l-1 3 3 1 1-3zM330 430l-6 3 0 5 5 3 5-4-1-5zM275 425l0 8 8 6 13 0 9-8-1-6-8-6-13 0zM171 413l-4 0-12 6-12 3-21 0-20-7-16-14-6 0-13 6-9 10-13 27-12 14-7 5-4 0-7-5-6 0-7 6 1 12-3 4 0 58 7 12 25 17 9 4 8 0-7-16 1-5 4-4 6-1 7 6 3 0 5-4 9-3 17 0-8-12-1-11 4-7 9-6 10-1 20 7 19 2 15 6 6-2 9-10 6-14 1-8-6-50-4-20zM41 501l8 0 7 7 0 7-6 7-7 1-8-6-1-8zM127 470l8 1 5 6-1 8-6 5-9-2-4-6 2-8zM421 395l-4 4 0 5 4 4 5 0 3-3 1-5-3-4zM9 365l-6 3-2 7 3 5 7 2 5-3 2-7-3-5zM195 304l-11 0-12 6-8 9-8 20 0 40 10 13 9 7 20-14 13-13 11-21 0-20-6-14-6-7zM529 295l-2 2 1 6 6 1 3-4-3-5zM1 283l-1 25 7 3 12 1 8 7 5-1 4-4 0-12 2-3 0-7-2-4-6-5-8-3-13 0zM378 234l-21-1-11 3-12 7-15 15-6-1-11-6-16 1-14 10-7 13 0 17 7 15 6 6 8 4 20 1 5 4 9 20-12 18-1 11 2 5 9 9 12 7 8 0 18-5 15-9 7-9 10 9 9-2 3-5 0-5-3-6 22-10 7-10 0-12-5-12-9-12-11-49-5-9-7-7zM356 332l10-2 6 4 2 10-5 6-6 1-9-5-2-8zM509 231l-3 3 0 6 3 3 6 0 3-3 0-6-3-3zM145 199l-3 4 1 6 6 4 4-1 4-6-2-6-3-2zM409 153l-1 3 3 0 0-3zM33 123l-3 7 7 4 3-2 1-6-3-3zM267 96l0 9 4 12 7 8 8 4 9 0 9-4 19-21 4 0 33 15 27 6 69 0 50 6 23 0 5-2 0-2-6-5-45-15-49-27-29-10-36-7-24-1-16 2-8 3-10 8-11 0-8-4-6 0-11 7-6 10zM0 7l0 31 29 10 33 4 3 2 5 12 4 4 21 10 23 2 10-5 1-5-2-4-9-7-40-12-2-3 1-14-3-8-7-8-16-7-20-4-24 0z"/><path fill="#5c5c5c" fill-rule="evenodd" d="M376 574l-4 4 0 4 3 4 6 0 3-3 0-6-4-3zM191 537l-2 3 1 4 2 2 5 0 2-2 0-5-3-3zM268 535l-3 2 0 4 5 2 2-2 0-4zM232 533l-4 3 0 5 2 3 5 1 4-3 1-4-4-5zM330 497l-2 2 0 4 5 2 2-2 0-4zM428 468l-1 8 2 4 9 6 12-1 8-9-1-8-7-6-15 0zM327 431l-3 5 2 3 4 1 3-2 0-5-2-2zM275 428l3 7 10 4 11-3 4-5-1-6-7-5-14 1zM153 429l-12-3-21-1-33-8-10 3-11 7-24 31-17 14-3-1-4-10-4-2-7 1-4 6 1 5 10 9-8 15-2 17 4 19 9 15 8 7 15 6 3-11 6-4 14 4 6-4 15-3 1-6-2-4 0-10 3-6 12-9 10-1 19 6 21-1 5-2 11-13 5-15 0-18-3-13-7-14zM42 499l10 2 6 9-2 9-7 5-10-1-7-9 2-9zM129 468l9 3 4 6-2 10-8 5-8-2-5-7 2-10zM421 397l-3 3 1 5 3 2 5-1 1-7-2-2zM7 367l-4 4 0 5 4 4 5 0 4-4 0-5-4-4zM388 361l-5 5 0 6 3 4 7 1 5-4 1-5-4-6zM194 315l-9 0-8 4-6 7-5 13-1 9 3 15 2 4 10 8 7 0 9-4 8-8 6-13 1-11-2-9-4-7zM530 298l0 2 3 1 1-2zM0 285l0 21 9 4 9 0 9 8 3 0 5-4 1-3-2-8 2-4 0-7-4-6-12-5-10 0zM370 245l-11 0-13 5-11 10-13 18-4-3-7-13-12-9-11 0-7 3-8 7-6 12-1 10 3 12 10 13 7 3 11 0 9-4 10-8 4 2 5 16 12 17 1 4-23 17-4 8 0 5 3 7 15 13 10 0 17-6 7-4 8-9 2-7-1-10-9-1-7-3-7-8 0-4 5-7 6-3 10 2 6 7 2 11 14-1 11-3 7-6 2-5-3-14-10-22-9-35-8-11zM510 232l-3 3 1 6 8 0 1-6-3-3zM148 199l-4 3-1 4 2 4 7 1 3-3 0-6zM33 124l-2 2 0 4 3 3 5-1 1-6-2-2zM287 75l-9 5-4 5-4 9 0 14 3 8 5 6 7 4 11 0 6-3 8-9 5-12 1-10-4-9-5-4-12-4zM332 84l0 3 5 8 9 7 14 7 23 7 22 3 65-1 28 6 10 0-6-3-19-3-16-5-32-22-19-9-24-7-20-3-24 1-11 4zM71 56l2 10 10 8 18 6 17 0 5-2 3-4-2-6-4-4-16-7-19-4-11 0zM0 9l0 27 8 4 19 6 25 3 18-1 4-6 1-11-3-7-7-7-10-5-22-5-26 0z"/><path fill="#525252" fill-rule="evenodd" d="M375 577l-1 5 2 2 4 0 2-2 0-4-2-2zM194 537l-3 2 0 4 5 2 2-5zM266 537l0 4 4 1 1-4-2-2zM232 534l-3 2 0 5 3 3 3 0 3-2 1-4-3-4zM330 498l-2 5 4 2 2-1 1-4zM431 469l0 9 6 5 11 0 7-7-1-7-6-5-11 0zM10 460l-5 4 0 6 4 4 6 0 4-4 0-5-3-4zM136 455l-11-10-15-5-21 1-13 4-11 6-28 24-14 15-5 12 0 16 6 14 5 6 11 6 7-2 14 0 14-7 3-6 1-8 4-8 6-6 10-5 19-1 6-3 0-3-8-11 0-7 2-5 5-5 16-4zM37 498l12-1 4 2 7 9-1 11-9 8-10 0-10-9-1-10zM327 432l-2 4 1 2 4 1 2-2 0-4zM279 424l-2 6 5 6 11 1 7-5 0-6-5-4-10-1zM422 399l-1 4 4 1 1-3zM8 369l-2 1-1 5 1 2 5 1 2-1 1-5-1-2zM388 363l-4 4 0 5 4 4 5 0 4-3 0-7-3-3zM365 360l-5-5-8-4-15-1-13 5-7 7-1 10 10 15 4 2 7 0 18-8 8-6 3-6zM187 338l-2 3 0 5 5 2 2-3 0-5zM0 288l0 16 8 4 12 1 8 8 6-3 0-22-5-6-12-4-9 1zM357 270l-11 9-3 6-2 9 1 10 4 8 6 6 11 4 10 0 6-5 2-7-3-23-3-8-7-8zM289 255l-9 4-7 7-4 10 0 11 2 8 7 10 7 4 10 0 6-3 7-8 3-7 1-13-6-16-8-6zM509 235l1 5 5-1-2-5zM147 201l-2 2 0 4 5 3 3-2 1-4-3-3zM33 125l-1 5 5 2 2-2 0-4zM386 95l2 2 6 0-2-2zM289 79l-6 2-7 7-3 7 0 13 6 11 7 4 8 0 5-2 7-7 4-10 0-10-3-7-5-5zM76 59l0 5 5 6 15 7 19 1 5-2 2-4-6-8-14-6-22-2zM0 12l0 21 16 8 23 5 23 0 7-3 3-5 0-9-2-4-13-10-23-6-25 0z"/><path fill="#464646" fill-rule="evenodd" d="M193 539l-1 3 4 1 1-2zM267 538l2 3 1-3zM232 535l-2 2 0 4 2 2 5-1 0-6zM329 499l0 4 4 1 1-4-2-2zM74 477l-13 1-16 10 1 3 7 3 7 6 7 17 11-12 6-14-2-9zM438 467l-4 4 1 6 4 3 9-1 3-4 0-4-7-5zM10 461l-3 2-1 6 2 3 6 1 4-4 0-3-3-4zM328 433l-2 3 4 2 1-4zM279 428l1 4 7 4 7-1 4-4 0-4-5-4-9 0zM388 364l-3 3 0 5 3 3 6 0 3-4-1-5-2-2zM356 358l-10-4-8 0-13 5-5 8 1 8 4 9 4 3 6 1 20-11 6-8 0-4zM0 290l0 11 9 6 13 1 6 8 5-2 0-6-2-3 1-13-4-5-7-3-11 0zM292 257l-6 1-7 4-7 11 2 22 6 8 6 3 6 0 7-3 6-7 3-8 0-14-3-8-5-6zM148 204l2 3 1-3zM34 126l-1 3 4 2 1-4zM288 83l-6 3-5 6-2 13 3 8 5 5 10 2 5-2 5-5 3-6 1-8-3-9-5-5zM80 62l1 4 4 4 11 5 16 1 5-3 0-4-4-4-11-5-15-2zM0 15l0 14 4 4 18 8 14 3 23 0 6-2 5-7-2-9-9-8-10-4-13-3-18-1-12 2z"/><path fill="#383838" fill-rule="evenodd" d="M232 536l-1 5 4 1 2-4zM332 499l-3 2 1 2 3-1zM13 462l-6 3 1 5 3 2 5-3 0-4zM283 428l1 4 8 1 3-3-4-5-5 0zM388 365l-2 7 5 3 3-1 2-6-3-3zM350 361l-5-2-8 0-7 3-5 8 1 12 5 4 9-2 14-15 0-3zM2 291l-1 8 4 4 7 3 11 0 5 8 4-2 0-3-4-4 2-12-4-5-12-3-5 1zM291 260l-9 3-5 5-2 5 1 4 6 1 5 4 0 5-8 6 0 4 7 5 6 0 6-3 7-13 0-10-4-10-4-4zM287 88l-7 7-1 11 5 8 8 2 9-7 1-13-7-8zM88 64l3 5 7 3 10 0 2-2-4-5-5-2-10-1zM1 21l0 3 5 7 11 6 13 4 25 1 8-3 3-4 0-6-7-8-18-7-16-2-12 1-8 3z"/><path fill="#292929" fill-rule="evenodd" d="M10 464l-1 4 4 2 2-4zM333 370l-5 4-1 4 2 4 8 1 4-5 0-4-2-3zM389 366l-2 5 2 2 4 0 2-3-1-3zM5 291l0 9 8 4 9-1 5-5 0-5-6-5-7-1zM289 264l-5 2-4 6 11 10 0 5-4 9 5 1 8-8 1-14-2-5-5-5zM288 96l-2 7 2 3 4 1 3-2 1-5-3-4zM7 21l0 4 5 6 16 7 12 2 14-1 6-3 2-4-4-8-19-8-19-1-8 2z"/><path fill="#1a1a1a" fill-rule="evenodd" d="M333 375l-2 3 4 2 1-4zM390 367l-1 4 3 1 1-4zM7 295l0 2 5 4 7 0 5-5-1-3-5-3-6 0zM289 270l-1 2 8 9-1-8-3-3zM14 22l2 7 16 7 18 0 6-5-3-6-14-6-16-1z"/><path fill="#0a0a0a" fill-rule="evenodd" d="M24 25l4 5 7 2 7 0 4-3-2-3-7-3-10 0z"/><path fill="#838383" fill-rule="evenodd" d="M0 568l0 31 24 0 3-7 0-11-3-6-11-8zM231 559l-6 4-1 9 6 5 5 0 6-5 0-7-4-5zM65 560l4 8 11 4 10-3 5-6-1-7-9-6-12 1zM49 548l-3 3 1 7 6 7 7-1 2-3-6-11zM93 518l-2 4 2 9 4 4 7 3 3 3 0 8 13 9 7 3 11 0 10-5 6-9 0-11-7-10-9-4-9-1-6-6-4-1-6 1-4-2-9 0zM43 507l-2 2 0 5 2 2 5 0 2-6-3-3zM127 476l-2 4 3 4 5 0 2-3-1-4-3-2zM16 403l-7 8-1 15 5 9 8 2 8-9 1-14-6-10zM107 399l0 6 5 6 16 5 17-3 7-6 1-3-1-5-6-6-13-4-16 2-7 4zM21 337l-4 3-1 7 5 4 4 0 4-3 1-6-3-4zM361 335l-3 3 0 4 3 3 5 0 2-2 0-5-3-3zM265 313l-2 5 3 3 5-1 0-6zM148 313l-4 2-1 6 7 4 4-3 0-6zM424 292l-6 4-1 4 4 6 5 1 6-5 0-5-2-3zM300 52l-5 5-1 6 4 6 5 2 5-1 5-7-1-6-5-5zM80 2l-3 4 0 5 10 33 6 4 26 7 17 7 7 7 2 8-1 3-8 7-12 3-15 0-21-4-14-5-29-17-21-1-8 3-16 18 0 182 31 6 10 5 10 10 0 6-8 12-4 11-11 8 1 6 7 4 11-2 15 5 25 1 11-2 16-7 7-7 3-8-2-10-7-11 0-4 41-37 31-34 7 6 15 24 13 13 8 6 17 7 7-2 24-22 21-10 7-7 7-13 8-6 32 1 15-2 27 0 36 10 13 7 7 9-2 44 15 45 0 16-6 16-17 19-10 7 5 12 0 6-3 6-6 4-9 0-8-7-3-6-3 0-40 19-12 8-15 17-9 7-13-8-5 0 2 7-3 5-5 2-7-6 1-7-9 0-11-4-7-6-2-5 5-11 20-10 0-4-4-7-20-21-11-5-11 0-12 5-35 27-5 9-1 14 4 13 2 19 6 20 12 20 16 14 12 6 19-2 4 4 2 8 5 8-1 16 4 13 11 18 8 5 7 1 8-3 18-18 4-1 30 31 233 0 0-599-347 0-2 6 9 11 6 14 12 10 13 4 16 0 14-4 17-9 13 0 42 10 61 20 40 16 22 12 27 20 26 13 12 9 0 3-3 3-16 4-14 0-10-6-6 0-10 5-43-3-25 1-43 6-73 6-15 3-15-1-48-22-15-4-10-9-9-20-18-32 4-4 20-8 2 9 5 5 6 3 13 1 11-4 5-5 1-6-4-6-9-4-24 0 5-12 0-9-2-6-7-8-17-6-16 0-25 8-27-14-64 0zM373 567l9 0 4 2 6 9-2 11-6 6-6 2-9-2-5-5-2-5 1-9zM556 560l4 1 3 4-1 5-4 3-5-1-3-5zM332 493l7 6 0 5-6 5-4-1-4-4 0-6zM244 480l1-1 2 2-2 1zM561 461l5 3 0 5-2 2-5 0-3-4zM417 464l10-10 4 0 8 4 18-3 6 5 4 7 0 12-4 7-9 7-12 3-8-1-7-3-11-14-1-6zM528 288l8 0 7 7 0 8-6 7-10 0-6-6-1-7zM509 225l9 1 6 7 0 8-8 8-8 0-8-8 1-10zM146 192l8 0 4 2 6 8 0 7-2 4-7 6-9 0-9-8 0-11zM408 146l3 0 6 8-1 4-6 4-7-5 0-6zM34 118l6 1 5 6 0 7-7 6-5 0-7-6 1-9z"/><path fill="#868686" fill-rule="evenodd" d="M0 569l0 30 23 0 4-12-3-11-10-8-8-1zM229 560l-4 4-1 6 3 5 9 1 3-2 2-8-5-6zM72 552l-6 8 4 8 7 3 7 0 9-6 1-7-5-6-7-2zM50 548l-4 3 0 5 8 9 3 0 4-3-4-10-4-4zM93 519l0 11 14 10 0 8 3 4 5 1 11 7 12 0 7-3 6-6 3-12-2-6-6-7-6-3-10-1-8-7-11 0-4-2-8 1zM43 508l-2 3 1 3 6 1 1-5-2-2zM128 476l-2 2 1 5 6 0 1-5-2-2zM18 410l-5 6-1 7 2 6 7 3 5-6 1-7-2-6zM108 399l1 8 4 4 11 4 17-1 6-3 5-7-1-5-5-5-11-4-16 1zM20 338l-3 3 0 6 3 3 6 0 3-3 0-6-3-3zM360 336l-2 3 1 4 6 2 3-3-1-5-3-2zM146 314l-3 4 1 4 2 2 6 0 2-3-1-6zM266 313l-2 2 0 4 5 2 2-2 0-4zM420 294l-2 3 1 7 3 2 6 0 4-6-1-4-4-3zM121 310l-9-12-11-6-17-4-17 1-13 5-12 14-1 6-12 10 0 4 7 5 12-3 17 6 27 0 11-3 11-6 7-10zM299 53l-4 5 0 7 5 5 9-1 3-4-1-9-6-4zM235 55l0 8 5 5 8 3 11 0 6-2 8-8-1-6-5-5-11-3-13 2zM269 0l-5 11 1 14 4 8 13 9 8 2 22-1 25-13 19 1 40 10 57 19 38 15 23 12 35 25 36 17 3 6-7 5-17 3-17 0-8-6-7-1-9 5-53-2-51 5-5 2 3 10-6 6-3 0-5-4-1-6 2-5-59 6-26 6-10 0-22-13-30-11-21 2-17 9-8 9-8 17-4 18 0 20 5 20 6 12 17 19 17 9 11-1 18-16 27-15 13-21 7-5 30 2 42-3 39 9 22 9 8 8 1 5-6 24-1 15 2 12 10 28 2 17-2 12-10 19-21 20 1 15-6 9-10 3-12-6-4 0-35 17-19 15-14 23-4 3-18-17-2 0-5 6-6 1-4-3-2-9-13-2-6-3-7-7-1-8 2-4 6-6 13-7 0-4-7-11-11-11-13-7-14 0-13 6-28 20-5 6-3 8 0 12 5 16 2 18 10 25 12 15 20 15 10 0 10-6 3 0 3 3 7 24 0 12 2 7 8 16 10 9 8 1 9-4 10-12 10-19 4-2 15 20 7 6 8-5 8-2 9 3 5 5 2 5 0 8-3 7 0 3 3 3 206 0 0-299-5-17-9-20-21-30 0-6 5-6 14-8 16-6 0-207zM555 560l3 0 5 4 0 5-4 4-5 0-4-5 1-5zM330 493l6 1 4 6-1 5-4 4-5 0-5-5 0-6zM243 480l3-1 1 2-2 2zM560 461l4 1 3 4-5 6-6-5zM416 463l10-10 4 0 11 5 11-4 5 0 7 6 4 7 0 12-4 7-7 6-9 4-14 0-7-3-12-15-1-9zM528 287l8 0 8 8-1 10-5 5-5 2-9-3-4-6 0-8zM510 224l10 2 6 9-1 7-9 8-10-1-5-4-3-7 2-7 5-5zM231 15l-15-6-17 0-10 3-17 9-15-12-11-5-16-4-29 0-15 4-6 5 0 9 8 26 9 5 28 7 15 6 7 7 1 10-6 7-9 4-26 1-21-4-27-10-10-1-7 4-12 12-11 15-9 17-8 24-2 10 0 40 7 26 7 14 17 21 10 7 15 7 15 3 13 0 18-4 14-7 22-20 13-21-8-4-6-6-2-5 0-7 2-4 6-6 5-2 6 0 9 4 3-2 12-23 28-33 6-15-1-16-7-16-10-14-20-20 2-1 13 5 12 1 17-3 12-6 7-8 3-9-2-11zM33 117l7 1 6 7-1 8-8 6-8-2-5-8 2-7z"/><path fill="#898989" fill-rule="evenodd" d="M0 570l0 29 22 0 4-12-3-11-5-5-7-3zM231 560l-5 3-1 8 3 4 6 1 5-3 1-8-2-3zM67 559l2 7 7 4 9 0 8-6 0-7-8-6-9 0zM50 548l-3 2-1 5 4 6 6 4 4-3 0-3-4-8zM93 520l0 9 6 6 9 5-1 7 2 4 22 9 8-1 11-8 3-7 0-6-3-7-7-6-15-3-6-7-9 1-4-2-9 0zM45 509l-2 1 1 4 3-1 0-3zM128 477l-1 5 5 1 1-5zM109 400l0 5 4 5 16 5 15-3 7-8-1-5-4-4-9-4-15 0-8 3zM22 338l-5 4 0 4 2 3 6 1 4-7-3-4zM360 337l-1 5 2 2 4 0 2-2 0-4-2-2zM145 315l0 8 6 1 3-3 0-4-3-3zM266 313l-2 2 1 5 5 0 1-5zM423 293l-4 3-1 5 4 5 5 0 4-4 0-5-3-3zM118 310l-8-10-14-6-12-2-22 2-9 4-9 9-3 8-11 8 0 5 5 4 13-4 19 7 28-1 13-5 8-7 2-4zM599 139l-26 5-25 0-10-7-8 0-8 5-36-2-29 1-41 6 1 10-5 5-5 0-5-5-1-8-62 8-22 7-8 0-22-15-13-6-20-4-8 1-13 5-6 4-12 13-7 14-4 16 0 22 2 10 8 18 14 16 17 9 9 0 4-2 14-12 26-15 7-9 7-14 6-5 19 2 26 0 24-3 12 1 66 16 12 4 8 6-1 5-13 17-6 16 0 19 9 32 0 20-8 21-9 12-17 17-2 11-7 9-7 3-9 1-15 9-18 5-19 11-12 14-5 10-6 20-3 3-10-17-1-7-4-7-8-5-6 3-7 0-4-4-2-7-17-5-9-9 0-8 2-4 15-12 0-4-5-8-14-13-13-5-7 0-10 3-29 18-8 8-4 13 1 8 5 13 4 25 8 18 4 6 25 24 11 1 12-10 3-1 3 2 3 8 4 30 4 13 6 11 6 6 6 3 6 0 12-9 10-19 7-25 4-4 3 3 9 20 8 11 9 8 8 0 9 3 7 7 4 13 13 13 189 0 0-233-15-33-13-45-12-21-11-12-17-12-4 1-9 7-9 1-5-2-7-7-2-5 1-6 11-9 11 0 10 3 26-11 44-15zM554 560l5 0 4 4 0 6-3 3-6 0-4-4 0-5zM331 492l6 0 4 6 0 6-6 6-7-2-4-7 1-4zM245 478l3 2-2 3-3-1zM560 461l3 0 4 4 0 3-4 4-3 0-4-4 1-5zM413 465l3-6 9-8 4 0 9 6 8 0 7-4 4 0 11 11 2 8-1 7-3 6-12 10-10 3-12-1-5-2-4-8-9-8-2-6zM531 285l8 2 7 9-2 10-5 5-6 2-8-2-6-7 0-9 2-4zM172 82l-7-4-6 0-10 9-17 6-28 0-21-4-11 0-9 5-12 11-8 10 4 8 0 9-6 7-12 2-6 22-1 20 4 20-3 17 2 7 6 7 7 3 9 1 19 10 15 2 15-3 13-7 10-9 10-14 4-18 10-13 10-22 26-34 6-11 0-20-5-9zM301 53l-5 4-1 7 4 5 7 1 5-4 1-7-4-5zM236 58l1 5 5 5 6 2 15-1 9-8 0-4-5-6-9-3-12 1-6 3zM81 15l6 25 5 6 13 5 31 7 9 0 5-2 20-19 13 14 8 4 8 2 16-1 12-5 8-8 3-8-1-9-3-5-7-6-11-4-17 0-7 2-13 8-8 8-13-15-10-6-16-5-33 0-14 5zM268 14l-1 9 3 8 7 7 9 4 26 0 11-5 13-9 15 0 33 7 64 21 48 19 22 12 30 22 18 9 20 6 13 0 0-124-319 0-8 7z"/><path fill="#8e8e8e" fill-rule="evenodd" d="M0 571l0 28 21 0 4-12-3-11-4-4-7-3zM230 561l-4 3-1 6 4 5 6 0 4-3 0-8-4-3zM68 559l2 7 5 3 10 0 7-6 0-6-7-5-10 0zM49 549l-3 4 2 5 6 6 3 0 2-2 0-4-4-8zM95 518l-2 9 6 7 10 6-2 6 3 5 6 1 7 5 10 2 10-3 7-7 2-11-3-7-4-4-6-3-10-1-8-8-10 1-8-2zM129 478l-1 2 2 2 2-1 0-2zM110 401l3 8 13 5 16-2 7-6 0-6-2-3-7-4-9-2-15 3zM238 385l-31 17-9 12 0 15 6 15 4 23 11 21 16 14 3 7 8 6 10-1 12-15 3 0 4 4 4 32 5 19 9 15 6 4 9 0 10-8 5-8 8-26 1-20-8-8 0-4 5-7-5-18 0-9-8-7-16 0-7-10-8-2-14-9-3-5 1-9 14-15-5-9-9-9-15-7zM247 478l1 4-3 2-3-4zM19 340l-1 7 2 2 6 0 2-7-3-3zM362 337l-2 5 5 1 1-5zM266 314l-2 3 2 3 3 0 2-4-1-2zM148 314l-4 3 0 4 3 3 3 0 3-2 1-4-2-3zM30 326l5 5 5 0 8-5 16 7 24 1 20-7 6-6 2-9-5-8-10-6-12-3-20 0-18 7-5 5-3 7-9 6zM422 294l-3 3 0 6 5 3 4-1 2-2-1-8zM496 268l-12 9-5 13 0 10 5 29 0 10-4 18-9 17-31 40-15 27 6 11 5 4 9 1 10-6 3 0 7 6 6 12 0 7-4 10-7 7-12 6-14 1-7-2-3-3-3-10-11-8-1-9 2-10 9-16 0-3-4-7-9-1-5 4-1 9-2 2-13 0-7 2-13 8-8 10-8 23 0 21 2 9 7 16 6 8 9 8 16 10 12 12 11 15 12 11 174 0 0-211-13-22-21-25-14-35-9 6-9 3-8-2-7-7-1-12 2-4 6-6 8-3 0-2-10-8-11-4zM556 559l4 1 4 5 0 4-5 5-6-1-4-6 1-4zM559 461l5 0 3 4-1 5-3 2-7-3 0-5zM45 204l-9 1-9 8 0 12 8 8 11 0 5-3 4-6 0-12-5-6zM599 145l-52 0-10-8-6 0-9 6-59-1-44 6-2 10-7 5-4-1-4-4-2-6-3-1-57 9-24 9-7 0-30-21-17-5-15 1-18 9-12 14-9 23 0 28 4 13 11 18 10 9 13 6 10 0 16-12 25-15 6-8 8-17 7-5 25 4 14 0 30-4 14 1 35 8 34 5 27 0 20-3 40-10 42-15zM135 107l-8-3-12 0-17 5-18 11-14 14-6 9-8 23 0 18 5 14 12 12 5 2 15-1 7-4 10-11 33-74 1-7zM303 53l-7 5 0 7 4 4 5 1 5-3 2-6-3-6zM238 57l0 5 2 3 8 4 13 0 6-3 4-5-3-8-10-4-14 2zM176 31l0 5 3 7 9 8 12 4 12 0 15-6 6-6 3-7 0-6-3-7-8-7-13-4-14 1-10 4-9 8zM84 13l-1 9 5 18 4 5 12 5 24 5 13-1 13-7 5-5 4-8 0-6-3-7-7-7-15-7-16-3-13 0-18 4zM270 18l0 8 2 5 6 6 12 5 22-1 26-16 20 2 36 8 59 20 38 15 25 13 29 21 19 10 14 4 13 0 8-3 0-115-309 0-10 5-7 7z"/><path fill="#939393" fill-rule="evenodd" d="M1 572l-1 27 20 0 3-9-1-12-6-6-5-2zM231 561l-5 4 0 6 3 3 5 1 4-3 1-6-3-4zM70 557l0 7 6 4 9 0 6-6 0-4-4-4-6-2-6 1zM49 549l-2 2 0 5 7 7 3 0 1-6-2-5-3-3zM95 520l0 9 15 10-2 4 1 7 9 2 9 5 10 0 7-3 4-4 3-10-3-8-5-5-8-3-7 0-6-8-11 1-8-2zM407 432l-4 5 0 4 3 4 6 1 5-4 0-6-4-4zM112 400l0 5 3 4 11 4 13-1 4-2 5-7-6-8-6-2-14 0-5 2zM209 402l-8 8-3 12 2 9 6 12 4 22 7 15 19 18 4 12 6 4 7 0 4-2 4-5 2-10 7-5 4 0 4 6 2 31 7 26 5 8 6 5 9 1 4-2 6-6 6-11 6-25 0-14-5-7 2-16-4-9 0-15-7-5-14 1-4-2-7-8-10-5-10-8-3-6 0-5 2-5 9-10 0-4-2-4-12-11-9-4-14 0zM244 477l5 3-2 4-5-2zM515 345l-8 6-13 21-23 29-15 27-2 1-2-5-6-4-5 1-4 5 1 6 4 4-10 7-1 6 2 4 8 4 6-1 10-10 10 9 6 12 0 10-2 6-11 13-37 17-6-9 6-10-2-8-5-4-10 0-6-12-8-5-10 0-7 3-7 7-5 10-2 19 2 10 5 10 13 11 6 2 17 1 4 3 5 21 7 17 4 6 15 14 142 0 12-12 6-9 0-168-2-6-12-22-11-10-13-6-19-3-11-11zM552 560l8-1 4 4 1 5-3 5-6 2-6-4-1-7zM561 460l6 4 0 5-3 3-5 0-4-5 1-4zM452 433l1 3-4 1-1-1zM20 340l-2 3 1 4 3 2 4-1 2-4-3-4zM364 340l-1-1-1 2zM151 315l-4 0-3 4 2 4 3 1 4-3 0-4zM266 314l-1 4 2 2 3-1 0-4zM113 312l-6-8-10-5-8-2-19 0-18 7-6 7-1 5-10 4-4 6 4 4 5 0 6-7 21 9 24 0 15-6 5-5zM423 294l-3 2-1 5 2 3 5 1 3-2 1-5-2-3zM37 207l-7 5-2 4 0 7 5 7 9 2 9-6 2-9-5-8-4-2zM599 151l-8-2-43-2-8-8-7-2-13 8-43-2-53 6-5 3-1 6-6 5-7-1-6-7-52 7-15 4-15 8-8 1-20-17-14-8-10-3-13 0-8 2-11 6-14 16-8 22 0 23 8 22 14 16 14 7 10 0 36-23 7-8 9-21 7-6 26 6 18 0 21-4 19 0 58 10 33 0 24-3 46-11 37-14zM302 54l-4 2-2 8 3 4 7 1 4-3 1-7-3-4zM240 57l0 5 8 6 13 0 8-6 0-6-11-6-13 2zM180 29l-1 7 4 8 6 5 10 4 14 0 7-2 10-7 4-8-2-11-9-8-9-3-13 0-13 5zM85 18l1 11 5 13 5 4 16 5 14 2 13-2 10-5 9-11 0-9-9-11-21-8-15-1-14 2-10 4zM272 24l4 9 5 4 11 4 14 0 10-3 15-13 7-3 57 10 92 33 31 16 33 23 10 5 14 4 11 0 13-5-1-108-296 0-19 7-8 7z"/><path fill="#9a9a9a" fill-rule="evenodd" d="M2 573l-2 2 0 24 19 0 3-11-2-10-7-6zM230 562l-4 7 2 4 7 1 3-3 0-6-3-3zM71 559l1 5 5 3 6 0 6-4 0-5-5-4-8 0zM51 549l-4 3 0 3 4 5 5 2 0-9zM96 521l0 7 15 10-3 7 2 5 9 1 9 5 8 0 8-4 4-5 1-10-4-7-7-4-11-1-4-8-22 0zM411 483l-4 3-1 7 4 5 6 1 4-2 2-8-4-5zM447 440l-5-1-7 3-2 3 0 6 2 3 10 2 5-3 2-8zM407 433l-3 4 1 6 3 2 6-1 2-3 0-5-3-3zM440 423l-2 4 1 4 5 3 4-1 2-2-1-8zM114 401l0 3 4 5 10 3 12-2 5-5-1-6-9-5-11 0-7 3zM210 403l-9 10-1 14 8 15 4 19 6 14 11 13 10 7 0 11 7 7 9-1 5-6 0-14 14-10 4-1 3 5 0 33 5 27 10 16 6 3 8-2 6-6 5-9 5-19 1-17-4-9 1-12-4-9 0-6 2-3-1-9-6-4-13 3-5-4-9 1-2-2-1-7-18-17-1-9 7-11 1-5-11-12-9-4-9-1-14 3zM242 478l5-1 3 4-1 2-5 2-3-3zM578 380l-5-2-6 1-7 5-13 4-14 11-2 0-10-10-9-1-5 2-5 7-1 9-6 6-3 9-8 7-11 16 0 10 3 8 1 12-3 11-17 21-8 16-12 17-6 5-8 1-5 7 2 8 9 7 6 15 6 7 15 10 120 0-2-16 8-9 8-14 7-27 0-95-4-22-8-17-3-14zM554 558l6 0 6 7-1 6-6 5-6-1-5-6 0-5zM559 460l5 0 4 4-1 6-4 3-3 0-5-4 0-5zM521 354l-10 5-3 6 0 6 6 9 10 2 9-6 2-4 0-7-5-8zM20 341l-1 5 2 2 4 0 2-3-1-4zM42 320l-6 0-4 6 3 3 5 0 3-4zM146 316l-1 5 2 2 4 0 2-3-1-4zM268 314l-3 2 1 3 4-1zM49 312l0 7 3 4 8 5 12 3 15 0 11-3 7-4 5-7 0-4-6-8-16-6-22 1-10 4zM421 296l-1 6 2 2 5 0 2-6-3-3zM36 209l-6 6 0 9 7 6 7 0 7-8-1-8-6-5zM599 157l-18-5-33-3-9-10-8-1-10 8-40-1-60 8-2 5-7 6-5 0-11-6-19 5-33 3-10 3-19 13-5 1-17-17-15-11-12-4-14 0-18 8-12 14-7 17-1 24 5 17 10 15 14 10 14 2 9-4 29-21 7-13 4-13 7-10 5 0 11 6 15 4 14 0 36-6 55 9 40 0 18-2 49-11 35-14 8-5zM301 55l-4 4 0 5 4 4 6 0 3-3 0-6-4-4zM242 57l0 5 7 5 14-1 5-6-3-6-8-3-11 2zM199 16l-9 4-6 6-2 4 0 7 3 6 10 7 9 2 11-1 9-4 6-6 2-5 0-6-3-6-6-5-8-3zM87 20l0 6 5 14 10 7 12 3 18 0 15-7 7-10 0-6-5-8-12-7-12-3-24 1-10 4zM275 21l0 5 3 6 5 4 11 4 15-1 9-4 16-16 9 0 58 11 29 9 59 23 25 13 45 29 14 4 11 0 15-6 0-96-14-6-266 0-30 7-7 4-5 5z"/><path fill="#a3a3a3" fill-rule="evenodd" d="M553 591l0 8 21 0-2-10-6-4-7 0zM4 574l-4 3 0 22 18 0 2-9 0-8-2-4-5-4zM235 563l-7 1-1 6 2 3 3 1 6-4zM74 558l0 4 3 3 6 0 4-4-3-5-7 0zM48 551l1 6 3 3 3 0 0-8-2-2zM425 546l-5 5 0 6 6 5 5 0 5-4 0-7-6-5zM99 520l0 9 11 5 4 5-5 5 0 4 2 2 8-1 8 5 10 0 9-7 0-13-9-7-11-1-3-8-6-1-4 3-10-2zM411 484l-4 5 1 5 3 3 7 0 3-4 0-5-4-4zM292 460l-4 5 3 9-4 6-3 12 0 36 4 16 5 10 8 6 6 0 10-10 7-24-2-32-5-12 0-4 4-5 0-7-3-4-6-1-10 6-5-7zM439 441l-4 3-1 7 4 4 8 0 4-4 0-6-5-4zM409 433l-4 3 0 5 3 3 4 0 3-3 0-5zM442 423l-3 5 6 5 4-3 0-5-2-2zM231 397l-23 9-6 8-1 11 11 19 3 15 5 12 9 11 15 8-4 8 1 10 5 4 7 0 6-6-1-10-5-6 19-15 5-8 3-16-12-13-3-6 0-9 4-8 0-5-8-8-9-4zM244 476l3 0 3 3 0 4-3 3-4 0-3-4 1-4zM117 401l1 5 8 4 8 0 8-5 0-4-7-5-11 0zM519 391l-8 0-6 5 0 10-8 9 0 5 6 7 8-1 4-4 1-9 6-3 3-4 0-9zM578 382l-4-2-6 1-4 5 0 11-10 5-9 9-12 18-9 9-22 11-14 15-15 47-9 15-17 21-5 12 0 10 3 8 9 10 8 5 25 7 22 0 15-3 18-7 12-9-7-9 0-7 6-7 9 0 6 5 3-2 8-23 4-46 6-39-2-27-9-19 4-8 0-7zM559 459l6 1 4 5-1 5-5 4-5-1-4-5 0-4zM520 356l-8 5-2 10 4 6 4 2 8 0 5-4 2-10-5-7zM22 341l-2 5 5 1 1-4zM36 321l-2 2 0 4 5 1 3-5-2-2zM151 316l-5 1 0 4 3 2 3-2zM267 315l-1 3 3 0zM52 313l0 4 4 6 15 6 21-1 9-4 5-6 0-6-5-6-13-5-21 1-9 4zM423 296l-2 2 0 4 5 1 2-5zM38 210l-6 4-1 9 3 4 8 2 6-4 1-9-4-5zM267 155l-16 0-16 8-12 15-6 20 0 20 8 17 13 14 15 6 14-4 24-17 8-14 6-22-1-10-8-13-12-12zM592 166l-5-6-10-4-31-5-4-8-9-5-5 2-8 9-46-1-49 7-13 10-17-2-13 4-35 2-8 2-11 6-4 4-3 7 5 9 16 7 20 0 27-7 10 0 42 8 39 1 34-4 46-12 23-11 7-6zM301 56l-3 3 0 5 2 3 5 1 4-3 1-4-4-5zM244 58l1 5 6 3 8 0 7-6 0-2-6-5-10 0zM185 29l-1 7 3 6 6 5 9 3 14-1 8-4 6-9-2-10-5-5-11-4-14 1-10 6zM90 21l0 9 4 9 8 6 11 3 15 0 7-2 9-5 5-6 1-4-1-5-5-7-16-7-25 0-8 3zM278 21l2 10 13 7 13 0 10-4 8-9 3-8 4-3 81 15 34 11 44 18 19 10 39 26 12 6 10 3 14 0 15-7 0-84-11-6-13-4-12-2-229 0-12 7-23 0-14 5z"/><path fill="#adadad" fill-rule="evenodd" d="M555 593l0 6 18 0-1-7-4-4-8 0zM3 578l-3 5 0 16 17 0 1-13-2-6-6-4zM231 563l-3 3 1 6 4 1 4-3 0-4zM50 551l-1 5 5 3 1-5-2-3zM424 548l-3 4 1 6 3 2 6 0 3-3 0-6-5-4zM102 524l2 5 7 2 5 4 1 5-7 4 0 4 3 2 7-3 7 5 12-1 6-7 0-7-3-5-5-3-14 0-3-2 3-4-2-5-5 1-3 5-4-2-5 0zM248 493l-5 3-2 9 5 6 7 0 5-6 0-5-5-6zM411 485l-2 2 0 6 3 3 7-1 1-7-3-3zM315 462l-5 1-3 3-2 7-8 3-5 5-6 20 0 23 2 11 6 14 8 6 6-1 6-6 7-20 1-17-2-14-7-15 0-3 7-7 0-6zM292 461l-3 5 1 3 3 2 5 0 2-3-1-5-2-2zM438 443l-3 4 1 5 4 3 6-1 3-3 0-5-5-4zM409 434l-3 2 0 5 2 2 4 0 3-4-2-4zM442 424l-2 3 1 3 3 2 3-1 1-6zM568 420l-7 1-6 6-13 37-7 7-17 8-9 8-15 31-10 11-4 1-8 7-13 21-1 8 3 8 7 7 15 6 24 0 21-8 13-11 12-22 4-18 3-37 5-14-6-1-6-5-1-7 5-6 3-1 6 1 6 5 4-10 0-21-2-6zM211 406l-8 10 0 10 5 9 7 7 10 27 11 10 3 0 4-4 5 0 4 5 7-2 9-9 6-15-1-7-10-14-1-7 2-11-2-4-8-5-9-2-10-5-6 0zM123 401l0 3 6 3 5-1 3-3-4-4-7 0zM519 393l-6-1-5 3-2 4 1 9-8 6 0 7 3 3 7 1 5-6-1-7 10-7 0-8zM570 382l-4 4 1 9 4 6 6 0 3-3-1-12-4-4zM519 358l-7 6 0 7 5 6 6 1 7-5 1-9-3-4zM23 342l-2 2 1 2 3-1zM36 324l3 1 0-2zM149 316l-3 2 2 4 4-2zM57 312l0 6 3 4 13 5 17-1 7-3 5-5 0-5-5-6-13-4-15 1-7 3zM423 298l-1 2 3 2 1-4zM37 212l-3 2-2 7 3 5 8 1 3-2 2-7-3-5zM254 159l-16 7-11 13-5 13-3 27 5 5 7 13 7 7 12 6 12 0 19-11 9-9 7-15 3-17-3-13-11-15-14-9-7-2zM574 166l-2-3-8-4-19-4-3-3-2-10-4-3-4 0-4 2-6 11-38-1-22 2-37 7-13 7-10 1-15 6-26-2-17 2-9 4-5 5-1 8 5 6 10 4 16 0 30-11 8 0 45 10 46 0 32-5 25-7 21-10 7-7zM302 57l-3 3 0 4 5 3 4-3 0-5zM247 60l5 4 6 0 5-5-4-4-8 0zM188 28l-1 9 3 5 12 6 14-1 7-4 4-6 0-7-2-4-12-7-11 0-6 2zM93 24l0 5 4 9 13 7 17 0 13-6 4-6 0-7-4-5-9-5-9-2-13 0-12 4zM282 20l-1 5 2 5 11 6 11 0 8-3 6-6 2-6-1-5-4-4-7-2-18 2zM342 6l4 5 7 3 74 14 50 18 33 17 36 26 19 8 16 1 7-2 11-7 0-70-5-4-17-7-37-4-17-4-173 0z"/><path fill="#b9b9b9" fill-rule="evenodd" d="M556 595l0 4 16-1-1-5-5-4-7 1zM11 581l-3-1-5 4-3 8 0 7 16-1-1-12zM231 564l-3 5 3 3 3 0 2-2 0-4zM51 552l-1 4 4 1 0-3zM424 549l-2 7 3 3 5 0 3-3-1-6-4-2zM110 545l2 4 4-1 1-2-2-3zM475 538l-1 8 8 9-2 7 1 4 8 6 13 0 7-3 7-6 6-10 0-8-5-5-6 0-6 4-10 2-3-8-5-4-8 0zM120 534l1 10 5 5 9 1 7-5 1-7-5-6-13-1zM119 519l-2 3 4 1 0-3zM247 495l-3 2-2 8 4 5 7 0 4-5 0-4-5-6zM411 486l-2 4 3 5 5 0 3-4-1-3-4-3zM301 480l-6 4-5 11-2 26 2 12 4 10 4 5 7 2 7-5 5-11 2-9 0-20-6-18-6-6zM315 463l-5 1-3 6 5 6 7-4 0-6zM294 461l-4 3 0 3 3 3 4 0 2-2 0-4zM442 443l-5 3-1 4 2 3 6 1 3-2 1-5zM407 436l-1 3 2 3 4 0 2-2-2-5zM444 424l-3 4 4 3 2-5zM506 410l-5 3-1 7 1 2 7 2 3-2 2-5-1-4-3-3zM211 408l-6 8 0 10 4 7 12 10 6 18 5 7 8 5 13 0 5-3 6-7 4-9 0-8-8-14-2-15-12-6-10-10-9 0zM230 420l3 2-2 3-3-2zM512 394l-4 4 0 6 3 4 6 0 4-3 1-6-3-4zM571 383l-4 4 1 7 4 5 5 0 2-3-1-10-3-3zM517 360l-4 5 0 5 5 6 7 0 5-6 0-5-4-5zM149 317l-2 2 1 2 3-1zM61 313l0 4 3 4 12 4 15-2 7-7-4-7-7-3-15 0-7 3zM39 213l-4 2-1 7 1 2 6 2 4-2 1-7-1-2zM335 190l6 6 15 2 17-7 3-4 0-4-13-6-14 0-10 4-4 5zM264 163l-16 2-6 3-10 10-6 13-2 18-4 4 0 6 8 5 10 15 12 7 6 1 14-4 17-14 6-12 3-17-3-14-5-8-11-10zM557 167l-4-4-15-6 3-8-1-6-4-3-5 0-4 4 0 10-2 2-43-1-41 6-17 5-10 5-6 5-1 4 4 5 8 4 19 5 17 2 34-1 25-4 24-7 15-8 4-5zM301 59l-1 4 2 2 4 0 1-5-3-2zM190 30l-1 5 3 6 9 5 15-1 4-2 5-7-2-9-10-6-12 0-6 3zM97 25l2 10 4 4 7 3 19-1 10-9 0-5-4-5-13-5-17 1zM285 21l0 6 5 5 6 2 11-1 9-8-1-8-7-4-11 0-6 2zM356 6l1 3 8 4 68 12 45 15 23 11 35 25 10 11 28 7 8-1 12-6 5-6 0-56-6-5-16-7-42-4-34-9-136 0z"/><path fill="#c7c7c7" fill-rule="evenodd" d="M559 592l-1 7 12 0 0-5-3-3-4-1zM6 587l-4 4-1 7 13 1 1-4-2-6zM231 565l-2 3 1 2 5 0 0-4zM425 550l-2 5 1 2 5 1 3-5-2-3zM113 544l-1 3 3 0zM512 543l-3 3 0 5 6 3 4-3 1-4-3-4zM478 537l-2 3 1 6 3 3 6 0 4-5-1-5-3-3zM127 535l-3 4 1 4 5 4 6-1 3-4 0-4-5-4zM245 498l-2 4 1 4 3 3 5 0 4-5-2-6zM301 487l-4 3-4 8-2 25 7 18 3 2 5 0 6-6 3-8 1-23-5-14-4-4zM413 486l-2 2 0 5 6 1 2-4-2-3zM313 464l-3 2-1 5 1 2 5 1 3-3-1-6zM293 462l-2 5 2 2 4 0 1-5zM440 445l-2 2 0 4 4 2 3-1 1-5-2-2zM409 436l-2 2 1 3 4 0 1-3zM443 426l0 3 2 0 1-2zM504 412l-3 3 0 4 2 3 6 0 2-2 0-5-2-3zM212 410l-5 6 0 9 2 4 5 5 14 5 4 5 4 12 4 4 7 2 8-4 4-7 0-9-6-14-12-7-1-14-6-5-5 0zM229 419l3 0 3 3-3 4-5-2zM513 396l-3 3 1 6 5 1 3-2 1-5-3-3zM570 385l-1 8 3 4 4 0 2-3-1-7-4-3zM519 361l-4 3-1 4 4 6 5 1 5-4 1-4-3-5zM68 315l3 4 5 2 10-1 4-3-1-5-9-3-9 2zM38 216l-2 5 2 2 4 0 2-5-2-2zM345 188l2 3 8 1 5-2 1-4-2-2-7-1-5 2zM263 168l-14 2-12 9-7 14-1 17-2 2-4 0-3 4 3 4 7-1 7 12 5 5 14 6 11-2 11-7 6-7 7-19 0-11-6-14-9-9zM533 169l-5-4-19-4-38 1-30 7-10 7 0 4 7 5 11 3 33 1 21-3 17-5 10-5zM531 141l-3 3 0 6 3 3 5 0 3-3 0-6-3-3zM194 28l-2 7 4 6 6 3 13-1 7-7-1-7-9-6-10 0zM104 26l1 7 9 5 11-1 6-5-1-6-7-4-14 0zM290 23l1 4 5 3 8 0 7-6-1-4-4-3-12 1zM374 6l3 4 9 3 70 11 43 15 18 11 24 24 3 9 5 4 13-1 5 2 12 0 9-4 11-13 0-38-6-6-15-8-9-2-42-1-54-16-85 0-8 2z"/><path fill="#d6d6d6" fill-rule="evenodd" d="M559 596l1 3 9-1-3-6-4 0zM5 591l-2 7 9 1 0-7-3-2zM425 552l1 4 4-1-2-4zM513 544l-3 5 2 3 4 0 2-2 0-4zM483 537l-5 4 0 3 3 3 6-2 0-5zM249 498l-4 3 0 4 5 3 4-3 0-4zM301 497l-6 11-2 10 5 12 7 4 7-10 1-11-5-14-2-2zM413 488l-1 4 4 1 1-4zM311 467l0 4 4 1 2-3-1-2zM293 463l-1 4 4 1 1-4zM411 438l-2 1 1 1zM504 414l-2 3 1 3 6 0 1-4-2-2zM234 404l-6 0-16 10-2 3 0 8 4 5 4 2 7 0 4-3-3-3-1-5 3-3 7 0 3-4 0-6zM516 400l-2 0 0 2zM572 387l-2 4 2 3 3 0 1-5zM522 362l-6 5 1 4 3 2 5-1 2-3 0-3zM222 214l0 4 4 1 1-5zM255 175l-9 4-7 8-4 9-1 12 6 17 6 6 9 4 7 0 13-7 6-8 4-12 0-11-4-10-6-7-10-5zM532 142l-3 3 0 3 3 3 5-1 1-5-1-2zM196 33l1 4 6 4 9 0 6-5 0-5-6-5-9 0-4 2zM584 29l-15-5-12 0-13 3-9 6 0 15 3 10 8 12-2 5 2 9 7 2 9-6 6 2 10-1 6-3 7-7 6-13 0-13-4-8zM405 6l0 2 4 2 18 3 27 2 17-2-4-4-20-5-27-1z"/><path fill="#e6e6e6" fill-rule="evenodd" d="M563 594l-2 3 1 2 4 0 0-4zM6 594l0 3 3 1 1-3zM512 546l-1 3 5 2 1-4-2-2zM482 540l-1 4 3 0 1-3zM301 508l-5 4-1 7 4 6 6 1 4-3 2-7-4-7zM248 501l0 4 3 0 1-3zM293 464l0 3 3 0 0-3zM507 416l-2 0 1 3zM233 406l-7 1-11 11-1 6 3 3 5 1 2-2 0-6 11-6 1-5zM520 365l-1 4 3 2 2-5zM223 215l1 3 2-2zM257 184l-8 4-4 5-3 15 2 7 7 8 4 2 7 0 5-2 8-9 2-6 0-10-7-11-7-3zM532 144l-1 4 4 1 1-4zM554 71l-5 1-4 5 1 5 4 3 5-1 3-4 0-6zM566 31l-10 4-5 5-1 17 3 7 6 7 8 3 6 0 7-3 6-7 3-7 0-10-2-5-7-7-5-3zM203 34l2 2 4 0 2-3-2-2-4 0z"/><path fill="#f5f5f5" fill-rule="evenodd" d="M513 547l2 3 1-2zM300 511l-3 3 0 6 3 3 6 0 3-5-1-5-2-2zM233 411l-5-2-3 4 1 2 3 0zM549 74l-3 6 2 3 5 1 3-3 0-5-2-2zM569 34l-4 1-4 4-1 6 5 10 7 4 5-5 2-11-4-7z"/><path fill="#ffffff" fill-rule="evenodd" d="M300 513l-2 4 1 3 4 2 4-3 0-4-2-2zM548 76l0 6 5 1 2-2 0-4-2-2zM566 37l-3 4 1 6 3 2 7-1 2-3-1-6-3-2z"/></g></g>
<filter id="fSEI" filterUnits="userSpaceOnUse" x="0" y="0" width="300" height="300" color-interpolation-filters="sRGB"><feGaussianBlur in="SourceGraphic" stdDeviation="0.8" result="b"/><feTurbulence type="fractalNoise" baseFrequency="0.3" numOctaves="2" seed="2" result="n"/><feColorMatrix in="n" type="matrix" values="1 0 0 0 0 1 0 0 0 0 1 0 0 0 0 0 0 0 0 1" result="n1"/><feTurbulence type="fractalNoise" baseFrequency="0.06" numOctaves="3" seed="7" result="m"/><feColorMatrix in="m" type="matrix" values="1 0 0 0 0 1 0 0 0 0 1 0 0 0 0 0 0 0 0 1" result="m1"/><feComposite in="b" in2="n1" operator="arithmetic" k1="0" k2="1" k3="0.09" k4="-0.045" result="c"/><feComposite in="c" in2="m1" operator="arithmetic" k1="0" k2="1" k3="0.06" k4="-0.03" result="c2"/><feComponentTransfer in="c2"><feFuncR type="table" tableValues="0 0 0 0 0 0 0 0 0 0 0 0 0 0 0 0 0 0 0 0 0 0 0 0 0 0 0 0 0 0 0 0 0 0 0 0 0 0 0 0 0 0 0 0 0 0 0 0 0 0 0 0 0 0 0 0 0 0 0 0 0 0 0 0 0.004 0.02 0.035 0.051 0.067 0.082 0.098 0.114 0.129 0.145 0.161 0.176 0.192 0.208 0.224 0.239 0.255 0.271 0.286 0.302 0.318 0.333 0.349 0.365 0.38 0.396 0.412 0.427 0.443 0.459 0.475 0.49 0.506 0.522 0.537 0.553 0.569 0.584 0.6 0.616 0.631 0.647 0.663 0.678 0.694 0.71 0.725 0.741 0.757 0.773 0.788 0.804 0.82 0.835 0.851 0.867 0.882 0.898 0.914 0.929 0.945 0.961 0.976 0.992 1 1 1 1 1 1 1 1 1 1 1 1 1 1 1 1 1 1 1 1 1 1 1 1 1 1 1 1 1 1 1 1 1 1 1 1 1 1 1 1 1 1 1 1 1 1 1 1 1 1 1 1 1 1 1 1 1 1 1 1 1 1 1 1 0.994 0.986 0.978 0.971 0.963 0.955 0.947 0.939 0.931 0.924 0.916 0.908 0.9 0.892 0.884 0.876 0.869 0.861 0.853 0.845 0.837 0.829 0.822 0.814 0.806 0.798 0.79 0.782 0.775 0.767 0.759 0.751 0.743 0.735 0.727 0.72 0.712 0.704 0.696 0.688 0.68 0.673 0.665 0.657 0.649 0.641 0.633 0.625 0.618 0.61 0.602 0.594 0.586 0.578 0.571 0.563 0.555 0.547 0.539 0.531 0.524 0.516 0.508 0.5"/><feFuncG type="table" tableValues="0 0 0 0 0 0 0 0 0 0 0 0 0 0 0 0 0 0 0 0 0 0 0 0 0 0 0 0 0 0 0 0 0 0 0 0 0 0 0 0 0 0 0 0 0 0 0 0 0 0 0 0 0 0 0 0 0 0 0 0 0 0 0 0 0.004 0.02 0.035 0.051 0.067 0.082 0.098 0.114 0.129 0.145 0.161 0.176 0.192 0.208 0.224 0.239 0.255 0.271 0.286 0.302 0.318 0.333 0.349 0.365 0.38 0.396 0.412 0.427 0.443 0.459 0.475 0.49 0.506 0.522 0.537 0.553 0.569 0.584 0.6 0.616 0.631 0.647 0.663 0.678 0.694 0.71 0.725 0.741 0.757 0.773 0.788 0.804 0.82 0.835 0.851 0.867 0.882 0.898 0.914 0.929 0.945 0.961 0.976 0.992 0.992 0.976 0.961 0.945 0.929 0.914 0.898 0.882 0.867 0.851 0.835 0.82 0.804 0.788 0.773 0.757 0.741 0.725 0.71 0.694 0.678 0.663 0.647 0.631 0.616 0.6 0.584 0.569 0.553 0.537 0.522 0.506 0.49 0.475 0.459 0.443 0.427 0.412 0.396 0.38 0.365 0.349 0.333 0.318 0.302 0.286 0.271 0.255 0.239 0.224 0.208 0.192 0.176 0.161 0.145 0.129 0.114 0.098 0.082 0.067 0.051 0.035 0.02 0.004 0 0 0 0 0 0 0 0 0 0 0 0 0 0 0 0 0 0 0 0 0 0 0 0 0 0 0 0 0 0 0 0 0 0 0 0 0 0 0 0 0 0 0 0 0 0 0 0 0 0 0 0 0 0 0 0 0 0 0 0 0 0 0 0"/><feFuncB type="table" tableValues="0.3 0.311 0.322 0.333 0.344 0.355 0.366 0.377 0.388 0.399 0.41 0.421 0.432 0.443 0.454 0.465 0.476 0.487 0.498 0.509 0.52 0.531 0.542 0.553 0.564 0.575 0.585 0.596 0.607 0.618 0.629 0.64 0.651 0.662 0.673 0.684 0.695 0.706 0.717 0.728 0.739 0.75 0.761 0.772 0.783 0.794 0.805 0.816 0.827 0.838 0.849 0.86 0.871 0.882 0.893 0.904 0.915 0.926 0.937 0.948 0.959 0.97 0.981 0.992 1 1 1 1 1 1 1 1 1 1 1 1 1 1 1 1 1 1 1 1 1 1 1 1 1 1 1 1 1 1 1 1 1 1 1 1 1 1 1 1 1 1 1 1 1 1 1 1 1 1 1 1 1 1 1 1 1 1 1 1 1 1 1 1 0.992 0.976 0.961 0.945 0.929 0.914 0.898 0.882 0.867 0.851 0.835 0.82 0.804 0.788 0.773 0.757 0.741 0.725 0.71 0.694 0.678 0.663 0.647 0.631 0.616 0.6 0.584 0.569 0.553 0.537 0.522 0.506 0.49 0.475 0.459 0.443 0.427 0.412 0.396 0.38 0.365 0.349 0.333 0.318 0.302 0.286 0.271 0.255 0.239 0.224 0.208 0.192 0.176 0.161 0.145 0.129 0.114 0.098 0.082 0.067 0.051 0.035 0.02 0.004 0 0 0 0 0 0 0 0 0 0 0 0 0 0 0 0 0 0 0 0 0 0 0 0 0 0 0 0 0 0 0 0 0 0 0 0 0 0 0 0 0 0 0 0 0 0 0 0 0 0 0 0 0 0 0 0 0 0 0 0 0 0 0 0"/></feComponentTransfer></filter>
<filter id="fSH" filterUnits="userSpaceOnUse" x="0" y="0" width="300" height="300" color-interpolation-filters="sRGB"><feGaussianBlur in="SourceGraphic" stdDeviation="1.8" result="b"/><feTurbulence type="fractalNoise" baseFrequency="0.22" numOctaves="2" seed="2" result="n"/><feColorMatrix in="n" type="matrix" values="1 0 0 0 0 1 0 0 0 0 1 0 0 0 0 0 0 0 0 1" result="n1"/><feTurbulence type="fractalNoise" baseFrequency="0.06" numOctaves="3" seed="7" result="m"/><feColorMatrix in="m" type="matrix" values="1 0 0 0 0 1 0 0 0 0 1 0 0 0 0 0 0 0 0 1" result="m1"/><feComposite in="b" in2="n1" operator="arithmetic" k1="0" k2="1" k3="0.025" k4="-0.0125" result="c"/><feComposite in="c" in2="m1" operator="arithmetic" k1="0" k2="1" k3="0.02" k4="-0.01" result="c2"/><feComponentTransfer in="c2"><feFuncR type="table" tableValues="0 0 0 0 0 0 0 0 0 0 0 0 0 0 0 0 0 0 0 0 0 0 0 0 0 0 0 0 0 0 0 0 0 0 0 0 0 0 0 0 0 0 0 0 0 0 0 0 0 0 0 0 0 0 0 0 0 0 0 0 0 0 0 0 0.004 0.02 0.035 0.051 0.067 0.082 0.098 0.114 0.129 0.145 0.161 0.176 0.192 0.208 0.224 0.239 0.255 0.271 0.286 0.302 0.318 0.333 0.349 0.365 0.38 0.396 0.412 0.427 0.443 0.459 0.475 0.49 0.506 0.522 0.537 0.553 0.569 0.584 0.6 0.616 0.631 0.647 0.663 0.678 0.694 0.71 0.725 0.741 0.757 0.773 0.788 0.804 0.82 0.835 0.851 0.867 0.882 0.898 0.914 0.929 0.945 0.961 0.976 0.992 1 1 1 1 1 1 1 1 1 1 1 1 1 1 1 1 1 1 1 1 1 1 1 1 1 1 1 1 1 1 1 1 1 1 1 1 1 1 1 1 1 1 1 1 1 1 1 1 1 1 1 1 1 1 1 1 1 1 1 1 1 1 1 1 0.994 0.986 0.978 0.971 0.963 0.955 0.947 0.939 0.931 0.924 0.916 0.908 0.9 0.892 0.884 0.876 0.869 0.861 0.853 0.845 0.837 0.829 0.822 0.814 0.806 0.798 0.79 0.782 0.775 0.767 0.759 0.751 0.743 0.735 0.727 0.72 0.712 0.704 0.696 0.688 0.68 0.673 0.665 0.657 0.649 0.641 0.633 0.625 0.618 0.61 0.602 0.594 0.586 0.578 0.571 0.563 0.555 0.547 0.539 0.531 0.524 0.516 0.508 0.5"/><feFuncG type="table" tableValues="0 0 0 0 0 0 0 0 0 0 0 0 0 0 0 0 0 0 0 0 0 0 0 0 0 0 0 0 0 0 0 0 0 0 0 0 0 0 0 0 0 0 0 0 0 0 0 0 0 0 0 0 0 0 0 0 0 0 0 0 0 0 0 0 0.004 0.02 0.035 0.051 0.067 0.082 0.098 0.114 0.129 0.145 0.161 0.176 0.192 0.208 0.224 0.239 0.255 0.271 0.286 0.302 0.318 0.333 0.349 0.365 0.38 0.396 0.412 0.427 0.443 0.459 0.475 0.49 0.506 0.522 0.537 0.553 0.569 0.584 0.6 0.616 0.631 0.647 0.663 0.678 0.694 0.71 0.725 0.741 0.757 0.773 0.788 0.804 0.82 0.835 0.851 0.867 0.882 0.898 0.914 0.929 0.945 0.961 0.976 0.992 0.992 0.976 0.961 0.945 0.929 0.914 0.898 0.882 0.867 0.851 0.835 0.82 0.804 0.788 0.773 0.757 0.741 0.725 0.71 0.694 0.678 0.663 0.647 0.631 0.616 0.6 0.584 0.569 0.553 0.537 0.522 0.506 0.49 0.475 0.459 0.443 0.427 0.412 0.396 0.38 0.365 0.349 0.333 0.318 0.302 0.286 0.271 0.255 0.239 0.224 0.208 0.192 0.176 0.161 0.145 0.129 0.114 0.098 0.082 0.067 0.051 0.035 0.02 0.004 0 0 0 0 0 0 0 0 0 0 0 0 0 0 0 0 0 0 0 0 0 0 0 0 0 0 0 0 0 0 0 0 0 0 0 0 0 0 0 0 0 0 0 0 0 0 0 0 0 0 0 0 0 0 0 0 0 0 0 0 0 0 0 0"/><feFuncB type="table" tableValues="0.3 0.311 0.322 0.333 0.344 0.355 0.366 0.377 0.388 0.399 0.41 0.421 0.432 0.443 0.454 0.465 0.476 0.487 0.498 0.509 0.52 0.531 0.542 0.553 0.564 0.575 0.585 0.596 0.607 0.618 0.629 0.64 0.651 0.662 0.673 0.684 0.695 0.706 0.717 0.728 0.739 0.75 0.761 0.772 0.783 0.794 0.805 0.816 0.827 0.838 0.849 0.86 0.871 0.882 0.893 0.904 0.915 0.926 0.937 0.948 0.959 0.97 0.981 0.992 1 1 1 1 1 1 1 1 1 1 1 1 1 1 1 1 1 1 1 1 1 1 1 1 1 1 1 1 1 1 1 1 1 1 1 1 1 1 1 1 1 1 1 1 1 1 1 1 1 1 1 1 1 1 1 1 1 1 1 1 1 1 1 1 0.992 0.976 0.961 0.945 0.929 0.914 0.898 0.882 0.867 0.851 0.835 0.82 0.804 0.788 0.773 0.757 0.741 0.725 0.71 0.694 0.678 0.663 0.647 0.631 0.616 0.6 0.584 0.569 0.553 0.537 0.522 0.506 0.49 0.475 0.459 0.443 0.427 0.412 0.396 0.38 0.365 0.349 0.333 0.318 0.302 0.286 0.271 0.255 0.239 0.224 0.208 0.192 0.176 0.161 0.145 0.129 0.114 0.098 0.082 0.067 0.051 0.035 0.02 0.004 0 0 0 0 0 0 0 0 0 0 0 0 0 0 0 0 0 0 0 0 0 0 0 0 0 0 0 0 0 0 0 0 0 0 0 0 0 0 0 0 0 0 0 0 0 0 0 0 0 0 0 0 0 0 0 0 0 0 0 0 0 0 0 0"/></feComponentTransfer></filter>
<g id="sL0"><g transform="translate(0.25 0.25) scale(0.5)"><rect x="-4" y="-4" width="608" height="608" fill="#808080"/><path fill="#7c7c7c" fill-rule="evenodd" d="M514 418l-6-6-13-3-22 4-15 8-9 9-3 7 0 6 6 7 8 3 15 0 14-4 10-5 10-8 5-8zM432 118l0 7 7 8 13 7 14 4 29 1 13-5 3-4-1-8-7-7-11-6-17-5-24-1-9 2zM191 94l-26 9-22 13-23 21-21 30-15 37-6 30-1 40 5 34 12 37 18 34 21 27 23 21 23 15 35 14 23 4 26 0 14-2 4-2 4-19 8-10 9-2 11 4 8-21-5 1-5-2-4-7 1-3 5-5 6 0 6 5 6-16 7-31 4-34 1-34-1-28-3-22-4-14-15-31-15-57-3-4-11-3-5-4-3-5-2-10-24-9-23-4-25 0zM289 408l5-4 11 0 5 4 1 6-4 5-9 2-9-6zM227 400l10-2 8 3 5 7-2 8-5 4-7 2-10-3-5-7 0-5zM204 394l4-5 10-2 7 4 2 6-2 4-5 3-9 0-6-5zM248 384l8 1 4 7-1 3-6 5-6-1-4-6 1-5zM277 373l4 0 5 4 0 5-5 5-5-1-4-6zM175 378l2-4 7-5 10 0 8 6 1 7-7 8-10 1-5-2-5-5zM275 199l10 0 12 6 7 8 5 13 0 17-5 12-8 9-10 5-11 0-9-4-9-9-6-16 0-12 5-14 10-11zM263 116l5 0 6 5 0 8-5 5-6 0-6-5 0-7zM230 103l11 0 8 6 2 7-4 7-8 4-7 0-5-2-5-5-1-9z"/><path fill="#797979" fill-rule="evenodd" d="M492 428l-3-4-4-1-9 2-7 6 0 5 4 2 12-2zM189 141l-24 13-21 20-12 18-9 20-7 28-1 37 4 25 5 17 13 28 12 18 20 21 16 12 19 10 12 4 3-6-12-2-4-4-1-4 4-7 11-3 6 2 4 4 1 6 10-1 8 3 6 8 0 10 36 1-1-9 4-5 4-2 12 1 0-6 5-6 12 0 10-33 5-35 0-41-3-26-5-18-12-24-19-46-16-17-20-10-29-7-20 0zM249 383l8 2 3 4 0 6-7 6-6-1-4-5 0-6zM277 373l5 0 4 4 1 4-5 6-5 0-5-5 1-6zM175 374l9-6 10 0 9 7 1 9-9 8-15 0-7-8zM274 198l13 0 12 7 9 13 3 14-2 14-7 13-8 7-12 4-9-1-9-5-6-6-5-9-3-14 1-10 4-11 7-9z"/><path fill="#767676" fill-rule="evenodd" d="M200 174l-18 10-14 13-11 16-8 19-4 19 0 30 4 20 5 14 8 16 14 19 14 13 11 5 8 7 31 13 9-6 4 0 7 5 3 9 23 6 19-1 4-8 12-4 9-23 6-33 0-36-2-13-7-23-11-22-3-2-5 15-13 14-9 4-11 0-9-4-7-6-7-12-2-7 1-19 4-10 7-9 11-7 13-3-17-13-24-9-22-2zM279 372l4 1 4 5-1 6-5 4-6-1-4-6 1-4z"/><path fill="#717171" fill-rule="evenodd" d="M205 209l-17 15-9 16-4 14-1 23 2 12 6 18 6 11 11 15 14 14 23 18 19 12 15 7 1-7 5-5 6 0 6 7-1 6-3 4 18 3 12-4 6-6 9-22 5-37-4-30-13-27-7-10-13 10-13 5-14-2-9-6-7-9-5-14 0-17 4-17-10-3-15-1-11 2z"/><path fill="#6c6c6c" fill-rule="evenodd" d="M223 236l-14 14-6 19 2 25 13 29 14 19 15 15 21 15 4 1 10-2 10 10 15 0 7-3 6-6 4-8 6-27 0-17-3-15-11-23-13-16-14 5-11 1-10-3-6-4-10-12-7-21-11 0z"/><path fill="#656565" fill-rule="evenodd" d="M238 254l-10 9-4 8-2 10 2 20 4 12 9 17 9 12 13 13 11 8 23 9 10 0 9-3 8-9 5-16-1-27-11-25-17-20-24 0-11-6-13-14z"/><path fill="#5c5c5c" fill-rule="evenodd" d="M245 270l-8 12-1 18 4 15 12 21 16 16 14 8 17 3 11-4 8-12 1-23-3-11-11-20-12-13-6-4-15-2-17-8z"/><path fill="#525252" fill-rule="evenodd" d="M254 284l-5 9 0 15 3 10 9 15 11 11 13 7 12 1 7-3 5-6 2-6 0-12-4-13-7-12-13-13-15-7-11 0z"/><path fill="#464646" fill-rule="evenodd" d="M263 295l-3 5 0 13 8 16 7 7 9 5 7 1 6-2 5-8 0-10-8-17-7-7-12-6-6 0z"/><path fill="#383838" fill-rule="evenodd" d="M277 312l-1 4 3 6 7 2 1-7-2-3-5-3z"/><path fill="#838383" fill-rule="evenodd" d="M138 571l-6 4-1 6 4 6 6 1 6-4 1-6-4-6zM278 541l-5 3-2 7 4 6 6 1 6-4 1-6-3-5zM81 538l-7 5-2 9 5 7 9 2 7-5 2-9-5-7zM108 535l-6 4-1 6 4 6 6 1 6-4 1-6-4-6zM0 490l1 20 9 1 8-2 10 4 10 0 11 6 10-1 3 14 8 6 6-1 5-5 2-6-2-11-5-5-8 0-3-7-5-5-12-2-13-6-12 2-13-4zM196 482l-4 4 0 7 4 4 7 0 4-4 0-7-4-4zM175 450l-8 5-2 5 0 8 6 8 7 1 7-7 1-10-5-8zM300 429l-9 5-4 10 0 13 2 6 8 8 9-2 3-3 4-10-1-15-3-6zM327 415l-5 5 0 7 3 4 6 2 7-4 2-7-4-6zM290 411l1 4 4 3 9 0 5-5-1-4-6-4-8 1zM228 402l-4 5 0 6 5 5 10 1 7-5 1-7-3-4-8-3zM312 394l-3 4 2 7 8 1 4-5-2-6-4-2zM206 395l1 4 5 3 7 0 4-2 2-4-6-7-7 0zM250 385l-4 3-1 6 4 4 5 0 3-3 1-5-3-4zM275 376l-1 6 3 3 5 0 3-4-1-4-2-2zM179 375l0 9 8 5 8-1 6-7-1-5-6-5-9 0zM277 201l-12 5-7 8-5 13 0 15 4 11 6 8 8 5 10 2 12-4 9-9 5-13 0-15-5-13-6-7-9-5zM263 119l-3 3-1 5 3 4 5 1 4-3 1-6-4-4zM226 110l-2 5 1 4 7 5 10-1 4-4 1-5-2-4-5-3-9 0zM288 109l1 7 9 5 8-1 6-6-1-7-8-5-7 0zM336 100l-3 5-2 12 1 31 4 18 11 33 5 33-1 70-10 85 0 21 5 14 7 8 0 8 3 5 10 3 6-3 13 1 7-2 49-35 39-16 31-6 39-2 12-5 11-13 6-13 7-24 5-36 0-25-5-36-7-23-8-14-12-10-13-5-93-14-80-24-14-9-16-29-5-4zM323 87l-6 4-1 7 4 5 7 1 6-4 0-7-4-5zM194 34l1 5 9 6 14-1 7-7-3-8-11-4-8 1-6 3zM481 17l1 7 10 7 15 3 15-1 11 7 8 1 8-2 7-7 0-5-4-5-14-5-6-6-9-4-27 0-8 3z"/><path fill="#868686" fill-rule="evenodd" d="M137 572l-4 3-1 7 3 4 7 1 4-3 1-7-3-4zM277 542l-4 3-1 7 3 4 7 1 4-3 1-7-3-4zM82 539l-7 4-2 8 4 7 8 2 7-4 2-8-4-7zM107 536l-4 3-1 7 3 4 7 1 4-3 1-7-3-4zM0 491l0 17 5 2 14-2 10 4 7-1 13 7 5 0 7-3 0 11 3 7 4 3 7 0 4-3 3-7 0-5-3-7-4-3-9 1-2-2 0-6-3-4-7-3-7 0-13-6-14 3-10-5zM199 482l-6 4-1 5 4 5 5 1 5-4 1-5-4-5zM175 451l-5 2-3 4-1 11 4 6 7 2 6-4 2-12-3-6zM297 431l-8 9-1 17 3 7 4 4 8 1 7-8 2-15-5-12-4-3zM358 429l-2 3 0 7 4 4 7 0 3-2 2-5-2-6-6-3zM327 416l-5 6 1 6 4 3 6 0 4-4 0-7-4-4zM292 408l-1 6 3 3 8 1 6-4 0-4-4-4-6-1zM225 406l0 7 6 5 9 0 6-5-1-8-6-4-7 0zM313 394l-3 3 0 6 4 3 6-1 2-3 0-5-3-3zM209 391l-2 7 3 3 8 1 6-5-1-5-3-2-6-1zM247 387l-2 4 1 4 5 3 4-1 2-2 0-6-3-3zM277 375l-3 4 1 4 3 2 5-1 1-7-2-2zM182 373l-3 4 0 6 4 4 10 1 6-4 1-7-5-5-8-1zM275 202l-9 4-8 9-4 10-1 15 5 14 7 8 10 5 10 0 9-4 8-9 4-10 1-13-2-9-9-14-8-5zM428 197l-14 4-13 8-11 11-8 12-9 28-1 35 3 15 8 19 6 9 13 13 22 11 18 2 12-2 15-6 9-6 12-12 12-21 4-12 3-18 0-15-2-14-5-16-10-18-11-12-10-7-15-6-9-2zM263 120l-3 3 0 5 3 3 5 0 3-3 0-5-3-3zM226 112l0 7 6 4 10-1 4-6-1-4-8-5-6 1zM290 107l0 8 7 5 10-2 4-6-1-4-7-5-7 0zM319 90l-2 3 1 7 3 2 6 0 4-5-1-5-3-3zM196 33l1 6 7 5 11 0 8-7 0-4-8-6-11 0zM485 18l1 5 8 6 6 2 22-1 8 7 6 2 11-1 7-7-1-5-4-4-13-3-9-8-9-3-21 1-7 3z"/><path fill="#898989" fill-rule="evenodd" d="M136 573l-3 3 0 7 3 3 7 0 3-3 0-7-3-3zM275 544l-2 2 0 7 3 3 7 0 3-3 0-7-4-3zM81 540l-6 5-1 7 5 6 7 1 6-5 1-7-5-6zM106 537l-3 3 0 7 3 3 7 0 3-3 0-7-3-3zM68 512l-5 5-1 9 6 9 7 0 5-6 1-8-6-9zM0 492l0 15 5 2 15-2 8 4 11 0 10 6 8-1 6-5 0-7-4-4-5-2-8 0-7-5-11-1-8 3-10-5zM197 483l-4 4 0 5 4 4 5 0 4-4 0-5-4-4zM175 452l-7 5-1 11 3 5 7 2 4-2 3-5 0-9-5-6zM297 432l-4 3-4 8 0 14 2 5 5 5 5 1 6-4 3-6 1-12-4-10-5-4zM362 428l-5 4-1 4 4 6 4 1 6-4 1-5-4-5zM325 418l-2 3 1 7 2 2 7 0 4-6-1-4-3-3zM292 409l0 5 7 4 5-1 4-5-5-6-7 0zM226 406l0 7 7 5 8-1 5-6-1-5-5-4-9 0zM312 395l-2 7 3 3 6 0 3-4-1-4-3-3zM207 396l5 5 7 0 4-3 0-5-4-3-7 0zM250 386l-4 3 0 5 3 3 5 0 3-3 0-4-2-3zM281 375l-6 2 0 5 4 3 5-3 0-4zM180 376l-1 5 6 6 9 0 5-4-1-8-5-3-8 0zM274 203l-8 4-8 9-4 11 0 15 4 11 9 10 15 4 11-4 9-10 4-12 0-13-5-13-6-7-10-5zM267 120l-4 1-3 4 5 6 6-5-1-4zM229 110l-2 3 0 5 4 4 9 0 3-2 1-7-2-3-5-2zM291 108l0 7 6 4 8-1 4-4-1-7-5-3-7 0zM323 89l-4 2-1 7 6 4 5-3 1-5-3-4zM198 33l0 5 7 5 9 0 7-5-1-7-5-3-11 0zM488 18l1 5 7 5 8 2 20-1 7 7 6 2 9-1 6-5 0-5-4-4-13-2-7-7-8-4-21 0-7 3z"/><path fill="#8e8e8e" fill-rule="evenodd" d="M138 573l-4 3-1 5 3 4 5 1 4-3 1-5-3-4zM278 543l-4 3-1 5 3 4 5 1 4-3 1-5-3-4zM81 541l-5 4-1 7 4 5 7 1 5-4 1-7-4-5zM108 537l-4 3-1 5 3 4 5 1 4-3 1-5-3-4zM68 513l-4 4-1 10 5 7 7 0 4-4 1-10-5-7zM0 493l0 13 4 2 16-2 7 4 12 0 9 6 10-1 4-4 0-7-4-4-11-1-11-6-9 0-7 3-9-5-7 0zM195 485l-2 4 1 4 5 3 4-1 2-2-1-8zM174 453l-5 4-2 8 5 8 5 1 5-4 2-8-5-8zM299 433l-7 5-3 13 4 12 4 3 5 0 6-6 2-14-3-8-4-4zM361 429l-3 3-1 5 3 4 5 1 4-3 1-6-4-4zM328 417l-4 3-1 4 3 5 5 1 4-3 1-5-3-4zM292 410l0 3 5 4 5 0 5-4 0-3-6-4-6 1zM230 403l-4 5 0 4 4 4 9 1 5-4 1-5-3-4-4-2zM315 394l-5 6 2 4 6 1 3-3 0-4-2-3zM208 394l0 3 5 4 5 0 5-4 0-3-6-4-4 0zM251 386l-4 3-1 4 2 3 5 1 4-6zM277 376l-2 5 1 2 5 1 3-5-2-3zM183 374l-3 7 4 5 8 1 6-4 1-4-3-5-5-2zM274 204l-8 4-7 8-4 10-1 12 6 17 7 7 6 3 10 1 10-4 7-7 5-12 0-16-5-12-8-8-7-3zM264 121l-3 3 0 3 3 3 3 0 3-3 0-3-3-3zM228 113l0 4 4 4 7 0 4-3 0-5-3-3-6-1zM293 107l-2 5 6 6 5 0 6-5-3-7-8-1zM323 90l-5 6 3 4 4 1 3-2 1-5-2-3zM199 34l1 5 5 3 9 0 6-5-1-5-5-3-9 0zM491 18l1 5 6 4 13 2 13-3 8 9 6 2 7-1 5-4 0-5-3-3-6-2-10 0-5-7-9-4-16 0-7 3z"/><path fill="#939393" fill-rule="evenodd" d="M137 574l-3 3 0 5 3 3 5 0 3-3 0-5-3-3zM277 544l-3 3 0 5 3 3 5 0 3-3 0-5-3-3zM80 542l-4 4 0 7 4 4 7 0 4-4 0-7-4-4zM107 538l-3 3 0 5 3 3 5 0 3-3 0-5-3-3zM69 514l-4 3-1 10 3 5 7 1 5-6 0-7-3-5zM0 494l0 11 4 2 8 0 6-3 9 5 13 0 8 6 7 0 6-5 0-5-2-3-4-2-9 0-10-6-9 0-6 3-10-5-7 0zM198 484l-3 2-1 5 2 3 5 1 3-2 1-5-2-3zM175 454l-5 3-2 9 4 6 5 1 4-3 2-8-2-5zM298 435l-5 4-3 11 4 12 3 2 5 0 6-7 1-10-3-8-4-4zM361 430l-3 3 0 5 3 3 5 0 3-3 0-5-3-3zM327 418l-3 7 3 4 5 0 3-3 0-5-3-3zM293 410l0 3 3 3 7 0 3-3 0-3-4-3-5 0zM228 406l-1 5 5 5 7 0 5-5-1-5-5-3-6 0zM314 395l-3 3 0 3 2 3 5 0 2-2 0-5zM209 394l0 3 3 3 7 0 3-3 0-3-3-3-7 0zM250 387l-2 1-1 5 2 3 6-1 1-5-1-2zM278 376l-2 2 0 4 6 1 1-5zM181 378l1 5 4 3 6 0 4-2 2-4-2-5-4-2-5 0zM275 205l-7 3-9 10-4 14 1 11 4 10 8 8 6 3 12 0 9-5 6-8 3-9 0-14-3-9-7-9-10-5zM265 224l-1 14 4 10 9 6 6 0 9-6 1 1-1 3-7 6-12 0-8-7-4-10 0-8zM265 223l1-1 1 2-1 1zM265 122l-3 4 4 3 3-4zM231 112l-1 5 3 3 5 0 3-3-1-5zM293 110l0 3 3 3 7 0 3-3-1-5-5-2zM323 91l-4 5 2 3 4 1 3-3 0-3zM201 34l0 3 6 4 8-1 3-3 0-3-6-4-8 1zM530 26l0 4 3 4 10 1 5-3 0-5-5-3-10 0zM494 19l3 5 8 3 13-1 7-5-3-6-9-3-12 1z"/><path fill="#9a9a9a" fill-rule="evenodd" d="M139 574l-5 6 6 5 5-6zM279 544l-5 6 6 5 5-6zM80 543l-3 3 0 7 3 3 7 0 3-3 0-7-3-3zM109 538l-5 6 6 5 5-6zM69 515l-4 5 0 7 4 5 5 0 4-5 0-7-4-5zM0 496l0 7 4 3 8 0 4-3 4 0 7 5 13 0 8 6 7 0 5-4 0-5-3-3-11-1-10-6-9 0-7 4-9-6-7 0zM198 485l-2 1-1 5 1 2 5 1 2-1 1-5-1-2zM173 456l-3 3-1 7 7 6 5-4 1-6-4-6zM298 437l-5 5-1 13 5 7 5 0 5-7 0-11-5-7zM361 431l-2 2 0 5 2 2 5 0 2-2 0-5-2-2zM327 419l-2 2 0 5 2 2 5 0 2-2 0-5-2-2zM294 410l0 3 4 3 7-3-2-5-7 0zM231 405l-3 6 4 4 7 0 4-4-3-6zM318 396l-4 0-2 2 1 5 3 1 3-2 1-3zM210 394l0 3 5 3 6-3-2-5-7 0zM250 388l-2 2 0 4 6 1 1-5zM278 377l-1 4 4 1 1-3zM183 377l-1 3 5 5 5 0 4-3 0-5-4-3-5 0zM297 111l1 2 4 0 0-3-2-1zM322 93l-1 4 4 1 1-4zM205 34l1 4 8-1-1-4zM533 28l4 5 5 0 3-2 0-3-3-2-7 0zM500 18l0 3 5 3 9 0 5-3 0-3-5-3-9 0z"/><path fill="#a3a3a3" fill-rule="evenodd" d="M138 575l-3 3 0 3 3 3 3 0 3-3 0-3-3-3zM278 545l-3 3 0 3 3 3 3 0 3-3 0-3-3-3zM79 545l0 9 9 0 0-9zM108 539l-3 3 0 3 3 3 3 0 3-3 0-3-3-3zM70 516l-4 4 0 7 2 3 5 1 4-4 0-7-2-3zM22 500l0 3 3 3 15 0 8 7 7 0 4-4-2-6-13-1-8-6-9 0zM0 498l1 5 3 2 7 0 5-4-1-4-4-3-7 0zM198 486l-2 5 5 2 2-5zM174 457l-4 7 4 6 3 0 4-7-4-6zM299 439l-5 5-1 8 2 5 3 3 3 0 4-4 1-9-2-5zM363 431l-4 5 5 4 4-5zM327 420l-1 6 6 1 1-6zM295 411l4 4 4-1 1-2-2-3-5 0zM234 405l-4 3 0 3 7 3 4-3 0-3zM314 397l-1 4 3 2 2-1 1-3zM211 395l4 4 5-3-2-3-5 0zM250 389l-1 4 4 1 1-4zM186 376l-2 2 2 5 5 1 3-2 1-3-2-3z"/><path fill="#adadad" fill-rule="evenodd" d="M139 576l-3 4 4 3 3-4zM279 546l-3 4 4 3 3-4zM82 545l-3 3 0 3 3 3 3 0 3-3 0-3-3-3zM109 540l-3 4 4 3 3-4zM70 518l-3 7 3 4 3 0 3-7-3-4zM44 505l6 7 7-3 0-3-4-3zM25 500l0 3 4 3 10-2 0-3-5-4-5 0zM2 498l0 3 4 3 7-2 0-4-4-3zM198 488l0 3 3 0 0-3zM175 460l-2 5 3 2 2-5zM298 445l-1 8 3 2 3-6-2-4zM362 433l-1 4 4 1 1-4zM329 421l-2 3 4 2 1-4z"/></g></g>
<g id="sR0"><g transform="translate(0.25 0.25) scale(0.5)"><rect x="-4" y="-4" width="608" height="608" fill="#808080"/><path fill="#7c7c7c" fill-rule="evenodd" d="M483 561l-4-3-9 0-9 7-1 7 4 3 9 0 8-5 2-3zM131 522l-9 6-3 7 0 9 3 7 4 4 10 2 9-6 3-7 0-9-3-7-4-4zM150 494l-3 2 0 5 9 9 1 12 3 4 4 1 4-4-1-9-6-8-2-7-4-4zM406 491l-4 5 0 8 3 7 8 7 7 0 4-5 0-8-2-5-6-7zM77 483l-8-1-13 8-5 9 0 9 5 5 8 0 12-8 5-9 0-9zM259 250l-12 13-5 10-3 12 0 9 3 12 5 10 16 16 6 2 11-7 13-1 14-4 10 4 7 6 7 10 4 0 21-10 16-16 7-16 0-21-10-20-9-9-12-8-25-8-31 0-19 7zM305 262l4 6-2 5-5 2-3-3 0-3zM58 201l-3 7 4 8 6 4 6-1 2-6-3-7-6-5zM81 147l-4 0-4 3 0 7 5 0 3-3zM387 60l-7 0-6 3-4 6 0 5 4 3 5 0 6-3 5-7 0-4zM183 30l0 7 5 5 5 2 13 0 5-2 5-5 0-7-5-5-5-2-13 0-5 2z"/><path fill="#797979" fill-rule="evenodd" d="M477 563l-8 0-3 3 0 4 8 0 3-3zM132 524l-8 5-3 7 0 7 6 10 8 2 8-5 3-7 0-7-6-10zM160 511l-2 2 0 7 3 4 4 0 1-8-4-5zM409 494l-4 3 1 11 4 5 8 2 3-3 0-8-7-9zM73 489l-4-1-8 4-4 7 2 7 5 1 8-5 3-5 0-5zM294 250l-6 1-5 5-5 11-3 18 3 27 4 9 4 3 8 0 9-6 5-11 3-14-1-12-9-5-3-4 3-15zM60 203l-2 2 2 9 4 3 4 0 2-2-1-7-4-4zM387 64l-3-2-6 1-5 5 0 5 8 1 5-4zM185 32l1 5 4 4 6 2 11-1 7-7-1-5-4-4-6-2-11 1z"/><path fill="#767676" fill-rule="evenodd" d="M131 526l-7 6-2 8 4 10 5 3 5 0 7-6 2-8-4-10-5-3zM160 514l0 7 4 1 1-5-2-3zM409 497l-2 3 1 7 5 5 4 0 2-3-1-7-4-4zM294 256l-6 1-6 9-4 23 4 24 3 6 5 3 5-1 5-5 5-18 0-14-8-12 1-11zM62 205l-2 5 3 4 4 1 1-5zM384 65l-6 0-3 6 7 0 2-2zM187 32l3 7 8 3 7-1 7-6-3-7-8-3-7 1z"/><path fill="#717171" fill-rule="evenodd" d="M131 528l-6 5-1 10 5 7 7 1 6-5 1-10-5-7zM410 501l1 6 5 1-1-6zM289 261l-7 12-2 19 2 14 4 9 3 3 5 0 4-4 3-7 2-22-7-12-1-11zM63 209l0 2 2 0zM189 32l1 5 5 3 9 0 6-5-1-5-5-3-9 0z"/><path fill="#6c6c6c" fill-rule="evenodd" d="M131 530l-5 5 0 9 3 4 7 1 5-5 0-9-3-4zM290 265l-6 9-2 20 5 17 3 3 3 0 4-4 3-8 1-17-6-10-2-9zM191 33l2 4 5 2 6-1 4-4-2-4-5-2-6 1z"/><path fill="#656565" fill-rule="evenodd" d="M133 532l-5 4 0 7 6 4 5-4 0-7zM290 271l-5 8-1 15 4 13 5 2 5-9 1-14-7-14zM195 33l2 3 5 0 2-2-2-3-5 0z"/><path fill="#5c5c5c" fill-rule="evenodd" d="M132 537l0 5 3 0 0-5zM290 279l-3 5 0 11 3 7 3 0 3-6 0-10z"/><path fill="#838383" fill-rule="evenodd" d="M360 565l-4 4-3 7 0 11 4 10 2 2 20 0 2-3 1-9-5-15-10-8zM77 560l-3 4 0 8 2 5 8 7 8-1 2-4-2-11-5-6zM213 555l-3 6 3 11 5 5 7 1 4-8-4-11-5-4zM109 538l-3-6-5-1-7 6-18 0-4 4-1 5 4 4 6 2 13-3 5 4 3 0 6-6zM37 518l-6 7 0 9 4 6 7 1 6-7 0-9-4-6zM240 503l1 9 4 7 7 7 9 5 13 2 8-3 13 1 3-3 1-8-2-5-4-3-7-1-11-11-9-5-8-2-10 1zM423 466l-3 3 0 8 7 6 4-5 0-4-2-5zM501 462l-3 2-3 7 1 12 6 8 7 1 6-7 0-13-6-9zM361 435l-6-3-9 1-14 10-6 12 0 8 4 6 5 2 9-1 14-10 6-12 0-8zM140 395l0 8 6 6 5 2 9 0 3-3 1-5-5-7-10-4zM316 334l-4-4-7-3-20 4-4 4-1 9 1 3 6 5 9 2 11-1 10-8 1-6zM478 316l-4-1-5 4 4 3 5-3zM98 311l-4 0-6 5-2 9 3 3 5-1 5-5 1-9zM161 256l-5 5-2 5 0 13 3 7 5 5 8 1 7-8 1-13-4-10-4-4zM135 256l-4 4 0 7 6 8 6 1 3-4-1-9-4-5zM467 233l-6 3-5 7-2 6 0 15 8 15 6 3 5 0 8-6 4-9 1-11-6-17-6-5zM552 236l0 7 8 5 11-1 6-3 4-5 0-6-7-5-11 0zM492 190l-4 5 0 9 2 5 6 7 7 3 4-1 4-5 0-8-3-7-7-7zM317 183l-5-1-13 7-3 3 2 6 6 5 9-1 6-9 0-7zM217 183l2 6 8 5 38 2 15-5 6-6 2-6-2-6-11-8-17-4-15 0-8 2-10 6-5 6zM370 164l1 5 6 4 7 1 5-3 0-5-8-6-7 0zM110 122l-7 1-9 11-15 1-4 3 0 2 6 0 5 3 0 19 7 3 13 0 8-4 6-11 1-10-4-12zM558 118l2 9 11 8 9 1 8-5-2-10-9-7-14-1zM199 75l-6 7 1 9 6 9 8 2 5-5 0-9-7-11zM534 66l1 6 6 3 7 0 6-6-3-5-5-2-6 0zM503 60l-4 2-5 7-2 14 6 15 6 4 6 0 9-10 1-16-4-10-5-5zM71 12l-17-5-15 1-11 4-10 9-2 12 8 13-2 18 6 8 9 4 15 0 10-4 6-6 2-4 1-12 8-9 4-8-2-12zM154 1l-1 6 5 7 6 3 6 0 3-3-1-7-6-6z"/><path fill="#868686" fill-rule="evenodd" d="M363 571l-5 6 0 11 2 5 5 5 6 1 4-3 2-5-1-11-6-8zM80 565l-2 2 1 8 4 4 5 0 2-3-1-6-3-4zM216 562l0 6 3 3 3 0 1-6-4-4zM107 538l-3-4-4 0-6 7-11-4-6 2-3 3 0 4 4 3 9 0 7-4 5 5 4 0 3-3zM291 519l-1 4 3 1 1-2zM38 519l-6 7 0 7 4 6 5 1 6-7 0-7-4-6zM247 501l-2 8 2 6 6 7 11 6 11 0 6-4 2-4-1-5-5-8-7-6-7-3-11 0zM423 469l-2 3 1 6 2 2 4 0 1-8-3-3zM503 465l-5 5 0 11 2 4 6 4 6-4 1-10-3-7zM357 438l-6-2-5 1-12 9-4 9 0 5 3 5 6 2 5-1 12-9 4-9 0-5zM144 397l-1 3 4 6 4 2 6 0 3-5-5-6zM282 338l1 9 9 4 8 1 8-2 7-7-1-8-9-6-8 0-10 3zM98 314l-4-1-5 4 0 8 5 0 3-3 2-5zM164 260l-6 5-1 13 6 9 5 1 7-8 0-9-3-7-3-3zM135 259l-2 2 0 6 3 5 5 2 3-3 0-6-5-6zM467 239l-6 4-3 6-1 11 4 11 6 5 6 0 7-7 2-14-4-11-4-4zM563 239l4 1 3-3-5-1zM494 194l-3 4 0 6 3 6 5 4 6 0 3-4-2-10-5-5zM314 185l-3 0-12 7 0 4 5 5 7 0 5-5 1-7zM223 180l2 7 5 3 33 4 15-5 4-4 2-6-6-9-8-4-25-2-15 6zM373 164l1 5 6 3 5-1 2-3-7-6zM112 127l-7-1-5 5-2 5-8 5-3 10 0 5 2 3 4 2 10 0 11-6 4-8 0-10zM566 121l1 5 4 3 4 1 5-2-2-7-4-2-6 0zM201 79l-4 3 0 9 5 6 5 1 3-4 0-6-2-4zM540 67l0 3 2 1 5-1 0-3-2-1zM503 66l-6 7-1 11 6 11 8 1 6-9 0-11-2-5-5-5zM64 15l-13-3-10 1-8 3-7 6-2 4 0 7 9 13 0 3-5 8 0 7 4 5 7 3 12 0 7-3 5-5 0-17 12-14 0-7-2-4zM157 2l-1 7 5 5 7 1 3-4-2-5-5-4z"/><path fill="#898989" fill-rule="evenodd" d="M364 578l-2 4 1 6 3 4 4 0 2-2 0-7-2-4zM76 543l0 2 4 3 5 0 5-3 0-3-3-3-6 0zM104 536l-5 1-2 4 2 7 4 0 3-5zM39 520l-4 2-2 4 0 7 2 4 5 2 4-2 2-4 0-7-2-4zM250 505l0 8 8 9 7 3 7 0 5-4 0-8-8-9-7-3-7 0zM425 470l-2 1 0 6 3 2 2-2 0-4zM504 468l-4 4 0 8 4 5 4 0 3-4 0-6-2-4zM354 441l-8-1-10 8-3 8 3 6 8 1 10-8 2-4 0-8zM148 400l2 4 5 0-3-5zM283 340l0 3 4 5 18 1 7-6-1-8-6-4-10 0-6 2zM95 315l-4 2-1 6 4 0 2-2 1-4zM164 264l-4 4 0 10 5 6 3 0 4-5 0-9-5-6zM135 261l-1 5 2 4 3 2 3-1 0-7-3-3zM467 244l-6 7 0 12 4 7 8 1 4-4 2-11-3-8-4-4zM495 198l-1 6 2 4 7 3 2-3-1-6-6-5zM314 188l-10 2-3 3 1 4 4 3 5-1 4-5zM228 178l0 4 3 4 23 6 17-2 9-7 0-7-6-6-14-4-20 2-6 3zM376 165l1 4 5 1 2-2-4-4zM110 129l-6 1-5 10-8 6 0 10 11 1 8-3 4-4 2-12zM202 83l-2 1-1 4 1 3 5 3 2-2 0-4zM504 71l-4 5 0 10 4 5 5 0 4-6 0-7-5-7zM56 17l-16 1-7 4-3 5 2 9 12 10-11 12 1 7 7 4 8 0 8-4 2-3 0-5-6-8 0-3 11-7 5-7 0-5-3-5zM158 4l0 5 3 3 7 0 1-2-3-5-4-2z"/><path fill="#8e8e8e" fill-rule="evenodd" d="M79 545l6 1 3-3-2-2-7 1zM103 538l-4 2 1 6 4-2zM39 521l-5 4 0 9 6 4 5-4 0-8zM254 507l0 6 5 6 4 2 7 0 3-2 0-6-5-6-4-2-8 0zM425 473l-1 2 2 1zM504 472l-2 6 4 4 2-2 0-5zM351 444l-6 0-7 6-1 7 2 2 6 0 6-5 2-4zM309 338l-3-4-9-1-9 3-3 3 0 4 3 3 14 1 7-5zM95 319l-2-1-1 3zM165 269l-2 2 0 5 4 3 2-2 0-5zM136 263l0 4 5 2-1-5zM469 249l-4 3-1 8 4 6 3 0 4-5 0-6-2-4zM312 190l-6 1-3 4 3 3 4 0 3-4zM233 177l0 5 3 3 17 5 15-1 9-7 0-5-3-4-14-5-15 1-9 4zM111 133l-6 0-5 14-5 4 13 0 4-3 2-9zM506 78l-1 5 2 1 1-4zM39 59l0 3 4 3 5 0 5-4 0-3-4-3-5 0zM37 28l1 5 8 5 10-1 6-6-3-7-8-3-7 1zM161 5l-1 4 6 2 0-3z"/><path fill="#939393" fill-rule="evenodd" d="M37 523l-3 6 3 7 5 0 3-6-3-7zM261 511l2 4 3 0-2-4zM297 340l4 1 0-2zM310 194l-2-1-1 2zM238 177l2 6 16 5 10-1 7-5 0-5-10-6-15 0zM107 137l-1 6 3 2 2-5z"/><path fill="#9a9a9a" fill-rule="evenodd" d="M38 524l-3 6 3 5 3 0 3-6-3-5zM245 177l0 3 7 4 11 0 4-3 0-3-6-4-11 0z"/><path fill="#a3a3a3" fill-rule="evenodd" d="M38 526l-1 6 4 1 1-6z"/></g></g>
<g id="sL1"><g transform="translate(0.25 0.25) scale(0.5)"><rect x="-4" y="-4" width="608" height="608" fill="#808080"/><path fill="#7c7c7c" fill-rule="evenodd" d="M425 119l4 10 9 7 13 6 20 5 30 0 13-5 4-5 0-7-7-9-14-8-20-6-32-1-14 5zM191 73l-29 9-31 18-23 21-12 15-13 21-15 37-7 34-1 50 4 28 11 38 16 34 12 19 15 19 26 25 17 12 10-6 4-1 6 2 7 7 4 14 17 6 26 5 32 0 12-2 9-4-5-20 1-11 3-8 10-9 8 1 8 6 2-2 8-24-12 0-3-4 0-6 5-5 6 0 7 6 8-28 6-33 3-37 0-44-3-25-6-19-10-18-5-14-11-56-11 0-7-3-6-8 1-7 7-7 6-2 0-2-7-7-9-5-28-9-18-3-32 0zM289 409l4-4 7-2 8 3 3 4 0 4-7 6-9 0-6-5zM224 403l7-4 9 0 8 6 1 8-7 7-13 0-7-7 0-7zM205 393l4-4 8-2 9 6 0 5-7 6-7 0-7-5zM249 384l5 0 5 5 0 6-7 5-4-1-4-4 0-6zM278 373l5 1 3 4-1 6-4 3-3 0-5-4 0-6zM177 375l6-5 10-1 9 7 1 5-6 8-9 2-10-5-2-3zM279 199l10 2 7 4 9 11 4 12-1 17-5 11-9 9-10 4-11-1-8-4-10-12-4-15 1-12 5-12 10-10zM262 117l7 0 5 5 0 6-4 5-6 1-7-6 0-5zM221 114l7-9 13-1 7 5 2 8-2 4-7 5-11 0-6-4z"/><path fill="#797979" fill-rule="evenodd" d="M451 123l3 7 14 6 18 0 4-2 2-4-8-8-9-3-14-1-7 2zM192 114l-27 11-20 14-19 20-17 28-10 28-5 29 0 34 6 34 9 26 14 27 17 23 27 25 27 16 31 10 35 2 21-3 11-12 4-2 13 0 3-3 5-11-8-4-2-8 5-6 3-1 9 3 6-16 6-26 4-32 0-57-4-26-18-39-15-49-7-13-7-7-10-6-3 0-1 6-5 5-6 1-3-1-5-6 0-7 3-4-1-2-4 0-8 10-13 3-8-3-4-4-3-10-11 0zM288 409l8-6 7 0 8 5 1 6-8 7-8 0-8-6zM204 393l5-5 10-1 7 5 0 8 6-2 12 2 6 7 0 6-10 9-12-1-6-5-2-5 3-8-7 2-6-1-5-4zM248 384l7 0 4 4 1 5-6 7-7-1-4-5 0-4zM277 373l5 0 4 4 0 6-5 4-4 0-5-6 1-4zM180 371l8-3 9 2 6 7-1 8-8 6-10 0-4-2-5-6 0-6zM275 199l11 0 10 5 8 9 4 8 2 10-1 12-5 12-8 9-10 5-11 0-9-4-9-9-6-16 0-12 5-14 10-11z"/><path fill="#767676" fill-rule="evenodd" d="M190 146l-22 12-15 13-12 15-14 28-7 29-1 31 3 22 8 27 17 32 22 25 2 0 2-4 10-8 11 0 8 5 2 3 0 8-6 7-8 3 4 4 9 3 0-9 6-5 9-1 9 6 2 6 10-1 6 2 6 6 3 8 31 2 2-6 5-5 7-2 8 2 0-7 3-4 4-2 9 0 8-24 7-44 0-36-3-25-5-18-12-24-20-48-12-13-22-12-28-7-21 0zM249 383l7 1 4 5 0 6-6 6-6 0-6-8 1-5zM276 373l6 0 3 2 2 6-3 5-8 1-3-3-1-6zM275 198l11 0 12 6 7 8 4 8 2 10-2 16-7 13-8 7-13 4-10-2-7-4-8-9-5-13 0-16 6-15 9-9z"/><path fill="#717171" fill-rule="evenodd" d="M193 175l-13 8-16 16-9 14-8 20-4 21 0 24 3 18 7 21 9 17 10 14 14 14 14 6 11 10 26 10 4 0 4-4 8-2 7 5 2 8 23 6 19 0 6-9 10-3 9-22 5-24 2-38-3-23-6-20-13-25-11 22-14 10-17 0-6-3-11-12-5-14 0-13 6-16 9-10 9-5 15-1-3-5-12-9-25-11-21-3-18 2zM278 372l5 1 4 5 0 5-5 5-7-1-4-6 1-4z"/><path fill="#6c6c6c" fill-rule="evenodd" d="M201 205l-15 13-7 10-9 26-1 21 2 14 11 28 9 13 18 18 39 26 22 10 1-7 5-5 6 0 6 7-3 10 9 2 17-2 8-7 5-9 6-20 3-20 0-22-2-13-6-18-8-15-8-10-14 12-7 3-10 1-13-5-9-9-7-18 0-13 7-20-1-4-12-4-18-1-10 2z"/><path fill="#656565" fill-rule="evenodd" d="M218 230l-8 6-7 9-7 22 2 24 10 24 16 22 17 17 22 16 6 3 13-2 9 10 10 1 13-4 10-15 6-29 0-13-3-17-12-25-11-14-22 7-8-1-9-4-6-5-8-12-6-24-11-1z"/><path fill="#5c5c5c" fill-rule="evenodd" d="M230 251l-7 7-5 10-1 23 6 20 12 21 19 21 23 15 16 5 10 0 10-4 5-5 6-14 2-24-5-21-11-20-12-14-19 2-13-4-13-12-7-11-5 0z"/><path fill="#525252" fill-rule="evenodd" d="M243 266l-8 9-3 18 5 21 10 18 18 19 17 10 15 3 14-5 8-14 1-18-4-16-9-17-17-18-22-4-14-9-5 0z"/><path fill="#464646" fill-rule="evenodd" d="M250 278l-6 10-1 13 4 15 9 16 15 15 13 7 16 1 6-3 7-11 1-13-3-13-9-17-12-13-11-7-14-4-10 1z"/><path fill="#383838" fill-rule="evenodd" d="M261 288l-6 8-1 10 2 9 7 13 9 10 10 6 7 2 10-2 6-8 1-10-2-9-6-12-10-11-12-7-10-1z"/><path fill="#292929" fill-rule="evenodd" d="M271 302l-4 7 4 13 9 9 5 2 6-1 4-6-3-13-8-9-7-3z"/><path fill="#838383" fill-rule="evenodd" d="M137 571l-5 4-1 7 4 5 7 1 5-4 1-7-4-5zM277 541l-5 4-1 7 4 5 7 1 5-4 1-7-4-5zM77 539l-5 7 0 7 3 5 5 3 7 0 5-3 3-5 0-7-3-5-5-3zM107 535l-5 4-1 7 4 5 7 1 5-4 1-7-4-5zM0 490l1 20 11 1 5-2 10 4 11 0 9 6 12-1 1 10 5 8 10 2 5-4 3-7 0-7-3-7-6-4-6 0-6-10-7-3-9-1-10-5-9 0-5 2-10-4-9 0zM196 482l-3 2-2 6 3 6 7 2 5-3 2-6-5-7zM174 450l-7 5-2 4 0 9 5 8 9 1 6-6 1-11-6-9zM298 429l-9 8-2 6 0 15 4 9 9 5 7-3 6-11 1-9-2-9-4-7-4-3zM290 411l3 6 6 2 7-2 3-4-1-5-5-3-7 0zM225 405l-1 8 5 5 10 1 8-6 0-6-6-6-7-1zM318 393l-6 1-3 4 1 6 6 3 5-2 2-3-1-6zM206 395l1 4 4 3 8 0 4-2 2-4-6-7-7 0zM250 385l-4 3-1 6 4 4 5 0 3-3 1-5-3-4zM276 375l-2 7 3 3 5 0 3-7-5-4zM179 375l0 9 8 5 10-2 4-6-1-5-6-5-9 0zM278 201l-11 4-10 11-4 12 0 13 6 15 7 7 8 4 12 0 7-3 9-9 5-13 0-14-4-12-10-11zM263 119l-4 4 0 5 5 4 4 0 4-4 0-5-4-4zM228 108l-4 5 0 4 5 6 11 1 5-3 2-8-4-5-5-2zM289 106l-1 9 8 6 8 0 6-3 3-5-2-7-6-4-10 0zM430 41l-33 6-39 15-12-3-10 0-6 6-4 19-7 4-3 4 1 9 8 6 0 37 2 15 17 48 5 35-1 60-6 54-11 56-9 7-1 7 7 8 0 21 4 18 4 7 12 11 26 14 27 9 25 4 28 0 24-4 22-7 23-11 17-11 32-29 27-37 0-260-8-4-9-1-51 10-48-1-28-5-24-7-15-6-21-12-15-14-5-10 0-9 2-4 7-7 10-5 24-5 31-1 34 3 44 8 12 0 3-2-2-7-11-11-28-16-34-10zM527 420l1 8-4 9-12 12-19 10-20 5-15 0-12-4-8-9 0-8 6-11 11-10 17-9 18-5 19 0 11 4zM194 32l0 7 4 4 8 3 11-1 8-6 0-7-5-5-6-2-15 2zM477 20l3 7 10 6 15 3 16-1 7 5 7 2 8 0 9-3 6-9-2-6-5-4-10-3-9-8-12-4-22 0-10 3-9 7z"/><path fill="#868686" fill-rule="evenodd" d="M137 572l-4 3-1 7 3 4 7 1 4-3 1-7-3-4zM277 542l-4 3-1 7 3 4 7 1 4-3 1-7-3-4zM81 539l-7 5-1 8 5 7 8 1 7-5 1-8-5-7zM107 536l-4 3-1 7 3 4 7 1 4-3 1-7-3-4zM0 491l1 18 10 1 7-2 9 4 11 0 10 6 13-2 1 14 5 6 3 1 6-1 5-6 1-10-2-5-7-5-7 1-2-8-6-5-10-1-12-6-9 0-5 2-11-4-7 0zM197 482l-4 3-1 7 3 4 7 1 4-3 1-7-3-4zM173 451l-6 5-2 9 4 9 3 2 7 0 6-7 0-10-5-7zM298 430l-4 2-5 7-2 14 4 12 6 5 5 0 5-3 4-7 1-17-3-7-5-5zM361 426l-6 5 0 8 5 5 8 0 5-6 0-6-4-5zM328 415l-5 4-1 8 2 3 8 2 5-3 1-9-2-3zM291 409l0 5 5 4 7 0 5-4 0-5-6-4-5 0zM224 408l1 6 9 5 10-3 3-5-1-5-7-5-8 0zM315 393l-4 2-2 6 4 5 5 0 5-6-4-6zM207 393l0 5 5 4 6 0 6-4-1-6-5-3-5 0zM248 386l-3 5 1 4 4 3 5-1 3-5-2-5zM277 375l-3 3 1 5 2 2 6-1 2-3-1-4-2-2zM179 376l-1 5 2 4 5 3 9 0 6-5-1-8-6-4-7 0zM275 202l-10 5-7 8-4 10-1 14 5 15 7 8 7 4 13 1 9-4 8-9 4-10 1-13-4-14-7-9-8-5zM264 119l-4 3-1 4 3 5 4 1 5-3 1-5-3-4zM337 116l-3 7 0 26 16 55 3 22 0 61-7 80 1 19 6 14 7 8 17 13 14 6 12 1 15-4 51-24 53-14 18-9 12-14 8-17 8-27 3-20 1-24-3-29-8-30-9-17-11-10-19-8-72-14-57-14-27-2-10-8-12-23-4-4zM225 113l0 5 2 3 7 3 7-1 5-5-1-7-6-4-7 0zM290 106l-2 5 1 4 6 5 9 0 7-5 0-7-6-5-6-1zM321 88l-3 2-2 7 5 6 7 0 4-5 0-5-5-5zM195 33l1 6 4 4 6 2 11-1 7-7-2-7-8-4-12 1zM483 17l1 7 8 6 14 3 16-1 6 5 8 3 11-1 8-7 0-5-3-4-13-4-9-8-11-4-23 1-10 5z"/><path fill="#898989" fill-rule="evenodd" d="M138 572l-5 4-1 5 4 5 5 1 5-4 1-5-4-5zM279 542l-6 4-1 5 4 5 5 1 5-4 1-5-4-5zM80 540l-6 6 0 7 6 6 7 0 6-6 0-7-6-6zM108 536l-5 4-1 5 4 5 5 1 5-4 1-5-4-5zM0 492l0 15 3 2 15-2 8 4 12 0 9 6 9 0 7-4-1 15 2 4 6 4 6-1 5-7 0-9-2-4-6-4-9 3-1-11-7-5-8 0-11-6-11 0-4 2-10-4-9 0zM196 483l-3 3 0 7 6 4 4-1 3-3 0-7-3-3zM173 452l-7 8 0 7 6 8 7 0 5-6 1-8-5-8zM298 431l-6 4-3 6-1 14 4 10 6 4 3 0 7-5 4-14-4-14-4-4zM360 428l-4 4 0 7 4 4 7 0 4-4 0-7-4-4zM328 416l-5 4-1 5 3 5 7 1 5-4 0-7-5-4zM291 410l1 5 5 3 5 0 6-5-1-5-3-2-9 0zM228 403l-3 4 0 5 3 4 4 2 7 0 6-4 1-7-5-5-8-1zM313 394l-3 3 0 6 7 3 5-4 0-4-3-4zM211 390l-4 4 2 6 8 2 6-3 1-4-4-5zM249 386l-3 3 1 7 9 0 1-7-3-3zM277 375l-3 4 1 4 6 2 3-3 0-5-2-2zM184 372l-5 5 0 5 3 4 10 2 6-3 2-7-4-5-5-2zM274 203l-7 3-9 10-4 11 0 16 4 10 9 10 6 3 9 1 11-4 8-8 5-13 0-14-5-13-7-8-8-4zM427 187l-15 3-15 8-11 10-10 14-5 11-4 18-2 50 2 14 5 15 9 15 11 12 12 9 19 8 24 1 18-5 18-10 9-8 12-16 7-14 6-21 2-16-1-21-7-27-7-14-13-16-11-8-20-8-14-3zM263 120l-3 3 0 5 3 3 5 0 3-3 0-5-3-3zM227 111l-1 7 6 5 7 0 6-5 0-5-5-5-9 0zM290 108l0 7 8 5 7-1 5-5-1-7-7-4-8 1zM319 90l-2 3 0 5 4 4 6 0 4-5-1-5-3-3zM196 34l1 5 8 5 12-1 6-6-1-5-8-5-12 1zM486 17l1 7 7 5 7 2 21-1 7 6 8 3 13-3 4-6-4-7-13-3-9-8-12-4-18 1-9 4z"/><path fill="#8e8e8e" fill-rule="evenodd" d="M137 573l-4 4 0 5 4 4 5 0 4-4 0-5-4-4zM277 543l-4 4 0 5 4 4 5 0 4-4 0-5-4-4zM83 540l-7 4-2 6 4 7 6 2 7-4 2-6-4-7zM107 537l-4 4 0 5 4 4 5 0 4-4 0-5-4-4zM69 512l-5 4-2 8 5 10 7 1 4-3 3-9-5-10zM0 493l0 13 2 2 6 1 10-3 7 4 13 0 13 7 9-3 3-4 0-5-3-4-7-3-8 0-7-5-8-1-11 3-11-5zM197 483l-4 4 0 5 4 4 5 0 4-4 0-5-4-4zM172 453l-5 6 0 9 5 6 5 1 7-7 0-8-5-7zM298 432l-7 6-2 6 0 12 3 7 4 4 4 1 8-6 3-15-4-11-6-4zM362 428l-5 4-1 5 4 5 5 1 5-4 1-5-4-5zM325 418l-2 3 1 7 3 2 6 0 4-6-1-4-3-3zM292 409l0 5 4 3 8 0 3-3 0-5-4-3-7 0zM226 406l0 7 8 5 8-2 4-6-1-4-5-4-9 0zM312 395l-2 7 3 3 6 0 3-5-4-6zM208 393l0 5 4 3 7 0 4-3 0-5-4-3-7 0zM250 386l-3 2-1 6 3 3 5 0 3-7-2-3zM276 376l-1 6 2 2 5 0 2-2 0-4-3-3zM181 375l-1 8 5 4 9 0 5-5 0-5-6-5-7 0zM277 203l-10 4-9 10-4 12 0 11 2 8 8 12 11 6 10 0 10-5 6-7 4-10 1-13-5-15-7-8-7-4zM265 120l-5 6 6 5 5-6zM229 110l-2 3 0 5 3 3 10 1 4-4 0-5-2-3-5-2zM291 108l0 7 6 4 8-1 4-4-1-7-5-3-6 0zM323 89l-4 2-1 7 1 2 6 2 4-3 1-5-3-4zM198 33l0 5 7 5 9 0 7-5-1-7-5-3-11 0zM488 18l0 4 8 6 7 2 21-1 7 7 5 2 10-1 6-5 0-5-4-4-15-3-6-7-7-3-21 0-7 3z"/><path fill="#939393" fill-rule="evenodd" d="M139 573l-5 3-1 4 3 5 4 1 5-3 1-4-3-5zM279 543l-5 3-1 4 3 5 4 1 5-3 1-4-3-5zM82 541l-6 4-1 6 4 6 6 1 6-4 1-6-4-6zM109 537l-5 3-1 4 3 5 4 1 5-3 1-4-3-5zM69 513l-5 5-1 8 3 6 3 2 5 0 5-5 1-8-3-6-3-2zM0 494l0 11 5 3 14-3 9 5 10-1 11 7 8-1 5-5 0-5-5-5-12-1-10-6-7 0-10 3-5-4-8-1zM195 485l0 9 9 0 0-9zM175 453l-6 4-2 8 5 8 5 1 5-4 2-7-2-6zM299 433l-3 1-5 6-1 16 4 8 3 2 5 0 6-6 2-13-3-9-4-4zM361 429l-4 4 0 5 4 4 5 0 4-4 0-5-4-4zM328 417l-4 3-1 4 3 5 5 1 4-3 1-5-3-4zM295 407l-3 3 0 3 3 3 7 1 5-4 0-3-3-3zM227 406l0 7 6 4 8-1 4-5-1-5-7-4-4 0zM315 394l-5 6 2 4 6 1 3-3 0-4-2-3zM211 391l-3 3 0 3 3 3 7 1 4-3 1-3-3-4zM249 387l-3 5 4 5 2 0 5-6-3-4zM277 376l-2 5 1 2 5 1 3-5-2-3zM183 374l-3 4 3 7 9 2 6-4 0-6-4-4-6-1zM276 204l-9 4-8 9-4 11 0 14 9 17 11 6 10 0 7-3 8-8 4-9 1-15-5-14-6-7-7-4zM264 121l-2 1-1 5 3 3 3 0 3-3-1-5zM234 109l-6 4 0 5 8 4 7-4 0-5-3-3zM292 108l-1 4 2 4 4 2 8-1 3-4-1-5-4-3-6 0zM322 90l-3 2-1 5 2 3 5 1 4-3 0-5zM199 34l1 5 5 3 9 0 6-5-1-5-5-3-9 0zM491 17l0 5 6 5 8 2 20-2 5 7 7 3 8-1 6-6-4-6-5-2-10 0-7-8-7-3-17 0z"/><path fill="#9a9a9a" fill-rule="evenodd" d="M138 574l-3 2-1 5 2 3 5 1 3-2 1-5-2-3zM278 544l-3 2-1 5 2 3 5 1 3-2 1-5-2-3zM81 542l-4 3-1 7 3 4 7 1 4-3 1-7-3-4zM108 538l-3 2-1 5 2 3 5 1 3-2 1-5-2-3zM69 514l-5 6 0 7 5 6 5 0 5-6 0-7-5-6zM0 495l0 9 4 3 7 0 8-3 9 5 10-1 10 7 7 0 6-5 0-5-4-4-12-1-10-6-7 0-10 3-7-5-7 0zM198 484l-3 2-1 5 2 3 5 1 3-2 1-5-2-3zM174 454l-4 3-2 9 4 6 5 1 4-3 2-9-4-6zM297 435l-6 8-1 8 3 10 7 4 3-1 5-7 1-11-4-9-3-2zM359 431l-1 7 3 3 7-1 0-9zM327 418l-3 3 0 5 3 3 5 0 3-3 0-5-3-3zM293 410l0 3 3 3 7 0 3-3 0-3-3-3-7 0zM228 406l-1 5 5 5 7 0 5-5-1-5-5-3-6 0zM312 396l-1 6 2 2 5 0 3-4-3-5zM209 394l0 3 3 3 7 0 3-3 0-3-3-3-7 0zM248 388l-1 6 2 2 5 0 2-3-1-5zM278 376l-2 2 0 4 6 1 1-5zM181 378l1 5 4 3 6 0 4-2 2-4-2-5-4-2-5 0zM274 206l-6 3-7 7-5 13 1 15 5 10 7 6 7 3 10 0 9-5 7-11 2-8-1-13-4-9-6-7-8-4zM278 210l11 3 6 6 5 13 0 8-5 13-12 9-9 0-4-2-7-7-5-16 1-8 4-9 7-7zM264 122l-2 5 5 2 2-5zM229 114l3 6 7 0 3-3 0-3-6-4zM293 109l0 5 5 3 6-1 3-4-5-6-5 0zM322 91l-3 3 0 3 3 3 3 0 3-2 0-5zM201 33l0 5 5 3 7 0 5-3 0-5-5-3-7 0zM529 25l0 4 5 6 11 0 4-4 0-3-4-4-11-1zM493 19l4 6 6 2 13 0 10-5-1-5-9-5-13 0-7 3z"/><path fill="#a3a3a3" fill-rule="evenodd" d="M137 575l-2 2 0 5 2 2 5 0 2-2 0-5-2-2zM277 545l-2 2 0 5 2 2 5 0 2-2 0-5-2-2zM81 543l-4 4 0 5 4 4 5 0 4-4 0-5-4-4zM107 539l-2 2 0 5 2 2 5 0 2-2 0-5-2-2zM70 515l-5 5 0 7 3 4 5 1 5-5 0-7-3-4zM0 496l0 7 4 3 7 0 8-4 8 6 14 0 7 6 7 0 5-5-3-7-12-1-9-6-9 0-6 4-3 0-7-6-7 0zM197 485l-2 2 0 5 2 2 5 0 2-2 0-5-2-2zM174 455l-5 6 0 5 3 5 5 1 5-6 0-5-3-5zM300 436l-7 5-2 8 1 7 6 7 7-3 3-8-1-9-3-5zM362 430l-3 2-1 5 4 4 3 0 3-2 1-5-2-3zM329 418l-4 3 0 5 5 3 5-6zM296 408l-2 2 2 5 5 1 4-3-2-5zM229 406l-1 5 4 4 7 0 4-4-1-5-3-2-7 0zM313 396l-1 6 5 2 3-3 0-3-2-2zM212 392l-2 2 2 5 5 1 4-3-2-5zM249 388l-1 6 3 2 3-1 1-6zM276 379l1 3 5 0-1-5zM182 378l1 5 3 2 7 0 4-5-5-6-5 0zM264 124l0 3 3 0 0-3zM232 114l0 3 2 1 5-1-1-4zM297 108l-2 5 7 2 2-5-2-2zM322 92l-2 4 2 3 3 0 2-5zM203 34l0 3 6 3 7-3 0-3-5-3zM532 27l0 4 4 3 7 0 4-4-4-5-9 0zM497 18l0 3 6 4 13 0 6-4-1-4-5-3-13 0z"/><path fill="#adadad" fill-rule="evenodd" d="M139 575l-4 5 5 4 4-5zM279 545l-4 5 5 4 4-5zM81 544l-3 3 0 5 3 3 5 0 3-3 0-5-3-3zM109 539l-4 5 5 4 4-5zM71 516l-4 3-1 7 6 5 4-3 1-7zM22 501l2 4 4 2 13-1 8 7 5 0 5-5-3-5-13-1-8-6-7 0zM0 499l5 6 5 0 6-5-6-6-5 0zM197 486l-1 6 6 1 1-6zM173 457l-3 4 0 5 3 4 5 0 3-4 0-5-3-4zM297 439l-4 6 1 12 6 4 5-4 1-12-4-6zM362 431l-3 3 0 3 3 3 3 0 3-3 0-3-3-3zM329 419l-4 5 3 4 3 0 3-3 0-3zM295 410l0 3 3 2 6-2 0-3-3-2zM230 407l0 5 3 2 5 0 3-2 0-5-3-2-5 0zM316 396l-4 4 3 3 4-2 0-3zM211 394l0 3 3 2 6-2 0-3-3-2zM250 389l-1 5 3 1 2-5zM279 379l-1 1 2 1zM186 376l-2 2 1 5 7 1 3-3-2-5z"/><path fill="#b9b9b9" fill-rule="evenodd" d="M139 576l-3 4 4 3 3-4zM279 546l-3 4 4 3 3-4zM82 545l-3 3 0 3 3 3 3 0 3-3 0-3-3-3zM109 540l-3 4 4 3 3-4zM70 518l-3 7 3 4 3 0 3-7-3-4zM44 505l6 7 7-3 0-3-4-3zM25 500l0 3 4 3 10-2 0-3-5-4-5 0zM2 498l0 3 4 3 7-2 0-4-4-3zM198 487l-1 4 4 1 1-4zM175 458l-3 2-1 4 1 3 4 2 3-2 1-4-1-3zM300 441l-5 4 0 9 3 4 3 0 4-7-1-6zM362 432l-2 5 5 2 2-5zM328 420l-2 4 2 3 3 0 2-5zM297 411l2 3 3-1 0-3zM232 408l0 3 3 2 4-2-1-4zM315 398l-1 3 3 0 0-3zM213 395l1 2 4-1-1-2zM251 391l-1 1 2 1zM188 377l-2 3 5 2 2-3z"/><path fill="#c7c7c7" fill-rule="evenodd" d="M362 434l0 3 3 0 0-3zM329 422l-1 2 2 1 1-2z"/></g></g>
<g id="sR1"><g transform="translate(0.25 0.25) scale(0.5)"><rect x="-4" y="-4" width="608" height="608" fill="#808080"/><path fill="#7c7c7c" fill-rule="evenodd" d="M6 497l0 6 5 6 8 2 4-3 0-4-4-6-7-3zM421 470l-3 4 0 7 3 6 11 8 9-1 3-8-4-9-7-6-6-2zM208 441l-4 0-6 5-2 8 3 4 3 0 7-5 2-8zM200 351l2 6 7 5 9 1 5-4-1-6-7-6-10-1zM68 327l-7-4-13-3-15 4-5 7 1 14-3 7 2 9 8 6 8 0 3-3 1-7 3-3 18-5 5-6 0-8zM45 264l-7-1-6 8 0 16-14-3-18 1 1 30 17 0 15-8 3-5 0-12 7-3 5-7 0-11zM251 257l-7 13-3 23 1 13 3 4 19 8 9 9 3 9 5 5 24 5 18-1 13-3 12-5 12-8 12-13 5-10 3-12 0-9-3-12-5-10-16-16-20-10-35-6-15 0-15 6zM126 177l-5 4 0 8 6 9 8 2 4-5-1-8-6-8zM201 73l0 6 8 6 9 0 3-3-1-6-7-5-6-1z"/><path fill="#797979" fill-rule="evenodd" d="M426 476l-2 4 3 6 6 3 3-1 0-7-4-4zM205 448l-3 2 1 1zM204 350l-1 3 3 5 4 2 9-1 0-6-5-4-6-1zM34 331l1 10 9 7 16 0 4-2 5-7-2-6-5-5-7-3-13 0zM0 287l1 26 12 1 9-2 10-8 1-7-5-7-15-5zM289 239l-14 5-10 11-6 16 0 19 6 16 10 11 8 4 12 1 9-3 13-11 7-14 1-14-3-13-9-16-11-9zM126 180l-3 3 1 8 4 5 6 1 3-5-1-5-5-6zM205 75l0 4 4 3 6 0 2-2-4-6-4-1z"/><path fill="#767676" fill-rule="evenodd" d="M206 352l1 4 3 2 7-1 0-3-6-4zM39 333l0 5 2 3 8 4 10-1 5-6-3-6-8-4-8 0zM0 288l0 23 9 2 14-3 6-5 2-8-6-7-15-4zM287 243l-10 4-10 11-5 15 0 14 3 11 8 12 7 5 14 2 12-6 6-7 6-16 0-15-7-18-8-8-6-3zM128 182l-3 2 0 5 7 6 2-1 1-4-2-5z"/><path fill="#717171" fill-rule="evenodd" d="M210 353l0 2 3 1 0-2zM45 335l3 5 4 1 5-2 0-4-8-3zM0 289l0 21 20 0 9-8-1-7-8-6zM286 246l-9 4-7 8-5 12-1 14 3 12 6 10 8 6 10 2 11-4 7-7 6-15 0-16-6-15-8-8-8-3zM128 185l0 5 4 2 0-5z"/><path fill="#6c6c6c" fill-rule="evenodd" d="M0 290l0 19 16 1 8-4 3-4-1-7-7-5zM285 249l-9 5-8 13-2 15 3 13 4 7 8 7 11 2 8-3 9-10 4-12 0-12-5-14-6-7-8-4z"/><path fill="#656565" fill-rule="evenodd" d="M0 292l1 16 13 1 6-2 5-5-1-7-6-4-13-1zM288 251l-8 3-8 9-3 8-1 11 2 10 5 9 8 6 10 1 7-3 7-8 4-12 0-10-2-8-6-10-8-5z"/><path fill="#5c5c5c" fill-rule="evenodd" d="M0 293l0 13 13 2 6-2 4-4 0-5-4-4-6-2zM286 254l-5 2-6 6-4 9-1 12 3 11 8 9 4 2 9 0 6-3 5-6 4-11 0-10-3-10-8-9-4-2z"/><path fill="#525252" fill-rule="evenodd" d="M0 296l0 7 5 3 12-1 4-5-1-3-6-4-9 0zM285 257l-9 8-3 7-1 9 5 15 4 4 9 3 8-3 6-7 3-10-1-12-7-11-5-3z"/><path fill="#464646" fill-rule="evenodd" d="M1 299l4 5 9 0 4-4-4-5-9 0zM288 259l-5 2-5 5-3 6-1 10 5 13 5 4 8 1 6-3 4-5 3-9 0-7-6-13-7-4z"/><path fill="#383838" fill-rule="evenodd" d="M289 262l-4 1-6 6-2 5 0 11 5 9 9 3 5-2 5-7 1-14-5-9z"/><path fill="#292929" fill-rule="evenodd" d="M286 267l-6 8 0 9 6 8 5 1 7-6 1-12-6-8z"/><path fill="#1a1a1a" fill-rule="evenodd" d="M289 272l-4 3-1 6 1 3 5 3 4-3 1-6-1-3z"/><path fill="#838383" fill-rule="evenodd" d="M80 595l1 4 30 0-4-8-10-4-10 1-5 3zM464 527l-4 3 0 6 4 7-3 12 2 7 3 3 5 1 4-6-1-12 9-6 0-5-7-8zM64 515l-4 2-2 9 5 8 4 0 3-3 1-7-2-5zM328 508l-6 7-1 14 6 9 5 0 6-9 0-11-4-8zM255 501l-4 5-1 8 4 6 5 0 4-7 0-6-4-6zM154 489l-7 1-11 9-4 8-1 10 5 13 8 6 5 0 9-4 6-6 4-8 0-10-7-14zM351 480l-9-6-15 2-11 8-3 10 2 4 6 4 8 1 14-5 7-7 2-5zM256 428l1 5 4 4 12 4 18-1 7-3 5-6-1-5-4-4-13-4-11 0-11 3zM490 403l-6-1-5 2-4 5 1 7 6 1 6-3 4-6zM153 363l-8-1-8 4-5 6 0 9 4 3 6 0 9-5 5-9zM479 360l-12 2-5 4-7 11-2 6 0 11 3 6 4 3 9 0 9-6 7-11 2-15-2-6zM428 333l2 6 5 5 11 4 11-1 8-7 0-6-6-7-10-4-13 1-6 4zM233 331l1 5 8 5 13-1 7-6-1-7-11-5-12 3zM485 311l-5 5-3 8 0 10 2 6 6 7 8 3 7 7 10 4 5-1 2-3-1-6-15-13 1-13-4-10-7-5zM66 299l1 5 3 2 9 0 7-4 1-6-5-4-8 0zM185 279l2 7 5 5 8 3 16-1 7-4 3-5-1-8-5-5-11-4-13 1-6 3zM87 221l-7 1-4 4-4 12-9 5 0 8 8 9 5 1 4-3 1-9 9-10 2-9-1-5zM66 189l-4-3-8 2-5 5-1 7 5 3 7-2 5-5zM242 169l-4 6 1 4 3 3 9 3 7 12 4 2 4-1 3-5 0-6-7-14-9-6zM271 161l0 5 3 4 7 3 7-2 1-4-6-7-9-1zM398 154l-7 6 0 10 5 5 4-1 4-7 0-6zM374 87l-2 7 2 4 12 11 2 11 5 8 12 7 11-1 4-6-1-7-8-10-15-6-6-11-6-6zM599 79l-9 5-1 6 3 3 7 0zM282 78l2 7 11 6 13-1 8-7-1-7-4-4-7-3-14 1-5 3zM573 45l0 3 6 5 8 0 4-3-1-5-7-4-8 1zM0 18l0 35 12 7-2 12 1 7 4 5 10 2 7 10 6 4 7 0 8-7 4-12-1-19 5-4 4 0 2 2 1 9 6 12 14 8 9 1 9-2 10-6 5-7 2-12-6-13-8-6-19-5-8-14-14-10-1-11-4-3-11 1-12 8-19 1-13 3z"/><path fill="#868686" fill-rule="evenodd" d="M84 595l0 4 23 0-1-4-7-5-9 0zM466 548l-2 2-1 7 4 6 4 0 2-3 0-6-4-6zM64 522l-1 5 2 1 1-5zM329 510l-6 6-1 12 5 8 5 0 5-8 0-9-2-5zM259 504l-4 0-3 4 0 6 3 4 4-1 2-4 0-6zM153 494l-9 2-5 5-4 10 1 8 4 8 5 4 6 0 7-4 6-10-2-11-4-8zM347 482l-9-5-10 2-8 6-2 9 6 5 12-1 8-5 3-5zM259 428l3 7 9 4 17 0 9-4 3-4-3-7-10-4-19 1-6 3zM489 406l-3-2-4 1-4 4 0 5 4 1 4-2zM476 365l-10 3-8 11-1 12 6 7 10-2 8-10 2-12-2-5zM150 365l-9 1-6 6-1 6 3 3 10-2 6-8zM499 348l1 4 4 4 9 0-1-6-4-3-7-1zM434 331l1 7 10 6 10-1 4-4 0-5-2-3-7-4-10 0zM238 330l0 4 5 4 9 0 6-4 0-5-6-4-10 1zM487 319l-4 5 0 9 4 6 4 1 5-6 0-9-4-6zM191 277l1 8 10 6 13-1 7-7-1-6-9-6-13 0zM67 243l-2 2 1 8 4 4 6 1 3-4-2-9-2-2zM86 226l-7 2-2 4 1 10 4 0 4-3 2-5 0-5zM241 172l-1 5 5 5 11 1 4-3 0-6-5-5-6-1zM273 162l0 4 4 4 9 0 1-3-4-5-5-2zM396 157l-3 3-1 7 3 5 4 0 3-4 0-7-3-4zM395 114l0 7 5 6 5 2 7-2 0-7-6-6zM379 93l0 3 5 2 0-3zM599 81l-7 6 4 4 3-1zM286 78l1 5 4 4 8 2 6-1 7-5-1-7-11-5-7 1zM576 45l0 3 4 3 6 0 2-2-3-5-5-1zM0 23l0 25 14 7 3 4-3 8 1 11 4 3 9 0 10 13 8-1 6-8 1-12-3-13 3-3 14-6 6 1-1 19 3 6 5 5 8 4 9 1 11-3 8-7 3-6 0-11-8-11-12-5-17 1-3-3 0-11-7-8-9-6 2-9-5-5-11 3-8 7-22 2-13 4z"/><path fill="#898989" fill-rule="evenodd" d="M87 596l1 3 16-1-2-4-4-2-6 0zM466 551l-1 7 1 2 4 1 1-8zM328 512l-3 2-2 5 0 9 3 6 5 1 5-7 0-9-3-6zM258 506l-2 0-3 5 3 5 4-5zM148 498l-8 7-1 11 5 9 7 2 7-5 2-9-5-12zM343 483l-5-3-8 1-7 5-1 7 3 3 9 0 8-5 2-5zM262 427l0 5 11 6 13 0 11-6 0-5-11-6-13 0zM487 408l-5-1-2 5 4 0zM476 370l-6 0-7 6-3 8 3 9 8 0 6-6 2-5 0-8zM148 367l-4 0-6 4-1 6 2 2 4 0 5-3 2-3 0-4zM504 351l1 2 4 1-2-4zM439 333l0 3 5 4 7 0 3-3-4-6-5-1zM243 330l2 5 6 0 3-3-3-4-5 0zM195 280l1 3 7 5 8 0 4-2 3-5-1-3-6-4-10 0zM68 245l0 8 7 3 2-3-2-6zM83 233l-2 1 1 1zM241 175l1 3 6 4 5 0 5-3 0-6-8-4-5 1zM275 163l1 5 4 2 5-2-1-4-3-2zM396 159l-2 2 1 9 4 0 2-3 0-5-2-3zM599 84l-3 2 1 2 2 0zM289 79l1 4 5 3 9 0 5-4 0-4-5-4-10 0zM579 47l5 2 0-3zM87 47l-6 3-6 8-1 10 4 9 12 7 11 0 10-5 6-11-1-9-3-5-11-7zM59 5l-8 2-10 9-24 2-17 9 0 17 17 9 4 4-5 13 1 5 2 2 11-2 6 11 4 3 4 0 5-7 0-10-4-7-3-2-6 0-1-2 33-14 7-9-2-9-14-11 3-7 0-4z"/><path fill="#8e8e8e" fill-rule="evenodd" d="M91 597l1 2 8-1-2-3-5 0zM467 554l0 3 2 1 0-4zM329 513l-5 5 0 11 6 5 5-5 0-11zM148 503l-4 3-1 7 4 7 4 1 3-2 1-5-4-10zM339 485l-3-2-6 1-3 2-1 5 2 2 6 0 5-4zM264 428l1 5 9 4 15-1 6-5-1-5-9-4-15 1zM474 375l-5 0-3 3-2 7 3 4 7-4zM147 371l-6 0-1 5 4 0zM202 279l0 3 3 2 4 0 2-2 0-3-2-1zM71 247l-2 1 0 3 4 3 1-5zM244 172l-1 6 5 3 4 0 5-4 0-3-3-3-5-1zM276 165l3 3 4 0 0-3-3-2zM398 161l-3 2 1 5 3-1zM293 78l0 4 3 2 6 0 4-4-4-4-6 0zM41 72l-3 5 1 3 4 2 2-6zM26 63l-5 2 0 8 3 0 3-3 1-5zM89 49l-10 7-2 4 0 10 7 9 6 3 11 0 11-8 2-4 0-9-2-4-8-7zM71 35l-2-5-5-5-10-6 5-7 0-4-4-1-5 4-3 6-24 2-16 6-5 5-2 6 2 5 5 5 24 9 25-5 8-4 5-5z"/><path fill="#939393" fill-rule="evenodd" d="M328 515l-3 3-1 7 1 4 3 3 3 0 3-3 1-7-1-4-3-3zM267 427l0 5 9 4 7 0 9-4 0-5-9-4-7 0zM244 175l2 4 4 1 5-3-2-5-6 0zM88 52l-7 6-2 5 0 5 3 6 10 6 7 0 7-3 6-9 0-5-3-6-10-6zM5 33l0 5 6 7 15 6 22-1 12-5 6-7 0-5-6-7-8-4-10-2-25 3-6 3z"/><path fill="#9a9a9a" fill-rule="evenodd" d="M329 516l-3 3-1 5 1 4 4 3 3-3 1-5-1-4zM270 428l0 3 5 3 9 0 5-3 0-3-5-3-9 0zM247 174l0 3 2 1 4-2-3-3zM91 54l-7 5-2 4 1 7 8 7 9 0 7-5 2-5-1-6-8-7zM9 34l1 5 5 5 16 5 9 0 12-3 10-9-1-5-5-5-11-4-23 1-7 3z"/><path fill="#a3a3a3" fill-rule="evenodd" d="M328 519l-1 8 4 1 1-8zM276 429l1 2 6-1-1-2zM87 61l-1 6 5 6 9 0 5-6-2-7-5-3-5 0zM14 33l0 5 4 4 10 4 19-1 10-7 0-5-4-4-11-4-17 1-7 3z"/><path fill="#adadad" fill-rule="evenodd" d="M20 33l0 5 9 5 13 0 9-5 0-5-9-5-13 0z"/><path fill="#b9b9b9" fill-rule="evenodd" d="M26 35l6 5 7 0 6-4-3-4-4-1-9 1z"/></g></g>
<g id="sL2"><g transform="translate(0.25 0.25) scale(0.5)"><rect x="-4" y="-4" width="608" height="608" fill="#808080"/><path fill="#7c7c7c" fill-rule="evenodd" d="M498 425l-6-4-14 1-8 4-6 6-1 6 4 4 4 1 16-3 10-8zM387 112l2 12 14 15 24 13 34 10 38 4 24-2 21-7 10-9 2-5 0-8-3-7-15-15-28-14-29-8-23-3-24 0-19 3-20 9-5 5zM181 65l-21 7-18 9-18 12-26 25-20 29-13 28-12 47-2 49 6 42 13 41 22 42 25 32 29 26 14 8 4-8 5-5 10-1 7 6 3 7-2 15 4 3 13 0 9 7 23 4 31 0 20-4 9-6-10-16-2-11 2-13 8-11 6-2 6 2 9 7 20-66 6-34 3-34 0-55-3-23-5-17-14-31-6-25-4-28-18 0-9-8 0-8 5-6 7-3 9-1-4-9-7-8-20-10-32-8-39-1zM289 411l5-6 8-1 8 6 0 4-5 5-7 1-5-2zM223 407l7-7 10 0 7 5 1 8-8 7-9 0-7-5zM316 392l5 2 4 6-2 5-6 3-6-2-3-5 2-6zM205 395l5-6 8-1 7 5 0 5-6 5-8 0-5-4zM248 385l8 1 3 5-1 4-5 4-4 0-5-6 0-3zM278 374l3 0 4 4 0 4-4 4-5-1-3-5zM177 377l8-7 8 0 8 6 1 4-4 7-11 3-9-6zM277 200l10 1 9 5 7 8 5 13 0 15-4 11-10 11-9 4-9 0-11-5-8-9-5-14 0-11 4-13 7-9zM261 118l8-1 4 4 1 7-4 5-6 1-5-3-2-8zM222 111l9-7 9 0 9 7 1 5-3 6-4 3-12 1-9-7z"/><path fill="#797979" fill-rule="evenodd" d="M196 101l-25 8-27 16-21 20-19 28-13 32-6 28-1 45 4 26 12 38 15 29 21 28 24 22 18 12 18 9 26 8 13 2 30 0 12-2 4-2 6-14 7-7 11-1 5 2 3-3 7-17-8-1-4-5 0-4 6-6 4 0 7 4 7-21 7-35 3-34 0-43-4-32-4-13-16-34-13-46-7-12-10-4-9-11-30-10-14-2-27 0zM289 409l4-4 11-1 6 5 1 4-7 7-8 0-6-4zM223 405l6-5 10-1 8 5 2 8-7 8-10 1-9-6zM205 393l6-5 8 0 6 4 1 6-5 5-8 1-7-4zM250 384l5 1 4 5-1 6-4 3-5 0-5-5 0-5zM277 374l4 0 4 3 0 6-4 3-4 0-4-5zM179 373l9-4 6 1 7 5 1 7-8 8-10 0-8-8 0-4zM274 200l12 0 11 6 6 7 6 16 0 10-5 15-8 9-10 5-11 0-9-4-10-11-4-11 0-15 6-15 8-8zM262 116l7 0 6 6 0 6-6 6-7 0-6-7 1-6zM222 108l8-6 10-1 9 6 2 4 0 7-8 8-15 0-8-9zM399 114l0 7 4 8 15 13 19 9 30 8 16 2 22 0 13-2 17-7 8-10 0-8-4-8-12-11-24-12-27-7-15-2-23 0-13 2-12 4-8 5z"/><path fill="#767676" fill-rule="evenodd" d="M186 133l-27 15-18 17-13 18-11 23-6 20-3 18 0 36 8 38 12 28 14 22 21 23 25 18 17 8 22 6-7-9 2-11-9 2-9-6 0-6 4-4 10-2 7 4 2 4-1 5 12-2 7 3 4 4 0 11-6 6-6 2 42 1 13-2 2-2-6-6 0-5 4-5 10-2 7 3 4 6 2-2-6-4-2-6 1-3 5-5 11 1 11-38 4-28 1-40-3-35-5-19-12-24-20-50-13-14-14-8-11-1-12-7-16 1-10-3-15 0zM249 384l5 0 5 5 0 6-5 5-7-1-4-6 1-5zM275 375l7-1 3 3 1 4-4 5-5 0-3-2-1-6zM175 377l9-8 10 0 7 5 2 9-9 8-11 0-8-7zM275 199l11 0 10 5 8 9 4 8 2 11-1 11-6 13-9 9-11 4-10-1-9-5-7-8-4-8-2-10 2-16 5-10 7-7zM410 119l5 12 11 9 19 9 24 6 32 1 14-3 10-5 6-9 0-5-4-8-13-11-20-9-21-5-32-1-11 2-13 6-5 5z"/><path fill="#717171" fill-rule="evenodd" d="M192 158l-23 14-14 14-9 13-12 28-4 19-1 26 3 23 9 28 13 24 20 23 16-3 7 2 6 5 2 4-2 11 8-3 8 0 6 3 4 7 9 0 5 2 0-10 4-4 6-1 7 6-1 8-4 4-4 1 3 2 32 4 12-6 9 1 0-6 5-5 10-2 8-21 6-30 2-30-2-29-4-21-26-60-8-14-12-13-25-14-23-6-23 0zM278 373l6 2 2 3-1 6-4 3-4 0-5-6 1-4zM279 197l9 1 8 4 11 12 4 13 0 11-5 15-11 12-9 4-11 0-9-4-9-9-6-15 0-14 5-14 10-11zM423 120l2 8 9 9 9 5 18 6 11 2 25 0 16-6 4-5 0-8-7-9-16-9-12-4-18-3-22 1-13 5z"/><path fill="#6c6c6c" fill-rule="evenodd" d="M196 186l-12 8-14 15-8 13-7 20-2 11 0 28 4 19 8 20 14 21 14 14 21 14 28 13 12 0 9 8 25 7 17 0 5-5 8-3 6-10 7-22 4-27 0-25-3-19-6-18-13-24-10 15-12 9-13 2-13-5-8-8-5-10-2-20 3-11 6-10 14-13-11-7-23-7-21 0zM277 373l5 0 5 6-1 5-5 4-6-1-3-4 0-5zM441 123l0 3 4 6 10 6 10 3 22 1 10-4 2-3 0-5-5-6-19-8-25 0-6 3z"/><path fill="#656565" fill-rule="evenodd" d="M206 213l-6 4-13 15-6 13-3 12 1 30 5 16 9 17 12 15 16 15 36 25 13 5 5-7 6-1 6 5 1 10 19 1 5-2 7-6 5-9 8-33-1-34-6-19-10-18-7-9-11 8-10 4-13 0-10-5-7-7-7-14-1-21 3-10-1-4-13-3-12 0z"/><path fill="#5c5c5c" fill-rule="evenodd" d="M219 236l-6 5-7 10-5 18 0 12 3 15 10 22 12 17 17 18 25 18 13 0 9 8 15 1 8-3 10-13 6-24-1-28-6-18-8-14-11-14-15 5-13 0-11-5-11-12-9-24-14 1z"/><path fill="#525252" fill-rule="evenodd" d="M233 254l-7 7-4 8-2 20 5 20 14 25 20 21 17 11 15 5 14 0 7-3 7-8 4-10 2-25-5-19-11-20-13-14-18 1-12-4-19-19-5 0z"/><path fill="#464646" fill-rule="evenodd" d="M242 266l-5 5-4 8-1 18 6 20 8 14 16 18 19 12 10 3 10 0 8-3 6-6 4-9 1-22-4-14-8-15-17-19-22-4-17-10z"/><path fill="#383838" fill-rule="evenodd" d="M252 276l-8 10-1 18 4 13 10 17 12 12 14 8 15 2 9-4 7-13 0-14-3-11-10-18-13-13-8-5-14-4-10 0z"/><path fill="#292929" fill-rule="evenodd" d="M260 287l-6 8-1 11 3 11 6 11 10 11 10 6 12 2 7-3 5-8 1-8-3-13-8-14-9-9-11-6-11-1z"/><path fill="#1a1a1a" fill-rule="evenodd" d="M267 298l-3 4-1 9 6 14 13 11 12 0 4-6 0-10-5-11-12-11-7-2z"/><path fill="#0a0a0a" fill-rule="evenodd" d="M278 312l0 8 7 4 2-2-1-6-4-4z"/><path fill="#838383" fill-rule="evenodd" d="M137 571l-5 4-1 7 4 5 7 1 5-4 1-7-4-5zM277 541l-5 4-1 7 4 5 7 1 5-4 1-7-4-5zM79 538l-7 8 0 7 4 6 4 2 7 0 6-4 2-4 0-7-4-6-4-2zM107 535l-5 4-1 7 4 5 7 1 5-4 1-7-4-5zM0 489l0 21 19 0 7 3 11 0 10 6 12-1 2 13 7 7 7 0 7-7 1-12-3-6-6-4-6 0-4-8-5-4-10-1-12-6-11 0-6 2-8-4zM197 482l-5 5 0 6 4 4 7 0 4-5 0-5-3-4zM173 451l-6 5-2 11 6 9 6 1 6-4 3-11-2-6-4-4zM299 430l-6 3-3 4-3 10 0 7 2 8 4 6 8 3 3-1 7-8 2-16-4-10-4-4zM291 410l1 5 5 3 8-1 3-3 0-4-4-4-8 0zM228 403l-3 4 0 6 4 4 11 1 6-5 0-6-5-5-8-1zM314 394l-4 3 0 5 2 3 6 1 4-3 0-6-4-3zM207 394l1 5 6 3 6-1 4-4-1-4-4-3-8 0zM249 386l-3 3 0 5 3 3 5 0 3-3 0-5-4-3zM277 376l-2 2 0 4 2 2 5 0 2-3-1-4zM196 373l-7-2-6 2-4 4 1 7 6 4 9-1 5-6-1-5zM276 202l-8 3-9 9-5 12 0 17 4 10 8 9 5 3 10 2 12-4 8-8 4-8 2-15-2-10-8-13-7-5zM263 119l-4 4 0 5 4 4 5 0 4-4 0-5-3-4zM225 111l-1 7 7 6 9 0 7-6 0-6-8-6-7 0zM288 107l-1 6 2 4 7 4 11-1 6-7-1-6-11-6-7 1zM337 60l-7 8-3 17-8 3-4 7 2 6 10 6 0 32 2 15 17 55 4 31-1 60-6 55-11 57-10 8 0 7 7 8 0 24 3 13 5 9 19 15 23 11 27 8 20 3 27 0 25-4 22-7 28-14 29-22 20-21 22-31 0-247-18-1-24 4-29 2-41-2-51-10-32-11-24-12-17-14-7-13-3-16 3-30-10-8zM539 417l0 12-6 11-19 16-21 10-21 5-22 0-14-5-9-10 0-12 9-15 16-13 18-9 23-6 22 0 16 6zM384 58l0 3 5 2 53 1 58 6 12 0 4-2-2-5-21-12-20-6-18-3-27 0-13 2-17 5-10 5zM193 33l2 8 10 5 13-1 5-3 3-5-1-6-9-6-13 0-6 3zM477 17l1 8 8 7 9 3 25 0 13 7 12 0 9-4 4-6 0-5-6-7-10-3-9-8-11-4-26 0-11 4z"/><path fill="#868686" fill-rule="evenodd" d="M136 572l-4 4 0 7 4 4 7 0 4-4 0-7-4-4zM277 542l-5 5 0 6 4 4 7 0 4-4 0-7-5-4zM80 539l-6 5-1 9 5 6 9 1 6-5 1-9-5-6zM106 536l-4 4 0 7 4 4 7 0 4-4 0-7-4-4zM0 491l0 17 3 2 15-2 8 4 12 0 9 6 9 0 4-2 1 12 8 9 7-1 6-8 0-9-2-4-6-5-7 1-3-8-8-6-8 0-11-6-11 0-4 2-10-4-9 0zM199 482l-6 4-1 5 4 5 5 1 5-4 1-4-4-6zM172 452l-5 5-1 10 4 7 7 2 7-6 1-10-6-8zM299 431l-3 1-7 9-1 14 4 10 5 4 5 0 8-8 2-14-4-11zM361 426l-6 6 0 7 5 5 7 0 5-4 1-7-4-6zM331 415l-6 2-3 5 1 6 6 4 5-1 4-5 0-6zM292 409l0 5 6 4 6-1 4-4-1-4-4-3-7 0zM226 406l-1 5 2 4 6 3 8-1 5-6-1-5-5-4-9 0zM318 394l-4 0-4 4 0 4 5 4 7-4 0-4zM208 393l0 5 4 3 7 0 4-3 0-5-4-3-7 0zM250 386l-3 2-1 6 3 3 5 0 3-7-2-3zM277 376l-2 5 1 2 5 1 3-4-3-4zM180 376l0 7 5 4 9 0 5-5 0-5-6-5-7 0zM274 203l-8 4-7 8-5 13 0 13 5 13 6 7 10 5 10 0 9-4 8-9 4-11 0-14-5-13-6-7-9-5zM338 125l-2 5 0 19 14 49 4 30 0 55-7 78 0 22 2 9 5 9 20 18 13 6 15 1 15-5 47-23 21-7 40-9 18-9 10-12 7-15 8-27 3-20 1-24-3-29-7-27-7-13-10-9-17-7-77-14-51-13-34-6-11-9-13-22zM263 119l-3 3-1 5 3 4 5 1 4-3 1-6-4-4zM225 112l0 7 7 5 7 0 4-2 4-6-2-6-5-3-9 0zM288 109l1 7 9 5 11-3 3-5-2-7-7-4-9 1zM319 89l-3 4 1 7 4 3 7 0 4-5-1-7-4-3zM194 35l1 4 9 6 14-1 6-5 1-3-1-4-8-6-13 0-4 2zM482 17l1 7 10 7 8 2 20-1 13 8 14-1 5-3 3-5-1-5-5-5-13-4-3-4-9-5-9-2-22 2-8 4z"/><path fill="#898989" fill-rule="evenodd" d="M138 572l-4 2-2 7 2 4 7 2 4-2 2-7-2-4zM278 542l-5 4-1 5 4 5 5 1 5-4 1-5-4-5zM80 540l-6 6 0 7 6 6 7 0 6-6 0-7-6-6zM108 536l-4 2-2 7 2 4 7 2 4-2 2-7-2-4zM0 491l0 17 12 1 6-2 8 4 12 0 9 6 9 0 6-3 0 14 5 7 7 1 6-5 1-12-2-4-5-4-9 2-1-8-4-5-14-3-9-5-11 0-7 2-7-4zM197 483l-4 4 0 5 4 4 5 0 4-4 0-5-4-4zM175 452l-7 5-1 11 3 5 7 2 4-2 3-5 0-9-5-6zM299 432l-3 1-6 8-1 15 3 7 4 4 5 1 6-4 3-6 1-12-4-10zM361 428l-4 3-1 7 3 4 7 1 5-5 0-6-4-4zM329 416l-5 3-1 8 5 4 4 0 4-3 1-7-3-4zM292 410l1 5 3 2 7 0 4-3 0-4-5-4-5 0zM230 403l-4 4 0 5 3 4 11 1 4-3 1-7-4-4zM316 394l-5 3-1 4 2 3 8 0 1-7zM208 394l1 5 4 2 5 0 5-4 0-3-5-4-5 0zM249 387l-3 4 1 4 3 2 5-1 2-4-3-5zM278 376l-2 2 0 4 4 2 3-2 0-4zM181 376l-1 6 6 5 9-1 4-5-1-5-7-4-6 1zM277 203l-10 4-7 7-5 11-1 14 6 16 7 7 6 3 10 1 10-4 9-10 3-8 1-13-5-15-8-9-6-3zM419 190l-12 3-11 6-14 14-8 13-5 16-3 21 0 44 5 20 6 12 15 18 22 14 15 4 16 0 19-5 14-7 20-18 13-23 6-21 2-16-1-21-3-15-10-24-7-10-9-8-12-7-22-7-18-3zM262 120l-2 2 1 8 9 0 2-4-1-4-5-3zM227 110l-2 7 6 6 9 0 6-6 0-4-5-5-8-1zM289 108l1 8 6 4 10-1 5-6-2-7-5-3-9 0zM323 88l-6 4 0 6 3 4 5 1 5-3 1-7-2-3zM196 32l1 8 6 4 13 0 7-6 0-6-11-6-9 1zM484 19l1 4 10 7 9 2 19-1 6 6 5 2 14-1 6-6 0-5-3-4-6-3-8-1-7-7-10-4-15-1-10 2-6 3z"/><path fill="#8e8e8e" fill-rule="evenodd" d="M137 573l-4 4 0 5 4 4 5 0 4-4 0-5-4-4zM277 543l-4 4 0 5 4 4 5 0 4-4 0-5-4-4zM82 540l-7 5-1 6 5 7 6 1 7-5 1-6-5-7zM107 537l-4 4 0 5 4 4 5 0 4-4 0-5-4-4zM69 512l-5 4-2 10 5 8 7 1 5-4 2-10-5-8zM0 492l0 15 5 2 13-3 11 5 11 0 9 6 8-1 6-5 0-6-4-5-5-2-8 0-8-5-9-1-10 3-9-5zM199 483l-5 3-1 4 3 5 4 1 5-3 1-4-3-5zM174 453l-6 5-1 8 3 6 3 2 5 0 5-5 1-7-5-8zM297 434l-4 3-3 6 0 14 5 8 8 1 6-8 1-12-3-8-4-4zM360 429l-3 3 1 8 3 2 6 0 3-3 0-7-3-3zM328 417l-4 3-1 5 4 5 5 0 4-4 0-5-2-3zM292 412l3 4 7 1 5-6-4-4-7 0zM226 409l1 4 6 4 5 0 6-4 0-6-4-4-9 0zM314 395l-3 3 0 4 6 3 3-2 1-5-3-3zM209 393l0 5 2 2 6 1 5-3 0-5-3-2-7 0zM248 388l-1 6 2 2 5 0 2-2-1-6zM277 377l-1 4 5 2 2-4-2-2zM181 377l0 5 4 4 9 0 4-4-1-6-4-3-7 0zM275 204l-7 3-8 8-5 13 0 13 5 13 7 7 9 4 9 0 7-3 8-8 5-13 0-13-4-11-8-9-9-4zM263 120l-3 3 0 4 2 3 5 1 4-3 0-5-3-3zM227 111l-1 7 6 5 7 0 6-5-1-7-5-3-7 0zM293 105l-4 6 4 7 11 1 5-4 1-6-5-5-7-1zM322 89l-4 3-1 5 3 4 6 1 4-4 0-5-2-3zM197 33l1 7 8 4 10-1 6-5-1-7-8-4-10 1zM486 19l1 4 9 6 9 2 19-1 4 5 6 3 11 0 8-6 0-5-4-4-13-3-9-8-8-3-13-1-10 2-6 3z"/><path fill="#939393" fill-rule="evenodd" d="M138 573l-4 3-1 5 3 4 5 1 4-3 1-5-3-4zM278 543l-4 3-1 5 3 4 5 1 4-3 1-5-3-4zM81 541l-5 4-1 7 4 5 7 1 5-4 1-7-4-5zM108 537l-4 3-1 5 3 4 5 1 4-3 1-5-3-4zM69 513l-6 7 0 7 4 6 7 1 6-7 0-7-4-6zM0 493l0 13 4 2 7 0 7-3 9 5 13 0 8 6 7 0 7-6 0-5-3-4-4-2-9 0-10-6-9 0-6 3-10-5-7 0zM198 484l-4 3 0 5 3 3 5 0 3-3 0-4-2-3zM174 454l-5 4-1 9 5 6 5 0 4-4 1-8-4-6zM297 435l-6 8-1 9 3 9 3 3 5 1 6-5 2-14-4-9-3-2zM362 429l-4 3-1 4 3 5 4 1 5-3 1-5-3-4zM327 418l-3 3 0 5 3 3 6 0 3-5-1-4-2-2zM294 409l-1 4 3 3 7 0 3-3 0-3-4-3-5 0zM228 407l-1 4 5 5 9-1 3-5-1-3-6-4-4 0zM315 395l-3 2-1 4 3 3 4 0 2-2 0-5zM209 395l0 2 4 3 5 0 4-4-4-5-5 0zM251 387l-3 2-1 4 3 3 3 0 3-5zM279 377l-2 1 0 4 3 1 2-4zM190 373l-5 1-3 3 0 5 5 4 7-1 3-3 0-5zM276 205l-9 4-7 8-4 10 0 15 4 10 6 7 7 4 11 1 6-2 9-8 5-12 0-14-3-9-7-9-10-5zM265 120l-4 3 0 5 2 2 5 0 3-5zM231 109l-4 4 0 5 3 3 9 1 5-4-1-7-7-3zM297 104l-6 4-1 4 3 5 9 2 6-4 1-5-4-5zM321 90l-3 3 0 5 3 3 7-1 2-4-1-4-3-2zM198 33l0 5 7 5 9 0 7-5 0-5-7-5-9 0zM489 17l0 5 8 6 9 2 18-2 10 9 11 0 7-6-3-7-8-3-7 0-8-8-8-3-18 0-7 3z"/><path fill="#9a9a9a" fill-rule="evenodd" d="M137 574l-3 3 0 5 3 3 5 0 3-3 0-5-3-3zM277 544l-3 3 0 5 3 3 5 0 3-3 0-5-3-3zM80 542l-4 4 0 7 4 4 7 0 4-4 0-7-4-4zM107 538l-3 3 0 5 3 3 5 0 3-3 0-5-3-3zM69 514l-5 6 0 7 3 5 7 1 5-6 0-7-3-5zM0 494l0 11 4 2 8 0 7-3 8 5 13 0 8 6 7 0 6-5 0-5-2-3-4-2-9 0-10-6-9 0-6 3-10-5-7 0zM197 485l-2 2 0 5 2 2 5 0 2-2 0-5-2-2zM174 455l-5 5 0 7 3 4 5 1 5-5 0-6-3-5zM297 437l-4 4-2 10 3 9 4 3 4 0 5-6 1-10-4-9zM362 430l-3 2-1 5 2 3 5 1 3-2 1-5-2-3zM329 418l-5 6 4 5 3 0 3-2 1-5-2-3zM294 410l0 3 5 3 6-3-2-5-6 0zM231 405l-3 5 4 5 7 0 4-6-3-4zM314 396l-2 5 4 3 4-5-1-2zM210 394l2 5 7 0 2-2-1-4-7-1zM250 388l-2 5 5 2 2-5zM280 380l-1-1-1 2zM184 376l-1 6 2 2 7 1 3-2 1-5-3-3-5-1zM281 208l8 2 8 8 5 13 0 9 0-13-4-9-8-8zM264 121l-3 3 0 3 3 3 3 0 3-3-1-5zM228 113l0 5 4 3 7 0 4-3 0-5-3-3-6-1zM293 107l-2 5 6 6 5 0 6-5-3-7-8-1zM323 90l-5 6 3 4 4 1 3-2 1-5-2-3zM199 34l1 5 5 3 9 0 6-5-1-5-5-3-9 0zM491 18l1 5 6 4 13 2 13-3 8 9 6 2 7-1 5-4 0-5-3-3-6-2-10 0-5-7-9-4-19 1z"/><path fill="#a3a3a3" fill-rule="evenodd" d="M139 574l-5 6 6 5 5-6zM279 544l-5 6 6 5 5-6zM80 543l-3 3 0 7 3 3 7 0 3-3 0-7-3-3zM109 538l-5 6 6 5 5-6zM69 515l-4 4 0 9 4 4 5 0 4-4 0-9-4-4zM0 495l0 9 8 3 12-4 6 5 14 0 7 6 9 0 4-4 0-5-4-4-10 0-9-6-6-1-10 4-3 0-6-5-4-1zM199 485l-4 5 5 4 4-5zM173 457l-3 4 0 5 6 5 4-3 1-7-3-4zM297 439l-4 6 0 9 5 7 3 0 5-6 0-11-4-5zM361 431l-2 2 0 5 2 2 5 0 2-2 0-5-2-2zM328 419l-3 3 0 3 3 3 5-1 1-5-1-2zM295 411l3 4 6-2-2-4-5 0zM232 406l-2 5 3 3 5 0 3-3-2-5zM314 397l-1 4 2 2 3-1 1-3zM211 395l4 4 5-3-2-3-5 0zM251 389l-2 4 4 1 1-3zM184 381l4 3 6-2 0-4-2-2-6 0zM264 122l-2 5 5 2 2-5zM229 114l0 3 3 3 7 0 3-3 0-3-6-4zM293 109l0 5 5 3 6-1 3-4-5-6-5 0zM322 91l-3 3 0 3 3 3 5-1 1-5-1-2zM201 33l0 5 5 3 7 0 5-3 0-5-5-3-7 0zM529 26l1 5 8 5 6-1 5-4 0-3-8-5-6 0zM494 17l0 5 9 5 13 0 8-3 2-3-3-6-7-3-13 0z"/><path fill="#adadad" fill-rule="evenodd" d="M138 575l-3 3 0 3 3 3 3 0 3-3 0-3-3-3zM278 545l-3 3 0 3 3 3 3 0 3-3 0-3-3-3zM79 545l0 9 9 0 0-9zM108 539l-3 3 0 3 3 3 3 0 3-3 0-3-3-3zM69 516l-4 8 4 7 5 0 3-4 0-7-3-4zM21 501l6 6 14 0 5 5 5 2 8-4 0-5-7-4-8 1-6-5-6-2-9 3zM7 493l-7 4 0 5 8 4 4-1 5-5-4-5zM198 487l-1 4 4 1 1-4zM174 459l-2 2 0 5 4 3 3-3 0-5zM299 442l-4 5 0 6 3 4 4 0 2-3 0-8zM362 432l-2 5 5 2 2-5zM328 420l-2 4 2 3 3 0 2-5zM235 409l-1 1 2 1 1-1zM265 123l-1 4 3 0 0-3zM232 114l1 4 6-1 0-3-3-2zM297 108l-2 5 2 2 5 0 2-5-2-2zM323 92l-3 4 1 2 4 1 2-5zM203 34l0 3 5 3 8-3 0-3-5-3zM532 27l1 5 3 2 7 0 4-4-4-5-8 0zM497 19l2 4 5 2 11 0 5-2 2-3-2-4-5-2-11 0-5 2z"/><path fill="#b9b9b9" fill-rule="evenodd" d="M138 576l-2 5 5 2 2-5zM278 546l-2 5 5 2 2-5zM81 545l-2 2 0 5 2 2 5 0 2-2 0-5-2-2zM108 540l-2 5 5 2 2-5zM70 517l-3 3 0 7 3 3 3 0 3-3 0-7-3-3zM24 500l0 3 3 3 15-1 6 7 7 0 3-3 0-3-3-3-13 0-6-6-9 0zM1 498l0 3 3 3 7 0 3-2 0-4-3-3-7 0zM363 433l-1 4 3 0 1-2zM329 422l-1 2 3 1 0-3zM323 94l-1 2 2 1 1-2zM536 28l1 3 5 0 0-3zM504 19l3 3 5 0 3-2-3-3-5 0z"/><path fill="#c7c7c7" fill-rule="evenodd" d="M139 577l-2 3 3 2 2-3zM279 547l-2 3 3 2 2-3zM83 546l-3 4 4 3 3-4zM109 541l-2 3 3 2 2-3zM70 520l-2 4 4 4 3-5-2-3zM46 506l5 5 5-3-4-4zM27 500l0 3 3 2 7-3-4-4zM7 496l-4 4 5 3 4-4z"/></g></g>
<g id="sR2"><g transform="translate(0.25 0.25) scale(0.5)"><rect x="-4" y="-4" width="608" height="608" fill="#808080"/><path fill="#7c7c7c" fill-rule="evenodd" d="M279 590l-3 5 1 4 9 0-1-6-3-3zM454 534l-5 1-4 4-1 8 2 2 4 0 4-3 2-4 0-6zM421 518l-7 1-6 10 1 13 7 6 4-1 5-5 2-5 0-11zM599 396l-11 3-11 10-1 10 4 5 7 3 12-1zM57 309l-7 5-1 8 5 7 8 1 7-5 1-8-5-7zM547 277l-1 5 3 7 12 9 16 0 4-2 4-6-2-9-11-8-12-2-8 2zM241 276l-2 18 3 12 5 10 16 16 19 9 7-1 13-13 18-8 16 1 16 9 6 0 5-3 16-19 4-11 0-8-4-14-9-14-10-10-19-11-36-8-13 0-13 5-35 34zM172 104l-7-5-14 1-12 9-2 10 4 5 6 2 13-2 11-9 2-4z"/><path fill="#797979" fill-rule="evenodd" d="M281 593l-2 1 0 5 4 0 0-4zM453 536l-6 3-1 7 3 1 5-4 1-4zM420 522l-3 0-5 4-2 7 2 8 5 3 5-3 3-8-1-7zM599 400l-6 1-8 5-4 8 4 7 6 2 8-1zM56 311l-5 5 0 7 5 5 7 0 5-5 0-7-5-5zM553 278l-2 4 1 5 9 7 11 1 7-5-1-8-9-6-9-1zM359 273l-5 8 1 8 6 9 3 2 7 0 4-5 0-10-8-11zM292 240l-10 3-10 6-7 9 0 8 3 10 1 17 6 15 10 10 12 3 13-5 11-10 5-14 0-14-4-16-7-12-10-8zM168 106l-7-4-9 1-8 5-3 5 0 4 5 5 13-1 9-8z"/><path fill="#767676" fill-rule="evenodd" d="M452 538l-4 2-1 3 2 2 4-4zM420 526l-4 0-3 4 0 7 3 3 4-1 2-3 0-7zM599 404l-4 0-8 6-1 4 3 4 10 0zM58 312l-5 4-1 5 4 5 5 1 5-4 1-5-4-5zM556 283l1 4 6 4 8 0 4-4-1-3-7-5-7 0zM362 278l-3 3 1 9 3 4 6 1 3-4-1-7-5-6zM290 244l-17 9-3 5 2 31 5 14 9 10 10 3 8-2 11-10 4-10 1-20-2-10-5-10-11-9zM160 105l-6 0-7 4-2 7 3 3 9 0 6-4 2-5z"/><path fill="#717171" fill-rule="evenodd" d="M418 531l-2 2 1 2 2-2zM599 409l-3 0-2 4 4 0zM57 314l-3 3 0 5 3 3 5 0 3-3 0-5-3-3zM364 284l0 4 3 1 0-4zM289 247l-9 4-7 9 1 26 7 18 11 8 7 0 7-3 8-9 3-10 0-19-3-10-7-10-7-4zM160 110l-4-2-5 2-1 5 5 1 4-2z"/><path fill="#6c6c6c" fill-rule="evenodd" d="M59 316l-3 4 4 3 3-4zM291 249l-8 3-6 6-1 27 6 16 8 7 9 1 6-3 8-10 2-8 0-15-6-16-9-7z"/><path fill="#656565" fill-rule="evenodd" d="M289 252l-6 3-4 5-1 25 6 15 6 5 9 1 6-3 6-8 2-8 0-13-3-11-6-8-5-3z"/><path fill="#5c5c5c" fill-rule="evenodd" d="M291 254l-9 6-2 8 0 17 4 11 5 5 10 2 3-1 7-8 2-20-4-12-6-6z"/><path fill="#525252" fill-rule="evenodd" d="M291 257l-7 6-2 19 4 12 5 5 7 1 6-3 3-5 2-15-2-9-4-7-4-3z"/><path fill="#464646" fill-rule="evenodd" d="M292 260l-5 4-2 5 0 17 4 8 5 3 4 0 7-6 1-18-6-11z"/><path fill="#383838" fill-rule="evenodd" d="M292 265l-4 7 0 13 5 7 5 1 5-6 0-12-5-9z"/><path fill="#838383" fill-rule="evenodd" d="M491 569l1 5 6 3 6 0 9-4 4 8 8 4 8 0 6-5-1-6-8-5-10 0-7 3-1-3-7-5-10 1zM145 561l-2 2 1 6 6 5 6 0 2-3-2-7-5-3zM107 560l0 7 6 4 6 1 6-5-1-3-6-5-7-1zM90 546l-3-5-11-2-11 5-10 13-15-10-12-1-11 9-10 3-3 7 3 7 6 4 3 0 3-3 1-6 3-1 14 10 12 1 6-5 4-7 10 1 13-5 7-8zM186 541l-5-3-11 3-8 10 0 9 4 3 6 0 8-4 7-10zM146 514l-6-4-7 0-9 4-4 8 6 6 10 0 5-2 5-5zM44 503l-6 5-2 5 0 15 3 7 6 6 8 1 5-4 3-6 0-15-7-12-3-2zM296 486l-7 3-8 9-3 9 0 12 9 10 9 4 7 0 7-3 6-6 4-10 0-9-4-10-6-6-7-3zM193 466l-4-2-9 0-11 5-11 13-2 6 2 10 5 4 12 0 11-6 8-9 3-8 0-7zM121 450l-7-3-9 0-11 6-10 15-1 11 2 5 6 4 8 0 8-4 8-8 9-14 1-6zM486 384l-11 0-11 9-3 10 4 6 11 0 10-8 3-6 0-7zM9 383l0 9 9 9 5 2 8 0 4-3 0-10-8-8-5-2-9 0zM310 334l0 5 6 4 10-1 7-6-1-5-4-3-10 0zM534 285l-5 6-1 9 4 10 8 5 5-2 3-5 0-10-8-12zM463 244l-4 1-5 5-3 9 2 11 5 4 5 0 3-2 5-9-1-13zM333 219l0 4 3 2 6 0 4-3-1-4-3-2-5 0zM354 201l-2-2-9 2-3 4 1 4 8 0 3-2zM89 194l-4-2-7 0-13 7-7 12 1 7 4 4 9 1 12-6 8-13 0-5zM457 173l0 3 3 3 6 2 4-1 3-4-7-6-5 0zM247 167l-7 3-10 14-4 15 0 18 4 15 5 9 7 6 10 1 5-2 11-14 4-14 1-13-2-14-8-17-8-6zM393 176l0 6 4 5 5 3 13 3 9 0 17-5 6-8-1-4-5-5-16-5-17 1-10 4zM76 149l-7-4-10 1-7 5-2 6 6 6 10 0 9-5 2-4zM30 105l0 7 3 3 5 0 0-6-3-3zM130 104l-5 1-6 8 1 7 4 1 6-4 2-4 0-7zM143 83l-4-3-11 3-5 6 0 8 6 3 9-4 5-6zM406 45l-5 0-7 4-6 9-10 10 0 7 3 7 13 11 8 0 7-4 8-15 0-15-2-6zM342 19l-4 0-5 5-1 4 2 4 4 0 4-3 2-4 0-4zM0 19l0 21 8 7 11 4 15 1 15-4 12-10 2-5-2-12-10-9-11-4-15-1-10 2-7 3z"/><path fill="#868686" fill-rule="evenodd" d="M518 573l0 5 4 4 10 1 4-3-1-6-5-3-5-1zM494 568l0 5 3 2 8 0 4-3 0-3-3-3-9 0zM147 564l0 5 6 2 0-5zM109 562l1 5 8 3 4-3-4-6-6-1zM52 564l-8-11-12-4-19 11-5 0-2 6 5 7 5 0 1-8 5-2 4 1 12 9 7 1 6-4zM177 546l-7 4 1 5 7-3 1-4zM84 546l-5-3-10 3-5 5-1 7 4 3 7 0 4-2 6-6zM137 518l-4-1-3 3 5 1zM46 507l-6 5-1 15 6 9 7 1 6-7 0-12-2-5-5-5zM297 489l-4 1-8 7-4 9-1 9 2 5 11 9 9 1 7-3 5-5 3-7 0-11-3-7-8-7zM188 469l-8-1-6 2-10 9-3 6 0 7 4 5 12 0 12-9 3-6 0-9zM119 453l-4-2-10 0-6 3-10 12 0 14 4 3 7 0 6-3 15-19 0-5zM480 389l-9 3-3 5 1 6 5 1 7-5 2-7zM15 386l-1 4 3 5 6 3 7-2 0-4-5-6zM325 333l-4-1-4 4 3 2 4-1zM535 289l-4 5 0 8 5 8 5 1 5-6 0-6-5-9zM464 248l-6 1-4 7 0 10 5 5 5-1 5-9-1-9zM343 220l-4-2-4 3 2 2 4 0zM85 198l-9-1-6 3-6 7 0 8 3 3 7 0 6-3 5-5 2-5zM461 174l3 4 5-2-2-3zM248 172l-7 3-9 13-3 11 0 19 2 9 5 10 6 6 8 2 6-2 7-7 4-8 3-12 0-15-2-10-6-12-4-4zM397 178l0 3 4 5 10 4 21-1 6-3 4-5-1-5-6-5-15-3-16 3zM54 155l2 4 6 2 7-2 4-7-5-4-6 0zM31 108l0 2 5 3 0-4zM130 107l-4 0-4 3-1 7 2 2 6-3 2-4zM139 85l-8 0-4 4 0 5 8 0 4-4zM407 51l-4-1-8 4-11 16 0 8 8 9 12 0 9-12 1-12-3-8zM341 22l-3 0-3 3 1 4 5-2zM4 26l0 7 6 8 5 3 13 3 18-4 9-10 0-7-6-8-5-3-13-3-18 4z"/><path fill="#898989" fill-rule="evenodd" d="M520 574l0 4 4 3 5 1 5-3 0-3-3-3-8-1zM496 569l2 5 6 0 3-3-3-4-6 0zM111 563l2 4 6 0-1-4zM10 562l-2 5 3 4 3 0 1-6-1-2zM20 559l1 2 8 2 6 6 5 2 4 0 4-3-1-8-6-6-5-2-6 1zM80 550l-2-2-5 0-4 3-1 4 2 2 4 0zM46 511l-4 4-1 9 6 9 5 0 4-7 0-6-5-8zM295 492l-4 2-7 9-2 8 1 6 9 9 12 1 8-6 3-7 0-9-3-7-8-6zM185 472l-8 0-11 9-2 7 2 5 5 2 6-1 9-7 3-10zM117 455l-8-2-8 3-9 11 0 9 3 3 9-2 13-15zM536 292l-3 4 0 5 6 7 4-3 1-6-5-7zM464 251l-6 1-3 7 1 6 3 3 5-1 3-5 0-7zM81 202l-5-1-4 2-4 6 1 4 5 1 4-2 4-5zM248 176l-5 2-9 12-3 11 0 16 6 17 8 7 8 0 7-5 5-9 3-12 0-13-6-18-6-6zM401 177l0 5 3 3 13 4 11-1 10-6 0-5-3-3-13-4-11 1zM58 154l3 4 8-3-2-4-5 0zM129 109l-4 0-2 2 0 6 6-3zM405 55l-5 0-3 2-8 14 1 9 6 4 9-2 6-11-1-11zM10 27l0 5 3 5 10 5 16-1 7-4 3-5 0-5-3-5-10-5-16 1-7 4z"/><path fill="#8e8e8e" fill-rule="evenodd" d="M522 576l4 4 4 0 2-2-3-4-5 0zM498 569l0 3 3 1 4-2-3-3zM11 565l0 3 2 0zM31 557l0 4 6 6 4 1 4-3-4-8-5-2zM46 516l-2 3 0 5 4 5 2 0 3-4 0-4-3-5zM296 494l-10 9-2 10 2 5 5 5 12 2 9-8 1-12-6-9-4-2zM184 477l-3-2-7 2-5 6 0 6 6 2 6-3 4-6zM114 457l-6-1-6 3-5 6-1 7 2 2 5-1 10-10zM537 296l-1 5 3 3 2-2 0-4zM460 254l-3 6 2 5 3 0 3-4 0-5zM247 180l-8 6-4 8-2 8 0 14 6 16 5 5 8 1 7-5 4-7 3-11 0-12-6-17-8-6zM405 178l1 5 11 4 13-2 4-4-1-5-11-4-13 2zM127 111l-2 0 0 4 2-1zM405 60l-5 0-6 9 0 7 3 3 5 0 5-6 1-7zM17 28l3 7 8 3 7-1 7-6-3-7-8-3-7 1z"/><path fill="#939393" fill-rule="evenodd" d="M298 496l-9 6-2 4 0 9 4 5 9 3 4-1 5-5 2-10-4-8zM247 184l-7 6-3 6-2 17 6 17 6 4 5 0 7-6 3-6 2-16-5-16-5-5zM411 178l1 4 7 2 9-3-1-4-6-2z"/><path fill="#9a9a9a" fill-rule="evenodd" d="M300 499l-5 1-6 8 1 7 9 5 4-1 5-6-1-9zM247 189l-5 4-3 6-1 16 3 9 5 5 4 1 7-5 3-6 1-15-4-11-5-4z"/><path fill="#a3a3a3" fill-rule="evenodd" d="M296 504l-3 3 0 6 7 2 3-2 1-5-3-4zM248 195l-5 5-2 10 3 10 6 4 7-8 0-13-4-7z"/></g></g>
<g id="sL3"><g transform="translate(0.25 0.25) scale(0.5)"><rect x="-4" y="-4" width="608" height="608" fill="#808080"/><path fill="#7c7c7c" fill-rule="evenodd" d="M497 426l-2-3-6-2-9 1-12 6-4 6 0 3 2 3 5 2 11-1 10-5 3-3zM194 107l-21 7-28 17-21 21-18 28-11 29-6 31-1 28 4 33 9 31 14 30 23 32 21 20 22 15 31 13 27 5 36-2 7-4 6-11 6-5 14 0 8-12 0-3-5-2 1 7-5 5-11 1-8-6 0-6 8-6 8 0 4 2-1-8 3-4 4-2 9 2 2-3 10-40 4-34 0-51-3-20-19-40-14-56-5-14-6-9-14-10-26-8-1 12-9 7-9 1-9-4-4-5-1-7 3-8zM204 393l8-6 10 1 5 6-1 6 5-2 8 0 5 2 6 7 0 6-10 9-9 0-6-3-4-5-1-5 2-6-5 2-9-2-4-5zM250 383l5 1 5 6-1 6-5 4-6 0-5-6 0-5zM279 372l4 1 4 5-1 6-4 3-6 0-4-5 0-5zM181 370l10-2 9 4 3 4-1 9-8 6-10 0-4-2-5-6 0-6zM279 198l8 1 8 4 10 11 5 14-1 17-5 11-7 8-13 6-8 0-11-5-8-8-6-15 0-16 5-13 11-11zM263 115l8 1 5 8-1 5-7 6-7-1-5-6 1-8z"/><path fill="#797979" fill-rule="evenodd" d="M192 158l-23 14-14 14-9 13-12 28-4 19-1 26 3 23 9 28 13 24 19 22 3 1 7-3 11 0 10 7 2 5-2 9 10-3 7 1 8 7 1 3 12 1 1-10 8-5 7 3 3 5-1 7-6 6 33 3 7-4 11 0 1-5 4-5 11-4 7-19 5-22 3-45-2-22-5-21-16-33-2 17-5 12-9 10-10 5-13 0-10-5-10-12-4-13 0-13 3-10 4-7 9-9 8-4 13 0 11 5 8 7-5-15-8-14-10-10-15-9-16-6-15-3-22 0zM277 372l5 0 5 5 0 6-5 5-7-1-4-5 1-6z"/><path fill="#767676" fill-rule="evenodd" d="M196 200l-12 10-9 12-9 21-3 16 0 18 3 17 4 12 10 19 6 8 23 21 44 24 17 6 1-8 4-4 5-1 8 6-2 12 18 1 8-3 8-9 5-11 7-35 0-22-4-21-16-33-2-2-11 11-9 5-15 1-6-2-12-10-6-11-2-8 1-19 11-21-2-3-19-6-21 0-11 3z"/><path fill="#717171" fill-rule="evenodd" d="M216 233l-12 13-5 12-2 11 2 21 5 14 9 16 10 13 17 17 31 21 10-1 10 7 7 1 13-3 8-8 5-11 4-30-6-28-12-22-7-9-15 5-13 0-11-5-11-12-5-12-2-14-2-2-17 1z"/><path fill="#6c6c6c" fill-rule="evenodd" d="M236 259l-6 6-4 8-1 20 7 22 9 15 21 22 17 10 10 3 14 0 8-4 5-6 4-10 1-20-5-18-10-18-12-14-18-1-9-3-19-16z"/><path fill="#656565" fill-rule="evenodd" d="M252 277l-7 9-2 10 3 16 9 17 13 14 11 7 10 3 8 0 7-3 6-8 2-14-4-16-7-13-14-15-10-6-10-3-11 0z"/><path fill="#5c5c5c" fill-rule="evenodd" d="M263 296l-3 7 0 6 9 19 14 10 6 1 6-2 4-6 1-6-2-9-6-11-14-11-10-1z"/><path fill="#838383" fill-rule="evenodd" d="M138 571l-5 3-2 7 3 5 7 2 5-3 2-7-3-5zM279 541l-6 3-2 6 3 6 6 2 6-3 2-6-3-6zM83 538l-9 5-2 7 5 9 7 2 9-5 2-7-4-8zM110 535l-6 2-3 6 2 6 5 3 7-2 3-6-2-6zM0 490l0 19 7 2 12-2 6 3 12 0 5 4 9 3 9-2 1 12 5 7 9 1 5-4 2-4 0-11-2-4-5-4-8 0-6-11-14-3-6-4-9-2-14 2-10-4zM197 482l-5 4 0 7 4 4 7 0 4-4 0-6-3-4zM172 451l-6 6-1 10 6 9 6 1 7-5 2-11-5-9zM299 429l-5 2-6 9-1 16 4 10 4 4 7 1 6-4 4-7 1-16-4-9-5-5zM290 410l1 5 8 4 5-1 5-4-1-6-5-3-7 0zM225 405l-1 8 5 5 10 1 8-6 0-6-6-6-7-1zM314 393l-5 4 0 5 3 4 5 1 5-3 1-7-5-4zM206 395l1 4 4 3 9 0 5-6-6-7-7 0-4 2zM250 385l-5 4 0 5 4 4 5 0 4-4 0-4-3-4zM277 374l-3 3 0 6 6 3 4-2 1-7-4-3zM179 375l-1 7 6 6 8 1 8-5 1-6-2-4-5-3-9 0zM277 201l-12 5-7 8-5 12 0 17 5 12 7 8 7 4 12 1 10-4 10-12 3-9 0-16-5-13-6-7-9-5zM263 119l-4 4 0 5 4 4 5 0 4-4 0-5-4-4zM225 111l-1 6 2 4 5 3 9 0 7-6-1-7-8-5-8 1zM288 108l0 7 8 6 8 0 9-8-2-7-7-4-9 0zM335 74l-8 12-9 3-2 3 0 7 3 4 6 3-2 38 3 27 4 12 9 16 6 19 3 23 0 46-4 47-12 78-9 6-2 7 3 6 8 5 3 14 6 9 19 14 19 9 17 5 21 3 19-1 3-2-12-8-8-9-3-8 0-8 3-10 8-12 20-17 15-8 24-8 12-2 23 0 15 4 8 4 15 13 6 1 6-3 11-11 9-13 8-16 0-190-7-12-11-11-14-7-13-2-33 2-38-2-30-6-23-8-18-9-11-8-10-10-10-17-17-5-21-16zM429 74l6 2 16 0 7-2-8-3-13 0zM194 34l2 7 7 4 6 1 11-3 5-6-3-8-10-4-12 2zM480 18l1 6 9 7 11 3 19-1 15 8 15-2 6-6 0-7-5-5-10-3-8-7-13-5-13-1-12 2-11 5z"/><path fill="#868686" fill-rule="evenodd" d="M138 572l-5 4-1 5 2 4 7 2 4-2 2-7-4-5zM278 542l-5 4-1 5 4 5 5 1 5-4 1-5-4-5zM80 540l-6 6 0 7 6 6 7 0 6-6 0-7-6-6zM108 536l-5 4-1 5 4 5 5 1 5-4 1-5-4-5zM0 492l0 15 3 2 15-2 8 4 12 0 9 6 9 0 6-3 0 14 7 8 7-1 5-7 0-9-2-4-5-4-9 2-2-10-7-5-10-1-9-5-11 0-4 2-10-4-9 0zM196 483l-4 6 1 4 6 4 4-1 4-6-1-4-3-3zM172 452l-6 8 0 7 3 6 7 3 8-6 1-9-6-9zM297 431l-7 7-2 6 0 12 6 11 8 2 6-5 3-6 1-11-4-11-6-5zM361 427l-5 4-1 6 3 5 7 2 6-4 1-7-4-5zM327 416l-5 6 1 6 4 3 6 0 4-4 0-7-4-4zM293 407l-2 7 3 3 9 1 5-4 0-5-4-3-6-1zM225 406l0 7 6 5 9 0 6-5-1-8-6-4-7 0zM312 394l-3 5 1 4 4 3 6-1 2-3 0-5-5-4zM209 391l-2 6 6 5 5 0 6-5-1-5-3-2-6-1zM249 386l-3 2-1 4 3 5 5 1 4-3 1-4-2-4zM278 374l-3 2-1 6 3 3 5 0 3-7-1-2zM182 373l-3 4 0 6 4 4 10 1 6-4 1-7-5-5-8-1zM276 202l-11 5-7 8-4 10-1 15 6 16 7 7 8 4 12 0 8-4 8-9 4-10 1-13-6-17-8-8-9-4zM340 137l-2 3 1 19 13 31 3 18 1 60-3 42 0 37 3 13 6 11 15 16 14 10 15 6 17 0 69-23 25-13 10-11 10-19 4-11 6-29 0-35-2-13-8-27-14-24-10-9-17-9-39-11-28-5-32 0-14 5-15 10-7 1-7-7-10-32zM262 120l-2 3 1 7 9 0 1-8-5-3zM227 110l-2 7 6 6 9 0 6-6-2-7-3-2-8-1zM290 107l-1 7 7 6 10-1 5-6-2-7-5-3-8 0zM323 88l-5 3-1 7 3 4 6 1 5-4 0-6-3-4zM196 33l0 5 8 6 11 0 8-6 0-5-8-6-11 0zM485 17l1 7 7 5 13 3 17-1 5 5 7 3 12-1 5-3 2-4-1-5-4-4-13-3-7-7-11-4-22 1-9 5z"/><path fill="#898989" fill-rule="evenodd" d="M137 573l-4 4 0 5 4 4 5 0 4-4 0-5-4-4zM277 543l-4 4 0 5 4 4 5 0 4-4 0-5-4-4zM80 541l-5 5 0 7 5 5 7 0 5-5 0-7-5-5zM107 537l-4 4 0 5 4 4 5 0 4-4 0-5-4-4zM70 512l-6 4-1 12 3 5 7 2 4-2 3-5 0-9-3-5zM0 493l0 13 3 2 16-2 7 4 13 0 8 6 9 0 7-6 0-4-3-5-8-3-7 0-8-5-11 0-4 2-4 0-6-4-9 0zM198 483l-4 3-1 5 3 4 5 1 4-3 1-5-3-4zM173 453l-6 7 0 7 5 7 7 0 4-4 1-10-4-6zM299 432l-3 1-6 8-1 15 6 10 7 1 5-4 3-6 1-8-5-14zM362 428l-5 4-1 4 4 6 4 1 6-4 1-5-4-5zM325 418l-2 3 1 7 3 2 6 0 4-6-1-4-3-3zM292 409l0 5 4 3 8 0 4-5-5-6-7 0zM226 406l0 7 8 5 8-2 4-6-1-4-5-4-9 0zM313 394l-3 3 0 5 3 3 6 0 3-4-1-5-3-2zM208 393l0 5 4 3 7 0 4-3 0-5-4-3-7 0zM250 386l-4 3 0 5 3 3 5 0 3-3 0-4-2-3zM277 375l-3 4 1 4 6 2 3-3 0-5-2-2zM181 375l-2 5 6 7 9 0 5-5-1-7-5-3-7 0zM435 227l-16 6-15 16-7 20 0 21 7 20 11 13 15 8 14 1 16-6 13-13 8-18 2-16-5-24-8-13-10-9-8-4zM276 203l-11 5-6 7-5 13 0 14 4 11 9 10 6 3 10 1 10-4 7-7 5-11 1-15-6-16-7-7-9-4zM264 120l-3 2-1 5 2 3 5 1 3-2 1-5-2-3zM227 112l0 7 7 4 8-2 3-4-1-5-6-4-8 1zM290 109l0 5 6 5 7 0 6-5 0-6-6-4-7 0zM322 89l-4 3 0 7 7 3 5-4 0-5-3-3zM197 35l2 5 6 3 12-1 5-6-2-5-5-3-11 0-4 2zM488 17l0 5 10 7 26 0 4 5 8 4 10-1 6-5 0-5-4-4-15-3-6-7-11-4-17 1-7 3z"/><path fill="#8e8e8e" fill-rule="evenodd" d="M135 575l0 9 9 0 0-9zM275 545l0 9 9 0 0-9zM82 541l-5 3-2 7 3 5 7 2 5-3 2-7-3-5zM105 539l0 9 9 0 0-9zM70 513l-5 4-2 8 5 8 5 1 5-4 2-8-5-8zM0 494l0 11 6 3 13-3 11 5 9-1 11 7 8-2 4-5 0-3-4-5-5-2-8 0-5-4-7-2-15 3-6-4-6-1zM197 484l-3 3 0 5 3 3 5 0 3-3 0-5-3-3zM173 454l-5 6 0 8 3 4 7 1 4-3 1-10-3-5zM297 434l-6 7-1 14 3 7 7 4 3-1 5-6 1-16-5-8zM362 429l-4 3-1 5 3 4 5 1 4-3 1-5-3-4zM329 417l-4 2-1 8 7 3 4-3 1-5-3-4zM295 407l-3 4 3 5 7 1 5-4 0-3-3-3zM229 404l-3 4 3 7 9 2 6-4 1-4-3-5-5-2zM315 394l-5 6 2 4 5 1 4-3 0-4-2-3zM209 393l0 5 5 3 6-1 3-4-1-3-5-3zM249 387l-3 5 6 5 5-6-3-4zM278 375l-3 3 0 4 2 2 5 0 2-6-3-3zM183 374l-3 5 3 6 8 2 6-3 1-7-4-4-5-1zM276 204l-9 4-7 7-5 12 0 16 4 10 7 8 7 4 9 1 9-3 9-9 5-13 0-11-5-14-6-7-7-4zM264 121l-2 1-1 5 1 2 5 1 2-1 1-5-1-2zM228 113l0 5 3 3 6 1 6-4 0-5-5-4-5 0zM292 108l-1 5 6 5 6 0 5-4 0-5-5-4-7 0zM322 90l-3 2-1 5 2 3 5 1 4-3 0-5zM199 34l1 5 5 3 9 0 6-5-1-5-5-3-9 0zM491 17l0 5 10 6 12 1 12-2 7 8 5 2 8-1 5-4 0-5-3-3-5-2-11 0-6-8-7-3-17 0z"/><path fill="#939393" fill-rule="evenodd" d="M138 574l-3 2-1 5 2 3 5 1 3-2 1-5-2-3zM278 544l-3 2-1 5 2 3 5 1 3-2 1-5-2-3zM82 542l-5 4-1 5 4 5 5 1 5-4 1-5-4-5zM108 538l-3 2-1 5 2 3 5 1 3-2 1-5-2-3zM71 514l-5 3-2 8 2 5 6 3 5-3 2-8-2-5zM0 495l0 9 6 3 13-4 10 6 11-1 5 5 5 2 8-2 3-5-3-6-5-2-9 0-10-6-5 0-8 4-3 0-9-6zM199 484l-5 6 6 5 5-6zM173 455l-4 5 0 7 4 5 5 0 4-5 0-7-4-5zM297 436l-5 6-1 12 3 7 7 3 6-6 1-13-6-9zM361 430l-3 3 0 4 2 3 6 1 3-3 0-5-3-3zM328 418l-3 2-1 5 2 3 5 1 3-2 1-5-2-3zM293 411l0 2 4 3 5 0 4-3 0-3-4-3-5 0zM231 404l-4 5 2 5 9 2 5-4 0-5-3-3zM314 395l-3 3 0 3 3 3 4 0 2-2 0-5zM209 395l4 5 5 0 4-4-4-5-5 0zM250 387l-3 3 0 3 3 3 3 0 3-3 0-3-3-3zM278 376l-2 2 0 4 6 1 1-5zM182 377l0 5 3 3 6 1 6-4 0-5-3-3-6-1zM273 207l-8 5-6 9-2 6 0 13 0-10 2-6 9-12 6-3 10 0 5 2 8 8 4 10 0 14-3 8-7 9 6-5 5-9 0-22-4-8-9-8-6-2zM264 122l-2 5 5 2 2-5zM229 115l4 5 5 0 4-4-3-5-7 0zM298 106l-4 2-1 5 3 3 5 1 5-3 0-5zM322 91l-3 5 3 4 5-1 1-5-1-2zM201 34l0 3 6 4 8-1 3-3 0-3-6-4-8 1zM530 26l0 5 5 4 9 0 4-3 0-5-4-3-6-1zM494 18l0 3 4 4 7 2 13-1 5-2 2-3 0-3-3-3-8-3-13 1z"/><path fill="#9a9a9a" fill-rule="evenodd" d="M138 575l-2 1-1 5 1 2 5 1 2-1 1-5-1-2zM278 545l-2 1-1 5 1 2 5 1 2-1 1-5-1-2zM83 543l-5 3-1 4 3 5 4 1 5-3 1-4-3-5zM108 539l-2 1-1 5 1 2 5 1 2-1 1-5-1-2zM69 516l-3 3-1 6 4 6 5 0 3-3 1-6-4-6zM21 500l1 4 4 3 15 0 9 7 6-1 3-3 0-5-3-3-10 0-9-6-7-1zM0 497l0 5 6 4 6-1 5-4 0-2-8-6-6 1zM199 485l-4 5 5 4 4-5zM174 456l-4 4 0 7 4 4 3 0 4-4 0-7zM298 438l-5 6-1 7 2 7 3 3 5 0 4-5 1-9-3-7zM361 431l-2 2 0 5 2 2 5 0 2-2 0-5-2-2zM328 419l-2 1-1 5 1 2 5 1 2-1 1-5-1-2zM294 411l3 4 5 0 3-3-3-4-5 0zM235 404l-6 4 1 5 7 2 4-2 1-5zM314 396l-2 5 2 2 4 0 1-5zM210 395l3 4 5 0 2-2-2-5-5 0zM250 388l-2 5 5 2 2-5zM278 377l-1 4 4 1 1-4zM183 378l0 3 6 4 7-4-3-6-7 0zM298 109l-2 2 1 2 4 1 2-3zM322 93l-1 4 4 1 2-2-1-2zM205 34l1 4 8-1-1-4-4-1zM533 28l3 5 7 0 2-2-2-5-8 0zM499 19l1 3 4 2 11 0 5-4-5-5-11 0z"/><path fill="#a3a3a3" fill-rule="evenodd" d="M138 576l-2 5 5 2 2-5zM278 546l-2 5 5 2 2-5zM81 545l-2 2 0 5 2 2 5 0 2-2 0-5-2-2zM108 540l-2 5 5 2 2-5zM71 517l-4 4 0 5 5 4 4-4 0-5zM24 500l0 3 4 3 8 0 5-2 8 8 5 0 4-4-4-5-12 1-7-7-7 0zM2 497l-1 3 4 4 6 0 3-3 0-3-4-3-5 0zM198 487l-1 4 4 1 1-4zM175 458l-3 2-1 4 1 3 4 2 3-2 1-4-1-3zM299 441l-3 2-2 7 2 6 5 2 3-3 1-7-2-5zM362 432l-2 5 5 2 2-5zM328 420l-2 5 5 2 2-5zM296 411l2 3 5-2-3-3zM235 406l-4 4 1 2 5 1 3-4zM315 397l-2 3 4 2 1-3zM215 393l-2 1 0 3 3 1 2-1 0-3zM250 390l0 3 3 0 0-3zM186 378l1 4 6-1-1-4z"/></g></g>
<g id="sR3"><g transform="translate(0.25 0.25) scale(0.5)"><rect x="-4" y="-4" width="608" height="608" fill="#808080"/><path fill="#7c7c7c" fill-rule="evenodd" d="M435 592l0 4 3 3 11-1 0-3-6-5-6 0zM429 430l-3 4 0 7 3 6 8 7 8 0 4-6-2-9-9-9zM487 289l-2 4 4 2 1-6zM444 279l-5 0-7 6-1 6 2 3 5 0 4-3 4-8zM232 241l1 9 12 11 1 5 8-1 6 4 0 8-2 4-9 7 3 11-2 19 10 12 13 8 9 2-2-4 0-7 10-8 14-3 9 3 6 8-2 8-10 8 16 0 25-8 23-18 7 8 9 0 8-6 4-7 1-6-4-7-17 0 1-16-7-20-13-15-14-9-10-4-22-4-33 2-18-9-11 0-7 2-8 5zM112 192l-6-4-6 0-10 4-9 11-1 6 2 4 5 3 8 0 9-4 9-11zM267 115l-3-1-7 5-2 4 2 5 4 0 6-4 2-4z"/><path fill="#797979" fill-rule="evenodd" d="M437 593l1 4 4 2 5-2-4-5zM432 433l-3 4 2 8 5 5 8 0 1-8-2-4-7-5zM394 306l-5-1-6 4-3 5 1 8 6 1 7-6 2-4zM442 281l-6 2-2 3 1 5 6-1 3-5zM289 248l-10 1-6 3-7 7-8 29 1 9 6 14 6 7 7 4 7 0 20-7 8-9 5-13 0-11-6-16-11-13zM246 239l1 5 7 0 4-4-2-4-6 0zM108 195l-4-3-11 2-7 7 0 9 3 2 12-2 7-8zM264 118l-4 2 0 4 5-3z"/><path fill="#767676" fill-rule="evenodd" d="M439 594l2 3 3 0-1-3zM433 437l-1 3 3 6 6 1 0-7-5-4zM391 308l-7 4 0 8 3 0 5-4 1-6zM440 283l-3 2 0 4 4-2 1-2zM283 252l-8 3-7 7-3 6-4 22 3 12 6 10 9 6 8 1 11-4 7-7 5-12 1-15-2-9-5-10-9-8zM104 197l-10 0-4 4-1 5 4 3 7-2 4-5z"/><path fill="#717171" fill-rule="evenodd" d="M390 313l-2-1-2 4zM282 255l-8 4-5 6-5 13-1 10 3 13 4 7 11 8 9 0 9-5 7-11 2-7 0-15-4-11-8-9-7-3z"/><path fill="#6c6c6c" fill-rule="evenodd" d="M281 258l-7 4-4 5-4 10-1 12 2 9 5 9 6 5 9 2 8-3 7-8 4-11 0-13-4-11-6-7-6-3z"/><path fill="#656565" fill-rule="evenodd" d="M283 260l-8 4-4 5-4 12 0 9 2 8 6 9 7 4 7 0 10-7 4-8 1-17-4-10-5-6-6-3z"/><path fill="#5c5c5c" fill-rule="evenodd" d="M285 262l-6 2-6 6-4 10 0 11 5 12 7 5 6 1 7-3 5-6 3-8 0-13-5-11-3-3z"/><path fill="#525252" fill-rule="evenodd" d="M283 265l-10 9-2 6 0 11 3 8 5 5 9 2 3-1 8-10 1-16-3-7-5-5z"/><path fill="#464646" fill-rule="evenodd" d="M282 268l-8 9-1 14 3 7 4 4 9 1 8-8 1-16-7-10z"/><path fill="#383838" fill-rule="evenodd" d="M283 271l-7 7-1 12 6 9 8 1 6-7 1-12-6-9z"/><path fill="#292929" fill-rule="evenodd" d="M284 275l-5 5-1 8 4 7 5 1 6-7 0-7-4-6z"/><path fill="#838383" fill-rule="evenodd" d="M148 598l22 1-2-10-7-6-3 0-6 4zM314 538l-3 4-1 9 6 14 8 8 8 4 9 1 5-2 4-5 1-8-3-10-10-12-10-5-6-1zM72 534l-5 0-4 7 2 2 4-1 4-5zM574 533l-3-2-6 1-6 6 0 5 3 2 8-2 4-5zM501 512l2 8 4 3 15 1 9-4 3-3 2-7-1-3-7-5-12-1-11 5zM566 484l-1 8 5 3 2-2 0-6-3-3zM542 453l-5 5 0 9 5 8 7 1 4-7-1-8-4-6zM30 439l-4 0-6 5 0 8 5 0 6-5 1-6zM172 448l0 6 3 4 5 2 13-2 12-7 4 8 8 6 9-2 6-9 0-9-6-9-9-2-10 3-9-6-5 0-11 4-5 4zM308 390l0 4 5 4 9 0 5-4-1-5-5-3-7 0zM23 370l-5 6 1 11 6 8 8 1 4-6-1-10-7-9zM194 358l-7 2-7 7-4 10 1 13 5 6 3 1 8-2 6-6 5-13 0-6-3-8zM287 328l0 5 7 5 10 0 8-5 0-6-6-5-11 0zM115 325l0 6 3 5 12 6 14-1 4-2 4-6 0-4-5-7-12-5-12 1zM208 309l-4-3-8-1-13 6-7 11 1 8 7 4 6 0 12-6 7-10zM499 295l-3-1-6 6-3 0-5-4-5 0-4 4-3 7 2 8 3 2 9 0 7-4 8-10zM222 286l-2 7 2 5 5 5 7 3 8-3 0-8-7-8-4-2zM0 290l0 19 4 3 16 2 7-2 8-7 0-11-8-7-16-2zM467 277l-10 0-7 6-5 11 4 7 10-1 9-8 2-12zM554 259l1 8 3 3 9 3 10-1 6-3 4-5 0-6-2-3-7-4-13 0-8 4zM31 255l1 10 11 9 6 2 10 0 8-6-1-10-11-9-6-2-10 0zM395 247l-1 10 6 9 10 6 6 2 11 0 7-3 4-6 0-6-3-6-13-10-17-2-6 2zM437 187l0 8 4 6 5 0 5-4 12 1 6-3 3-4 0-5-3-3-10 0-9 5-8-6zM224 179l-3 8 2 11 6 7 13 6 14 0 12-5 9-12 0-10-3-6-6-6-9-4-19 0-9 4zM503 102l-3 6 0 7 4 10 10 8 7-1 4-6 0-9-4-9-8-7-6-1zM369 99l-7-2-5 2-6 6-3 6 0 11 4 4 7 0 9-8 3-7 0-8zM216 107l0 4 3 5 14 5 13-3 7-8-1-7-4-4-8-3-13 1-6 3zM292 84l-5 1-7 7-7 1-4 5 1 9 10 11 5 0 4-3 7-16 1-8-2-5zM542 54l2 9 13 6 11-1 6-3 4-6-2-8-12-6-15 2zM512 45l-8-6-12 0-8 5-1 7 7 6 10 1 8-3 4-4zM178 26l-2 4 0 7 2 4 6 6 10 4 15-1 6-3 8-10 0-7-2-4-6-6-10-4-15 1zM0 18l0 35 14 4 24-1 17-8 6-9 0-7-6-9-8-5-14-4-19 0zM147 7l-4 5 1 7 3 5 9 6 7-1 2-3-2-11-6-6zM346 12l3 5 6 3 13-1 10-5 8-8 3-6-41 0-2 3z"/><path fill="#868686" fill-rule="evenodd" d="M151 596l0 3 16 0-1-7-5-5-5 1zM318 542l-3 4 0 9 4 8 6 6 8 4 9-1 4-5 0-8-6-11-13-8zM568 535l-4 2 1 4 4-2 1-2zM508 512l2 6 9 2 7-3 3-7-5-4-9 0zM542 457l-3 4 0 4 2 5 6 3 3-3 0-7-4-6zM217 437l-7 5-1 11 6 8 7 1 6-5 2-10-6-9zM203 439l-4-4-4-1-11 3-7 7-1 9 6 4 11-2 9-8zM311 390l0 4 2 2 5 1 6-3 0-4-3-2-7 0zM24 376l-2 2 0 7 4 5 4 1 3-4-1-7-4-4zM193 364l-9 5-4 10 2 9 5 3 7-3 5-9 0-10zM288 330l5 6 10 1 6-3 2-5-6-6-9 0-5 2zM120 326l0 5 2 3 11 5 8-1 6-6-1-5-9-6-11 0zM204 311l-3-2-8 0-6 3-6 8 1 8 9 2 7-3 6-6zM480 298l-6 6 0 7 3 3 7 0 9-8 1-5-6 1zM226 288l-2 2 1 7 6 5 7 0 2-3-2-6-7-5zM0 293l0 13 7 5 17 0 9-8-1-9-8-6-13-1zM465 281l-7-1-5 3-3 4-1 8 2 2 7 0 3-2 5-7zM558 261l4 7 6 2 10-2 5-6-1-4-6-4-10 0zM37 257l-1 4 2 4 8 6 8 1 7-4-1-8-8-6-9-1zM398 250l1 10 11 9 13 2 6-2 4-5-2-10-11-8-12-2-6 2zM465 185l-6 1-4 3-1 4 2 2 8 0 3-2 2-4zM440 185l-2 4 1 7 3 3 4 0 3-5-1-5-3-4zM228 180l-3 8 1 7 6 8 7 4 17 1 6-2 9-8 2-4 0-10-2-4-5-5-8-4-17 0-8 4zM507 105l-4 6 2 10 4 5 7 3 4-2 2-4-2-11-7-7zM363 105l-4 0-4 4-1 8 2 2 7-3 2-4 0-5zM222 107l0 4 4 4 7 2 7-1 7-6-1-6-7-4-11 1zM291 91l-8 6-6 0-3 2-1 5 5 8 6 1 2-2 6-15zM547 54l0 6 11 6 11-2 4-4 0-6-4-4-6-2-10 1zM488 47l0 3 5 4 9 0 5-4 0-4-5-4-8 0zM180 28l0 11 3 4 9 5 10 1 8-2 6-4 4-7 0-5-4-7-9-5-15 0-5 2zM0 24l0 23 10 5 27 0 12-6 5-7 0-7-2-4-6-5-9-4-22-1zM148 10l-2 2 2 10 6 5 6 0 3-4-2-7-7-6zM350 8l5 7 10 1 11-5 6-6 2-5-32 0z"/><path fill="#898989" fill-rule="evenodd" d="M153 598l12 1-3-8-5 0zM320 546l-1 10 3 6 10 7 8-1 2-3 0-8-2-4-9-8-7-1zM543 460l-2 4 2 5 3 1 2-2 0-5zM216 440l-4 4-1 7 4 7 7 1 4-3 2-8-4-7zM199 439l-3-2-7 0-4 2-6 7 1 7 10 1 4-2 6-8zM313 391l3 4 6-2-1-3-3-1zM192 370l-2 0-5 6 0 6 3 3 3-1 4-6 0-5zM290 329l4 6 4 1 8-2 3-4-1-3-5-3-7 0zM125 327l0 4 5 4 5 1 7-4-1-5-5-3-8 0zM201 314l-3-2-7 1-6 6 0 5 2 2 9-1 5-6zM479 301l-3 5 1 4 3 2 6-2 2-5-5-4zM228 292l0 4 3 3 5-1-3-6zM1 295l0 9 8 6 13 0 9-8-1-7-8-6-13 0zM462 284l-7 1-3 7 2 2 5-1 4-6zM42 260l1 4 4 3 7 0 2-3-5-6-7 0zM562 261l0 2 5 4 6 0 6-5-1-3-5-3-7 1zM402 251l0 8 10 8 10 1 7-5-2-9-9-6-9-1zM463 188l-4 1-1 2 3 2 4-3zM442 186l-3 6 5 6 3-3 0-5zM229 185l0 9 5 7 7 4 16 0 5-2 7-7 1-11-6-8-6-3-14-1-9 4zM510 108l-4 4 1 7 4 5 5 1 3-4-1-7-3-4zM279 104l0 2 2 0 0-2zM228 107l0 3 3 2 7 0 3-2 0-3-4-3-5 0zM551 55l0 4 6 4 6 0 6-4 0-4-5-4-8 0zM493 48l3 3 6-2-1-3-6 0zM0 29l0 13 3 3 12 5 21-1 8-4 5-6-1-9-4-4-12-5-17 0-12 5zM182 30l0 7 2 4 12 6 11-1 7-4 3-5 0-7-2-4-12-6-11 1-7 4zM149 12l-1 7 6 6 5 0 2-3-2-6-5-4zM354 7l4 5 7 1 9-4 7-9-25 0z"/><path fill="#8e8e8e" fill-rule="evenodd" d="M156 597l0 2 6 0-1-4zM324 549l0 10 8 6 5-1 1-7-2-4-5-4zM217 443l-3 4 0 5 3 4 5 0 3-4 0-5-3-4zM197 442l-4-3-7 2-4 5 0 4 3 2 8-2zM293 328l0 3 4 3 5 0 4-3 0-3-6-3zM195 318l-3 0-1 3 3 0zM481 304l-1 3 3 1 1-3zM2 297l1 7 8 5 12-1 6-6-1-7-8-5-12 1zM568 261l1 2 4-1-2-2zM405 255l4 7 7 3 4 0 5-4-1-5-10-6-6 1zM442 188l-1 6 3 2 2-5zM237 179l-5 7 0 7 7 8 5 2 11 0 5-2 6-6 1-9-5-7-11-4-8 1zM511 114l-1 2 4 4 1-4zM556 56l3 4 5-2-3-4zM3 32l0 7 5 5 8 3 8 1 11-2 9-7 0-7-5-5-8-3-8-1-11 2zM184 31l2 9 9 5 12-1 5-3 3-5-2-9-9-5-12 1-5 3zM151 14l-1 5 4 4 3 0 2-2-2-5zM358 6l3 3 7 0 4-2 5-7-18 0z"/><path fill="#939393" fill-rule="evenodd" d="M192 444l-4 0-1 3 4 0zM4 298l1 5 6 4 12-1 4-5-1-5-6-4-12 1zM412 257l2 2 4-1-2-2zM238 183l-2 9 2 4 7 4 9 0 9-8 0-5-6-7-12-1zM8 34l1 5 9 5 11 0 7-3 3-4-1-5-9-5-11 0-7 3zM187 30l0 7 8 6 9 0 8-6 0-7-8-6-9 0zM364 2l1 2 3 0 3-4-6 0z"/><path fill="#9a9a9a" fill-rule="evenodd" d="M7 298l1 5 3 2 9 0 4-4-1-5-3-2-9 0zM242 188l0 3 4 4 6 0 5-4-1-5-3-2-7 0zM16 35l1 3 6 2 5-1 3-3-1-3-6-2-5 1zM198 26l-8 5 0 5 5 4 6 1 8-5 0-5-5-4z"/><path fill="#a3a3a3" fill-rule="evenodd" d="M14 297l-2 3 5 2 2-3zM196 32l1 4 6-1-1-4z"/></g></g>
<g id="sL4"><g transform="translate(0.25 0.25) scale(0.5)"><rect x="-4" y="-4" width="608" height="608" fill="#808080"/><path fill="#7c7c7c" fill-rule="evenodd" d="M440 120l0 6 6 6 19 8 13 2 14-1 8-3 4-5-1-5-6-6-19-8-15-2-18 3zM190 87l-24 8-29 17-25 24-17 25-12 26-10 39-2 18 0 29 5 35 12 38 17 33 19 26 27 26 17 12 11 2 12 10 16 6 31 6 24 0 14-2 6-3 1-18 4-10 6-7 9-2 9 5 3-1 7-21-9 0-4-4 0-8 7-5 11 5 11-42 5-40 1-47-4-38-4-13-11-21-7-20-11-48-2-2-6 0-8-3-7-9 3-14-22-9-22-5-33-1zM288 410l4-5 10-2 9 6 0 6-6 5-7 1-9-5zM227 400l11-2 7 3 5 7-2 8-5 4-7 2-10-3-5-7 0-5zM204 394l4-5 10-2 8 5 1 5-2 4-5 3-9 0-7-6zM248 384l7 0 4 4 1 5-6 7-5 0-5-4-1-6zM277 373l5 0 5 6-1 4-4 4-5 0-5-5 1-6zM175 378l2-4 7-5 10 0 8 6 1 8-7 7-11 1-9-7zM277 198l10 1 8 4 10 11 5 15 0 11-4 13-10 12-11 5-9 0-10-4-11-12-5-18 1-11 7-15 10-9zM264 116l6 1 5 7-1 5-6 5-7-1-4-5 1-8zM222 110l9-7 9 0 8 5 2 3 0 7-6 7-12 2-5-2-5-5z"/><path fill="#797979" fill-rule="evenodd" d="M195 130l-22 9-19 13-20 22-15 27-6 17-5 26 0 36 8 38 12 28 14 22 21 23 20 15 22 11 20 5-6-9 1-8-9 0-8-7 0-4 5-6 8-2 8 3 4 6 0 3 13 0 9 7 1 9-5 7-6 3 1 1 46-1 6-2-6-7 0-5 4-5 4-2 12 1 0-7 3-4 4-2 10 1 8-25 7-44 0-50-5-32-15-32-14-39-8-15-10-10-14-8-11-1-12-7-17 1-9-3-15 0zM249 383l8 2 3 4 0 6-7 6-6-1-4-5 0-6zM279 372l4 1 4 5-1 6-4 3-6 0-4-4 0-6zM175 375l9-7 10 0 9 7 1 8-10 9-10 0-6-3-4-5zM278 197l12 2 8 5 7 8 6 18-1 14-4 10-7 9-13 7-12 0-10-5-8-9-6-16 1-17 5-11 8-9z"/><path fill="#767676" fill-rule="evenodd" d="M192 166l-18 11-14 14-9 13-11 26-4 20 0 31 3 17 7 21 11 21 12 16 11 10 12 0 9 4 5 6 1 7 2 2 11 0 11 8 10 1 1-6 5-5 5-1 5 2 4 5-1 11 21 4 8 0 9-3 7 1 3-8 4-3 8-1 5-9 7-24 4-25 1-24-3-30-6-22-10-22-5-8-1 15-3 9-4 7-9 9-12 5-7 0-9-3-12-11-5-11-1-21 2-7 5-9 9-9 9-4 13 0 15 8-7-13-8-9-12-9-16-8-24-6-18 0zM277 372l4 0 6 5 0 6-5 5-7-1-4-6 2-6z"/><path fill="#717171" fill-rule="evenodd" d="M199 198l-11 8-12 14-9 19-3 12 0 34 6 21 8 16 13 17 12 11 24 16 29 15 16 6-2-5 2-7 4-3 6 0 6 6 0 5-6 7 21 3 12-5 5-6 8-19 6-38-3-32-5-15-11-21-4-5-12 13-12 6-12 0-8-3-11-10-7-17 1-21 11-22-15-6-13-2-15 1z"/><path fill="#6c6c6c" fill-rule="evenodd" d="M215 228l-14 14-6 14-2 11 2 23 4 12 9 17 13 17 16 16 26 19 6 3 7-3 6 0 6 5 2 5 15 1 8-3 7-7 4-8 6-27 0-19-3-15-13-27-10-12-18 8-10 0-12-5-9-9-4-7-6-28-18 0z"/><path fill="#656565" fill-rule="evenodd" d="M228 253l-7 9-3 8-1 19 6 21 14 24 20 21 21 13 13 4 14 0 7-3 6-6 5-11 2-9 0-22-4-15-13-23-10-11-23 1-10-4-11-10-6-10-4-3-10 3z"/><path fill="#5c5c5c" fill-rule="evenodd" d="M244 266l-9 11-2 7 0 13 5 18 9 16 14 16 20 13 11 3 7 0 9-3 7-7 3-7 1-22-4-14-8-15-18-19-17-2-17-10-7 0z"/><path fill="#525252" fill-rule="evenodd" d="M255 281l-6 7-2 15 3 12 8 15 10 11 12 8 10 3 12-2 7-8 2-15-4-15-7-12-11-12-11-7-11-3z"/><path fill="#464646" fill-rule="evenodd" d="M263 294l-4 7 0 9 9 19 6 6 9 5 10 1 4-2 4-6 1-9-2-8-7-12-14-11-12-1z"/><path fill="#383838" fill-rule="evenodd" d="M279 313l0 7 6 2 1-3-2-4z"/><path fill="#838383" fill-rule="evenodd" d="M137 571l-5 4-1 7 4 5 7 1 5-4 1-7-4-5zM278 541l-6 4-1 7 4 5 7 1 5-4 1-6-4-6zM80 538l-7 6-1 8 6 8 8 1 8-6 1-8-6-8zM107 535l-5 4-1 7 4 5 7 1 5-4 1-7-4-5zM0 490l1 20 10 1 7-2 9 4 11 0 10 6 11-1 2 12 3 5 5 3 5 0 7-6 2-5-2-12-7-6-7 0-2-6-5-5-12-2-12-6-9 0-5 2-11-4-7 0zM199 481l-6 3-2 6 3 6 7 2 5-3 2-6-3-6zM173 450l-7 6-1 13 5 7 9 1 6-6 1-12-6-8zM297 429l-9 10-2 13 5 15 3 3 7 2 6-3 5-8 1-18-7-12zM291 408l-1 5 5 5 10 0 4-4 0-4-3-4-10-1zM228 402l-5 7 4 8 4 2 9 0 6-4 1-9-4-4-5-2zM314 393l-5 4 0 5 3 4 5 1 5-3 1-6-3-4zM207 392l-1 5 5 5 9 0 5-5-1-5-5-3-7 0zM249 385l-4 4 0 5 4 4 5 0 4-4 0-5-5-4zM278 374l-4 3 0 6 6 3 4-2 1-7zM182 372l-4 4 0 7 2 3 6 3 7 0 7-5 1-7-3-4-7-3zM278 200l-14 6-8 10-4 13 0 12 4 12 8 10 7 4 10 2 14-5 6-6 7-17 0-12-6-16-6-7-9-5zM263 119l-4 4 0 5 4 4 5 0 4-4 0-5-4-4zM225 111l-1 6 2 4 5 3 9 0 4-2 3-5-1-6-8-5-8 1zM289 106l-1 9 8 6 10-1 6-5 0-7-5-5-12-1zM320 88l-4 4 0 7 6 5 7 1 1 45 17 57 4 30-2 75-12 85 0 10-2 7-6 0-6 4-2 4 1 6 6 5 9-1 5 9 11 11 11 7 14 6 15 2 7-2 6-6 12-20 16-16 16-11 17-8 24-7 15-2 25 1 22 5 9-1 8-4 13-16 10-22 6-20 0-117-7-21-7-12-11-10-16-6-82-7-36-8-30-10-43-21-10-12-10-21-5-6-6-1-3 3-5-2zM194 33l1 7 3 3 9 3 12-2 6-6-1-7-11-6-11 1zM480 17l1 7 9 7 11 3 19-1 15 8 13-1 5-3 4-6 0-3-4-6-12-4-11-9-9-3-17-1-10 2-9 4z"/><path fill="#868686" fill-rule="evenodd" d="M137 572l-4 3-1 7 3 4 7 1 4-3 1-7-3-4zM277 542l-4 3-1 7 3 4 7 1 4-3 1-7-3-4zM81 539l-6 4-2 9 4 6 9 2 6-4 2-9-4-6zM107 536l-4 3-1 7 3 4 7 1 4-3 1-7-3-4zM0 491l1 18 10 1 8-2 9 4 11 0 9 6 13-2 1 14 4 5 5 2 6-2 4-5 1-10-3-6-7-4-6 1-3-9-5-4-11-1-12-6-17 2-7-4-7 0zM197 482l-4 3-1 7 3 4 7 1 4-3 1-7-2-3zM173 451l-6 5-2 8 2 7 4 4 7 1 7-7 0-10-5-7zM298 430l-3 1-6 8-2 14 4 12 6 5 5 0 9-10 1-16-3-8-5-5zM361 427l-5 4-1 7 4 5 7 1 5-4 1-7-4-5zM333 416l-6 0-5 5 0 5 4 5 4 1 7-4 1-6zM291 409l0 5 5 4 7 0 4-2 2-4-1-3-6-4-8 1zM226 404l-2 8 6 6 11 0 6-6-2-8-5-3-9 0zM314 393l-4 3-1 5 4 5 6 0 3-3-1-8zM207 393l0 5 5 4 7 0 5-4 0-5-6-4-8 1zM251 385l-5 3-1 5 3 4 5 1 4-3 1-5-3-4zM278 374l-3 2-1 6 3 3 5 0 3-3 0-4-2-3zM179 376l-1 5 2 4 5 3 9 0 6-5 1-3-1-4-7-5-8 0zM275 201l-9 4-9 10-4 10-1 13 5 16 9 10 9 4 10 0 9-4 8-8 5-12 0-18-5-12-7-8-7-4zM411 178l-11 3-15 9-10 10-8 13-5 27-2 83 2 11 6 15 7 10 13 13 10 7 15 7 9 2 15 0 15-3 25-9 15-8 17-16 12-21 6-17 4-23 0-23-3-19-7-21-11-19-10-10-21-11-25-7-18-3zM262 120l-3 5 2 5 9 0 2-4-1-4-5-3zM226 111l-1 6 6 6 6 1 9-6-1-7-6-4-7 0zM289 108l0 7 7 5 8 0 7-6-1-7-6-4-9 0zM322 88l-5 4 0 7 5 4 4 0 4-3 1-7-3-4zM195 35l4 7 8 3 13-3 4-6-4-7-7-3-10 1-4 2zM484 18l2 7 6 4 11 3 19-1 12 8 11 0 9-6 0-6-4-5-13-3-7-7-10-4-22 0-9 4z"/><path fill="#898989" fill-rule="evenodd" d="M139 572l-6 4-1 4 4 6 4 1 6-4 1-4-4-6zM279 542l-6 4-1 4 4 6 4 1 6-4 1-4-4-6zM81 540l-5 3-2 9 3 5 9 2 5-3 2-9-3-5zM109 536l-6 4-1 4 4 6 4 1 6-4 1-4-4-6zM71 511l-7 4-2 12 4 7 6 2 5-2 3-4 1-10-4-7zM0 492l0 15 4 2 15-2 8 4 12 0 9 6 10-1 6-7-2-7-4-3-11-1-11-6-9 0-4 2-5 0-7-4-7 0zM196 483l-3 3 0 7 3 3 7 0 3-3 0-7-3-3zM173 452l-5 4-2 10 6 9 7 0 5-6 1-8-5-8zM298 431l-6 4-3 6-1 14 3 8 5 5 4 1 5-2 4-5 2-6 0-13-3-7-4-4zM361 428l-4 3-1 7 3 4 7 1 4-3 1-7-3-4zM328 416l-5 4-1 4 4 6 5 1 5-3 1-7-3-4zM292 408l-1 5 6 5 8-1 3-3 0-4-4-4-5-1zM226 405l-1 8 4 4 10 1 7-6 0-5-5-5-8-1zM313 394l-3 3 0 6 7 3 5-4 0-4-3-4zM207 394l1 5 6 3 6-1 4-4 0-3-4-4-4-1-7 2zM247 387l-1 8 5 3 4-1 2-3 0-5-3-3zM277 375l-3 3 1 5 3 2 5-1 2-3-1-4-2-2zM180 375l-1 7 7 6 9-1 5-5-1-6-5-4-7-1zM274 202l-11 6-6 8-4 11 0 15 5 13 7 8 11 5 8 0 11-5 7-8 5-14 0-12-5-14-8-9-8-4zM263 120l-3 7 2 3 5 1 3-2 1-6-3-3zM228 110l-2 3 0 5 4 4 8 1 7-5-1-7-5-3-7 0zM293 105l-3 3 0 6 3 4 11 1 5-4 1-5-4-5-6-2zM322 89l-4 3-1 5 3 4 6 1 4-4 0-5-2-3zM197 33l0 5 4 4 6 2 9-1 6-5 0-5-9-6-10 1zM487 17l0 5 7 6 12 3 16-2 12 9 11 0 8-7 0-3-4-5-14-3-7-7-9-4-19 0-8 3z"/><path fill="#8e8e8e" fill-rule="evenodd" d="M137 573l-4 4 0 5 4 4 5 0 4-4 0-5-4-4zM277 543l-4 4 0 5 4 4 5 0 4-4 0-5-4-4zM80 541l-5 5 0 7 5 5 7 0 5-5 0-7-5-5zM107 537l-4 4 0 5 4 4 5 0 4-4 0-5-4-4zM70 512l-4 2-3 5 0 9 5 6 5 1 7-7 0-9-5-6zM0 493l0 13 3 2 16-2 7 4 13 0 8 6 9 0 4-2 3-5-1-5-4-4-10-1-11-6-11 0-4 2-4 0-6-4-9 0zM198 483l-4 3-1 5 3 4 5 1 4-3 1-5-3-4zM173 453l-6 7 0 7 5 7 7 0 4-4 1-10-4-6zM299 432l-3 1-6 8-1 15 6 10 7 1 5-4 3-6 0-14-4-8zM360 429l-3 4 1 7 3 2 7-1 2-3 0-6-3-3zM327 417l-4 4 0 5 4 4 5 0 4-4 0-5-4-4zM292 409l0 5 4 3 7 0 5-5-5-6-7 0zM226 406l0 7 8 5 8-2 4-6-1-4-5-4-9 0zM312 395l-2 7 3 3 6 0 3-5-4-6zM208 393l0 5 4 3 7 0 4-3 0-5-4-3-7 0zM250 386l-4 3 0 5 3 3 5 0 3-3 0-4-2-3zM277 375l-2 2 0 5 5 3 4-3 0-5zM181 375l-2 5 6 7 9 0 5-5-1-7-5-3-7 0zM277 202l-9 3-11 12-4 13 0 10 6 16 7 7 8 4 12 0 8-4 8-9 4-10 0-17-4-11-9-10-6-3zM263 121l-2 2 0 5 2 2 5 0 2-2 0-5-2-2zM227 113l1 6 4 3 7 0 5-5 0-4-5-4-7 0zM292 107l-1 7 4 4 9 0 5-5-1-5-4-3-6-1zM321 90l-3 3 0 5 3 3 7-1 1-7-3-3zM198 34l1 5 7 4 10-1 5-5-1-5-7-4-10 1zM489 19l1 4 8 5 27 0 7 8 12 1 7-5 0-5-4-4-15-2-4-6-11-5-19 1-7 4z"/><path fill="#939393" fill-rule="evenodd" d="M135 575l0 9 9 0 0-9zM275 545l0 9 9 0 0-9zM83 541l-6 3-2 6 3 6 6 2 6-3 2-6-3-6zM105 539l0 9 9 0 0-9zM70 513l-5 4-2 8 5 8 5 1 5-4 2-8-5-8zM0 494l0 11 6 3 13-3 11 5 9-1 11 7 8-2 4-5 0-3-4-5-5-2-8 0-12-6-15 3-6-4-6-1zM197 484l-3 3 0 5 3 3 5 0 3-3 0-5-3-3zM173 454l-5 5 0 9 4 5 4 1 7-6 0-9-3-4zM297 434l-4 3-3 7 0 12 6 9 5 1 6-5 3-12-4-12-4-3zM362 429l-4 3-1 5 3 4 5 1 4-3 1-5-3-4zM329 417l-4 2-1 7 2 3 4 1 5-3 1-4-3-5zM295 407l-3 4 3 5 7 1 5-4 0-3-3-3zM227 406l0 7 6 4 8-1 4-5-1-5-7-4-6 1zM315 394l-5 6 2 4 5 1 4-3 0-4-2-3zM211 391l-3 4 3 5 7 1 4-3 1-3-3-4zM249 387l-3 5 6 5 5-6-3-4zM278 375l-3 3 0 3 2 3 6-1 1-5zM188 372l-7 4-1 5 3 4 8 2 7-4 0-6-4-4zM276 203l-11 5-6 7-5 13 0 14 5 13 8 8 6 3 10 1 10-4 7-7 5-11 1-14-5-15-8-9-9-4zM263 122l-2 3 1 3 6 1 2-3-1-3-3-2zM228 116l5 5 5 0 5-5-4-6-7 0zM294 107l-2 3 2 6 9 1 4-3 0-5-3-3-5-1zM321 91l-2 2 0 5 2 2 5 0 2-2 0-5-2-2zM200 33l1 6 6 3 8-1 4-4-1-5-6-3-5 0zM492 18l0 3 4 4 8 3 11 0 11-3 3 6 7 5 10-1 4-5-4-6-17-1-2-5-8-6-19 0z"/><path fill="#9a9a9a" fill-rule="evenodd" d="M138 574l-3 2-1 5 2 3 5 1 3-2 1-5-2-3zM278 544l-3 2-1 5 2 3 5 1 3-2 1-5-2-3zM82 542l-5 4-1 5 4 5 5 1 5-4 1-5-4-5zM108 538l-3 2-1 5 2 3 5 1 3-2 1-5-2-3zM70 514l-4 3-2 9 4 6 5 1 4-3 2-8-4-7zM0 495l0 9 5 3 5 0 9-4 10 6 10-1 10 7 5 0 7-6-3-7-4-2-10 0-10-6-5 0-8 4-11-6-5 0zM198 484l-3 2-1 5 2 3 5 1 3-2 1-5-2-3zM173 455l-3 2-2 8 2 5 6 3 5-3 2-7-3-7zM298 435l-6 6-1 14 6 9 5 0 6-8 0-12-5-8zM361 430l-3 3 0 5 3 3 5 0 3-3 0-5-3-3zM328 418l-3 2-1 5 2 3 5 1 3-2 1-5-2-3zM293 410l0 3 3 3 7 0 3-3 0-3-4-3-5 0zM228 406l-1 5 5 5 7 0 5-5-1-5-5-3-5 0zM312 396l0 7 6 1 2-2 0-5-3-2zM209 394l0 3 3 3 7 0 3-3 0-3-4-3-5 0zM250 387l-2 1-1 5 1 2 5 1 2-1 1-5-1-2zM278 376l-2 2 0 4 4 2 3-2 0-4zM183 375l-2 4 2 5 4 2 9-2 2-5-4-5-7-1zM276 204l-8 3-8 8-4 8-2 13 2 11 4 8 7 7 6 3 10 1 10-4 9-11 3-10 0-12-5-13-6-7-10-5zM264 123l-1 4 4 1 1-4zM230 115l3 4 5 0 3-3-1-3-4-2-4 1zM294 110l0 3 4 3 7-2 0-5-3-2-5 0zM322 92l-2 5 2 2 4 0 1-6zM202 34l0 3 4 3 7 0 4-3 0-3-4-3-7 0zM531 26l0 5 7 4 6-1 4-4-1-3-5-3-7 0zM496 18l1 5 7 3 11 0 8-4 0-4-8-5-11 0z"/><path fill="#a3a3a3" fill-rule="evenodd" d="M138 575l-2 1-1 5 1 2 5 1 2-1 1-5-1-2zM278 545l-2 1-1 5 1 2 5 1 2-1 1-5-1-2zM82 543l-4 3-1 5 3 4 5 1 4-3 1-5-3-4zM108 539l-2 1-1 5 1 2 5 1 2-1 1-5-1-2zM71 515l-5 4-1 7 7 6 5-4 1-7zM20 500l6 7 14 0 9 7 7-1 4-5-4-6-13-1-9-6-8 1zM0 497l0 5 5 4 5 0 8-5-2-4-6-4-5 0zM198 485l-2 1-1 5 1 2 5 1 2-1 1-5-1-2zM173 456l-3 3-1 6 4 6 5 0 3-3 1-6-4-6zM298 437l-5 5-1 12 5 8 5 0 5-7 0-11-4-6zM361 431l-2 2 0 5 2 2 5 0 2-2 0-5-2-2zM327 419l-2 2 0 5 2 2 5 0 2-2 0-5-2-2zM294 410l0 3 4 3 7-3-2-5-7 0zM231 405l-3 5 4 5 7 0 4-6-3-4zM313 396l-1 6 3 2 3-1 2-3-1-3zM210 394l0 3 5 3 6-3-2-5-7 0zM248 389l1 6 6-1 0-4-2-2zM276 379l1 3 5 0-1-5zM183 377l-1 3 5 5 5 0 4-3 0-5-4-3-5 0zM280 205l-11 3-10 11-3 9 0 14 4 10 7 8 9 4 9 0 8-4 7-8 4-12 0-9-7-17-7-6zM274 210l10 0 5 2 7 7 4 9 1 10-3 11-7 9-8 4-8 0-5-2-9-10-3-9 0-10 4-11zM324 93l-2 1 0 3 2 1 2-2zM207 35l1 2 4-1-1-2zM535 28l0 3 7 1 2-2-2-3zM502 18l0 3 3 2 8 0 4-2 0-3-4-2-7 0z"/><path fill="#adadad" fill-rule="evenodd" d="M138 576l-2 5 5 2 2-5zM278 546l-2 5 5 2 2-5zM83 544l-5 6 6 5 5-6zM108 540l-2 5 5 2 2-5zM70 517l-4 7 4 6 3 0 4-7-4-6zM23 501l2 4 6 2 10-2 5 6 5 2 7-4 0-3-3-3-13 0-4-5-6-2-7 2zM7 494l-6 4 0 3 7 4 5-2 2-4-2-3zM198 486l-2 5 5 2 2-5zM176 457l-5 3 0 7 3 3 6-3 0-7zM297 440l-3 4-1 6 2 7 5 3 4-3 2-9-4-8zM361 432l-1 6 6 1 1-6zM328 420l-2 5 2 2 4 0 1-6zM295 411l4 4 5-3-2-3-5 0zM232 406l-2 2 2 5 5 1 4-3-2-5zM314 397l-1 4 5 1 1-3zM211 395l2 3 6-1-1-4-5 0zM250 389l-1 4 4 1 1-4zM184 379l1 3 4 2 4-1 2-3-3-4-6 0z"/><path fill="#b9b9b9" fill-rule="evenodd" d="M138 577l-1 4 4 1 1-4zM279 547l-2 3 3 2 2-3zM82 546l-2 5 5 2 2-5zM108 541l-1 4 4 1 1-4zM70 519l-2 6 2 3 3 0 2-6-2-3zM46 505l1 4 3 2 6-2 0-3-3-2zM26 501l3 4 5 0 3-2 0-3-3-2-5 0zM3 498l0 3 3 2 6-2 0-3-3-2zM199 487l-2 3 3 2 2-3zM174 460l-2 4 2 3 3 0 2-4-2-3zM298 444l-2 3 0 6 4 3 3-3 0-7zM362 433l-1 4 4 1 1-4zM328 421l-1 4 4 1 1-4zM234 409l1 2 2-1z"/></g></g>
<g id="sR4"><g transform="translate(0.25 0.25) scale(0.5)"><rect x="-4" y="-4" width="608" height="608" fill="#808080"/><path fill="#7c7c7c" fill-rule="evenodd" d="M483 491l-4 6 1 9 4 6 7 2 3-2 2-5-1-8-5-7zM33 462l0 7 3 7 4 5 8 4 26-3 7-3 5-6-1-7-4-4-8-3-19 2-14-5zM546 430l-6 5-2 6 2 14 4 7 8 8 8 3 5-1 7-8 0-12-2-6-9-12-8-4zM443 426l2 7 8 5 12 0 6-6-1-5-4-4-7-3-11 1zM486 392l-3 4 1 7 5 6 5 1 3-3 0-7-6-8zM431 330l1 6 6 5 7 1 7-5-2-7-5-3-9-1zM47 302l-2 3 2 9 9 7 7 0 3-4-3-10-9-6zM291 235l-4 2-30 31-16 11-2 15 3 12 5 10 8 9 4 2 33 0 8 2 19 15 9 0 20-7 12-8 9-9 6-10-6-9 0-6 4-4 5-1 2-5-3-12-5-10-16-16-20-10-22-4zM341 268l4 0 4 5 0 7-5 6-2 0-5-6 0-6zM479 8l0 4 3 3 5 2 6-2 0-5-6-4-6 0zM121 9l5 5 6-1 8-6 3-7-19 0z"/><path fill="#797979" fill-rule="evenodd" d="M485 494l-3 3 0 7 4 6 5 0 2-3 0-6-4-6zM80 473l0-5-7-5-9 0-8 3-15-2-2 3 2 7 5 4 24 1 6-2zM548 436l-5 6 1 11 9 12 8 2 6-5 0-12-7-11-5-3zM448 426l0 5 6 4 5 1 7-4 0-4-5-4-9-1zM434 332l1 4 4 3 5 1 5-3 0-4-5-4-7 0zM50 305l0 8 4 4 6 1 2-2 0-5-6-6zM289 246l-12 5-13 14-5 12 0 15 5 14 9 10 10 5 15 0 10-4 11-11 6-15 0-10-7-18-10-11-10-5zM482 10l4 4 3-1 0-3-2-1zM135 0l-5 1-2 4 2 2 3-1 3-4z"/><path fill="#767676" fill-rule="evenodd" d="M485 498l-1 5 3 4 2 0 2-5-3-4zM60 471l2 3 8 1 4-3 0-3-3-2-6 0zM549 442l-2 4 2 9 6 6 6 0 2-3 0-8-2-4-6-5zM452 428l2 4 7 0 1-2-4-4-4 0zM437 332l1 4 4 2 5-2 0-2-4-3zM54 308l-1 4 5 2 0-3zM287 250l-11 5-9 10-4 9-1 15 2 8 9 14 11 6 12 0 10-5 7-8 5-14 0-12-5-14-8-9-8-4z"/><path fill="#717171" fill-rule="evenodd" d="M286 253l-9 4-8 9-4 10 0 16 4 10 7 8 8 4 11 0 7-3 8-8 5-13 0-12-3-10-9-11-9-4z"/><path fill="#6c6c6c" fill-rule="evenodd" d="M284 256l-6 3-7 8-4 10 0 13 3 9 9 10 13 3 11-5 7-9 3-18-5-14-7-7-6-3z"/><path fill="#656565" fill-rule="evenodd" d="M286 258l-8 4-6 7-3 8 0 13 3 8 7 8 6 3 9 0 5-2 9-10 3-15-5-15-6-6-7-3z"/><path fill="#5c5c5c" fill-rule="evenodd" d="M289 260l-7 2-8 8-3 7 0 13 4 9 5 5 12 3 7-3 6-6 4-15-1-7-4-8-5-5z"/><path fill="#525252" fill-rule="evenodd" d="M287 263l-5 2-6 6-3 8 0 9 3 8 6 6 11 2 6-3 4-5 3-7 0-11-6-11-8-4z"/><path fill="#464646" fill-rule="evenodd" d="M286 266l-8 6-3 7 0 9 3 7 5 5 11 1 9-10 1-12-3-7-5-5z"/><path fill="#383838" fill-rule="evenodd" d="M286 269l-8 9 0 11 6 8 9 1 6-5 3-11-3-8-4-4z"/><path fill="#292929" fill-rule="evenodd" d="M288 273l-6 5-1 8 3 6 3 2 5 0 6-7 0-7-3-5z"/><path fill="#838383" fill-rule="evenodd" d="M120 596l-3-4-6-1-5 2-5 6 18 0zM396 587l0 8 2 4 31 0-2-6-11-10-14-2zM151 514l-8 2-6 8-1 10 5 6 9-3 5-8 1-9zM363 512l-4 5-1 7 4 7 5 0 4-6 0-7-4-6zM135 477l-7-5-12 0-16 5-6 5-5 9 1 11 4 3 5 0 6-3 9-9 16-5 5-6zM598 458l-6 0-11 8-3 7 3 7 8 1 10-6zM232 470l0 8 8 5 13-2 10-6 2 3 0 18 8 8 14 0 9-10 2-13-1-17-6-12-7-5-9 1-12 16-9-3-10 0zM394 429l-7 0-8 9-1 11 5 5 7-2 6-7 2-9zM229 412l-5 3-3 6 0 13 2 6 9 11 4 2 7 0 7-8 1-10-5-14-7-7zM43 368l-2 2 0 7 2 4 5 4 5 0 3-4-3-9-5-4zM452 345l0 5 6 5 9 1 4-4-3-8-5-3-6 0zM258 348l0 10 9 6 18-1 8 5 9 1 5-2 4-5-2-8-9-7-3-8-6-4-12-1-13 5zM375 299l4 4 5-1 0-2-4-3-4 0zM343 274l-2 2 2 4 2-3zM498 259l-2 2 2 10 5 4 6-1 1-6-3-6-4-3zM0 200l0 16 4 4 10 5 10 0 6-5 0-7-6-9-12-6-8 0zM502 196l-5 0-5 3-7 13 1 16 3 5 5 3 9-2 4-4 4-9 0-15-3-6zM245 196l-11 5-7 8-4 10-1 14 5 14 7 8 8 4 8 1 9-3 9-8 6-11 3-15-5-14-6-7-12-6zM68 180l-8 9-1 8 3 12 4 7 8 8 6 3 9 0 8-9 0-14-6-13-8-8-6-3zM577 163l-5 6 0 14 7 10 6 2 7-5 1-14-3-7-5-5zM250 110l-10-4-7 1-8 5-1 8 8 5 11-1 8-6zM434 86l-1 11 8 11 15 7 7 0 7-4 2-10-4-8-6-6-15-6-8 1zM309 29l-5-2-6 1-8 5-4 5-4 9 0 11 4 5 10 1 7-4 6-7 4-10 0-7zM152 21l-10 9-3 8-1 11 5 14 7 5 6 0 9-7 3-6 2-16-5-13-7-5zM390 15l0 5 8 5 7 0 6-4 0-5-8-5-7 0zM79 21l-12-7-19-5-25 0-23 7 0 41 2 3-2 2 0 49 7 1 4-2 5-6 2-6 0-15-10-21 40 0 10-2 17-7 7-6 4-7 0-9zM449 0l2 6 6 4 10 1 6-5-1-6zM359 0l-12 0-5 6-3 15 5 8 7 0 8-7 3-8 0-9z"/><path fill="#868686" fill-rule="evenodd" d="M401 590l2 9 21 0-3-7-7-5-9-1zM147 522l-4 4 1 5 3 0 2-3 0-5zM364 515l-3 3 0 8 5 2 3-4 0-5-3-4zM128 479l-2-2-10 0-13 3-8 7-2 5 1 6 3 2 6-2 10-10 12-3 3-3zM236 476l4 3 9 0 8-6 0-5-4-3-9 0-7 5zM598 462l-6-1-6 3-4 5 0 7 3 2 9-2 5-6zM277 453l-4 4-3 7-3 29 5 7 4 2 8 0 7-5 3-7 0-22-4-10-4-4zM393 433l-4-1-6 4-2 4 0 8 2 2 4 0 6-5 2-6zM230 417l-4 3-2 5 1 11 7 10 3 2 7 0 5-7-1-12-8-11zM46 373l0 6 5 1-1-6zM262 349l0 6 9 6 15-1 10 7 7 0 6-6-1-5-4-4-7-3-3-8-6-4-14 1-6 3zM499 261l-2 3 2 6 7 3 2-2-1-6-4-4zM3 205l-1 4 5 8 6 3 10-1 1-8-3-4-7-4-8 0zM502 201l-6 0-3 2-5 10 1 13 3 4 5 2 8-5 3-7 0-12zM244 201l-9 5-6 8-3 9 0 11 4 11 6 7 8 4 9 0 7-3 7-7 5-10 3-12-4-12-8-8-8-3zM70 185l-6 7 0 11 2 6 8 10 6 3 6 0 4-2 3-6-1-13-8-12-7-4zM580 166l-4 2-2 4 0 9 6 9 6 1 4-4 1-8-3-8-4-4zM228 114l0 5 4 3 9 0 7-6-1-4-5-3-9 1zM439 88l-2 5 1 5 9 10 13 3 7-5-1-9-9-9-5-2-10 0zM0 70l0 35 6 1 7-7 1-15-4-9-3-3zM307 33l-4-2-6 1-8 7-4 9 0 6 3 5 8 1 10-8 3-6 0-10zM153 27l-8 7-3 12 3 11 6 5 5 0 6-5 3-6 1-10-3-9-4-4zM392 17l0 2 5 4 8 0 4-4-5-6-8 0zM0 22l0 27 11 6 8 2 27 1 10-2 15-7 5-5 3-7-3-10-5-5-19-8-27-1-16 4zM355 2l-5 0-7 8-1 9 4 6 7-1 5-6 1-11zM452 0l1 5 7 4 6 0 5-4-1-5z"/><path fill="#898989" fill-rule="evenodd" d="M406 593l2 6 11 0-1-4-5-4-5 0zM364 518l-1 6 2 1 2-5zM104 486l-4 2 0 5 5-4zM241 471l1 5 6 0 5-5-3-3-5 0zM597 466l-2-2-7 1-4 8 2 2 7-1 3-3zM282 457l-4 1-4 5-1 11-4 11 0 7 2 4 7 4 7-1 5-5 2-6-2-22-3-6zM391 436l-4 0-3 3-1 5 2 3 5-2 2-4zM231 421l-4 6 1 9 4 6 3 2 5 0 4-5-1-10-5-7zM266 349l0 4 4 4 7 1 10-2 8 9 8 0 4-4-3-7-12-4-1-6-4-4-11 0-7 4zM499 263l1 6 2 2 4 0 1-3-2-4-3-2zM9 209l0 3 3 3 6-1-2-5zM244 205l-7 4-4 5-4 10 0 10 4 10 6 6 7 3 6 0 7-3 6-6 7-15 1-8-2-6-6-7-7-3zM500 204l-4 1-4 4-2 6 1 8 5 5 6-2 4-8-1-10zM73 189l-6 6 1 11 8 10 8 2 6-7-2-12-7-8zM580 169l-4 4 0 8 4 6 5 1 4-5-1-8-4-5zM244 114l-7-3-6 4 0 3 3 2 6 0 4-3zM445 89l-4 5 2 6 9 7 8 0 3-3 0-5-3-5-8-5zM0 75l0 25 5 1 5-5 1-10-3-7-3-3zM304 35l-7 0-6 5-3 6 0 7 2 3 6 1 8-6 3-8zM155 32l-6 3-3 7 1 10 5 5 5-1 5-8-1-11zM0 29l1 15 10 7 14 4 21 0 14-4 8-5 5-8-1-8-4-5-8-5-14-4-26 1-11 4zM394 17l4 5 6 0 3-3-4-5-6 0zM353 5l-4 1-4 6 0 7 3 3 3 0 6-9-1-6zM454 1l5 6 7 0 3-3-2-4z"/><path fill="#8e8e8e" fill-rule="evenodd" d="M592 467l-3 1 0 4 3-1zM283 463l-5 2-2 10-4 8 0 9 5 5 8-1 4-6-2-21zM232 426l0 10 3 3 4 0 2-4-3-8zM293 356l0 4 3 3 6 0 2-2 0-3-3-3zM286 345l-2-2-9 1-4 4 0 3 3 3 8-1 4-3zM502 264l-1 4 4 1-1-4zM499 208l-3 1-3 5 0 6 4 4 3-1 3-5 0-6zM262 209l-17 0-10 8-3 15 3 9 7 7 14 0 5-4 10-18 0-7-4-7zM73 194l-2 3 1 10 6 6 7-1 1-9-2-4-5-5zM581 172l-3 3 0 5 4 5 2 0 3-5-1-4zM446 95l4 7 8 0-2-7-4-2-4 0zM1 81l-1 12 4 2 3-4-1-7zM154 39l-3 3 0 6 2 2 4-3 0-6zM301 38l-5 1-4 4 0 10 6 0 4-4 2-8zM3 33l0 5 5 7 9 5 16 3 21-3 9-5 5-7 0-5-5-7-9-5-16-3-21 3-9 5zM396 18l5 3 3-1 0-3-4-2zM353 10l-5 2 0 5 4 0zM457 0l0 3 4 3 5-2-2-4z"/><path fill="#939393" fill-rule="evenodd" d="M282 477l-3 1-4 7 0 4 4 4 3 0 4-5-1-8zM265 213l-5-2-12 2-9 6-3 12 3 8 4 4 7 2 9-5 3-7 7-8 0-6zM298 44l-2 1 0 3 3-2zM9 32l0 7 3 4 7 4 13 3 20-3 7-4 3-4 0-7-3-4-7-4-13-3-20 3-7 4z"/><path fill="#9a9a9a" fill-rule="evenodd" d="M264 215l-4 0-6 7-7 0-3 3-1 6 4 5 5 0 7-11 7-1 1-5zM15 33l1 7 12 6 19-1 6-3 3-4-1-7-12-6-19 1-6 3z"/><path fill="#a3a3a3" fill-rule="evenodd" d="M22 34l1 5 11 4 11-2 4-4-1-5-11-4-11 2z"/></g></g>
</defs>
<rect width="4015" height="2009" fill="#fff"/>
<g id="shapsum">
<text x="657.60" y="33.20" font-size="26.44" text-anchor="middle">Shap values for 25kt RI in 24h for Melissa at 20251021 18UTC</text>
<line x1="116.5" y1="127.10" x2="914.6" y2="127.10" stroke="#d0d0d0" stroke-width="0.9" stroke-dasharray="0.9 3.4"/>
<line x1="116.5" y1="194.89" x2="914.6" y2="194.89" stroke="#d0d0d0" stroke-width="0.9" stroke-dasharray="0.9 3.4"/>
<line x1="116.5" y1="262.68" x2="914.6" y2="262.68" stroke="#d0d0d0" stroke-width="0.9" stroke-dasharray="0.9 3.4"/>
<line x1="116.5" y1="330.47" x2="914.6" y2="330.47" stroke="#d0d0d0" stroke-width="0.9" stroke-dasharray="0.9 3.4"/>
<line x1="116.5" y1="398.26" x2="914.6" y2="398.26" stroke="#d0d0d0" stroke-width="0.9" stroke-dasharray="0.9 3.4"/>
<line x1="116.5" y1="466.05" x2="914.6" y2="466.05" stroke="#d0d0d0" stroke-width="0.9" stroke-dasharray="0.9 3.4"/>
<line x1="116.5" y1="533.84" x2="914.6" y2="533.84" stroke="#d0d0d0" stroke-width="0.9" stroke-dasharray="0.9 3.4"/>
<line x1="116.5" y1="601.63" x2="914.6" y2="601.63" stroke="#d0d0d0" stroke-width="0.9" stroke-dasharray="0.9 3.4"/>
<line x1="116.5" y1="669.42" x2="914.6" y2="669.42" stroke="#d0d0d0" stroke-width="0.9" stroke-dasharray="0.9 3.4"/>
<line x1="116.5" y1="737.21" x2="914.6" y2="737.21" stroke="#d0d0d0" stroke-width="0.9" stroke-dasharray="0.9 3.4"/>
<line x1="116.5" y1="805.00" x2="914.6" y2="805.00" stroke="#d0d0d0" stroke-width="0.9" stroke-dasharray="0.9 3.4"/>
<line x1="116.5" y1="872.79" x2="914.6" y2="872.79" stroke="#d0d0d0" stroke-width="0.9" stroke-dasharray="0.9 3.4"/>
<line x1="116.5" y1="940.58" x2="914.6" y2="940.58" stroke="#d0d0d0" stroke-width="0.9" stroke-dasharray="0.9 3.4"/>
<line x1="116.5" y1="1008.37" x2="914.6" y2="1008.37" stroke="#d0d0d0" stroke-width="0.9" stroke-dasharray="0.9 3.4"/>
<line x1="116.5" y1="1076.16" x2="914.6" y2="1076.16" stroke="#d0d0d0" stroke-width="0.9" stroke-dasharray="0.9 3.4"/>
<line x1="116.5" y1="1143.95" x2="914.6" y2="1143.95" stroke="#d0d0d0" stroke-width="0.9" stroke-dasharray="0.9 3.4"/>
<line x1="116.5" y1="1211.74" x2="914.6" y2="1211.74" stroke="#d0d0d0" stroke-width="0.9" stroke-dasharray="0.9 3.4"/>
<line x1="116.5" y1="1279.53" x2="914.6" y2="1279.53" stroke="#d0d0d0" stroke-width="0.9" stroke-dasharray="0.9 3.4"/>
<line x1="116.5" y1="1347.32" x2="914.6" y2="1347.32" stroke="#d0d0d0" stroke-width="0.9" stroke-dasharray="0.9 3.4"/>
<line x1="116.5" y1="1415.11" x2="914.6" y2="1415.11" stroke="#d0d0d0" stroke-width="0.9" stroke-dasharray="0.9 3.4"/>
<line x1="116.5" y1="1482.90" x2="914.6" y2="1482.90" stroke="#d0d0d0" stroke-width="0.9" stroke-dasharray="0.9 3.4"/>
<line x1="116.5" y1="1550.69" x2="914.6" y2="1550.69" stroke="#d0d0d0" stroke-width="0.9" stroke-dasharray="0.9 3.4"/>
<line x1="116.5" y1="1618.48" x2="914.6" y2="1618.48" stroke="#d0d0d0" stroke-width="0.9" stroke-dasharray="0.9 3.4"/>
<line x1="116.5" y1="1686.27" x2="914.6" y2="1686.27" stroke="#d0d0d0" stroke-width="0.9" stroke-dasharray="0.9 3.4"/>
<line x1="734.6" y1="49.3" x2="734.6" y2="1764.5" stroke="#999999" stroke-width="1.9"/>
<circle cx="151.1" cy="127.10" r="3.15" fill="#e9007c"/>
<circle cx="213.8" cy="127.10" r="3.15" fill="#e9007c"/>
<circle cx="281.1" cy="127.10" r="3.15" fill="#e9007c"/>
<circle cx="314.6" cy="127.10" r="3.15" fill="#e9007c"/>
<circle cx="368.0" cy="127.10" r="3.15" fill="#e9007c"/>
<circle cx="281.1" cy="194.89" r="3.15" fill="#952eb5"/>
<circle cx="429.0" cy="194.89" r="3.15" fill="#952eb5"/>
<circle cx="453.2" cy="194.89" r="3.15" fill="#952eb5"/>
<circle cx="494.7" cy="194.89" r="3.15" fill="#952eb5"/>
<circle cx="658.0" cy="194.89" r="3.15" fill="#952eb5"/>
<circle cx="193.7" cy="262.68" r="3.15" fill="#fe005c"/>
<circle cx="477.9" cy="262.68" r="3.15" fill="#fe005c"/>
<circle cx="514.3" cy="262.68" r="3.15" fill="#fe005c"/>
<circle cx="548.7" cy="262.68" r="3.15" fill="#fe005c"/>
<circle cx="603.0" cy="262.68" r="3.15" fill="#fe005c"/>
<circle cx="789.1" cy="330.47" r="3.15" fill="#fe005c"/>
<circle cx="834.9" cy="330.47" r="3.15" fill="#fe005c"/>
<circle cx="843.3" cy="330.47" r="3.15" fill="#fe005c"/>
<circle cx="878.6" cy="330.47" r="3.15" fill="#fe005c"/>
<circle cx="771.7" cy="398.26" r="3.15" fill="#fe005c"/>
<circle cx="808.0" cy="398.26" r="3.15" fill="#fe005c"/>
<circle cx="818.0" cy="398.26" r="3.15" fill="#fe005c"/>
<circle cx="825.2" cy="398.26" r="3.15" fill="#fe005c"/>
<circle cx="869.8" cy="398.26" r="3.15" fill="#fe005c"/>
<circle cx="769.8" cy="466.05" r="3.15" fill="#fe005c"/>
<circle cx="777.3" cy="466.05" r="3.15" fill="#fe005c"/>
<circle cx="807.8" cy="466.05" r="3.15" fill="#fe005c"/>
<circle cx="809.9" cy="466.05" r="3.15" fill="#fe005c"/>
<circle cx="848.1" cy="466.05" r="3.15" fill="#fe005c"/>
<circle cx="680.9" cy="533.84" r="3.15" fill="#a21eaa"/>
<circle cx="690.8" cy="533.84" r="3.15" fill="#a21eaa"/>
<circle cx="706.9" cy="533.84" r="3.15" fill="#a21eaa"/>
<circle cx="747.6" cy="601.63" r="3.15" fill="#0084f9"/>
<circle cx="749.6" cy="601.63" r="3.15" fill="#0084f9"/>
<circle cx="777.9" cy="601.63" r="3.15" fill="#0084f9"/>
<circle cx="790.3" cy="601.63" r="3.15" fill="#0084f9"/>
<circle cx="795.5" cy="601.63" r="3.15" fill="#0084f9"/>
<circle cx="756.0" cy="669.42" r="3.15" fill="#0084f9"/>
<circle cx="759.3" cy="669.42" r="3.15" fill="#0084f9"/>
<circle cx="764.7" cy="669.42" r="3.15" fill="#0084f9"/>
<circle cx="776.0" cy="669.42" r="3.15" fill="#0084f9"/>
<circle cx="705.0" cy="737.21" r="3.15" fill="#972bb2"/>
<circle cx="713.7" cy="737.21" r="3.15" fill="#972bb2"/>
<circle cx="718.9" cy="737.21" r="3.15" fill="#972bb2"/>
<circle cx="706.5" cy="805.00" r="3.15" fill="#c0009c"/>
<circle cx="709.2" cy="805.00" r="3.15" fill="#c0009c"/>
<circle cx="715.1" cy="805.00" r="3.15" fill="#c0009c"/>
<circle cx="717.8" cy="805.00" r="3.15" fill="#c0009c"/>
<circle cx="707.7" cy="872.79" r="3.15" fill="#7e48ca"/>
<circle cx="712.1" cy="872.79" r="3.15" fill="#7e48ca"/>
<circle cx="717.2" cy="872.79" r="3.15" fill="#7e48ca"/>
<circle cx="719.5" cy="872.79" r="3.15" fill="#7e48ca"/>
<circle cx="722.4" cy="872.79" r="3.15" fill="#7e48ca"/>
<circle cx="725.3" cy="940.58" r="3.15" fill="#4b63e3"/>
<circle cx="734.5" cy="940.58" r="3.15" fill="#4b63e3"/>
<circle cx="738.3" cy="940.58" r="3.15" fill="#4b63e3"/>
<circle cx="761.8" cy="940.58" r="3.15" fill="#4b63e3"/>
<circle cx="770.9" cy="940.58" r="3.15" fill="#4b63e3"/>
<circle cx="735.6" cy="1008.37" r="3.15" fill="#0079f3"/>
<circle cx="742.8" cy="1008.37" r="3.15" fill="#0079f3"/>
<circle cx="751.9" cy="1008.37" r="3.15" fill="#0079f3"/>
<circle cx="758.7" cy="1008.37" r="3.15" fill="#0079f3"/>
<circle cx="759.7" cy="1008.37" r="3.15" fill="#0079f3"/>
<circle cx="739.5" cy="1076.16" r="3.15" fill="#8c3bbf"/>
<circle cx="747.1" cy="1076.16" r="3.15" fill="#8c3bbf"/>
<circle cx="748.6" cy="1076.16" r="3.15" fill="#8c3bbf"/>
<circle cx="759.9" cy="1076.16" r="3.15" fill="#8c3bbf"/>
<circle cx="741.2" cy="1143.95" r="3.15" fill="#7b4acc"/>
<circle cx="743.8" cy="1143.95" r="3.15" fill="#7b4acc"/>
<circle cx="746.3" cy="1143.95" r="3.15" fill="#7b4acc"/>
<circle cx="757.0" cy="1143.95" r="3.15" fill="#7b4acc"/>
<circle cx="740.7" cy="1211.74" r="3.15" fill="#6e53d5"/>
<circle cx="747.6" cy="1211.74" r="3.15" fill="#6e53d5"/>
<circle cx="750.0" cy="1211.74" r="3.15" fill="#6e53d5"/>
<circle cx="753.3" cy="1211.74" r="3.15" fill="#6e53d5"/>
<circle cx="711.4" cy="1279.53" r="3.15" fill="#754fd1"/>
<circle cx="720.1" cy="1279.53" r="3.15" fill="#754fd1"/>
<circle cx="721.5" cy="1279.53" r="3.15" fill="#754fd1"/>
<circle cx="728.2" cy="1279.53" r="3.15" fill="#754fd1"/>
<circle cx="732.1" cy="1279.53" r="3.15" fill="#754fd1"/>
<circle cx="738.3" cy="1347.32" r="3.15" fill="#fb0063"/>
<circle cx="740.9" cy="1347.32" r="3.15" fill="#fb0063"/>
<circle cx="744.1" cy="1347.32" r="3.15" fill="#fb0063"/>
<circle cx="754.0" cy="1347.32" r="3.15" fill="#fb0063"/>
<circle cx="756.0" cy="1347.32" r="3.15" fill="#fb0063"/>
<circle cx="724.5" cy="1415.11" r="3.15" fill="#007ff7"/>
<circle cx="734.8" cy="1415.11" r="3.15" fill="#007ff7"/>
<circle cx="743.7" cy="1415.11" r="3.15" fill="#007ff7"/>
<circle cx="753.6" cy="1415.11" r="3.15" fill="#007ff7"/>
<circle cx="755.7" cy="1415.11" r="3.15" fill="#007ff7"/>
<circle cx="715.8" cy="1482.90" r="3.15" fill="#ab15a7"/>
<circle cx="727.6" cy="1482.90" r="3.15" fill="#ab15a7"/>
<circle cx="730.0" cy="1482.90" r="3.15" fill="#ab15a7"/>
<circle cx="737.7" cy="1482.90" r="3.15" fill="#ab15a7"/>
<circle cx="724.7" cy="1550.69" r="3.15" fill="#9332b7"/>
<circle cx="729.0" cy="1550.69" r="3.15" fill="#9332b7"/>
<circle cx="733.8" cy="1550.69" r="3.15" fill="#9332b7"/>
<circle cx="731.4" cy="1618.48" r="3.15" fill="#c80098"/>
<circle cx="736.2" cy="1618.48" r="3.15" fill="#c80098"/>
<circle cx="754.8" cy="1618.48" r="3.15" fill="#c80098"/>
<circle cx="736.5" cy="1686.27" r="3.15" fill="#7e48ca"/>
<circle cx="738.4" cy="1686.27" r="3.15" fill="#7e48ca"/>
<rect x="115.5" y="49.3" width="800.10" height="1715.20" fill="none" stroke="#000" stroke-width="1.2"/>
<line x1="110.4" y1="127.10" x2="115.5" y2="127.10" stroke="#000" stroke-width="1.1"/>
<line x1="915.6" y1="127.10" x2="920.7" y2="127.10" stroke="#000" stroke-width="1.1"/>
<text x="104.80" y="125.70" font-size="16.5" text-anchor="end">3h-IRdiff</text>
<text x="104.80" y="143.70" font-size="16.5" text-anchor="end">10degrees</text>
<text x="925.20" y="133.40" font-size="16.7">3h IR difference (10 deg.)</text>
<line x1="110.4" y1="194.89" x2="115.5" y2="194.89" stroke="#000" stroke-width="1.1"/>
<line x1="915.6" y1="194.89" x2="920.7" y2="194.89" stroke="#000" stroke-width="1.1"/>
<text x="104.80" y="201.39" font-size="16.5" text-anchor="end">IR</text>
<text x="925.20" y="201.19" font-size="16.7">4km IR data (400x400 grid points)</text>
<line x1="110.4" y1="262.68" x2="115.5" y2="262.68" stroke="#000" stroke-width="1.1"/>
<line x1="915.6" y1="262.68" x2="920.7" y2="262.68" stroke="#000" stroke-width="1.1"/>
<text x="104.80" y="269.18" font-size="16.5" text-anchor="end">LON</text>
<text x="925.20" y="268.98" font-size="16.7">Longitude</text>
<line x1="110.4" y1="330.47" x2="115.5" y2="330.47" stroke="#000" stroke-width="1.1"/>
<line x1="915.6" y1="330.47" x2="920.7" y2="330.47" stroke="#000" stroke-width="1.1"/>
<text x="104.80" y="336.97" font-size="16.5" text-anchor="end">POT</text>
<text x="925.20" y="336.77" font-size="16.7">Difference between current and max intensity</text>
<line x1="110.4" y1="398.26" x2="115.5" y2="398.26" stroke="#000" stroke-width="1.1"/>
<line x1="915.6" y1="398.26" x2="920.7" y2="398.26" stroke="#000" stroke-width="1.1"/>
<text x="104.80" y="404.76" font-size="16.5" text-anchor="end">MPI</text>
<text x="925.20" y="404.56" font-size="16.7">Maximum potential intensity</text>
<line x1="110.4" y1="466.05" x2="115.5" y2="466.05" stroke="#000" stroke-width="1.1"/>
<line x1="915.6" y1="466.05" x2="920.7" y2="466.05" stroke="#000" stroke-width="1.1"/>
<text x="104.80" y="472.55" font-size="16.5" text-anchor="end">COHC</text>
<text x="925.20" y="472.35" font-size="16.7">Climatological Ocean Heat Content</text>
<line x1="110.4" y1="533.84" x2="115.5" y2="533.84" stroke="#000" stroke-width="1.1"/>
<line x1="915.6" y1="533.84" x2="920.7" y2="533.84" stroke="#000" stroke-width="1.1"/>
<text x="104.80" y="540.34" font-size="16.5" text-anchor="end">SHRD</text>
<text x="925.20" y="540.14" font-size="16.7">850-200hPa shear (200-800 km)</text>
<line x1="110.4" y1="601.63" x2="115.5" y2="601.63" stroke="#000" stroke-width="1.1"/>
<line x1="915.6" y1="601.63" x2="920.7" y2="601.63" stroke="#000" stroke-width="1.1"/>
<text x="104.80" y="608.13" font-size="16.5" text-anchor="end">LAT</text>
<text x="925.20" y="607.93" font-size="16.7">Latitude</text>
<line x1="110.4" y1="669.42" x2="115.5" y2="669.42" stroke="#000" stroke-width="1.1"/>
<line x1="915.6" y1="669.42" x2="920.7" y2="669.42" stroke="#000" stroke-width="1.1"/>
<text x="104.80" y="675.92" font-size="16.5" text-anchor="end">ENSS</text>
<text x="925.2" y="667.92" font-size="16.7">Avg. Δ <tspan font-style="italic">θ</tspan><tspan font-size="11.7" dy="2.6">e</tspan><tspan dy="-2.6"> (only negative) between parcel lifted</tspan></text>
<text x="925.2" y="688.82" font-size="16.7">from sfc. and saturated <tspan font-style="italic">θ</tspan><tspan font-size="11.7" dy="2.6">e</tspan><tspan dy="-2.6"> of env. (200-800 km)</tspan></text>
<line x1="110.4" y1="737.21" x2="115.5" y2="737.21" stroke="#000" stroke-width="1.1"/>
<line x1="915.6" y1="737.21" x2="920.7" y2="737.21" stroke="#000" stroke-width="1.1"/>
<text x="104.80" y="743.71" font-size="16.5" text-anchor="end">DELV</text>
<text x="925.20" y="743.51" font-size="16.7">-12h to 0h Intensity change</text>
<line x1="110.4" y1="805.00" x2="115.5" y2="805.00" stroke="#000" stroke-width="1.1"/>
<line x1="915.6" y1="805.00" x2="920.7" y2="805.00" stroke="#000" stroke-width="1.1"/>
<text x="104.80" y="811.50" font-size="16.5" text-anchor="end">RSST</text>
<text x="925.20" y="811.30" font-size="16.7">Reynolds SST</text>
<line x1="110.4" y1="872.79" x2="115.5" y2="872.79" stroke="#000" stroke-width="1.1"/>
<line x1="915.6" y1="872.79" x2="920.7" y2="872.79" stroke="#000" stroke-width="1.1"/>
<text x="104.80" y="879.29" font-size="16.5" text-anchor="end">HIST</text>
<text x="925.20" y="879.09" font-size="16.7">The # of 6h periods VMAX has been above 20kt</text>
<line x1="110.4" y1="940.58" x2="115.5" y2="940.58" stroke="#000" stroke-width="1.1"/>
<line x1="915.6" y1="940.58" x2="920.7" y2="940.58" stroke="#000" stroke-width="1.1"/>
<text x="104.80" y="947.08" font-size="16.5" text-anchor="end">V850</text>
<text x="925.20" y="939.28" font-size="16.7">850hPa tangential wind azimuthally</text>
<text x="925.20" y="957.18" font-size="16.7">averaged at 500 km</text>
<line x1="110.4" y1="1008.37" x2="115.5" y2="1008.37" stroke="#000" stroke-width="1.1"/>
<line x1="915.6" y1="1008.37" x2="920.7" y2="1008.37" stroke="#000" stroke-width="1.1"/>
<text x="104.80" y="1014.87" font-size="16.5" text-anchor="end">VMAX</text>
<text x="925.20" y="1014.67" font-size="16.7">Maximum Wind</text>
<line x1="110.4" y1="1076.16" x2="115.5" y2="1076.16" stroke="#000" stroke-width="1.1"/>
<line x1="915.6" y1="1076.16" x2="920.7" y2="1076.16" stroke="#000" stroke-width="1.1"/>
<text x="104.80" y="1082.66" font-size="16.5" text-anchor="end">V300</text>
<text x="925.20" y="1074.86" font-size="16.7">300hPa tangential wind azimuthally</text>
<text x="925.20" y="1092.76" font-size="16.7">averaged at 500 km</text>
<line x1="110.4" y1="1143.95" x2="115.5" y2="1143.95" stroke="#000" stroke-width="1.1"/>
<line x1="915.6" y1="1143.95" x2="920.7" y2="1143.95" stroke="#000" stroke-width="1.1"/>
<text x="104.80" y="1150.45" font-size="16.5" text-anchor="end">V20C</text>
<text x="925.20" y="1150.25" font-size="16.7">200hPa meridional wind (0-500 km)</text>
<line x1="110.4" y1="1211.74" x2="115.5" y2="1211.74" stroke="#000" stroke-width="1.1"/>
<line x1="915.6" y1="1211.74" x2="920.7" y2="1211.74" stroke="#000" stroke-width="1.1"/>
<text x="104.80" y="1218.24" font-size="16.5" text-anchor="end">V500</text>
<text x="925.20" y="1210.44" font-size="16.7">500hPa tangential wind azimuthally</text>
<text x="925.20" y="1228.34" font-size="16.7">averaged at 500 km</text>
<line x1="110.4" y1="1279.53" x2="115.5" y2="1279.53" stroke="#000" stroke-width="1.1"/>
<line x1="915.6" y1="1279.53" x2="920.7" y2="1279.53" stroke="#000" stroke-width="1.1"/>
<text x="104.80" y="1286.03" font-size="16.5" text-anchor="end">SHDC</text>
<text x="925.20" y="1278.23" font-size="16.7">850-200hPa shear with</text>
<text x="925.20" y="1296.13" font-size="16.7">vortex removed (0-500 km)</text>
<line x1="110.4" y1="1347.32" x2="115.5" y2="1347.32" stroke="#000" stroke-width="1.1"/>
<line x1="915.6" y1="1347.32" x2="920.7" y2="1347.32" stroke="#000" stroke-width="1.1"/>
<text x="104.80" y="1353.82" font-size="16.5" text-anchor="end">MSLP</text>
<text x="925.20" y="1353.62" font-size="16.7">Mean Sea Level Pressure</text>
<line x1="110.4" y1="1415.11" x2="115.5" y2="1415.11" stroke="#000" stroke-width="1.1"/>
<line x1="915.6" y1="1415.11" x2="920.7" y2="1415.11" stroke="#000" stroke-width="1.1"/>
<text x="104.80" y="1421.61" font-size="16.5" text-anchor="end">V000</text>
<text x="925.20" y="1413.81" font-size="16.7">1000hPa tangential wind azimuthally</text>
<text x="925.20" y="1431.71" font-size="16.7">averaged at 500 km</text>
<line x1="110.4" y1="1482.90" x2="115.5" y2="1482.90" stroke="#000" stroke-width="1.1"/>
<line x1="915.6" y1="1482.90" x2="920.7" y2="1482.90" stroke="#000" stroke-width="1.1"/>
<text x="104.80" y="1489.40" font-size="16.5" text-anchor="end">U200</text>
<text x="925.20" y="1489.20" font-size="16.7">200hPa zonal wind (200-800 km)</text>
<line x1="110.4" y1="1550.69" x2="115.5" y2="1550.69" stroke="#000" stroke-width="1.1"/>
<line x1="915.6" y1="1550.69" x2="920.7" y2="1550.69" stroke="#000" stroke-width="1.1"/>
<text x="104.80" y="1557.19" font-size="16.5" text-anchor="end">U20C</text>
<text x="925.20" y="1556.99" font-size="16.7">200hPa zonal wind (0-500 km)</text>
<line x1="110.4" y1="1618.48" x2="115.5" y2="1618.48" stroke="#000" stroke-width="1.1"/>
<line x1="915.6" y1="1618.48" x2="920.7" y2="1618.48" stroke="#000" stroke-width="1.1"/>
<text x="104.80" y="1624.98" font-size="16.5" text-anchor="end">Z850</text>
<text x="925.20" y="1624.78" font-size="16.7">850hPa vorticity (0-1000 km)</text>
<line x1="110.4" y1="1686.27" x2="115.5" y2="1686.27" stroke="#000" stroke-width="1.1"/>
<line x1="915.6" y1="1686.27" x2="920.7" y2="1686.27" stroke="#000" stroke-width="1.1"/>
<text x="104.80" y="1692.77" font-size="16.5" text-anchor="end">NDML</text>
<text x="925.20" y="1684.97" font-size="16.7">Depth of the mixed layer,</text>
<text x="925.20" y="1702.87" font-size="16.7">where the T is 0.5° C colder than the surface</text>
<line x1="174.80" y1="1764.5" x2="174.80" y2="1769.6" stroke="#000" stroke-width="1.1"/>
<text x="174.80" y="1786.80" font-size="16.3" text-anchor="middle">−0.08</text>
<line x1="314.75" y1="1764.5" x2="314.75" y2="1769.6" stroke="#000" stroke-width="1.1"/>
<text x="314.75" y="1786.80" font-size="16.3" text-anchor="middle">−0.06</text>
<line x1="454.70" y1="1764.5" x2="454.70" y2="1769.6" stroke="#000" stroke-width="1.1"/>
<text x="454.70" y="1786.80" font-size="16.3" text-anchor="middle">−0.04</text>
<line x1="594.65" y1="1764.5" x2="594.65" y2="1769.6" stroke="#000" stroke-width="1.1"/>
<text x="594.65" y="1786.80" font-size="16.3" text-anchor="middle">−0.02</text>
<line x1="734.60" y1="1764.5" x2="734.60" y2="1769.6" stroke="#000" stroke-width="1.1"/>
<text x="734.60" y="1786.80" font-size="16.3" text-anchor="middle">0.00</text>
<line x1="874.55" y1="1764.5" x2="874.55" y2="1769.6" stroke="#000" stroke-width="1.1"/>
<text x="874.55" y="1786.80" font-size="16.3" text-anchor="middle">0.02</text>
<text x="514.60" y="1809.85" font-size="19.5" text-anchor="middle">SHAP Value</text>
<defs><linearGradient id="rbg" x1="0" x2="1" y1="0" y2="0"><stop offset="0.000" stop-color="#008bfb"/><stop offset="0.025" stop-color="#0087fa"/><stop offset="0.050" stop-color="#0084f9"/><stop offset="0.075" stop-color="#0080f7"/><stop offset="0.100" stop-color="#007cf5"/><stop offset="0.125" stop-color="#0078f3"/><stop offset="0.150" stop-color="#0074f0"/><stop offset="0.175" stop-color="#0070ed"/><stop offset="0.200" stop-color="#236cea"/><stop offset="0.225" stop-color="#3b68e7"/><stop offset="0.250" stop-color="#4b63e3"/><stop offset="0.275" stop-color="#585edf"/><stop offset="0.300" stop-color="#6359da"/><stop offset="0.325" stop-color="#6c54d6"/><stop offset="0.350" stop-color="#754fd1"/><stop offset="0.375" stop-color="#7d49cb"/><stop offset="0.400" stop-color="#8443c6"/><stop offset="0.425" stop-color="#8b3cc0"/><stop offset="0.450" stop-color="#9135ba"/><stop offset="0.475" stop-color="#962db3"/><stop offset="0.500" stop-color="#9b23ad"/><stop offset="0.525" stop-color="#a31daa"/><stop offset="0.550" stop-color="#ab15a7"/><stop offset="0.575" stop-color="#b30ba3"/><stop offset="0.600" stop-color="#bb00a0"/><stop offset="0.625" stop-color="#c2009c"/><stop offset="0.650" stop-color="#c80098"/><stop offset="0.675" stop-color="#cf0093"/><stop offset="0.700" stop-color="#d5008f"/><stop offset="0.725" stop-color="#da008a"/><stop offset="0.750" stop-color="#e00086"/><stop offset="0.775" stop-color="#e50081"/><stop offset="0.800" stop-color="#e9007c"/><stop offset="0.825" stop-color="#ee0077"/><stop offset="0.850" stop-color="#f20072"/><stop offset="0.875" stop-color="#f5006c"/><stop offset="0.900" stop-color="#f90067"/><stop offset="0.925" stop-color="#fc0062"/><stop offset="0.950" stop-color="#fe005c"/><stop offset="0.975" stop-color="#ff0057"/><stop offset="1.000" stop-color="#ff0051"/></linearGradient></defs>
<rect x="100.5" y="1859.3" width="1174.80" height="50.10" fill="url(#rbg)" stroke="#000" stroke-width="1.2"/>
<text x="687.90" y="1851.80" font-size="19.5" text-anchor="middle">Feature Value</text>
<line x1="100.5" y1="1909.4" x2="100.5" y2="1914.4" stroke="#000" stroke-width="1.1"/>
<text x="100.50" y="1934.00" font-size="17.0" text-anchor="middle">Low</text>
<line x1="1275.3" y1="1909.4" x2="1275.3" y2="1914.4" stroke="#000" stroke-width="1.1"/>
<text x="1275.30" y="1934.00" font-size="17.0" text-anchor="middle">High</text>
<text x="99.40" y="1965.10" font-size="18.1">SHAP Value: Amount each feature [listed on Y-axis] contributes to the probability of RI</text>
<text x="99.00" y="1994.80" font-size="18.1">Feature Value: The value of the feature [listed on Y-axis] for the given TC compared to the training dataset</text>
</g>
<text x="1939.80" y="24.80" font-size="25.06" text-anchor="middle">Comparison of IR SHAP Values for 25kt RI in 24h for Melissa at 20251021 18UTC</text>
<text x="3240.30" y="24.80" font-size="22.26" text-anchor="middle">Comparison of 3h IR difference within 10 degrees SHAP Values for 25kt RI in 24h for Melissa at 20251021 18UTC</text>
<g transform="translate(1415.2,69.3)" clip-path="url(#c300)"><use href="#sIR" filter="url(#fIR)"/></g>
<rect x="1415.2" y="69.3" width="300.0" height="300.0" fill="none" stroke="#000" stroke-width="1.2"/>
<text x="1565.20" y="62.60" font-size="19.5" text-anchor="middle">IR Data</text>
<line x1="1415.20" y1="369.3" x2="1415.20" y2="374.2" stroke="#000" stroke-width="1.1"/>
<line x1="1410.3" y1="69.30" x2="1415.2" y2="69.30" stroke="#000" stroke-width="1.1"/>
<text x="1415.20" y="390.90" font-size="14.0" text-anchor="middle">800</text>
<text x="1405.20" y="75.80" font-size="14.0" text-anchor="end">800</text>
<line x1="1490.20" y1="369.3" x2="1490.20" y2="374.2" stroke="#000" stroke-width="1.1"/>
<line x1="1410.3" y1="144.30" x2="1415.2" y2="144.30" stroke="#000" stroke-width="1.1"/>
<text x="1490.20" y="390.90" font-size="14.0" text-anchor="middle">400</text>
<text x="1405.20" y="150.80" font-size="14.0" text-anchor="end">400</text>
<line x1="1565.20" y1="369.3" x2="1565.20" y2="374.2" stroke="#000" stroke-width="1.1"/>
<line x1="1410.3" y1="219.30" x2="1415.2" y2="219.30" stroke="#000" stroke-width="1.1"/>
<text x="1565.20" y="390.90" font-size="14.0" text-anchor="middle">0</text>
<text x="1405.20" y="225.80" font-size="14.0" text-anchor="end">0</text>
<line x1="1640.20" y1="369.3" x2="1640.20" y2="374.2" stroke="#000" stroke-width="1.1"/>
<line x1="1410.3" y1="294.30" x2="1415.2" y2="294.30" stroke="#000" stroke-width="1.1"/>
<text x="1640.20" y="390.90" font-size="14.0" text-anchor="middle">400</text>
<text x="1405.20" y="300.80" font-size="14.0" text-anchor="end">400</text>
<line x1="1715.20" y1="369.3" x2="1715.20" y2="374.2" stroke="#000" stroke-width="1.1"/>
<line x1="1410.3" y1="369.30" x2="1415.2" y2="369.30" stroke="#000" stroke-width="1.1"/>
<text x="1715.20" y="390.90" font-size="14.0" text-anchor="middle">800</text>
<text x="1405.20" y="375.80" font-size="14.0" text-anchor="end">800</text>
<text x="1565.20" y="409.70" font-size="14.0" text-anchor="middle">km</text>
<text transform="translate(1369.90,219.80) rotate(-90)" font-size="14.0" text-anchor="middle">km</text>
<g transform="translate(1790.2,69.3)" clip-path="url(#c300)"><use href="#sIR" filter="url(#fNIR)"/></g>
<rect x="1790.2" y="69.3" width="300.0" height="300.0" fill="none" stroke="#000" stroke-width="1.2"/>
<text x="1940.20" y="62.60" font-size="19.5" text-anchor="middle">Normalized IR Data</text>
<line x1="1790.20" y1="369.3" x2="1790.20" y2="374.2" stroke="#000" stroke-width="1.1"/>
<line x1="1785.3" y1="69.30" x2="1790.2" y2="69.30" stroke="#000" stroke-width="1.1"/>
<text x="1790.20" y="390.90" font-size="14.0" text-anchor="middle">800</text>
<text x="1780.20" y="75.80" font-size="14.0" text-anchor="end">800</text>
<line x1="1865.20" y1="369.3" x2="1865.20" y2="374.2" stroke="#000" stroke-width="1.1"/>
<line x1="1785.3" y1="144.30" x2="1790.2" y2="144.30" stroke="#000" stroke-width="1.1"/>
<text x="1865.20" y="390.90" font-size="14.0" text-anchor="middle">400</text>
<text x="1780.20" y="150.80" font-size="14.0" text-anchor="end">400</text>
<line x1="1940.20" y1="369.3" x2="1940.20" y2="374.2" stroke="#000" stroke-width="1.1"/>
<line x1="1785.3" y1="219.30" x2="1790.2" y2="219.30" stroke="#000" stroke-width="1.1"/>
<text x="1940.20" y="390.90" font-size="14.0" text-anchor="middle">0</text>
<text x="1780.20" y="225.80" font-size="14.0" text-anchor="end">0</text>
<line x1="2015.20" y1="369.3" x2="2015.20" y2="374.2" stroke="#000" stroke-width="1.1"/>
<line x1="1785.3" y1="294.30" x2="1790.2" y2="294.30" stroke="#000" stroke-width="1.1"/>
<text x="2015.20" y="390.90" font-size="14.0" text-anchor="middle">400</text>
<text x="1780.20" y="300.80" font-size="14.0" text-anchor="end">400</text>
<line x1="2090.20" y1="369.3" x2="2090.20" y2="374.2" stroke="#000" stroke-width="1.1"/>
<line x1="1785.3" y1="369.30" x2="1790.2" y2="369.30" stroke="#000" stroke-width="1.1"/>
<text x="2090.20" y="390.90" font-size="14.0" text-anchor="middle">800</text>
<text x="1780.20" y="375.80" font-size="14.0" text-anchor="end">800</text>
<text x="1940.20" y="409.70" font-size="14.0" text-anchor="middle">km</text>
<text transform="translate(1744.90,219.80) rotate(-90)" font-size="14.0" text-anchor="middle">km</text>
<g transform="translate(2165.2,69.3)" clip-path="url(#c300)"><use href="#sL0" filter="url(#fSH)"/></g>
<rect x="2165.2" y="69.3" width="300.0" height="300.0" fill="none" stroke="#000" stroke-width="1.2"/>
<text x="2315.20" y="62.60" font-size="19.5" text-anchor="middle">SHAP Value=-0.04366</text>
<line x1="2165.20" y1="369.3" x2="2165.20" y2="374.2" stroke="#000" stroke-width="1.1"/>
<line x1="2160.2999999999997" y1="69.30" x2="2165.2" y2="69.30" stroke="#000" stroke-width="1.1"/>
<text x="2165.20" y="390.90" font-size="14.0" text-anchor="middle">800</text>
<text x="2155.20" y="75.80" font-size="14.0" text-anchor="end">800</text>
<line x1="2240.20" y1="369.3" x2="2240.20" y2="374.2" stroke="#000" stroke-width="1.1"/>
<line x1="2160.2999999999997" y1="144.30" x2="2165.2" y2="144.30" stroke="#000" stroke-width="1.1"/>
<text x="2240.20" y="390.90" font-size="14.0" text-anchor="middle">400</text>
<text x="2155.20" y="150.80" font-size="14.0" text-anchor="end">400</text>
<line x1="2315.20" y1="369.3" x2="2315.20" y2="374.2" stroke="#000" stroke-width="1.1"/>
<line x1="2160.2999999999997" y1="219.30" x2="2165.2" y2="219.30" stroke="#000" stroke-width="1.1"/>
<text x="2315.20" y="390.90" font-size="14.0" text-anchor="middle">0</text>
<text x="2155.20" y="225.80" font-size="14.0" text-anchor="end">0</text>
<line x1="2390.20" y1="369.3" x2="2390.20" y2="374.2" stroke="#000" stroke-width="1.1"/>
<line x1="2160.2999999999997" y1="294.30" x2="2165.2" y2="294.30" stroke="#000" stroke-width="1.1"/>
<text x="2390.20" y="390.90" font-size="14.0" text-anchor="middle">400</text>
<text x="2155.20" y="300.80" font-size="14.0" text-anchor="end">400</text>
<line x1="2465.20" y1="369.3" x2="2465.20" y2="374.2" stroke="#000" stroke-width="1.1"/>
<line x1="2160.2999999999997" y1="369.30" x2="2165.2" y2="369.30" stroke="#000" stroke-width="1.1"/>
<text x="2465.20" y="390.90" font-size="14.0" text-anchor="middle">800</text>
<text x="2155.20" y="375.80" font-size="14.0" text-anchor="end">800</text>
<text x="2315.20" y="409.70" font-size="14.0" text-anchor="middle">km</text>
<text transform="translate(2119.90,219.80) rotate(-90)" font-size="14.0" text-anchor="middle">km</text>
<g transform="translate(2565.2,69.3)" clip-path="url(#c300)"><use href="#s15" filter="url(#fIR)"/></g>
<rect x="2565.2" y="69.3" width="300.0" height="300.0" fill="none" stroke="#000" stroke-width="1.2"/>
<text x="2715.20" y="62.60" font-size="19.5" text-anchor="middle">20251021 at 15UTC</text>
<line x1="2565.20" y1="369.3" x2="2565.20" y2="374.2" stroke="#000" stroke-width="1.1"/>
<line x1="2560.2999999999997" y1="69.30" x2="2565.2" y2="69.30" stroke="#000" stroke-width="1.1"/>
<text x="2565.20" y="390.90" font-size="14.0" text-anchor="middle">276</text>
<text x="2555.20" y="75.80" font-size="14.0" text-anchor="end">276</text>
<line x1="2640.20" y1="369.3" x2="2640.20" y2="374.2" stroke="#000" stroke-width="1.1"/>
<line x1="2560.2999999999997" y1="144.30" x2="2565.2" y2="144.30" stroke="#000" stroke-width="1.1"/>
<text x="2640.20" y="390.90" font-size="14.0" text-anchor="middle">138</text>
<text x="2555.20" y="150.80" font-size="14.0" text-anchor="end">138</text>
<line x1="2715.20" y1="369.3" x2="2715.20" y2="374.2" stroke="#000" stroke-width="1.1"/>
<line x1="2560.2999999999997" y1="219.30" x2="2565.2" y2="219.30" stroke="#000" stroke-width="1.1"/>
<text x="2715.20" y="390.90" font-size="14.0" text-anchor="middle">0</text>
<text x="2555.20" y="225.80" font-size="14.0" text-anchor="end">0</text>
<line x1="2790.20" y1="369.3" x2="2790.20" y2="374.2" stroke="#000" stroke-width="1.1"/>
<line x1="2560.2999999999997" y1="294.30" x2="2565.2" y2="294.30" stroke="#000" stroke-width="1.1"/>
<text x="2790.20" y="390.90" font-size="14.0" text-anchor="middle">138</text>
<text x="2555.20" y="300.80" font-size="14.0" text-anchor="end">138</text>
<line x1="2865.20" y1="369.3" x2="2865.20" y2="374.2" stroke="#000" stroke-width="1.1"/>
<line x1="2560.2999999999997" y1="369.30" x2="2565.2" y2="369.30" stroke="#000" stroke-width="1.1"/>
<text x="2865.20" y="390.90" font-size="14.0" text-anchor="middle">276</text>
<text x="2555.20" y="375.80" font-size="14.0" text-anchor="end">276</text>
<text x="2715.20" y="409.70" font-size="14.0" text-anchor="middle">km</text>
<text transform="translate(2519.90,219.80) rotate(-90)" font-size="14.0" text-anchor="middle">km</text>
<g transform="translate(2940.2,69.3)" clip-path="url(#c300)"><g transform="scale(1.5 1.48) translate(-51.0,-48.8)"><use href="#sIR" filter="url(#fIR)"/></g></g>
<rect x="2940.2" y="69.3" width="300.0" height="300.0" fill="none" stroke="#000" stroke-width="1.2"/>
<text x="3090.20" y="62.60" font-size="19.5" text-anchor="middle">20251021 at 18UTC</text>
<line x1="2940.20" y1="369.3" x2="2940.20" y2="374.2" stroke="#000" stroke-width="1.1"/>
<line x1="2935.2999999999997" y1="69.30" x2="2940.2" y2="69.30" stroke="#000" stroke-width="1.1"/>
<text x="2940.20" y="390.90" font-size="14.0" text-anchor="middle">276</text>
<text x="2930.20" y="75.80" font-size="14.0" text-anchor="end">276</text>
<line x1="3015.20" y1="369.3" x2="3015.20" y2="374.2" stroke="#000" stroke-width="1.1"/>
<line x1="2935.2999999999997" y1="144.30" x2="2940.2" y2="144.30" stroke="#000" stroke-width="1.1"/>
<text x="3015.20" y="390.90" font-size="14.0" text-anchor="middle">138</text>
<text x="2930.20" y="150.80" font-size="14.0" text-anchor="end">138</text>
<line x1="3090.20" y1="369.3" x2="3090.20" y2="374.2" stroke="#000" stroke-width="1.1"/>
<line x1="2935.2999999999997" y1="219.30" x2="2940.2" y2="219.30" stroke="#000" stroke-width="1.1"/>
<text x="3090.20" y="390.90" font-size="14.0" text-anchor="middle">0</text>
<text x="2930.20" y="225.80" font-size="14.0" text-anchor="end">0</text>
<line x1="3165.20" y1="369.3" x2="3165.20" y2="374.2" stroke="#000" stroke-width="1.1"/>
<line x1="2935.2999999999997" y1="294.30" x2="2940.2" y2="294.30" stroke="#000" stroke-width="1.1"/>
<text x="3165.20" y="390.90" font-size="14.0" text-anchor="middle">138</text>
<text x="2930.20" y="300.80" font-size="14.0" text-anchor="end">138</text>
<line x1="3240.20" y1="369.3" x2="3240.20" y2="374.2" stroke="#000" stroke-width="1.1"/>
<line x1="2935.2999999999997" y1="369.30" x2="2940.2" y2="369.30" stroke="#000" stroke-width="1.1"/>
<text x="3240.20" y="390.90" font-size="14.0" text-anchor="middle">276</text>
<text x="2930.20" y="375.80" font-size="14.0" text-anchor="end">276</text>
<text x="3090.20" y="409.70" font-size="14.0" text-anchor="middle">km</text>
<text transform="translate(2894.90,219.80) rotate(-90)" font-size="14.0" text-anchor="middle">km</text>
<g transform="translate(3315.2,69.3)" clip-path="url(#c300)"><use href="#sND" filter="url(#fSEI)"/></g>
<rect x="3315.2" y="69.3" width="300.0" height="300.0" fill="none" stroke="#000" stroke-width="1.2"/>
<text x="3465.20" y="62.60" font-size="19.5" text-anchor="middle">Normalized Data</text>
<line x1="3315.20" y1="369.3" x2="3315.20" y2="374.2" stroke="#000" stroke-width="1.1"/>
<line x1="3310.2999999999997" y1="69.30" x2="3315.2" y2="69.30" stroke="#000" stroke-width="1.1"/>
<text x="3315.20" y="390.90" font-size="14.0" text-anchor="middle">276</text>
<text x="3305.20" y="75.80" font-size="14.0" text-anchor="end">276</text>
<line x1="3390.20" y1="369.3" x2="3390.20" y2="374.2" stroke="#000" stroke-width="1.1"/>
<line x1="3310.2999999999997" y1="144.30" x2="3315.2" y2="144.30" stroke="#000" stroke-width="1.1"/>
<text x="3390.20" y="390.90" font-size="14.0" text-anchor="middle">138</text>
<text x="3305.20" y="150.80" font-size="14.0" text-anchor="end">138</text>
<line x1="3465.20" y1="369.3" x2="3465.20" y2="374.2" stroke="#000" stroke-width="1.1"/>
<line x1="3310.2999999999997" y1="219.30" x2="3315.2" y2="219.30" stroke="#000" stroke-width="1.1"/>
<text x="3465.20" y="390.90" font-size="14.0" text-anchor="middle">0</text>
<text x="3305.20" y="225.80" font-size="14.0" text-anchor="end">0</text>
<line x1="3540.20" y1="369.3" x2="3540.20" y2="374.2" stroke="#000" stroke-width="1.1"/>
<line x1="3310.2999999999997" y1="294.30" x2="3315.2" y2="294.30" stroke="#000" stroke-width="1.1"/>
<text x="3540.20" y="390.90" font-size="14.0" text-anchor="middle">138</text>
<text x="3305.20" y="300.80" font-size="14.0" text-anchor="end">138</text>
<line x1="3615.20" y1="369.3" x2="3615.20" y2="374.2" stroke="#000" stroke-width="1.1"/>
<line x1="3310.2999999999997" y1="369.30" x2="3315.2" y2="369.30" stroke="#000" stroke-width="1.1"/>
<text x="3615.20" y="390.90" font-size="14.0" text-anchor="middle">276</text>
<text x="3305.20" y="375.80" font-size="14.0" text-anchor="end">276</text>
<text x="3465.20" y="409.70" font-size="14.0" text-anchor="middle">km</text>
<text transform="translate(3269.90,219.80) rotate(-90)" font-size="14.0" text-anchor="middle">km</text>
<g transform="translate(3690.2,69.3)" clip-path="url(#c300)"><use href="#sR0" filter="url(#fSH)"/></g>
<rect x="3690.2" y="69.3" width="300.0" height="300.0" fill="none" stroke="#000" stroke-width="1.2"/>
<text x="3840.20" y="62.60" font-size="19.5" text-anchor="middle">SHAP Value=-0.06471</text>
<line x1="3690.20" y1="369.3" x2="3690.20" y2="374.2" stroke="#000" stroke-width="1.1"/>
<line x1="3685.2999999999997" y1="69.30" x2="3690.2" y2="69.30" stroke="#000" stroke-width="1.1"/>
<text x="3690.20" y="390.90" font-size="14.0" text-anchor="middle">276</text>
<text x="3680.20" y="75.80" font-size="14.0" text-anchor="end">276</text>
<line x1="3765.20" y1="369.3" x2="3765.20" y2="374.2" stroke="#000" stroke-width="1.1"/>
<line x1="3685.2999999999997" y1="144.30" x2="3690.2" y2="144.30" stroke="#000" stroke-width="1.1"/>
<text x="3765.20" y="390.90" font-size="14.0" text-anchor="middle">138</text>
<text x="3680.20" y="150.80" font-size="14.0" text-anchor="end">138</text>
<line x1="3840.20" y1="369.3" x2="3840.20" y2="374.2" stroke="#000" stroke-width="1.1"/>
<line x1="3685.2999999999997" y1="219.30" x2="3690.2" y2="219.30" stroke="#000" stroke-width="1.1"/>
<text x="3840.20" y="390.90" font-size="14.0" text-anchor="middle">0</text>
<text x="3680.20" y="225.80" font-size="14.0" text-anchor="end">0</text>
<line x1="3915.20" y1="369.3" x2="3915.20" y2="374.2" stroke="#000" stroke-width="1.1"/>
<line x1="3685.2999999999997" y1="294.30" x2="3690.2" y2="294.30" stroke="#000" stroke-width="1.1"/>
<text x="3915.20" y="390.90" font-size="14.0" text-anchor="middle">138</text>
<text x="3680.20" y="300.80" font-size="14.0" text-anchor="end">138</text>
<line x1="3990.20" y1="369.3" x2="3990.20" y2="374.2" stroke="#000" stroke-width="1.1"/>
<line x1="3685.2999999999997" y1="369.30" x2="3690.2" y2="369.30" stroke="#000" stroke-width="1.1"/>
<text x="3990.20" y="390.90" font-size="14.0" text-anchor="middle">276</text>
<text x="3680.20" y="375.80" font-size="14.0" text-anchor="end">276</text>
<text x="3840.20" y="409.70" font-size="14.0" text-anchor="middle">km</text>
<text transform="translate(3644.90,219.80) rotate(-90)" font-size="14.0" text-anchor="middle">km</text>
<g transform="translate(1415.2,444.3)" clip-path="url(#c300)"><use href="#sIR" filter="url(#fIR)"/></g>
<rect x="1415.2" y="444.3" width="300.0" height="300.0" fill="none" stroke="#000" stroke-width="1.2"/>
<text x="1565.20" y="437.60" font-size="19.5" text-anchor="middle">IR Data</text>
<line x1="1415.20" y1="744.3" x2="1415.20" y2="749.1999999999999" stroke="#000" stroke-width="1.1"/>
<line x1="1410.3" y1="444.30" x2="1415.2" y2="444.30" stroke="#000" stroke-width="1.1"/>
<text x="1415.20" y="765.90" font-size="14.0" text-anchor="middle">800</text>
<text x="1405.20" y="450.80" font-size="14.0" text-anchor="end">800</text>
<line x1="1490.20" y1="744.3" x2="1490.20" y2="749.1999999999999" stroke="#000" stroke-width="1.1"/>
<line x1="1410.3" y1="519.30" x2="1415.2" y2="519.30" stroke="#000" stroke-width="1.1"/>
<text x="1490.20" y="765.90" font-size="14.0" text-anchor="middle">400</text>
<text x="1405.20" y="525.80" font-size="14.0" text-anchor="end">400</text>
<line x1="1565.20" y1="744.3" x2="1565.20" y2="749.1999999999999" stroke="#000" stroke-width="1.1"/>
<line x1="1410.3" y1="594.30" x2="1415.2" y2="594.30" stroke="#000" stroke-width="1.1"/>
<text x="1565.20" y="765.90" font-size="14.0" text-anchor="middle">0</text>
<text x="1405.20" y="600.80" font-size="14.0" text-anchor="end">0</text>
<line x1="1640.20" y1="744.3" x2="1640.20" y2="749.1999999999999" stroke="#000" stroke-width="1.1"/>
<line x1="1410.3" y1="669.30" x2="1415.2" y2="669.30" stroke="#000" stroke-width="1.1"/>
<text x="1640.20" y="765.90" font-size="14.0" text-anchor="middle">400</text>
<text x="1405.20" y="675.80" font-size="14.0" text-anchor="end">400</text>
<line x1="1715.20" y1="744.3" x2="1715.20" y2="749.1999999999999" stroke="#000" stroke-width="1.1"/>
<line x1="1410.3" y1="744.30" x2="1415.2" y2="744.30" stroke="#000" stroke-width="1.1"/>
<text x="1715.20" y="765.90" font-size="14.0" text-anchor="middle">800</text>
<text x="1405.20" y="750.80" font-size="14.0" text-anchor="end">800</text>
<text x="1565.20" y="784.70" font-size="14.0" text-anchor="middle">km</text>
<text transform="translate(1369.90,594.80) rotate(-90)" font-size="14.0" text-anchor="middle">km</text>
<g transform="translate(1790.2,444.3)" clip-path="url(#c300)"><use href="#sIR" filter="url(#fNIR)"/></g>
<rect x="1790.2" y="444.3" width="300.0" height="300.0" fill="none" stroke="#000" stroke-width="1.2"/>
<text x="1940.20" y="437.60" font-size="19.5" text-anchor="middle">Normalized IR Data</text>
<line x1="1790.20" y1="744.3" x2="1790.20" y2="749.1999999999999" stroke="#000" stroke-width="1.1"/>
<line x1="1785.3" y1="444.30" x2="1790.2" y2="444.30" stroke="#000" stroke-width="1.1"/>
<text x="1790.20" y="765.90" font-size="14.0" text-anchor="middle">800</text>
<text x="1780.20" y="450.80" font-size="14.0" text-anchor="end">800</text>
<line x1="1865.20" y1="744.3" x2="1865.20" y2="749.1999999999999" stroke="#000" stroke-width="1.1"/>
<line x1="1785.3" y1="519.30" x2="1790.2" y2="519.30" stroke="#000" stroke-width="1.1"/>
<text x="1865.20" y="765.90" font-size="14.0" text-anchor="middle">400</text>
<text x="1780.20" y="525.80" font-size="14.0" text-anchor="end">400</text>
<line x1="1940.20" y1="744.3" x2="1940.20" y2="749.1999999999999" stroke="#000" stroke-width="1.1"/>
<line x1="1785.3" y1="594.30" x2="1790.2" y2="594.30" stroke="#000" stroke-width="1.1"/>
<text x="1940.20" y="765.90" font-size="14.0" text-anchor="middle">0</text>
<text x="1780.20" y="600.80" font-size="14.0" text-anchor="end">0</text>
<line x1="2015.20" y1="744.3" x2="2015.20" y2="749.1999999999999" stroke="#000" stroke-width="1.1"/>
<line x1="1785.3" y1="669.30" x2="1790.2" y2="669.30" stroke="#000" stroke-width="1.1"/>
<text x="2015.20" y="765.90" font-size="14.0" text-anchor="middle">400</text>
<text x="1780.20" y="675.80" font-size="14.0" text-anchor="end">400</text>
<line x1="2090.20" y1="744.3" x2="2090.20" y2="749.1999999999999" stroke="#000" stroke-width="1.1"/>
<line x1="1785.3" y1="744.30" x2="1790.2" y2="744.30" stroke="#000" stroke-width="1.1"/>
<text x="2090.20" y="765.90" font-size="14.0" text-anchor="middle">800</text>
<text x="1780.20" y="750.80" font-size="14.0" text-anchor="end">800</text>
<text x="1940.20" y="784.70" font-size="14.0" text-anchor="middle">km</text>
<text transform="translate(1744.90,594.80) rotate(-90)" font-size="14.0" text-anchor="middle">km</text>
<g transform="translate(2165.2,444.3)" clip-path="url(#c300)"><use href="#sL1" filter="url(#fSH)"/></g>
<rect x="2165.2" y="444.3" width="300.0" height="300.0" fill="none" stroke="#000" stroke-width="1.2"/>
<text x="2315.20" y="437.60" font-size="19.5" text-anchor="middle">SHAP Value=-0.04016</text>
<line x1="2165.20" y1="744.3" x2="2165.20" y2="749.1999999999999" stroke="#000" stroke-width="1.1"/>
<line x1="2160.2999999999997" y1="444.30" x2="2165.2" y2="444.30" stroke="#000" stroke-width="1.1"/>
<text x="2165.20" y="765.90" font-size="14.0" text-anchor="middle">800</text>
<text x="2155.20" y="450.80" font-size="14.0" text-anchor="end">800</text>
<line x1="2240.20" y1="744.3" x2="2240.20" y2="749.1999999999999" stroke="#000" stroke-width="1.1"/>
<line x1="2160.2999999999997" y1="519.30" x2="2165.2" y2="519.30" stroke="#000" stroke-width="1.1"/>
<text x="2240.20" y="765.90" font-size="14.0" text-anchor="middle">400</text>
<text x="2155.20" y="525.80" font-size="14.0" text-anchor="end">400</text>
<line x1="2315.20" y1="744.3" x2="2315.20" y2="749.1999999999999" stroke="#000" stroke-width="1.1"/>
<line x1="2160.2999999999997" y1="594.30" x2="2165.2" y2="594.30" stroke="#000" stroke-width="1.1"/>
<text x="2315.20" y="765.90" font-size="14.0" text-anchor="middle">0</text>
<text x="2155.20" y="600.80" font-size="14.0" text-anchor="end">0</text>
<line x1="2390.20" y1="744.3" x2="2390.20" y2="749.1999999999999" stroke="#000" stroke-width="1.1"/>
<line x1="2160.2999999999997" y1="669.30" x2="2165.2" y2="669.30" stroke="#000" stroke-width="1.1"/>
<text x="2390.20" y="765.90" font-size="14.0" text-anchor="middle">400</text>
<text x="2155.20" y="675.80" font-size="14.0" text-anchor="end">400</text>
<line x1="2465.20" y1="744.3" x2="2465.20" y2="749.1999999999999" stroke="#000" stroke-width="1.1"/>
<line x1="2160.2999999999997" y1="744.30" x2="2165.2" y2="744.30" stroke="#000" stroke-width="1.1"/>
<text x="2465.20" y="765.90" font-size="14.0" text-anchor="middle">800</text>
<text x="2155.20" y="750.80" font-size="14.0" text-anchor="end">800</text>
<text x="2315.20" y="784.70" font-size="14.0" text-anchor="middle">km</text>
<text transform="translate(2119.90,594.80) rotate(-90)" font-size="14.0" text-anchor="middle">km</text>
<g transform="translate(2565.2,444.3)" clip-path="url(#c300)"><use href="#s15" filter="url(#fIR)"/></g>
<rect x="2565.2" y="444.3" width="300.0" height="300.0" fill="none" stroke="#000" stroke-width="1.2"/>
<text x="2715.20" y="437.60" font-size="19.5" text-anchor="middle">20251021 at 15UTC</text>
<line x1="2565.20" y1="744.3" x2="2565.20" y2="749.1999999999999" stroke="#000" stroke-width="1.1"/>
<line x1="2560.2999999999997" y1="444.30" x2="2565.2" y2="444.30" stroke="#000" stroke-width="1.1"/>
<text x="2565.20" y="765.90" font-size="14.0" text-anchor="middle">276</text>
<text x="2555.20" y="450.80" font-size="14.0" text-anchor="end">276</text>
<line x1="2640.20" y1="744.3" x2="2640.20" y2="749.1999999999999" stroke="#000" stroke-width="1.1"/>
<line x1="2560.2999999999997" y1="519.30" x2="2565.2" y2="519.30" stroke="#000" stroke-width="1.1"/>
<text x="2640.20" y="765.90" font-size="14.0" text-anchor="middle">138</text>
<text x="2555.20" y="525.80" font-size="14.0" text-anchor="end">138</text>
<line x1="2715.20" y1="744.3" x2="2715.20" y2="749.1999999999999" stroke="#000" stroke-width="1.1"/>
<line x1="2560.2999999999997" y1="594.30" x2="2565.2" y2="594.30" stroke="#000" stroke-width="1.1"/>
<text x="2715.20" y="765.90" font-size="14.0" text-anchor="middle">0</text>
<text x="2555.20" y="600.80" font-size="14.0" text-anchor="end">0</text>
<line x1="2790.20" y1="744.3" x2="2790.20" y2="749.1999999999999" stroke="#000" stroke-width="1.1"/>
<line x1="2560.2999999999997" y1="669.30" x2="2565.2" y2="669.30" stroke="#000" stroke-width="1.1"/>
<text x="2790.20" y="765.90" font-size="14.0" text-anchor="middle">138</text>
<text x="2555.20" y="675.80" font-size="14.0" text-anchor="end">138</text>
<line x1="2865.20" y1="744.3" x2="2865.20" y2="749.1999999999999" stroke="#000" stroke-width="1.1"/>
<line x1="2560.2999999999997" y1="744.30" x2="2565.2" y2="744.30" stroke="#000" stroke-width="1.1"/>
<text x="2865.20" y="765.90" font-size="14.0" text-anchor="middle">276</text>
<text x="2555.20" y="750.80" font-size="14.0" text-anchor="end">276</text>
<text x="2715.20" y="784.70" font-size="14.0" text-anchor="middle">km</text>
<text transform="translate(2519.90,594.80) rotate(-90)" font-size="14.0" text-anchor="middle">km</text>
<g transform="translate(2940.2,444.3)" clip-path="url(#c300)"><g transform="scale(1.5 1.48) translate(-51.0,-48.8)"><use href="#sIR" filter="url(#fIR)"/></g></g>
<rect x="2940.2" y="444.3" width="300.0" height="300.0" fill="none" stroke="#000" stroke-width="1.2"/>
<text x="3090.20" y="437.60" font-size="19.5" text-anchor="middle">20251021 at 18UTC</text>
<line x1="2940.20" y1="744.3" x2="2940.20" y2="749.1999999999999" stroke="#000" stroke-width="1.1"/>
<line x1="2935.2999999999997" y1="444.30" x2="2940.2" y2="444.30" stroke="#000" stroke-width="1.1"/>
<text x="2940.20" y="765.90" font-size="14.0" text-anchor="middle">276</text>
<text x="2930.20" y="450.80" font-size="14.0" text-anchor="end">276</text>
<line x1="3015.20" y1="744.3" x2="3015.20" y2="749.1999999999999" stroke="#000" stroke-width="1.1"/>
<line x1="2935.2999999999997" y1="519.30" x2="2940.2" y2="519.30" stroke="#000" stroke-width="1.1"/>
<text x="3015.20" y="765.90" font-size="14.0" text-anchor="middle">138</text>
<text x="2930.20" y="525.80" font-size="14.0" text-anchor="end">138</text>
<line x1="3090.20" y1="744.3" x2="3090.20" y2="749.1999999999999" stroke="#000" stroke-width="1.1"/>
<line x1="2935.2999999999997" y1="594.30" x2="2940.2" y2="594.30" stroke="#000" stroke-width="1.1"/>
<text x="3090.20" y="765.90" font-size="14.0" text-anchor="middle">0</text>
<text x="2930.20" y="600.80" font-size="14.0" text-anchor="end">0</text>
<line x1="3165.20" y1="744.3" x2="3165.20" y2="749.1999999999999" stroke="#000" stroke-width="1.1"/>
<line x1="2935.2999999999997" y1="669.30" x2="2940.2" y2="669.30" stroke="#000" stroke-width="1.1"/>
<text x="3165.20" y="765.90" font-size="14.0" text-anchor="middle">138</text>
<text x="2930.20" y="675.80" font-size="14.0" text-anchor="end">138</text>
<line x1="3240.20" y1="744.3" x2="3240.20" y2="749.1999999999999" stroke="#000" stroke-width="1.1"/>
<line x1="2935.2999999999997" y1="744.30" x2="2940.2" y2="744.30" stroke="#000" stroke-width="1.1"/>
<text x="3240.20" y="765.90" font-size="14.0" text-anchor="middle">276</text>
<text x="2930.20" y="750.80" font-size="14.0" text-anchor="end">276</text>
<text x="3090.20" y="784.70" font-size="14.0" text-anchor="middle">km</text>
<text transform="translate(2894.90,594.80) rotate(-90)" font-size="14.0" text-anchor="middle">km</text>
<g transform="translate(3315.2,444.3)" clip-path="url(#c300)"><use href="#sND" filter="url(#fSEI)"/></g>
<rect x="3315.2" y="444.3" width="300.0" height="300.0" fill="none" stroke="#000" stroke-width="1.2"/>
<text x="3465.20" y="437.60" font-size="19.5" text-anchor="middle">Normalized Data</text>
<line x1="3315.20" y1="744.3" x2="3315.20" y2="749.1999999999999" stroke="#000" stroke-width="1.1"/>
<line x1="3310.2999999999997" y1="444.30" x2="3315.2" y2="444.30" stroke="#000" stroke-width="1.1"/>
<text x="3315.20" y="765.90" font-size="14.0" text-anchor="middle">276</text>
<text x="3305.20" y="450.80" font-size="14.0" text-anchor="end">276</text>
<line x1="3390.20" y1="744.3" x2="3390.20" y2="749.1999999999999" stroke="#000" stroke-width="1.1"/>
<line x1="3310.2999999999997" y1="519.30" x2="3315.2" y2="519.30" stroke="#000" stroke-width="1.1"/>
<text x="3390.20" y="765.90" font-size="14.0" text-anchor="middle">138</text>
<text x="3305.20" y="525.80" font-size="14.0" text-anchor="end">138</text>
<line x1="3465.20" y1="744.3" x2="3465.20" y2="749.1999999999999" stroke="#000" stroke-width="1.1"/>
<line x1="3310.2999999999997" y1="594.30" x2="3315.2" y2="594.30" stroke="#000" stroke-width="1.1"/>
<text x="3465.20" y="765.90" font-size="14.0" text-anchor="middle">0</text>
<text x="3305.20" y="600.80" font-size="14.0" text-anchor="end">0</text>
<line x1="3540.20" y1="744.3" x2="3540.20" y2="749.1999999999999" stroke="#000" stroke-width="1.1"/>
<line x1="3310.2999999999997" y1="669.30" x2="3315.2" y2="669.30" stroke="#000" stroke-width="1.1"/>
<text x="3540.20" y="765.90" font-size="14.0" text-anchor="middle">138</text>
<text x="3305.20" y="675.80" font-size="14.0" text-anchor="end">138</text>
<line x1="3615.20" y1="744.3" x2="3615.20" y2="749.1999999999999" stroke="#000" stroke-width="1.1"/>
<line x1="3310.2999999999997" y1="744.30" x2="3315.2" y2="744.30" stroke="#000" stroke-width="1.1"/>
<text x="3615.20" y="765.90" font-size="14.0" text-anchor="middle">276</text>
<text x="3305.20" y="750.80" font-size="14.0" text-anchor="end">276</text>
<text x="3465.20" y="784.70" font-size="14.0" text-anchor="middle">km</text>
<text transform="translate(3269.90,594.80) rotate(-90)" font-size="14.0" text-anchor="middle">km</text>
<g transform="translate(3690.2,444.3)" clip-path="url(#c300)"><use href="#sR1" filter="url(#fSH)"/></g>
<rect x="3690.2" y="444.3" width="300.0" height="300.0" fill="none" stroke="#000" stroke-width="1.2"/>
<text x="3840.20" y="437.60" font-size="19.5" text-anchor="middle">SHAP Value=-0.08328</text>
<line x1="3690.20" y1="744.3" x2="3690.20" y2="749.1999999999999" stroke="#000" stroke-width="1.1"/>
<line x1="3685.2999999999997" y1="444.30" x2="3690.2" y2="444.30" stroke="#000" stroke-width="1.1"/>
<text x="3690.20" y="765.90" font-size="14.0" text-anchor="middle">276</text>
<text x="3680.20" y="450.80" font-size="14.0" text-anchor="end">276</text>
<line x1="3765.20" y1="744.3" x2="3765.20" y2="749.1999999999999" stroke="#000" stroke-width="1.1"/>
<line x1="3685.2999999999997" y1="519.30" x2="3690.2" y2="519.30" stroke="#000" stroke-width="1.1"/>
<text x="3765.20" y="765.90" font-size="14.0" text-anchor="middle">138</text>
<text x="3680.20" y="525.80" font-size="14.0" text-anchor="end">138</text>
<line x1="3840.20" y1="744.3" x2="3840.20" y2="749.1999999999999" stroke="#000" stroke-width="1.1"/>
<line x1="3685.2999999999997" y1="594.30" x2="3690.2" y2="594.30" stroke="#000" stroke-width="1.1"/>
<text x="3840.20" y="765.90" font-size="14.0" text-anchor="middle">0</text>
<text x="3680.20" y="600.80" font-size="14.0" text-anchor="end">0</text>
<line x1="3915.20" y1="744.3" x2="3915.20" y2="749.1999999999999" stroke="#000" stroke-width="1.1"/>
<line x1="3685.2999999999997" y1="669.30" x2="3690.2" y2="669.30" stroke="#000" stroke-width="1.1"/>
<text x="3915.20" y="765.90" font-size="14.0" text-anchor="middle">138</text>
<text x="3680.20" y="675.80" font-size="14.0" text-anchor="end">138</text>
<line x1="3990.20" y1="744.3" x2="3990.20" y2="749.1999999999999" stroke="#000" stroke-width="1.1"/>
<line x1="3685.2999999999997" y1="744.30" x2="3690.2" y2="744.30" stroke="#000" stroke-width="1.1"/>
<text x="3990.20" y="765.90" font-size="14.0" text-anchor="middle">276</text>
<text x="3680.20" y="750.80" font-size="14.0" text-anchor="end">276</text>
<text x="3840.20" y="784.70" font-size="14.0" text-anchor="middle">km</text>
<text transform="translate(3644.90,594.80) rotate(-90)" font-size="14.0" text-anchor="middle">km</text>
<g transform="translate(1415.2,819.3)" clip-path="url(#c300)"><use href="#sIR" filter="url(#fIR)"/></g>
<rect x="1415.2" y="819.3" width="300.0" height="300.0" fill="none" stroke="#000" stroke-width="1.2"/>
<text x="1565.20" y="812.60" font-size="19.5" text-anchor="middle">IR Data</text>
<line x1="1415.20" y1="1119.3" x2="1415.20" y2="1124.2" stroke="#000" stroke-width="1.1"/>
<line x1="1410.3" y1="819.30" x2="1415.2" y2="819.30" stroke="#000" stroke-width="1.1"/>
<text x="1415.20" y="1140.90" font-size="14.0" text-anchor="middle">800</text>
<text x="1405.20" y="825.80" font-size="14.0" text-anchor="end">800</text>
<line x1="1490.20" y1="1119.3" x2="1490.20" y2="1124.2" stroke="#000" stroke-width="1.1"/>
<line x1="1410.3" y1="894.30" x2="1415.2" y2="894.30" stroke="#000" stroke-width="1.1"/>
<text x="1490.20" y="1140.90" font-size="14.0" text-anchor="middle">400</text>
<text x="1405.20" y="900.80" font-size="14.0" text-anchor="end">400</text>
<line x1="1565.20" y1="1119.3" x2="1565.20" y2="1124.2" stroke="#000" stroke-width="1.1"/>
<line x1="1410.3" y1="969.30" x2="1415.2" y2="969.30" stroke="#000" stroke-width="1.1"/>
<text x="1565.20" y="1140.90" font-size="14.0" text-anchor="middle">0</text>
<text x="1405.20" y="975.80" font-size="14.0" text-anchor="end">0</text>
<line x1="1640.20" y1="1119.3" x2="1640.20" y2="1124.2" stroke="#000" stroke-width="1.1"/>
<line x1="1410.3" y1="1044.30" x2="1415.2" y2="1044.30" stroke="#000" stroke-width="1.1"/>
<text x="1640.20" y="1140.90" font-size="14.0" text-anchor="middle">400</text>
<text x="1405.20" y="1050.80" font-size="14.0" text-anchor="end">400</text>
<line x1="1715.20" y1="1119.3" x2="1715.20" y2="1124.2" stroke="#000" stroke-width="1.1"/>
<line x1="1410.3" y1="1119.30" x2="1415.2" y2="1119.30" stroke="#000" stroke-width="1.1"/>
<text x="1715.20" y="1140.90" font-size="14.0" text-anchor="middle">800</text>
<text x="1405.20" y="1125.80" font-size="14.0" text-anchor="end">800</text>
<text x="1565.20" y="1159.70" font-size="14.0" text-anchor="middle">km</text>
<text transform="translate(1369.90,969.80) rotate(-90)" font-size="14.0" text-anchor="middle">km</text>
<g transform="translate(1790.2,819.3)" clip-path="url(#c300)"><use href="#sIR" filter="url(#fNIR)"/></g>
<rect x="1790.2" y="819.3" width="300.0" height="300.0" fill="none" stroke="#000" stroke-width="1.2"/>
<text x="1940.20" y="812.60" font-size="19.5" text-anchor="middle">Normalized IR Data</text>
<line x1="1790.20" y1="1119.3" x2="1790.20" y2="1124.2" stroke="#000" stroke-width="1.1"/>
<line x1="1785.3" y1="819.30" x2="1790.2" y2="819.30" stroke="#000" stroke-width="1.1"/>
<text x="1790.20" y="1140.90" font-size="14.0" text-anchor="middle">800</text>
<text x="1780.20" y="825.80" font-size="14.0" text-anchor="end">800</text>
<line x1="1865.20" y1="1119.3" x2="1865.20" y2="1124.2" stroke="#000" stroke-width="1.1"/>
<line x1="1785.3" y1="894.30" x2="1790.2" y2="894.30" stroke="#000" stroke-width="1.1"/>
<text x="1865.20" y="1140.90" font-size="14.0" text-anchor="middle">400</text>
<text x="1780.20" y="900.80" font-size="14.0" text-anchor="end">400</text>
<line x1="1940.20" y1="1119.3" x2="1940.20" y2="1124.2" stroke="#000" stroke-width="1.1"/>
<line x1="1785.3" y1="969.30" x2="1790.2" y2="969.30" stroke="#000" stroke-width="1.1"/>
<text x="1940.20" y="1140.90" font-size="14.0" text-anchor="middle">0</text>
<text x="1780.20" y="975.80" font-size="14.0" text-anchor="end">0</text>
<line x1="2015.20" y1="1119.3" x2="2015.20" y2="1124.2" stroke="#000" stroke-width="1.1"/>
<line x1="1785.3" y1="1044.30" x2="1790.2" y2="1044.30" stroke="#000" stroke-width="1.1"/>
<text x="2015.20" y="1140.90" font-size="14.0" text-anchor="middle">400</text>
<text x="1780.20" y="1050.80" font-size="14.0" text-anchor="end">400</text>
<line x1="2090.20" y1="1119.3" x2="2090.20" y2="1124.2" stroke="#000" stroke-width="1.1"/>
<line x1="1785.3" y1="1119.30" x2="1790.2" y2="1119.30" stroke="#000" stroke-width="1.1"/>
<text x="2090.20" y="1140.90" font-size="14.0" text-anchor="middle">800</text>
<text x="1780.20" y="1125.80" font-size="14.0" text-anchor="end">800</text>
<text x="1940.20" y="1159.70" font-size="14.0" text-anchor="middle">km</text>
<text transform="translate(1744.90,969.80) rotate(-90)" font-size="14.0" text-anchor="middle">km</text>
<g transform="translate(2165.2,819.3)" clip-path="url(#c300)"><use href="#sL2" filter="url(#fSH)"/></g>
<rect x="2165.2" y="819.3" width="300.0" height="300.0" fill="none" stroke="#000" stroke-width="1.2"/>
<text x="2315.20" y="812.60" font-size="19.5" text-anchor="middle">SHAP Value=-0.06474</text>
<line x1="2165.20" y1="1119.3" x2="2165.20" y2="1124.2" stroke="#000" stroke-width="1.1"/>
<line x1="2160.2999999999997" y1="819.30" x2="2165.2" y2="819.30" stroke="#000" stroke-width="1.1"/>
<text x="2165.20" y="1140.90" font-size="14.0" text-anchor="middle">800</text>
<text x="2155.20" y="825.80" font-size="14.0" text-anchor="end">800</text>
<line x1="2240.20" y1="1119.3" x2="2240.20" y2="1124.2" stroke="#000" stroke-width="1.1"/>
<line x1="2160.2999999999997" y1="894.30" x2="2165.2" y2="894.30" stroke="#000" stroke-width="1.1"/>
<text x="2240.20" y="1140.90" font-size="14.0" text-anchor="middle">400</text>
<text x="2155.20" y="900.80" font-size="14.0" text-anchor="end">400</text>
<line x1="2315.20" y1="1119.3" x2="2315.20" y2="1124.2" stroke="#000" stroke-width="1.1"/>
<line x1="2160.2999999999997" y1="969.30" x2="2165.2" y2="969.30" stroke="#000" stroke-width="1.1"/>
<text x="2315.20" y="1140.90" font-size="14.0" text-anchor="middle">0</text>
<text x="2155.20" y="975.80" font-size="14.0" text-anchor="end">0</text>
<line x1="2390.20" y1="1119.3" x2="2390.20" y2="1124.2" stroke="#000" stroke-width="1.1"/>
<line x1="2160.2999999999997" y1="1044.30" x2="2165.2" y2="1044.30" stroke="#000" stroke-width="1.1"/>
<text x="2390.20" y="1140.90" font-size="14.0" text-anchor="middle">400</text>
<text x="2155.20" y="1050.80" font-size="14.0" text-anchor="end">400</text>
<line x1="2465.20" y1="1119.3" x2="2465.20" y2="1124.2" stroke="#000" stroke-width="1.1"/>
<line x1="2160.2999999999997" y1="1119.30" x2="2165.2" y2="1119.30" stroke="#000" stroke-width="1.1"/>
<text x="2465.20" y="1140.90" font-size="14.0" text-anchor="middle">800</text>
<text x="2155.20" y="1125.80" font-size="14.0" text-anchor="end">800</text>
<text x="2315.20" y="1159.70" font-size="14.0" text-anchor="middle">km</text>
<text transform="translate(2119.90,969.80) rotate(-90)" font-size="14.0" text-anchor="middle">km</text>
<g transform="translate(2565.2,819.3)" clip-path="url(#c300)"><use href="#s15" filter="url(#fIR)"/></g>
<rect x="2565.2" y="819.3" width="300.0" height="300.0" fill="none" stroke="#000" stroke-width="1.2"/>
<text x="2715.20" y="812.60" font-size="19.5" text-anchor="middle">20251021 at 15UTC</text>
<line x1="2565.20" y1="1119.3" x2="2565.20" y2="1124.2" stroke="#000" stroke-width="1.1"/>
<line x1="2560.2999999999997" y1="819.30" x2="2565.2" y2="819.30" stroke="#000" stroke-width="1.1"/>
<text x="2565.20" y="1140.90" font-size="14.0" text-anchor="middle">276</text>
<text x="2555.20" y="825.80" font-size="14.0" text-anchor="end">276</text>
<line x1="2640.20" y1="1119.3" x2="2640.20" y2="1124.2" stroke="#000" stroke-width="1.1"/>
<line x1="2560.2999999999997" y1="894.30" x2="2565.2" y2="894.30" stroke="#000" stroke-width="1.1"/>
<text x="2640.20" y="1140.90" font-size="14.0" text-anchor="middle">138</text>
<text x="2555.20" y="900.80" font-size="14.0" text-anchor="end">138</text>
<line x1="2715.20" y1="1119.3" x2="2715.20" y2="1124.2" stroke="#000" stroke-width="1.1"/>
<line x1="2560.2999999999997" y1="969.30" x2="2565.2" y2="969.30" stroke="#000" stroke-width="1.1"/>
<text x="2715.20" y="1140.90" font-size="14.0" text-anchor="middle">0</text>
<text x="2555.20" y="975.80" font-size="14.0" text-anchor="end">0</text>
<line x1="2790.20" y1="1119.3" x2="2790.20" y2="1124.2" stroke="#000" stroke-width="1.1"/>
<line x1="2560.2999999999997" y1="1044.30" x2="2565.2" y2="1044.30" stroke="#000" stroke-width="1.1"/>
<text x="2790.20" y="1140.90" font-size="14.0" text-anchor="middle">138</text>
<text x="2555.20" y="1050.80" font-size="14.0" text-anchor="end">138</text>
<line x1="2865.20" y1="1119.3" x2="2865.20" y2="1124.2" stroke="#000" stroke-width="1.1"/>
<line x1="2560.2999999999997" y1="1119.30" x2="2565.2" y2="1119.30" stroke="#000" stroke-width="1.1"/>
<text x="2865.20" y="1140.90" font-size="14.0" text-anchor="middle">276</text>
<text x="2555.20" y="1125.80" font-size="14.0" text-anchor="end">276</text>
<text x="2715.20" y="1159.70" font-size="14.0" text-anchor="middle">km</text>
<text transform="translate(2519.90,969.80) rotate(-90)" font-size="14.0" text-anchor="middle">km</text>
<g transform="translate(2940.2,819.3)" clip-path="url(#c300)"><g transform="scale(1.5 1.48) translate(-51.0,-48.8)"><use href="#sIR" filter="url(#fIR)"/></g></g>
<rect x="2940.2" y="819.3" width="300.0" height="300.0" fill="none" stroke="#000" stroke-width="1.2"/>
<text x="3090.20" y="812.60" font-size="19.5" text-anchor="middle">20251021 at 18UTC</text>
<line x1="2940.20" y1="1119.3" x2="2940.20" y2="1124.2" stroke="#000" stroke-width="1.1"/>
<line x1="2935.2999999999997" y1="819.30" x2="2940.2" y2="819.30" stroke="#000" stroke-width="1.1"/>
<text x="2940.20" y="1140.90" font-size="14.0" text-anchor="middle">276</text>
<text x="2930.20" y="825.80" font-size="14.0" text-anchor="end">276</text>
<line x1="3015.20" y1="1119.3" x2="3015.20" y2="1124.2" stroke="#000" stroke-width="1.1"/>
<line x1="2935.2999999999997" y1="894.30" x2="2940.2" y2="894.30" stroke="#000" stroke-width="1.1"/>
<text x="3015.20" y="1140.90" font-size="14.0" text-anchor="middle">138</text>
<text x="2930.20" y="900.80" font-size="14.0" text-anchor="end">138</text>
<line x1="3090.20" y1="1119.3" x2="3090.20" y2="1124.2" stroke="#000" stroke-width="1.1"/>
<line x1="2935.2999999999997" y1="969.30" x2="2940.2" y2="969.30" stroke="#000" stroke-width="1.1"/>
<text x="3090.20" y="1140.90" font-size="14.0" text-anchor="middle">0</text>
<text x="2930.20" y="975.80" font-size="14.0" text-anchor="end">0</text>
<line x1="3165.20" y1="1119.3" x2="3165.20" y2="1124.2" stroke="#000" stroke-width="1.1"/>
<line x1="2935.2999999999997" y1="1044.30" x2="2940.2" y2="1044.30" stroke="#000" stroke-width="1.1"/>
<text x="3165.20" y="1140.90" font-size="14.0" text-anchor="middle">138</text>
<text x="2930.20" y="1050.80" font-size="14.0" text-anchor="end">138</text>
<line x1="3240.20" y1="1119.3" x2="3240.20" y2="1124.2" stroke="#000" stroke-width="1.1"/>
<line x1="2935.2999999999997" y1="1119.30" x2="2940.2" y2="1119.30" stroke="#000" stroke-width="1.1"/>
<text x="3240.20" y="1140.90" font-size="14.0" text-anchor="middle">276</text>
<text x="2930.20" y="1125.80" font-size="14.0" text-anchor="end">276</text>
<text x="3090.20" y="1159.70" font-size="14.0" text-anchor="middle">km</text>
<text transform="translate(2894.90,969.80) rotate(-90)" font-size="14.0" text-anchor="middle">km</text>
<g transform="translate(3315.2,819.3)" clip-path="url(#c300)"><use href="#sND" filter="url(#fSEI)"/></g>
<rect x="3315.2" y="819.3" width="300.0" height="300.0" fill="none" stroke="#000" stroke-width="1.2"/>
<text x="3465.20" y="812.60" font-size="19.5" text-anchor="middle">Normalized Data</text>
<line x1="3315.20" y1="1119.3" x2="3315.20" y2="1124.2" stroke="#000" stroke-width="1.1"/>
<line x1="3310.2999999999997" y1="819.30" x2="3315.2" y2="819.30" stroke="#000" stroke-width="1.1"/>
<text x="3315.20" y="1140.90" font-size="14.0" text-anchor="middle">276</text>
<text x="3305.20" y="825.80" font-size="14.0" text-anchor="end">276</text>
<line x1="3390.20" y1="1119.3" x2="3390.20" y2="1124.2" stroke="#000" stroke-width="1.1"/>
<line x1="3310.2999999999997" y1="894.30" x2="3315.2" y2="894.30" stroke="#000" stroke-width="1.1"/>
<text x="3390.20" y="1140.90" font-size="14.0" text-anchor="middle">138</text>
<text x="3305.20" y="900.80" font-size="14.0" text-anchor="end">138</text>
<line x1="3465.20" y1="1119.3" x2="3465.20" y2="1124.2" stroke="#000" stroke-width="1.1"/>
<line x1="3310.2999999999997" y1="969.30" x2="3315.2" y2="969.30" stroke="#000" stroke-width="1.1"/>
<text x="3465.20" y="1140.90" font-size="14.0" text-anchor="middle">0</text>
<text x="3305.20" y="975.80" font-size="14.0" text-anchor="end">0</text>
<line x1="3540.20" y1="1119.3" x2="3540.20" y2="1124.2" stroke="#000" stroke-width="1.1"/>
<line x1="3310.2999999999997" y1="1044.30" x2="3315.2" y2="1044.30" stroke="#000" stroke-width="1.1"/>
<text x="3540.20" y="1140.90" font-size="14.0" text-anchor="middle">138</text>
<text x="3305.20" y="1050.80" font-size="14.0" text-anchor="end">138</text>
<line x1="3615.20" y1="1119.3" x2="3615.20" y2="1124.2" stroke="#000" stroke-width="1.1"/>
<line x1="3310.2999999999997" y1="1119.30" x2="3315.2" y2="1119.30" stroke="#000" stroke-width="1.1"/>
<text x="3615.20" y="1140.90" font-size="14.0" text-anchor="middle">276</text>
<text x="3305.20" y="1125.80" font-size="14.0" text-anchor="end">276</text>
<text x="3465.20" y="1159.70" font-size="14.0" text-anchor="middle">km</text>
<text transform="translate(3269.90,969.80) rotate(-90)" font-size="14.0" text-anchor="middle">km</text>
<g transform="translate(3690.2,819.3)" clip-path="url(#c300)"><use href="#sR2" filter="url(#fSH)"/></g>
<rect x="3690.2" y="819.3" width="300.0" height="300.0" fill="none" stroke="#000" stroke-width="1.2"/>
<text x="3840.20" y="812.60" font-size="19.5" text-anchor="middle">SHAP Value=-0.05234</text>
<line x1="3690.20" y1="1119.3" x2="3690.20" y2="1124.2" stroke="#000" stroke-width="1.1"/>
<line x1="3685.2999999999997" y1="819.30" x2="3690.2" y2="819.30" stroke="#000" stroke-width="1.1"/>
<text x="3690.20" y="1140.90" font-size="14.0" text-anchor="middle">276</text>
<text x="3680.20" y="825.80" font-size="14.0" text-anchor="end">276</text>
<line x1="3765.20" y1="1119.3" x2="3765.20" y2="1124.2" stroke="#000" stroke-width="1.1"/>
<line x1="3685.2999999999997" y1="894.30" x2="3690.2" y2="894.30" stroke="#000" stroke-width="1.1"/>
<text x="3765.20" y="1140.90" font-size="14.0" text-anchor="middle">138</text>
<text x="3680.20" y="900.80" font-size="14.0" text-anchor="end">138</text>
<line x1="3840.20" y1="1119.3" x2="3840.20" y2="1124.2" stroke="#000" stroke-width="1.1"/>
<line x1="3685.2999999999997" y1="969.30" x2="3690.2" y2="969.30" stroke="#000" stroke-width="1.1"/>
<text x="3840.20" y="1140.90" font-size="14.0" text-anchor="middle">0</text>
<text x="3680.20" y="975.80" font-size="14.0" text-anchor="end">0</text>
<line x1="3915.20" y1="1119.3" x2="3915.20" y2="1124.2" stroke="#000" stroke-width="1.1"/>
<line x1="3685.2999999999997" y1="1044.30" x2="3690.2" y2="1044.30" stroke="#000" stroke-width="1.1"/>
<text x="3915.20" y="1140.90" font-size="14.0" text-anchor="middle">138</text>
<text x="3680.20" y="1050.80" font-size="14.0" text-anchor="end">138</text>
<line x1="3990.20" y1="1119.3" x2="3990.20" y2="1124.2" stroke="#000" stroke-width="1.1"/>
<line x1="3685.2999999999997" y1="1119.30" x2="3690.2" y2="1119.30" stroke="#000" stroke-width="1.1"/>
<text x="3990.20" y="1140.90" font-size="14.0" text-anchor="middle">276</text>
<text x="3680.20" y="1125.80" font-size="14.0" text-anchor="end">276</text>
<text x="3840.20" y="1159.70" font-size="14.0" text-anchor="middle">km</text>
<text transform="translate(3644.90,969.80) rotate(-90)" font-size="14.0" text-anchor="middle">km</text>
<g transform="translate(1415.2,1194.3)" clip-path="url(#c300)"><use href="#sIR" filter="url(#fIR)"/></g>
<rect x="1415.2" y="1194.3" width="300.0" height="300.0" fill="none" stroke="#000" stroke-width="1.2"/>
<text x="1565.20" y="1187.60" font-size="19.5" text-anchor="middle">IR Data</text>
<line x1="1415.20" y1="1494.3" x2="1415.20" y2="1499.2" stroke="#000" stroke-width="1.1"/>
<line x1="1410.3" y1="1194.30" x2="1415.2" y2="1194.30" stroke="#000" stroke-width="1.1"/>
<text x="1415.20" y="1515.90" font-size="14.0" text-anchor="middle">800</text>
<text x="1405.20" y="1200.80" font-size="14.0" text-anchor="end">800</text>
<line x1="1490.20" y1="1494.3" x2="1490.20" y2="1499.2" stroke="#000" stroke-width="1.1"/>
<line x1="1410.3" y1="1269.30" x2="1415.2" y2="1269.30" stroke="#000" stroke-width="1.1"/>
<text x="1490.20" y="1515.90" font-size="14.0" text-anchor="middle">400</text>
<text x="1405.20" y="1275.80" font-size="14.0" text-anchor="end">400</text>
<line x1="1565.20" y1="1494.3" x2="1565.20" y2="1499.2" stroke="#000" stroke-width="1.1"/>
<line x1="1410.3" y1="1344.30" x2="1415.2" y2="1344.30" stroke="#000" stroke-width="1.1"/>
<text x="1565.20" y="1515.90" font-size="14.0" text-anchor="middle">0</text>
<text x="1405.20" y="1350.80" font-size="14.0" text-anchor="end">0</text>
<line x1="1640.20" y1="1494.3" x2="1640.20" y2="1499.2" stroke="#000" stroke-width="1.1"/>
<line x1="1410.3" y1="1419.30" x2="1415.2" y2="1419.30" stroke="#000" stroke-width="1.1"/>
<text x="1640.20" y="1515.90" font-size="14.0" text-anchor="middle">400</text>
<text x="1405.20" y="1425.80" font-size="14.0" text-anchor="end">400</text>
<line x1="1715.20" y1="1494.3" x2="1715.20" y2="1499.2" stroke="#000" stroke-width="1.1"/>
<line x1="1410.3" y1="1494.30" x2="1415.2" y2="1494.30" stroke="#000" stroke-width="1.1"/>
<text x="1715.20" y="1515.90" font-size="14.0" text-anchor="middle">800</text>
<text x="1405.20" y="1500.80" font-size="14.0" text-anchor="end">800</text>
<text x="1565.20" y="1534.70" font-size="14.0" text-anchor="middle">km</text>
<text transform="translate(1369.90,1344.80) rotate(-90)" font-size="14.0" text-anchor="middle">km</text>
<g transform="translate(1790.2,1194.3)" clip-path="url(#c300)"><use href="#sIR" filter="url(#fNIR)"/></g>
<rect x="1790.2" y="1194.3" width="300.0" height="300.0" fill="none" stroke="#000" stroke-width="1.2"/>
<text x="1940.20" y="1187.60" font-size="19.5" text-anchor="middle">Normalized IR Data</text>
<line x1="1790.20" y1="1494.3" x2="1790.20" y2="1499.2" stroke="#000" stroke-width="1.1"/>
<line x1="1785.3" y1="1194.30" x2="1790.2" y2="1194.30" stroke="#000" stroke-width="1.1"/>
<text x="1790.20" y="1515.90" font-size="14.0" text-anchor="middle">800</text>
<text x="1780.20" y="1200.80" font-size="14.0" text-anchor="end">800</text>
<line x1="1865.20" y1="1494.3" x2="1865.20" y2="1499.2" stroke="#000" stroke-width="1.1"/>
<line x1="1785.3" y1="1269.30" x2="1790.2" y2="1269.30" stroke="#000" stroke-width="1.1"/>
<text x="1865.20" y="1515.90" font-size="14.0" text-anchor="middle">400</text>
<text x="1780.20" y="1275.80" font-size="14.0" text-anchor="end">400</text>
<line x1="1940.20" y1="1494.3" x2="1940.20" y2="1499.2" stroke="#000" stroke-width="1.1"/>
<line x1="1785.3" y1="1344.30" x2="1790.2" y2="1344.30" stroke="#000" stroke-width="1.1"/>
<text x="1940.20" y="1515.90" font-size="14.0" text-anchor="middle">0</text>
<text x="1780.20" y="1350.80" font-size="14.0" text-anchor="end">0</text>
<line x1="2015.20" y1="1494.3" x2="2015.20" y2="1499.2" stroke="#000" stroke-width="1.1"/>
<line x1="1785.3" y1="1419.30" x2="1790.2" y2="1419.30" stroke="#000" stroke-width="1.1"/>
<text x="2015.20" y="1515.90" font-size="14.0" text-anchor="middle">400</text>
<text x="1780.20" y="1425.80" font-size="14.0" text-anchor="end">400</text>
<line x1="2090.20" y1="1494.3" x2="2090.20" y2="1499.2" stroke="#000" stroke-width="1.1"/>
<line x1="1785.3" y1="1494.30" x2="1790.2" y2="1494.30" stroke="#000" stroke-width="1.1"/>
<text x="2090.20" y="1515.90" font-size="14.0" text-anchor="middle">800</text>
<text x="1780.20" y="1500.80" font-size="14.0" text-anchor="end">800</text>
<text x="1940.20" y="1534.70" font-size="14.0" text-anchor="middle">km</text>
<text transform="translate(1744.90,1344.80) rotate(-90)" font-size="14.0" text-anchor="middle">km</text>
<g transform="translate(2165.2,1194.3)" clip-path="url(#c300)"><use href="#sL3" filter="url(#fSH)"/></g>
<rect x="2165.2" y="1194.3" width="300.0" height="300.0" fill="none" stroke="#000" stroke-width="1.2"/>
<text x="2315.20" y="1187.60" font-size="19.5" text-anchor="middle">SHAP Value=-0.01094</text>
<line x1="2165.20" y1="1494.3" x2="2165.20" y2="1499.2" stroke="#000" stroke-width="1.1"/>
<line x1="2160.2999999999997" y1="1194.30" x2="2165.2" y2="1194.30" stroke="#000" stroke-width="1.1"/>
<text x="2165.20" y="1515.90" font-size="14.0" text-anchor="middle">800</text>
<text x="2155.20" y="1200.80" font-size="14.0" text-anchor="end">800</text>
<line x1="2240.20" y1="1494.3" x2="2240.20" y2="1499.2" stroke="#000" stroke-width="1.1"/>
<line x1="2160.2999999999997" y1="1269.30" x2="2165.2" y2="1269.30" stroke="#000" stroke-width="1.1"/>
<text x="2240.20" y="1515.90" font-size="14.0" text-anchor="middle">400</text>
<text x="2155.20" y="1275.80" font-size="14.0" text-anchor="end">400</text>
<line x1="2315.20" y1="1494.3" x2="2315.20" y2="1499.2" stroke="#000" stroke-width="1.1"/>
<line x1="2160.2999999999997" y1="1344.30" x2="2165.2" y2="1344.30" stroke="#000" stroke-width="1.1"/>
<text x="2315.20" y="1515.90" font-size="14.0" text-anchor="middle">0</text>
<text x="2155.20" y="1350.80" font-size="14.0" text-anchor="end">0</text>
<line x1="2390.20" y1="1494.3" x2="2390.20" y2="1499.2" stroke="#000" stroke-width="1.1"/>
<line x1="2160.2999999999997" y1="1419.30" x2="2165.2" y2="1419.30" stroke="#000" stroke-width="1.1"/>
<text x="2390.20" y="1515.90" font-size="14.0" text-anchor="middle">400</text>
<text x="2155.20" y="1425.80" font-size="14.0" text-anchor="end">400</text>
<line x1="2465.20" y1="1494.3" x2="2465.20" y2="1499.2" stroke="#000" stroke-width="1.1"/>
<line x1="2160.2999999999997" y1="1494.30" x2="2165.2" y2="1494.30" stroke="#000" stroke-width="1.1"/>
<text x="2465.20" y="1515.90" font-size="14.0" text-anchor="middle">800</text>
<text x="2155.20" y="1500.80" font-size="14.0" text-anchor="end">800</text>
<text x="2315.20" y="1534.70" font-size="14.0" text-anchor="middle">km</text>
<text transform="translate(2119.90,1344.80) rotate(-90)" font-size="14.0" text-anchor="middle">km</text>
<g transform="translate(2565.2,1194.3)" clip-path="url(#c300)"><use href="#s15" filter="url(#fIR)"/></g>
<rect x="2565.2" y="1194.3" width="300.0" height="300.0" fill="none" stroke="#000" stroke-width="1.2"/>
<text x="2715.20" y="1187.60" font-size="19.5" text-anchor="middle">20251021 at 15UTC</text>
<line x1="2565.20" y1="1494.3" x2="2565.20" y2="1499.2" stroke="#000" stroke-width="1.1"/>
<line x1="2560.2999999999997" y1="1194.30" x2="2565.2" y2="1194.30" stroke="#000" stroke-width="1.1"/>
<text x="2565.20" y="1515.90" font-size="14.0" text-anchor="middle">276</text>
<text x="2555.20" y="1200.80" font-size="14.0" text-anchor="end">276</text>
<line x1="2640.20" y1="1494.3" x2="2640.20" y2="1499.2" stroke="#000" stroke-width="1.1"/>
<line x1="2560.2999999999997" y1="1269.30" x2="2565.2" y2="1269.30" stroke="#000" stroke-width="1.1"/>
<text x="2640.20" y="1515.90" font-size="14.0" text-anchor="middle">138</text>
<text x="2555.20" y="1275.80" font-size="14.0" text-anchor="end">138</text>
<line x1="2715.20" y1="1494.3" x2="2715.20" y2="1499.2" stroke="#000" stroke-width="1.1"/>
<line x1="2560.2999999999997" y1="1344.30" x2="2565.2" y2="1344.30" stroke="#000" stroke-width="1.1"/>
<text x="2715.20" y="1515.90" font-size="14.0" text-anchor="middle">0</text>
<text x="2555.20" y="1350.80" font-size="14.0" text-anchor="end">0</text>
<line x1="2790.20" y1="1494.3" x2="2790.20" y2="1499.2" stroke="#000" stroke-width="1.1"/>
<line x1="2560.2999999999997" y1="1419.30" x2="2565.2" y2="1419.30" stroke="#000" stroke-width="1.1"/>
<text x="2790.20" y="1515.90" font-size="14.0" text-anchor="middle">138</text>
<text x="2555.20" y="1425.80" font-size="14.0" text-anchor="end">138</text>
<line x1="2865.20" y1="1494.3" x2="2865.20" y2="1499.2" stroke="#000" stroke-width="1.1"/>
<line x1="2560.2999999999997" y1="1494.30" x2="2565.2" y2="1494.30" stroke="#000" stroke-width="1.1"/>
<text x="2865.20" y="1515.90" font-size="14.0" text-anchor="middle">276</text>
<text x="2555.20" y="1500.80" font-size="14.0" text-anchor="end">276</text>
<text x="2715.20" y="1534.70" font-size="14.0" text-anchor="middle">km</text>
<text transform="translate(2519.90,1344.80) rotate(-90)" font-size="14.0" text-anchor="middle">km</text>
<g transform="translate(2940.2,1194.3)" clip-path="url(#c300)"><g transform="scale(1.5 1.48) translate(-51.0,-48.8)"><use href="#sIR" filter="url(#fIR)"/></g></g>
<rect x="2940.2" y="1194.3" width="300.0" height="300.0" fill="none" stroke="#000" stroke-width="1.2"/>
<text x="3090.20" y="1187.60" font-size="19.5" text-anchor="middle">20251021 at 18UTC</text>
<line x1="2940.20" y1="1494.3" x2="2940.20" y2="1499.2" stroke="#000" stroke-width="1.1"/>
<line x1="2935.2999999999997" y1="1194.30" x2="2940.2" y2="1194.30" stroke="#000" stroke-width="1.1"/>
<text x="2940.20" y="1515.90" font-size="14.0" text-anchor="middle">276</text>
<text x="2930.20" y="1200.80" font-size="14.0" text-anchor="end">276</text>
<line x1="3015.20" y1="1494.3" x2="3015.20" y2="1499.2" stroke="#000" stroke-width="1.1"/>
<line x1="2935.2999999999997" y1="1269.30" x2="2940.2" y2="1269.30" stroke="#000" stroke-width="1.1"/>
<text x="3015.20" y="1515.90" font-size="14.0" text-anchor="middle">138</text>
<text x="2930.20" y="1275.80" font-size="14.0" text-anchor="end">138</text>
<line x1="3090.20" y1="1494.3" x2="3090.20" y2="1499.2" stroke="#000" stroke-width="1.1"/>
<line x1="2935.2999999999997" y1="1344.30" x2="2940.2" y2="1344.30" stroke="#000" stroke-width="1.1"/>
<text x="3090.20" y="1515.90" font-size="14.0" text-anchor="middle">0</text>
<text x="2930.20" y="1350.80" font-size="14.0" text-anchor="end">0</text>
<line x1="3165.20" y1="1494.3" x2="3165.20" y2="1499.2" stroke="#000" stroke-width="1.1"/>
<line x1="2935.2999999999997" y1="1419.30" x2="2940.2" y2="1419.30" stroke="#000" stroke-width="1.1"/>
<text x="3165.20" y="1515.90" font-size="14.0" text-anchor="middle">138</text>
<text x="2930.20" y="1425.80" font-size="14.0" text-anchor="end">138</text>
<line x1="3240.20" y1="1494.3" x2="3240.20" y2="1499.2" stroke="#000" stroke-width="1.1"/>
<line x1="2935.2999999999997" y1="1494.30" x2="2940.2" y2="1494.30" stroke="#000" stroke-width="1.1"/>
<text x="3240.20" y="1515.90" font-size="14.0" text-anchor="middle">276</text>
<text x="2930.20" y="1500.80" font-size="14.0" text-anchor="end">276</text>
<text x="3090.20" y="1534.70" font-size="14.0" text-anchor="middle">km</text>
<text transform="translate(2894.90,1344.80) rotate(-90)" font-size="14.0" text-anchor="middle">km</text>
<g transform="translate(3315.2,1194.3)" clip-path="url(#c300)"><use href="#sND" filter="url(#fSEI)"/></g>
<rect x="3315.2" y="1194.3" width="300.0" height="300.0" fill="none" stroke="#000" stroke-width="1.2"/>
<text x="3465.20" y="1187.60" font-size="19.5" text-anchor="middle">Normalized Data</text>
<line x1="3315.20" y1="1494.3" x2="3315.20" y2="1499.2" stroke="#000" stroke-width="1.1"/>
<line x1="3310.2999999999997" y1="1194.30" x2="3315.2" y2="1194.30" stroke="#000" stroke-width="1.1"/>
<text x="3315.20" y="1515.90" font-size="14.0" text-anchor="middle">276</text>
<text x="3305.20" y="1200.80" font-size="14.0" text-anchor="end">276</text>
<line x1="3390.20" y1="1494.3" x2="3390.20" y2="1499.2" stroke="#000" stroke-width="1.1"/>
<line x1="3310.2999999999997" y1="1269.30" x2="3315.2" y2="1269.30" stroke="#000" stroke-width="1.1"/>
<text x="3390.20" y="1515.90" font-size="14.0" text-anchor="middle">138</text>
<text x="3305.20" y="1275.80" font-size="14.0" text-anchor="end">138</text>
<line x1="3465.20" y1="1494.3" x2="3465.20" y2="1499.2" stroke="#000" stroke-width="1.1"/>
<line x1="3310.2999999999997" y1="1344.30" x2="3315.2" y2="1344.30" stroke="#000" stroke-width="1.1"/>
<text x="3465.20" y="1515.90" font-size="14.0" text-anchor="middle">0</text>
<text x="3305.20" y="1350.80" font-size="14.0" text-anchor="end">0</text>
<line x1="3540.20" y1="1494.3" x2="3540.20" y2="1499.2" stroke="#000" stroke-width="1.1"/>
<line x1="3310.2999999999997" y1="1419.30" x2="3315.2" y2="1419.30" stroke="#000" stroke-width="1.1"/>
<text x="3540.20" y="1515.90" font-size="14.0" text-anchor="middle">138</text>
<text x="3305.20" y="1425.80" font-size="14.0" text-anchor="end">138</text>
<line x1="3615.20" y1="1494.3" x2="3615.20" y2="1499.2" stroke="#000" stroke-width="1.1"/>
<line x1="3310.2999999999997" y1="1494.30" x2="3315.2" y2="1494.30" stroke="#000" stroke-width="1.1"/>
<text x="3615.20" y="1515.90" font-size="14.0" text-anchor="middle">276</text>
<text x="3305.20" y="1500.80" font-size="14.0" text-anchor="end">276</text>
<text x="3465.20" y="1534.70" font-size="14.0" text-anchor="middle">km</text>
<text transform="translate(3269.90,1344.80) rotate(-90)" font-size="14.0" text-anchor="middle">km</text>
<g transform="translate(3690.2,1194.3)" clip-path="url(#c300)"><use href="#sR3" filter="url(#fSH)"/></g>
<rect x="3690.2" y="1194.3" width="300.0" height="300.0" fill="none" stroke="#000" stroke-width="1.2"/>
<text x="3840.20" y="1187.60" font-size="19.5" text-anchor="middle">SHAP Value=-0.07435</text>
<line x1="3690.20" y1="1494.3" x2="3690.20" y2="1499.2" stroke="#000" stroke-width="1.1"/>
<line x1="3685.2999999999997" y1="1194.30" x2="3690.2" y2="1194.30" stroke="#000" stroke-width="1.1"/>
<text x="3690.20" y="1515.90" font-size="14.0" text-anchor="middle">276</text>
<text x="3680.20" y="1200.80" font-size="14.0" text-anchor="end">276</text>
<line x1="3765.20" y1="1494.3" x2="3765.20" y2="1499.2" stroke="#000" stroke-width="1.1"/>
<line x1="3685.2999999999997" y1="1269.30" x2="3690.2" y2="1269.30" stroke="#000" stroke-width="1.1"/>
<text x="3765.20" y="1515.90" font-size="14.0" text-anchor="middle">138</text>
<text x="3680.20" y="1275.80" font-size="14.0" text-anchor="end">138</text>
<line x1="3840.20" y1="1494.3" x2="3840.20" y2="1499.2" stroke="#000" stroke-width="1.1"/>
<line x1="3685.2999999999997" y1="1344.30" x2="3690.2" y2="1344.30" stroke="#000" stroke-width="1.1"/>
<text x="3840.20" y="1515.90" font-size="14.0" text-anchor="middle">0</text>
<text x="3680.20" y="1350.80" font-size="14.0" text-anchor="end">0</text>
<line x1="3915.20" y1="1494.3" x2="3915.20" y2="1499.2" stroke="#000" stroke-width="1.1"/>
<line x1="3685.2999999999997" y1="1419.30" x2="3690.2" y2="1419.30" stroke="#000" stroke-width="1.1"/>
<text x="3915.20" y="1515.90" font-size="14.0" text-anchor="middle">138</text>
<text x="3680.20" y="1425.80" font-size="14.0" text-anchor="end">138</text>
<line x1="3990.20" y1="1494.3" x2="3990.20" y2="1499.2" stroke="#000" stroke-width="1.1"/>
<line x1="3685.2999999999997" y1="1494.30" x2="3690.2" y2="1494.30" stroke="#000" stroke-width="1.1"/>
<text x="3990.20" y="1515.90" font-size="14.0" text-anchor="middle">276</text>
<text x="3680.20" y="1500.80" font-size="14.0" text-anchor="end">276</text>
<text x="3840.20" y="1534.70" font-size="14.0" text-anchor="middle">km</text>
<text transform="translate(3644.90,1344.80) rotate(-90)" font-size="14.0" text-anchor="middle">km</text>
<g transform="translate(1415.2,1569.3)" clip-path="url(#c300)"><use href="#sIR" filter="url(#fIR)"/></g>
<rect x="1415.2" y="1569.3" width="300.0" height="300.0" fill="none" stroke="#000" stroke-width="1.2"/>
<text x="1565.20" y="1562.60" font-size="19.5" text-anchor="middle">IR Data</text>
<line x1="1415.20" y1="1869.3" x2="1415.20" y2="1874.2" stroke="#000" stroke-width="1.1"/>
<line x1="1410.3" y1="1569.30" x2="1415.2" y2="1569.30" stroke="#000" stroke-width="1.1"/>
<text x="1415.20" y="1890.90" font-size="14.0" text-anchor="middle">800</text>
<text x="1405.20" y="1575.80" font-size="14.0" text-anchor="end">800</text>
<line x1="1490.20" y1="1869.3" x2="1490.20" y2="1874.2" stroke="#000" stroke-width="1.1"/>
<line x1="1410.3" y1="1644.30" x2="1415.2" y2="1644.30" stroke="#000" stroke-width="1.1"/>
<text x="1490.20" y="1890.90" font-size="14.0" text-anchor="middle">400</text>
<text x="1405.20" y="1650.80" font-size="14.0" text-anchor="end">400</text>
<line x1="1565.20" y1="1869.3" x2="1565.20" y2="1874.2" stroke="#000" stroke-width="1.1"/>
<line x1="1410.3" y1="1719.30" x2="1415.2" y2="1719.30" stroke="#000" stroke-width="1.1"/>
<text x="1565.20" y="1890.90" font-size="14.0" text-anchor="middle">0</text>
<text x="1405.20" y="1725.80" font-size="14.0" text-anchor="end">0</text>
<line x1="1640.20" y1="1869.3" x2="1640.20" y2="1874.2" stroke="#000" stroke-width="1.1"/>
<line x1="1410.3" y1="1794.30" x2="1415.2" y2="1794.30" stroke="#000" stroke-width="1.1"/>
<text x="1640.20" y="1890.90" font-size="14.0" text-anchor="middle">400</text>
<text x="1405.20" y="1800.80" font-size="14.0" text-anchor="end">400</text>
<line x1="1715.20" y1="1869.3" x2="1715.20" y2="1874.2" stroke="#000" stroke-width="1.1"/>
<line x1="1410.3" y1="1869.30" x2="1415.2" y2="1869.30" stroke="#000" stroke-width="1.1"/>
<text x="1715.20" y="1890.90" font-size="14.0" text-anchor="middle">800</text>
<text x="1405.20" y="1875.80" font-size="14.0" text-anchor="end">800</text>
<text x="1565.20" y="1909.70" font-size="14.0" text-anchor="middle">km</text>
<text transform="translate(1369.90,1719.80) rotate(-90)" font-size="14.0" text-anchor="middle">km</text>
<g transform="translate(1790.2,1569.3)" clip-path="url(#c300)"><use href="#sIR" filter="url(#fNIR)"/></g>
<rect x="1790.2" y="1569.3" width="300.0" height="300.0" fill="none" stroke="#000" stroke-width="1.2"/>
<text x="1940.20" y="1562.60" font-size="19.5" text-anchor="middle">Normalized IR Data</text>
<line x1="1790.20" y1="1869.3" x2="1790.20" y2="1874.2" stroke="#000" stroke-width="1.1"/>
<line x1="1785.3" y1="1569.30" x2="1790.2" y2="1569.30" stroke="#000" stroke-width="1.1"/>
<text x="1790.20" y="1890.90" font-size="14.0" text-anchor="middle">800</text>
<text x="1780.20" y="1575.80" font-size="14.0" text-anchor="end">800</text>
<line x1="1865.20" y1="1869.3" x2="1865.20" y2="1874.2" stroke="#000" stroke-width="1.1"/>
<line x1="1785.3" y1="1644.30" x2="1790.2" y2="1644.30" stroke="#000" stroke-width="1.1"/>
<text x="1865.20" y="1890.90" font-size="14.0" text-anchor="middle">400</text>
<text x="1780.20" y="1650.80" font-size="14.0" text-anchor="end">400</text>
<line x1="1940.20" y1="1869.3" x2="1940.20" y2="1874.2" stroke="#000" stroke-width="1.1"/>
<line x1="1785.3" y1="1719.30" x2="1790.2" y2="1719.30" stroke="#000" stroke-width="1.1"/>
<text x="1940.20" y="1890.90" font-size="14.0" text-anchor="middle">0</text>
<text x="1780.20" y="1725.80" font-size="14.0" text-anchor="end">0</text>
<line x1="2015.20" y1="1869.3" x2="2015.20" y2="1874.2" stroke="#000" stroke-width="1.1"/>
<line x1="1785.3" y1="1794.30" x2="1790.2" y2="1794.30" stroke="#000" stroke-width="1.1"/>
<text x="2015.20" y="1890.90" font-size="14.0" text-anchor="middle">400</text>
<text x="1780.20" y="1800.80" font-size="14.0" text-anchor="end">400</text>
<line x1="2090.20" y1="1869.3" x2="2090.20" y2="1874.2" stroke="#000" stroke-width="1.1"/>
<line x1="1785.3" y1="1869.30" x2="1790.2" y2="1869.30" stroke="#000" stroke-width="1.1"/>
<text x="2090.20" y="1890.90" font-size="14.0" text-anchor="middle">800</text>
<text x="1780.20" y="1875.80" font-size="14.0" text-anchor="end">800</text>
<text x="1940.20" y="1909.70" font-size="14.0" text-anchor="middle">km</text>
<text transform="translate(1744.90,1719.80) rotate(-90)" font-size="14.0" text-anchor="middle">km</text>
<g transform="translate(2165.2,1569.3)" clip-path="url(#c300)"><use href="#sL4" filter="url(#fSH)"/></g>
<rect x="2165.2" y="1569.3" width="300.0" height="300.0" fill="none" stroke="#000" stroke-width="1.2"/>
<text x="2315.20" y="1562.60" font-size="19.5" text-anchor="middle">SHAP Value=-0.03424</text>
<line x1="2165.20" y1="1869.3" x2="2165.20" y2="1874.2" stroke="#000" stroke-width="1.1"/>
<line x1="2160.2999999999997" y1="1569.30" x2="2165.2" y2="1569.30" stroke="#000" stroke-width="1.1"/>
<text x="2165.20" y="1890.90" font-size="14.0" text-anchor="middle">800</text>
<text x="2155.20" y="1575.80" font-size="14.0" text-anchor="end">800</text>
<line x1="2240.20" y1="1869.3" x2="2240.20" y2="1874.2" stroke="#000" stroke-width="1.1"/>
<line x1="2160.2999999999997" y1="1644.30" x2="2165.2" y2="1644.30" stroke="#000" stroke-width="1.1"/>
<text x="2240.20" y="1890.90" font-size="14.0" text-anchor="middle">400</text>
<text x="2155.20" y="1650.80" font-size="14.0" text-anchor="end">400</text>
<line x1="2315.20" y1="1869.3" x2="2315.20" y2="1874.2" stroke="#000" stroke-width="1.1"/>
<line x1="2160.2999999999997" y1="1719.30" x2="2165.2" y2="1719.30" stroke="#000" stroke-width="1.1"/>
<text x="2315.20" y="1890.90" font-size="14.0" text-anchor="middle">0</text>
<text x="2155.20" y="1725.80" font-size="14.0" text-anchor="end">0</text>
<line x1="2390.20" y1="1869.3" x2="2390.20" y2="1874.2" stroke="#000" stroke-width="1.1"/>
<line x1="2160.2999999999997" y1="1794.30" x2="2165.2" y2="1794.30" stroke="#000" stroke-width="1.1"/>
<text x="2390.20" y="1890.90" font-size="14.0" text-anchor="middle">400</text>
<text x="2155.20" y="1800.80" font-size="14.0" text-anchor="end">400</text>
<line x1="2465.20" y1="1869.3" x2="2465.20" y2="1874.2" stroke="#000" stroke-width="1.1"/>
<line x1="2160.2999999999997" y1="1869.30" x2="2165.2" y2="1869.30" stroke="#000" stroke-width="1.1"/>
<text x="2465.20" y="1890.90" font-size="14.0" text-anchor="middle">800</text>
<text x="2155.20" y="1875.80" font-size="14.0" text-anchor="end">800</text>
<text x="2315.20" y="1909.70" font-size="14.0" text-anchor="middle">km</text>
<text transform="translate(2119.90,1719.80) rotate(-90)" font-size="14.0" text-anchor="middle">km</text>
<g transform="translate(2565.2,1569.3)" clip-path="url(#c300)"><use href="#s15" filter="url(#fIR)"/></g>
<rect x="2565.2" y="1569.3" width="300.0" height="300.0" fill="none" stroke="#000" stroke-width="1.2"/>
<text x="2715.20" y="1562.60" font-size="19.5" text-anchor="middle">20251021 at 15UTC</text>
<line x1="2565.20" y1="1869.3" x2="2565.20" y2="1874.2" stroke="#000" stroke-width="1.1"/>
<line x1="2560.2999999999997" y1="1569.30" x2="2565.2" y2="1569.30" stroke="#000" stroke-width="1.1"/>
<text x="2565.20" y="1890.90" font-size="14.0" text-anchor="middle">276</text>
<text x="2555.20" y="1575.80" font-size="14.0" text-anchor="end">276</text>
<line x1="2640.20" y1="1869.3" x2="2640.20" y2="1874.2" stroke="#000" stroke-width="1.1"/>
<line x1="2560.2999999999997" y1="1644.30" x2="2565.2" y2="1644.30" stroke="#000" stroke-width="1.1"/>
<text x="2640.20" y="1890.90" font-size="14.0" text-anchor="middle">138</text>
<text x="2555.20" y="1650.80" font-size="14.0" text-anchor="end">138</text>
<line x1="2715.20" y1="1869.3" x2="2715.20" y2="1874.2" stroke="#000" stroke-width="1.1"/>
<line x1="2560.2999999999997" y1="1719.30" x2="2565.2" y2="1719.30" stroke="#000" stroke-width="1.1"/>
<text x="2715.20" y="1890.90" font-size="14.0" text-anchor="middle">0</text>
<text x="2555.20" y="1725.80" font-size="14.0" text-anchor="end">0</text>
<line x1="2790.20" y1="1869.3" x2="2790.20" y2="1874.2" stroke="#000" stroke-width="1.1"/>
<line x1="2560.2999999999997" y1="1794.30" x2="2565.2" y2="1794.30" stroke="#000" stroke-width="1.1"/>
<text x="2790.20" y="1890.90" font-size="14.0" text-anchor="middle">138</text>
<text x="2555.20" y="1800.80" font-size="14.0" text-anchor="end">138</text>
<line x1="2865.20" y1="1869.3" x2="2865.20" y2="1874.2" stroke="#000" stroke-width="1.1"/>
<line x1="2560.2999999999997" y1="1869.30" x2="2565.2" y2="1869.30" stroke="#000" stroke-width="1.1"/>
<text x="2865.20" y="1890.90" font-size="14.0" text-anchor="middle">276</text>
<text x="2555.20" y="1875.80" font-size="14.0" text-anchor="end">276</text>
<text x="2715.20" y="1909.70" font-size="14.0" text-anchor="middle">km</text>
<text transform="translate(2519.90,1719.80) rotate(-90)" font-size="14.0" text-anchor="middle">km</text>
<g transform="translate(2940.2,1569.3)" clip-path="url(#c300)"><g transform="scale(1.5 1.48) translate(-51.0,-48.8)"><use href="#sIR" filter="url(#fIR)"/></g></g>
<rect x="2940.2" y="1569.3" width="300.0" height="300.0" fill="none" stroke="#000" stroke-width="1.2"/>
<text x="3090.20" y="1562.60" font-size="19.5" text-anchor="middle">20251021 at 18UTC</text>
<line x1="2940.20" y1="1869.3" x2="2940.20" y2="1874.2" stroke="#000" stroke-width="1.1"/>
<line x1="2935.2999999999997" y1="1569.30" x2="2940.2" y2="1569.30" stroke="#000" stroke-width="1.1"/>
<text x="2940.20" y="1890.90" font-size="14.0" text-anchor="middle">276</text>
<text x="2930.20" y="1575.80" font-size="14.0" text-anchor="end">276</text>
<line x1="3015.20" y1="1869.3" x2="3015.20" y2="1874.2" stroke="#000" stroke-width="1.1"/>
<line x1="2935.2999999999997" y1="1644.30" x2="2940.2" y2="1644.30" stroke="#000" stroke-width="1.1"/>
<text x="3015.20" y="1890.90" font-size="14.0" text-anchor="middle">138</text>
<text x="2930.20" y="1650.80" font-size="14.0" text-anchor="end">138</text>
<line x1="3090.20" y1="1869.3" x2="3090.20" y2="1874.2" stroke="#000" stroke-width="1.1"/>
<line x1="2935.2999999999997" y1="1719.30" x2="2940.2" y2="1719.30" stroke="#000" stroke-width="1.1"/>
<text x="3090.20" y="1890.90" font-size="14.0" text-anchor="middle">0</text>
<text x="2930.20" y="1725.80" font-size="14.0" text-anchor="end">0</text>
<line x1="3165.20" y1="1869.3" x2="3165.20" y2="1874.2" stroke="#000" stroke-width="1.1"/>
<line x1="2935.2999999999997" y1="1794.30" x2="2940.2" y2="1794.30" stroke="#000" stroke-width="1.1"/>
<text x="3165.20" y="1890.90" font-size="14.0" text-anchor="middle">138</text>
<text x="2930.20" y="1800.80" font-size="14.0" text-anchor="end">138</text>
<line x1="3240.20" y1="1869.3" x2="3240.20" y2="1874.2" stroke="#000" stroke-width="1.1"/>
<line x1="2935.2999999999997" y1="1869.30" x2="2940.2" y2="1869.30" stroke="#000" stroke-width="1.1"/>
<text x="3240.20" y="1890.90" font-size="14.0" text-anchor="middle">276</text>
<text x="2930.20" y="1875.80" font-size="14.0" text-anchor="end">276</text>
<text x="3090.20" y="1909.70" font-size="14.0" text-anchor="middle">km</text>
<text transform="translate(2894.90,1719.80) rotate(-90)" font-size="14.0" text-anchor="middle">km</text>
<g transform="translate(3315.2,1569.3)" clip-path="url(#c300)"><use href="#sND" filter="url(#fSEI)"/></g>
<rect x="3315.2" y="1569.3" width="300.0" height="300.0" fill="none" stroke="#000" stroke-width="1.2"/>
<text x="3465.20" y="1562.60" font-size="19.5" text-anchor="middle">Normalized Data</text>
<line x1="3315.20" y1="1869.3" x2="3315.20" y2="1874.2" stroke="#000" stroke-width="1.1"/>
<line x1="3310.2999999999997" y1="1569.30" x2="3315.2" y2="1569.30" stroke="#000" stroke-width="1.1"/>
<text x="3315.20" y="1890.90" font-size="14.0" text-anchor="middle">276</text>
<text x="3305.20" y="1575.80" font-size="14.0" text-anchor="end">276</text>
<line x1="3390.20" y1="1869.3" x2="3390.20" y2="1874.2" stroke="#000" stroke-width="1.1"/>
<line x1="3310.2999999999997" y1="1644.30" x2="3315.2" y2="1644.30" stroke="#000" stroke-width="1.1"/>
<text x="3390.20" y="1890.90" font-size="14.0" text-anchor="middle">138</text>
<text x="3305.20" y="1650.80" font-size="14.0" text-anchor="end">138</text>
<line x1="3465.20" y1="1869.3" x2="3465.20" y2="1874.2" stroke="#000" stroke-width="1.1"/>
<line x1="3310.2999999999997" y1="1719.30" x2="3315.2" y2="1719.30" stroke="#000" stroke-width="1.1"/>
<text x="3465.20" y="1890.90" font-size="14.0" text-anchor="middle">0</text>
<text x="3305.20" y="1725.80" font-size="14.0" text-anchor="end">0</text>
<line x1="3540.20" y1="1869.3" x2="3540.20" y2="1874.2" stroke="#000" stroke-width="1.1"/>
<line x1="3310.2999999999997" y1="1794.30" x2="3315.2" y2="1794.30" stroke="#000" stroke-width="1.1"/>
<text x="3540.20" y="1890.90" font-size="14.0" text-anchor="middle">138</text>
<text x="3305.20" y="1800.80" font-size="14.0" text-anchor="end">138</text>
<line x1="3615.20" y1="1869.3" x2="3615.20" y2="1874.2" stroke="#000" stroke-width="1.1"/>
<line x1="3310.2999999999997" y1="1869.30" x2="3315.2" y2="1869.30" stroke="#000" stroke-width="1.1"/>
<text x="3615.20" y="1890.90" font-size="14.0" text-anchor="middle">276</text>
<text x="3305.20" y="1875.80" font-size="14.0" text-anchor="end">276</text>
<text x="3465.20" y="1909.70" font-size="14.0" text-anchor="middle">km</text>
<text transform="translate(3269.90,1719.80) rotate(-90)" font-size="14.0" text-anchor="middle">km</text>
<g transform="translate(3690.2,1569.3)" clip-path="url(#c300)"><use href="#sR4" filter="url(#fSH)"/></g>
<rect x="3690.2" y="1569.3" width="300.0" height="300.0" fill="none" stroke="#000" stroke-width="1.2"/>
<text x="3840.20" y="1562.60" font-size="19.5" text-anchor="middle">SHAP Value=-0.05993</text>
<line x1="3690.20" y1="1869.3" x2="3690.20" y2="1874.2" stroke="#000" stroke-width="1.1"/>
<line x1="3685.2999999999997" y1="1569.30" x2="3690.2" y2="1569.30" stroke="#000" stroke-width="1.1"/>
<text x="3690.20" y="1890.90" font-size="14.0" text-anchor="middle">276</text>
<text x="3680.20" y="1575.80" font-size="14.0" text-anchor="end">276</text>
<line x1="3765.20" y1="1869.3" x2="3765.20" y2="1874.2" stroke="#000" stroke-width="1.1"/>
<line x1="3685.2999999999997" y1="1644.30" x2="3690.2" y2="1644.30" stroke="#000" stroke-width="1.1"/>
<text x="3765.20" y="1890.90" font-size="14.0" text-anchor="middle">138</text>
<text x="3680.20" y="1650.80" font-size="14.0" text-anchor="end">138</text>
<line x1="3840.20" y1="1869.3" x2="3840.20" y2="1874.2" stroke="#000" stroke-width="1.1"/>
<line x1="3685.2999999999997" y1="1719.30" x2="3690.2" y2="1719.30" stroke="#000" stroke-width="1.1"/>
<text x="3840.20" y="1890.90" font-size="14.0" text-anchor="middle">0</text>
<text x="3680.20" y="1725.80" font-size="14.0" text-anchor="end">0</text>
<line x1="3915.20" y1="1869.3" x2="3915.20" y2="1874.2" stroke="#000" stroke-width="1.1"/>
<line x1="3685.2999999999997" y1="1794.30" x2="3690.2" y2="1794.30" stroke="#000" stroke-width="1.1"/>
<text x="3915.20" y="1890.90" font-size="14.0" text-anchor="middle">138</text>
<text x="3680.20" y="1800.80" font-size="14.0" text-anchor="end">138</text>
<line x1="3990.20" y1="1869.3" x2="3990.20" y2="1874.2" stroke="#000" stroke-width="1.1"/>
<line x1="3685.2999999999997" y1="1869.30" x2="3690.2" y2="1869.30" stroke="#000" stroke-width="1.1"/>
<text x="3990.20" y="1890.90" font-size="14.0" text-anchor="middle">276</text>
<text x="3680.20" y="1875.80" font-size="14.0" text-anchor="end">276</text>
<text x="3840.20" y="1909.70" font-size="14.0" text-anchor="middle">km</text>
<text transform="translate(3644.90,1719.80) rotate(-90)" font-size="14.0" text-anchor="middle">km</text>
<rect x="1415.2" y="1944.4" width="300.00" height="25.00" fill="url(#irg)" stroke="#000" stroke-width="1.2"/>
<text x="1565.20" y="1936.70" font-size="16.75" text-anchor="middle">Brightness Temperature [K]</text>
<line x1="1415.20" y1="1969.4" x2="1415.20" y2="1974.4" stroke="#000" stroke-width="1.1"/>
<text x="1415.20" y="1990.70" font-size="14.0" text-anchor="middle">180</text>
<line x1="1461.35" y1="1969.4" x2="1461.35" y2="1974.4" stroke="#000" stroke-width="1.1"/>
<text x="1461.35" y="1990.70" font-size="14.0" text-anchor="middle">200</text>
<line x1="1507.51" y1="1969.4" x2="1507.51" y2="1974.4" stroke="#000" stroke-width="1.1"/>
<text x="1507.51" y="1990.70" font-size="14.0" text-anchor="middle">220</text>
<line x1="1553.66" y1="1969.4" x2="1553.66" y2="1974.4" stroke="#000" stroke-width="1.1"/>
<text x="1553.66" y="1990.70" font-size="14.0" text-anchor="middle">240</text>
<line x1="1599.82" y1="1969.4" x2="1599.82" y2="1974.4" stroke="#000" stroke-width="1.1"/>
<text x="1599.82" y="1990.70" font-size="14.0" text-anchor="middle">260</text>
<line x1="1645.97" y1="1969.4" x2="1645.97" y2="1974.4" stroke="#000" stroke-width="1.1"/>
<text x="1645.97" y="1990.70" font-size="14.0" text-anchor="middle">280</text>
<line x1="1692.12" y1="1969.4" x2="1692.12" y2="1974.4" stroke="#000" stroke-width="1.1"/>
<text x="1692.12" y="1990.70" font-size="14.0" text-anchor="middle">300</text>
<rect x="1790.2" y="1944.4" width="300.00" height="25.00" fill="url(#seis)" stroke="#000" stroke-width="1.2"/>
<text x="1940.20" y="1936.70" font-size="16.75" text-anchor="middle">Normalized Brightness Temperature [K]</text>
<line x1="1804.86" y1="1969.4" x2="1804.86" y2="1974.4" stroke="#000" stroke-width="1.1"/>
<text x="1804.86" y="1990.70" font-size="14.0" text-anchor="middle">−3</text>
<line x1="1849.97" y1="1969.4" x2="1849.97" y2="1974.4" stroke="#000" stroke-width="1.1"/>
<text x="1849.97" y="1990.70" font-size="14.0" text-anchor="middle">−2</text>
<line x1="1895.09" y1="1969.4" x2="1895.09" y2="1974.4" stroke="#000" stroke-width="1.1"/>
<text x="1895.09" y="1990.70" font-size="14.0" text-anchor="middle">−1</text>
<line x1="1940.20" y1="1969.4" x2="1940.20" y2="1974.4" stroke="#000" stroke-width="1.1"/>
<text x="1940.20" y="1990.70" font-size="14.0" text-anchor="middle">0</text>
<line x1="1985.31" y1="1969.4" x2="1985.31" y2="1974.4" stroke="#000" stroke-width="1.1"/>
<text x="1985.31" y="1990.70" font-size="14.0" text-anchor="middle">1</text>
<line x1="2030.43" y1="1969.4" x2="2030.43" y2="1974.4" stroke="#000" stroke-width="1.1"/>
<text x="2030.43" y="1990.70" font-size="14.0" text-anchor="middle">2</text>
<line x1="2075.54" y1="1969.4" x2="2075.54" y2="1974.4" stroke="#000" stroke-width="1.1"/>
<text x="2075.54" y="1990.70" font-size="14.0" text-anchor="middle">3</text>
<rect x="2165.2" y="1944.4" width="300.00" height="25.00" fill="url(#seis)" stroke="#000" stroke-width="1.2"/>
<text x="2315.20" y="1936.70" font-size="16.75" text-anchor="middle">SHAP Values</text>
<line x1="2165.20" y1="1969.4" x2="2165.20" y2="1974.4" stroke="#000" stroke-width="1.1"/>
<text x="2165.20" y="1990.70" font-size="14.0" text-anchor="middle">−2</text>
<line x1="2240.20" y1="1969.4" x2="2240.20" y2="1974.4" stroke="#000" stroke-width="1.1"/>
<text x="2240.20" y="1990.70" font-size="14.0" text-anchor="middle">−1</text>
<line x1="2315.20" y1="1969.4" x2="2315.20" y2="1974.4" stroke="#000" stroke-width="1.1"/>
<text x="2315.20" y="1990.70" font-size="14.0" text-anchor="middle">0</text>
<line x1="2390.20" y1="1969.4" x2="2390.20" y2="1974.4" stroke="#000" stroke-width="1.1"/>
<text x="2390.20" y="1990.70" font-size="14.0" text-anchor="middle">1</text>
<line x1="2465.20" y1="1969.4" x2="2465.20" y2="1974.4" stroke="#000" stroke-width="1.1"/>
<text x="2465.20" y="1990.70" font-size="14.0" text-anchor="middle">2</text>
<text x="2465.20" y="2011.00" font-size="14.0" text-anchor="end">1e−5</text>
<rect x="2565.2" y="1944.4" width="675.00" height="25.00" fill="url(#irg)" stroke="#000" stroke-width="1.2"/>
<text x="2902.70" y="1936.70" font-size="16.75" text-anchor="middle">Brightness Temperature [K]</text>
<line x1="2565.20" y1="1969.4" x2="2565.20" y2="1974.4" stroke="#000" stroke-width="1.1"/>
<text x="2565.20" y="1990.70" font-size="14.0" text-anchor="middle">180</text>
<line x1="2669.05" y1="1969.4" x2="2669.05" y2="1974.4" stroke="#000" stroke-width="1.1"/>
<text x="2669.05" y="1990.70" font-size="14.0" text-anchor="middle">200</text>
<line x1="2772.89" y1="1969.4" x2="2772.89" y2="1974.4" stroke="#000" stroke-width="1.1"/>
<text x="2772.89" y="1990.70" font-size="14.0" text-anchor="middle">220</text>
<line x1="2876.74" y1="1969.4" x2="2876.74" y2="1974.4" stroke="#000" stroke-width="1.1"/>
<text x="2876.74" y="1990.70" font-size="14.0" text-anchor="middle">240</text>
<line x1="2980.58" y1="1969.4" x2="2980.58" y2="1974.4" stroke="#000" stroke-width="1.1"/>
<text x="2980.58" y="1990.70" font-size="14.0" text-anchor="middle">260</text>
<line x1="3084.43" y1="1969.4" x2="3084.43" y2="1974.4" stroke="#000" stroke-width="1.1"/>
<text x="3084.43" y="1990.70" font-size="14.0" text-anchor="middle">280</text>
<line x1="3188.28" y1="1969.4" x2="3188.28" y2="1974.4" stroke="#000" stroke-width="1.1"/>
<text x="3188.28" y="1990.70" font-size="14.0" text-anchor="middle">300</text>
<rect x="3315.2" y="1944.4" width="300.00" height="25.00" fill="url(#seis)" stroke="#000" stroke-width="1.2"/>
<text x="3465.20" y="1936.70" font-size="16.75" text-anchor="middle">Normalized Brightness Temperature [K]</text>
<line x1="3350.70" y1="1969.4" x2="3350.70" y2="1974.4" stroke="#000" stroke-width="1.1"/>
<text x="3350.70" y="1990.70" font-size="14.0" text-anchor="middle">−4</text>
<line x1="3407.95" y1="1969.4" x2="3407.95" y2="1974.4" stroke="#000" stroke-width="1.1"/>
<text x="3407.95" y="1990.70" font-size="14.0" text-anchor="middle">−2</text>
<line x1="3465.20" y1="1969.4" x2="3465.20" y2="1974.4" stroke="#000" stroke-width="1.1"/>
<text x="3465.20" y="1990.70" font-size="14.0" text-anchor="middle">0</text>
<line x1="3522.45" y1="1969.4" x2="3522.45" y2="1974.4" stroke="#000" stroke-width="1.1"/>
<text x="3522.45" y="1990.70" font-size="14.0" text-anchor="middle">2</text>
<line x1="3579.70" y1="1969.4" x2="3579.70" y2="1974.4" stroke="#000" stroke-width="1.1"/>
<text x="3579.70" y="1990.70" font-size="14.0" text-anchor="middle">4</text>
<rect x="3690.2" y="1944.4" width="300.00" height="25.00" fill="url(#seis)" stroke="#000" stroke-width="1.2"/>
<text x="3840.20" y="1936.70" font-size="16.75" text-anchor="middle">SHAP Values</text>
<line x1="3737.21" y1="1969.4" x2="3737.21" y2="1974.4" stroke="#000" stroke-width="1.1"/>
<text x="3737.21" y="1990.70" font-size="14.0" text-anchor="middle">−0.0002</text>
<line x1="3788.71" y1="1969.4" x2="3788.71" y2="1974.4" stroke="#000" stroke-width="1.1"/>
<text x="3788.71" y="1990.70" font-size="14.0" text-anchor="middle">−0.0001</text>
<line x1="3840.20" y1="1969.4" x2="3840.20" y2="1974.4" stroke="#000" stroke-width="1.1"/>
<text x="3840.20" y="1990.70" font-size="14.0" text-anchor="middle">0.0000</text>
<line x1="3891.69" y1="1969.4" x2="3891.69" y2="1974.4" stroke="#000" stroke-width="1.1"/>
<text x="3891.69" y="1990.70" font-size="14.0" text-anchor="middle">0.0001</text>
<line x1="3943.19" y1="1969.4" x2="3943.19" y2="1974.4" stroke="#000" stroke-width="1.1"/>
<text x="3943.19" y="1990.70" font-size="14.0" text-anchor="middle">0.0002</text>
</svg></body></html>
